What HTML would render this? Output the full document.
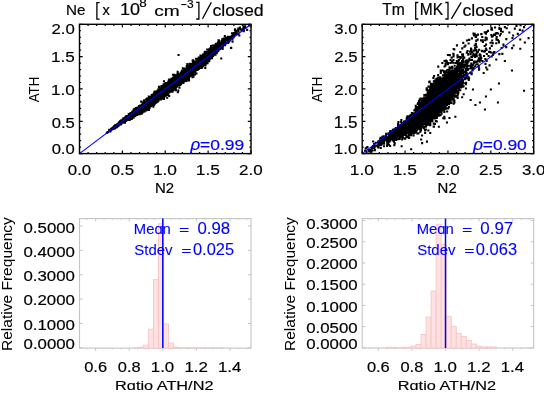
<!DOCTYPE html><html><head><meta charset="utf-8"><style>html,body{margin:0;padding:0;background:#fff;overflow:hidden}svg{display:block;will-change:transform}</style></head><body><svg width="544" height="394" viewBox="0 0 544 394" font-family='"Liberation Sans", sans-serif'>
<rect width="544" height="394" fill="#fff"/>
<path d="M106.5 131.2h2.1v2.1h-2.1zM106.9 130.9h2.1v2.1h-2.1zM108.1 129.5h2.1v2.1h-2.1zM108.2 130.2h2.1v2.1h-2.1zM108.4 129.9h2.1v2.1h-2.1zM108.2 128.8h2.1v2.1h-2.1zM108.6 130.0h2.1v2.1h-2.1zM108.5 129.4h2.1v2.1h-2.1zM108.8 129.7h2.1v2.1h-2.1zM109.0 129.6h2.1v2.1h-2.1zM109.2 129.0h2.1v2.1h-2.1zM109.3 130.5h2.1v2.1h-2.1zM109.3 129.8h2.1v2.1h-2.1zM109.7 129.4h2.1v2.1h-2.1zM110.1 128.0h2.1v2.1h-2.1zM110.1 128.4h2.1v2.1h-2.1zM110.0 128.7h2.1v2.1h-2.1zM110.5 128.1h2.1v2.1h-2.1zM110.7 128.3h2.1v2.1h-2.1zM110.7 128.2h2.1v2.1h-2.1zM110.9 128.0h2.1v2.1h-2.1zM110.8 127.4h2.1v2.1h-2.1zM110.7 128.3h2.1v2.1h-2.1zM111.0 128.1h2.1v2.1h-2.1zM111.4 126.9h2.1v2.1h-2.1zM111.2 128.2h2.1v2.1h-2.1zM111.6 127.0h2.1v2.1h-2.1zM111.9 127.3h2.1v2.1h-2.1zM111.8 128.0h2.1v2.1h-2.1zM111.8 127.9h2.1v2.1h-2.1zM112.1 126.5h2.1v2.1h-2.1zM112.4 127.2h2.1v2.1h-2.1zM112.5 127.6h2.1v2.1h-2.1zM112.5 126.3h2.1v2.1h-2.1zM112.5 127.6h2.1v2.1h-2.1zM112.5 127.1h2.1v2.1h-2.1zM112.8 127.7h2.1v2.1h-2.1zM112.8 126.6h2.1v2.1h-2.1zM112.9 127.4h2.1v2.1h-2.1zM112.8 126.8h2.1v2.1h-2.1zM112.9 126.1h2.1v2.1h-2.1zM112.7 126.6h2.1v2.1h-2.1zM113.0 125.8h2.1v2.1h-2.1zM113.0 126.9h2.1v2.1h-2.1zM113.0 127.7h2.1v2.1h-2.1zM113.2 125.3h2.1v2.1h-2.1zM113.4 126.2h2.1v2.1h-2.1zM113.2 125.6h2.1v2.1h-2.1zM113.2 125.5h2.1v2.1h-2.1zM113.3 127.5h2.1v2.1h-2.1zM113.5 126.6h2.1v2.1h-2.1zM113.5 125.8h2.1v2.1h-2.1zM113.5 125.1h2.1v2.1h-2.1zM113.5 127.0h2.1v2.1h-2.1zM113.5 127.0h2.1v2.1h-2.1zM114.0 127.1h2.1v2.1h-2.1zM114.1 124.9h2.1v2.1h-2.1zM114.0 124.5h2.1v2.1h-2.1zM114.2 126.5h2.1v2.1h-2.1zM114.2 124.9h2.1v2.1h-2.1zM114.4 124.8h2.1v2.1h-2.1zM114.4 124.2h2.1v2.1h-2.1zM114.2 126.1h2.1v2.1h-2.1zM114.3 125.6h2.1v2.1h-2.1zM114.4 126.0h2.1v2.1h-2.1zM114.5 125.5h2.1v2.1h-2.1zM114.6 125.4h2.1v2.1h-2.1zM114.5 124.3h2.1v2.1h-2.1zM114.6 125.1h2.1v2.1h-2.1zM114.7 126.0h2.1v2.1h-2.1zM114.9 126.2h2.1v2.1h-2.1zM115.0 126.3h2.1v2.1h-2.1zM115.0 125.2h2.1v2.1h-2.1zM115.1 124.1h2.1v2.1h-2.1zM115.4 124.9h2.1v2.1h-2.1zM115.5 125.3h2.1v2.1h-2.1zM115.8 126.1h2.1v2.1h-2.1zM115.9 125.8h2.1v2.1h-2.1zM115.8 124.2h2.1v2.1h-2.1zM115.9 125.2h2.1v2.1h-2.1zM116.1 123.4h2.1v2.1h-2.1zM116.1 124.1h2.1v2.1h-2.1zM116.4 125.0h2.1v2.1h-2.1zM116.4 125.0h2.1v2.1h-2.1zM116.4 124.7h2.1v2.1h-2.1zM116.4 124.2h2.1v2.1h-2.1zM116.5 124.1h2.1v2.1h-2.1zM116.6 123.7h2.1v2.1h-2.1zM116.5 123.1h2.1v2.1h-2.1zM116.7 123.9h2.1v2.1h-2.1zM116.6 124.8h2.1v2.1h-2.1zM116.9 125.2h2.1v2.1h-2.1zM116.9 123.5h2.1v2.1h-2.1zM116.9 123.2h2.1v2.1h-2.1zM116.7 124.1h2.1v2.1h-2.1zM116.7 123.9h2.1v2.1h-2.1zM117.0 122.6h2.1v2.1h-2.1zM117.1 122.6h2.1v2.1h-2.1zM117.0 124.9h2.1v2.1h-2.1zM117.4 123.6h2.1v2.1h-2.1zM117.5 124.7h2.1v2.1h-2.1zM117.5 124.3h2.1v2.1h-2.1zM117.6 122.4h2.1v2.1h-2.1zM117.8 123.0h2.1v2.1h-2.1zM117.8 123.3h2.1v2.1h-2.1zM117.8 123.0h2.1v2.1h-2.1zM118.0 121.6h2.1v2.1h-2.1zM118.2 123.6h2.1v2.1h-2.1zM118.2 123.5h2.1v2.1h-2.1zM118.3 122.0h2.1v2.1h-2.1zM118.3 121.6h2.1v2.1h-2.1zM118.2 122.7h2.1v2.1h-2.1zM118.6 123.5h2.1v2.1h-2.1zM118.5 120.9h2.1v2.1h-2.1zM118.7 121.7h2.1v2.1h-2.1zM118.6 122.7h2.1v2.1h-2.1zM118.5 122.9h2.1v2.1h-2.1zM118.7 122.1h2.1v2.1h-2.1zM118.5 123.6h2.1v2.1h-2.1zM118.6 122.7h2.1v2.1h-2.1zM118.8 122.5h2.1v2.1h-2.1zM118.9 120.6h2.1v2.1h-2.1zM118.7 122.0h2.1v2.1h-2.1zM118.9 123.3h2.1v2.1h-2.1zM118.7 121.2h2.1v2.1h-2.1zM118.9 123.3h2.1v2.1h-2.1zM118.8 122.7h2.1v2.1h-2.1zM119.1 121.3h2.1v2.1h-2.1zM119.1 121.9h2.1v2.1h-2.1zM119.3 121.0h2.1v2.1h-2.1zM119.4 122.8h2.1v2.1h-2.1zM119.4 121.4h2.1v2.1h-2.1zM119.5 120.1h2.1v2.1h-2.1zM119.6 122.5h2.1v2.1h-2.1zM119.6 120.6h2.1v2.1h-2.1zM119.6 120.0h2.1v2.1h-2.1zM119.5 121.8h2.1v2.1h-2.1zM119.7 122.9h2.1v2.1h-2.1zM119.5 120.3h2.1v2.1h-2.1zM119.8 120.4h2.1v2.1h-2.1zM119.8 119.8h2.1v2.1h-2.1zM119.8 123.5h2.1v2.1h-2.1zM119.9 121.2h2.1v2.1h-2.1zM119.8 121.9h2.1v2.1h-2.1zM120.2 122.2h2.1v2.1h-2.1zM120.0 120.5h2.1v2.1h-2.1zM120.1 120.0h2.1v2.1h-2.1zM120.0 121.1h2.1v2.1h-2.1zM120.1 122.9h2.1v2.1h-2.1zM120.4 122.1h2.1v2.1h-2.1zM120.2 120.9h2.1v2.1h-2.1zM120.4 120.3h2.1v2.1h-2.1zM120.4 119.2h2.1v2.1h-2.1zM120.6 121.0h2.1v2.1h-2.1zM120.5 120.5h2.1v2.1h-2.1zM120.7 120.2h2.1v2.1h-2.1zM120.5 121.0h2.1v2.1h-2.1zM120.5 120.0h2.1v2.1h-2.1zM120.9 119.8h2.1v2.1h-2.1zM120.8 120.6h2.1v2.1h-2.1zM121.0 120.4h2.1v2.1h-2.1zM121.1 119.7h2.1v2.1h-2.1zM121.1 120.4h2.1v2.1h-2.1zM121.0 120.2h2.1v2.1h-2.1zM121.0 120.9h2.1v2.1h-2.1zM121.0 119.5h2.1v2.1h-2.1zM121.2 120.4h2.1v2.1h-2.1zM121.7 120.8h2.1v2.1h-2.1zM121.7 121.5h2.1v2.1h-2.1zM121.6 121.4h2.1v2.1h-2.1zM121.5 120.7h2.1v2.1h-2.1zM121.6 118.6h2.1v2.1h-2.1zM121.6 121.3h2.1v2.1h-2.1zM121.8 118.8h2.1v2.1h-2.1zM121.9 119.3h2.1v2.1h-2.1zM121.9 120.6h2.1v2.1h-2.1zM121.8 120.6h2.1v2.1h-2.1zM121.8 120.3h2.1v2.1h-2.1zM121.7 121.3h2.1v2.1h-2.1zM122.0 120.4h2.1v2.1h-2.1zM122.1 119.6h2.1v2.1h-2.1zM122.4 118.8h2.1v2.1h-2.1zM122.3 117.3h2.1v2.1h-2.1zM122.2 119.5h2.1v2.1h-2.1zM122.4 120.7h2.1v2.1h-2.1zM122.6 120.9h2.1v2.1h-2.1zM122.5 120.0h2.1v2.1h-2.1zM122.6 119.9h2.1v2.1h-2.1zM122.7 120.4h2.1v2.1h-2.1zM122.9 119.8h2.1v2.1h-2.1zM122.9 118.7h2.1v2.1h-2.1zM122.8 117.7h2.1v2.1h-2.1zM122.7 120.7h2.1v2.1h-2.1zM122.9 119.9h2.1v2.1h-2.1zM122.9 120.0h2.1v2.1h-2.1zM122.8 119.0h2.1v2.1h-2.1zM122.9 120.6h2.1v2.1h-2.1zM123.1 118.5h2.1v2.1h-2.1zM123.0 120.1h2.1v2.1h-2.1zM123.4 120.4h2.1v2.1h-2.1zM123.3 121.7h2.1v2.1h-2.1zM123.4 121.3h2.1v2.1h-2.1zM123.2 119.2h2.1v2.1h-2.1zM123.7 119.6h2.1v2.1h-2.1zM123.6 118.0h2.1v2.1h-2.1zM123.6 118.8h2.1v2.1h-2.1zM123.7 119.1h2.1v2.1h-2.1zM123.9 117.5h2.1v2.1h-2.1zM123.8 118.3h2.1v2.1h-2.1zM123.9 121.7h2.1v2.1h-2.1zM123.8 119.9h2.1v2.1h-2.1zM123.7 118.7h2.1v2.1h-2.1zM123.8 119.6h2.1v2.1h-2.1zM124.2 119.0h2.1v2.1h-2.1zM124.2 119.3h2.1v2.1h-2.1zM124.0 118.2h2.1v2.1h-2.1zM124.0 116.6h2.1v2.1h-2.1zM124.0 119.1h2.1v2.1h-2.1zM124.2 117.6h2.1v2.1h-2.1zM124.2 118.1h2.1v2.1h-2.1zM124.2 116.7h2.1v2.1h-2.1zM124.4 118.7h2.1v2.1h-2.1zM124.3 118.3h2.1v2.1h-2.1zM124.4 118.0h2.1v2.1h-2.1zM124.2 118.4h2.1v2.1h-2.1zM124.4 117.7h2.1v2.1h-2.1zM124.2 117.7h2.1v2.1h-2.1zM124.5 118.2h2.1v2.1h-2.1zM124.5 118.0h2.1v2.1h-2.1zM124.5 118.4h2.1v2.1h-2.1zM124.6 117.7h2.1v2.1h-2.1zM124.9 118.1h2.1v2.1h-2.1zM124.7 117.5h2.1v2.1h-2.1zM124.9 119.8h2.1v2.1h-2.1zM124.8 115.7h2.1v2.1h-2.1zM124.7 117.3h2.1v2.1h-2.1zM124.9 117.3h2.1v2.1h-2.1zM124.9 118.8h2.1v2.1h-2.1zM125.2 116.3h2.1v2.1h-2.1zM125.1 118.4h2.1v2.1h-2.1zM125.1 117.0h2.1v2.1h-2.1zM125.2 115.4h2.1v2.1h-2.1zM125.2 118.6h2.1v2.1h-2.1zM125.0 117.8h2.1v2.1h-2.1zM125.1 118.3h2.1v2.1h-2.1zM125.2 117.9h2.1v2.1h-2.1zM125.2 118.6h2.1v2.1h-2.1zM125.4 117.5h2.1v2.1h-2.1zM125.3 116.8h2.1v2.1h-2.1zM125.3 117.8h2.1v2.1h-2.1zM125.4 116.9h2.1v2.1h-2.1zM125.2 118.4h2.1v2.1h-2.1zM125.2 116.9h2.1v2.1h-2.1zM125.4 117.6h2.1v2.1h-2.1zM125.7 116.9h2.1v2.1h-2.1zM125.5 115.0h2.1v2.1h-2.1zM125.5 115.8h2.1v2.1h-2.1zM125.5 117.1h2.1v2.1h-2.1zM125.7 117.6h2.1v2.1h-2.1zM125.7 119.2h2.1v2.1h-2.1zM125.8 117.6h2.1v2.1h-2.1zM125.7 118.9h2.1v2.1h-2.1zM125.8 116.8h2.1v2.1h-2.1zM125.8 118.5h2.1v2.1h-2.1zM126.2 117.0h2.1v2.1h-2.1zM126.2 117.5h2.1v2.1h-2.1zM126.2 117.5h2.1v2.1h-2.1zM126.4 118.0h2.1v2.1h-2.1zM126.2 115.7h2.1v2.1h-2.1zM126.5 117.0h2.1v2.1h-2.1zM126.6 116.6h2.1v2.1h-2.1zM126.7 115.3h2.1v2.1h-2.1zM126.7 116.7h2.1v2.1h-2.1zM126.6 117.9h2.1v2.1h-2.1zM126.6 115.6h2.1v2.1h-2.1zM126.9 114.9h2.1v2.1h-2.1zM126.8 118.0h2.1v2.1h-2.1zM126.8 116.6h2.1v2.1h-2.1zM126.8 118.4h2.1v2.1h-2.1zM126.7 117.0h2.1v2.1h-2.1zM126.8 115.8h2.1v2.1h-2.1zM127.2 116.5h2.1v2.1h-2.1zM127.1 117.8h2.1v2.1h-2.1zM127.0 116.0h2.1v2.1h-2.1zM127.1 115.6h2.1v2.1h-2.1zM127.4 116.8h2.1v2.1h-2.1zM127.2 117.3h2.1v2.1h-2.1zM127.4 115.4h2.1v2.1h-2.1zM127.2 116.8h2.1v2.1h-2.1zM127.3 116.3h2.1v2.1h-2.1zM127.4 115.5h2.1v2.1h-2.1zM127.3 115.7h2.1v2.1h-2.1zM127.5 117.1h2.1v2.1h-2.1zM127.7 116.0h2.1v2.1h-2.1zM127.5 116.8h2.1v2.1h-2.1zM127.6 116.9h2.1v2.1h-2.1zM127.5 116.1h2.1v2.1h-2.1zM127.6 117.5h2.1v2.1h-2.1zM127.7 113.1h2.1v2.1h-2.1zM127.5 117.0h2.1v2.1h-2.1zM127.7 114.7h2.1v2.1h-2.1zM127.8 115.5h2.1v2.1h-2.1zM127.7 116.6h2.1v2.1h-2.1zM127.7 114.9h2.1v2.1h-2.1zM127.9 116.4h2.1v2.1h-2.1zM127.9 116.4h2.1v2.1h-2.1zM127.7 115.5h2.1v2.1h-2.1zM127.7 118.7h2.1v2.1h-2.1zM127.8 116.5h2.1v2.1h-2.1zM127.7 118.3h2.1v2.1h-2.1zM127.7 117.3h2.1v2.1h-2.1zM127.8 115.1h2.1v2.1h-2.1zM128.0 114.5h2.1v2.1h-2.1zM128.2 117.8h2.1v2.1h-2.1zM128.0 114.5h2.1v2.1h-2.1zM128.0 116.7h2.1v2.1h-2.1zM128.0 114.0h2.1v2.1h-2.1zM128.0 116.2h2.1v2.1h-2.1zM128.1 115.4h2.1v2.1h-2.1zM128.1 115.7h2.1v2.1h-2.1zM128.4 115.7h2.1v2.1h-2.1zM128.4 118.8h2.1v2.1h-2.1zM128.3 117.1h2.1v2.1h-2.1zM128.3 114.1h2.1v2.1h-2.1zM128.4 114.4h2.1v2.1h-2.1zM128.2 115.1h2.1v2.1h-2.1zM128.4 116.9h2.1v2.1h-2.1zM128.4 114.5h2.1v2.1h-2.1zM128.6 113.9h2.1v2.1h-2.1zM128.5 116.7h2.1v2.1h-2.1zM128.6 117.0h2.1v2.1h-2.1zM128.5 114.5h2.1v2.1h-2.1zM128.5 114.2h2.1v2.1h-2.1zM128.5 115.3h2.1v2.1h-2.1zM128.7 114.4h2.1v2.1h-2.1zM128.9 118.0h2.1v2.1h-2.1zM128.8 118.4h2.1v2.1h-2.1zM128.7 113.3h2.1v2.1h-2.1zM128.8 115.7h2.1v2.1h-2.1zM128.8 118.7h2.1v2.1h-2.1zM128.8 116.3h2.1v2.1h-2.1zM128.9 115.5h2.1v2.1h-2.1zM128.9 114.9h2.1v2.1h-2.1zM129.1 115.6h2.1v2.1h-2.1zM129.1 115.7h2.1v2.1h-2.1zM129.2 115.5h2.1v2.1h-2.1zM129.0 115.2h2.1v2.1h-2.1zM129.0 115.0h2.1v2.1h-2.1zM129.3 113.9h2.1v2.1h-2.1zM129.3 112.2h2.1v2.1h-2.1zM129.3 114.8h2.1v2.1h-2.1zM129.3 116.3h2.1v2.1h-2.1zM129.4 115.7h2.1v2.1h-2.1zM129.3 113.1h2.1v2.1h-2.1zM129.6 112.6h2.1v2.1h-2.1zM129.5 113.6h2.1v2.1h-2.1zM129.7 114.5h2.1v2.1h-2.1zM129.7 114.4h2.1v2.1h-2.1zM129.5 115.4h2.1v2.1h-2.1zM129.5 116.2h2.1v2.1h-2.1zM129.7 114.0h2.1v2.1h-2.1zM129.6 113.6h2.1v2.1h-2.1zM129.5 112.5h2.1v2.1h-2.1zM129.8 114.5h2.1v2.1h-2.1zM129.7 112.0h2.1v2.1h-2.1zM129.9 114.3h2.1v2.1h-2.1zM129.8 113.4h2.1v2.1h-2.1zM129.9 113.7h2.1v2.1h-2.1zM129.9 114.8h2.1v2.1h-2.1zM129.9 115.4h2.1v2.1h-2.1zM129.8 115.8h2.1v2.1h-2.1zM129.7 114.0h2.1v2.1h-2.1zM130.2 115.7h2.1v2.1h-2.1zM130.0 114.3h2.1v2.1h-2.1zM130.2 114.0h2.1v2.1h-2.1zM130.2 113.1h2.1v2.1h-2.1zM130.0 115.0h2.1v2.1h-2.1zM130.0 114.1h2.1v2.1h-2.1zM130.0 115.3h2.1v2.1h-2.1zM130.2 116.8h2.1v2.1h-2.1zM130.3 115.9h2.1v2.1h-2.1zM130.2 116.0h2.1v2.1h-2.1zM130.4 115.8h2.1v2.1h-2.1zM130.2 116.2h2.1v2.1h-2.1zM130.3 115.2h2.1v2.1h-2.1zM130.3 112.0h2.1v2.1h-2.1zM130.4 114.0h2.1v2.1h-2.1zM130.6 114.6h2.1v2.1h-2.1zM130.5 113.1h2.1v2.1h-2.1zM130.5 115.2h2.1v2.1h-2.1zM130.5 113.4h2.1v2.1h-2.1zM130.6 112.7h2.1v2.1h-2.1zM130.5 114.3h2.1v2.1h-2.1zM130.7 115.1h2.1v2.1h-2.1zM130.7 113.1h2.1v2.1h-2.1zM130.5 114.5h2.1v2.1h-2.1zM130.6 113.9h2.1v2.1h-2.1zM130.7 118.0h2.1v2.1h-2.1zM130.9 114.4h2.1v2.1h-2.1zM130.9 115.3h2.1v2.1h-2.1zM130.9 116.0h2.1v2.1h-2.1zM130.8 114.1h2.1v2.1h-2.1zM130.9 111.7h2.1v2.1h-2.1zM130.7 112.3h2.1v2.1h-2.1zM131.1 113.9h2.1v2.1h-2.1zM131.0 114.9h2.1v2.1h-2.1zM131.1 113.6h2.1v2.1h-2.1zM131.0 114.8h2.1v2.1h-2.1zM131.0 111.4h2.1v2.1h-2.1zM131.1 115.3h2.1v2.1h-2.1zM131.1 112.8h2.1v2.1h-2.1zM131.1 114.5h2.1v2.1h-2.1zM131.4 116.1h2.1v2.1h-2.1zM131.4 113.5h2.1v2.1h-2.1zM131.3 113.2h2.1v2.1h-2.1zM131.2 111.2h2.1v2.1h-2.1zM131.6 112.6h2.1v2.1h-2.1zM131.6 110.6h2.1v2.1h-2.1zM131.5 111.4h2.1v2.1h-2.1zM131.7 110.9h2.1v2.1h-2.1zM131.6 113.6h2.1v2.1h-2.1zM131.5 114.0h2.1v2.1h-2.1zM131.5 116.3h2.1v2.1h-2.1zM131.7 111.1h2.1v2.1h-2.1zM131.7 112.3h2.1v2.1h-2.1zM131.9 112.2h2.1v2.1h-2.1zM131.9 114.1h2.1v2.1h-2.1zM131.8 114.0h2.1v2.1h-2.1zM131.7 110.6h2.1v2.1h-2.1zM131.8 112.7h2.1v2.1h-2.1zM131.9 113.7h2.1v2.1h-2.1zM132.1 111.5h2.1v2.1h-2.1zM132.0 112.8h2.1v2.1h-2.1zM132.1 112.9h2.1v2.1h-2.1zM132.2 115.8h2.1v2.1h-2.1zM132.1 114.9h2.1v2.1h-2.1zM132.1 112.9h2.1v2.1h-2.1zM132.2 114.7h2.1v2.1h-2.1zM132.0 111.9h2.1v2.1h-2.1zM132.1 112.5h2.1v2.1h-2.1zM132.0 114.4h2.1v2.1h-2.1zM132.0 111.2h2.1v2.1h-2.1zM132.2 112.5h2.1v2.1h-2.1zM132.0 111.1h2.1v2.1h-2.1zM132.1 113.1h2.1v2.1h-2.1zM132.3 113.3h2.1v2.1h-2.1zM132.4 113.2h2.1v2.1h-2.1zM132.3 113.7h2.1v2.1h-2.1zM132.4 111.9h2.1v2.1h-2.1zM132.4 112.2h2.1v2.1h-2.1zM132.2 110.3h2.1v2.1h-2.1zM132.3 112.2h2.1v2.1h-2.1zM132.6 110.4h2.1v2.1h-2.1zM132.6 114.9h2.1v2.1h-2.1zM132.7 111.6h2.1v2.1h-2.1zM132.6 108.4h2.1v2.1h-2.1zM132.5 116.7h2.1v2.1h-2.1zM132.6 115.0h2.1v2.1h-2.1zM132.8 110.9h2.1v2.1h-2.1zM132.9 111.9h2.1v2.1h-2.1zM132.9 111.7h2.1v2.1h-2.1zM132.9 111.7h2.1v2.1h-2.1zM132.7 113.7h2.1v2.1h-2.1zM132.7 113.5h2.1v2.1h-2.1zM132.8 111.6h2.1v2.1h-2.1zM132.8 111.1h2.1v2.1h-2.1zM132.9 112.9h2.1v2.1h-2.1zM133.0 111.0h2.1v2.1h-2.1zM133.2 110.7h2.1v2.1h-2.1zM133.1 111.7h2.1v2.1h-2.1zM133.2 111.6h2.1v2.1h-2.1zM133.2 112.9h2.1v2.1h-2.1zM133.3 110.8h2.1v2.1h-2.1zM133.2 111.2h2.1v2.1h-2.1zM133.2 111.2h2.1v2.1h-2.1zM133.3 112.0h2.1v2.1h-2.1zM133.3 112.4h2.1v2.1h-2.1zM133.3 112.9h2.1v2.1h-2.1zM133.3 109.9h2.1v2.1h-2.1zM133.4 115.2h2.1v2.1h-2.1zM133.5 113.4h2.1v2.1h-2.1zM133.6 110.0h2.1v2.1h-2.1zM133.5 113.1h2.1v2.1h-2.1zM133.6 111.8h2.1v2.1h-2.1zM133.7 107.8h2.1v2.1h-2.1zM133.5 112.0h2.1v2.1h-2.1zM133.5 110.3h2.1v2.1h-2.1zM133.5 111.3h2.1v2.1h-2.1zM133.6 114.5h2.1v2.1h-2.1zM133.7 110.1h2.1v2.1h-2.1zM133.7 110.2h2.1v2.1h-2.1zM133.9 109.9h2.1v2.1h-2.1zM133.9 111.0h2.1v2.1h-2.1zM133.8 113.0h2.1v2.1h-2.1zM133.7 112.9h2.1v2.1h-2.1zM133.8 111.6h2.1v2.1h-2.1zM133.8 110.7h2.1v2.1h-2.1zM133.8 111.9h2.1v2.1h-2.1zM134.0 110.6h2.1v2.1h-2.1zM134.0 110.9h2.1v2.1h-2.1zM134.0 113.4h2.1v2.1h-2.1zM134.0 111.1h2.1v2.1h-2.1zM134.1 111.1h2.1v2.1h-2.1zM134.1 112.0h2.1v2.1h-2.1zM134.1 113.3h2.1v2.1h-2.1zM134.0 108.1h2.1v2.1h-2.1zM134.1 110.3h2.1v2.1h-2.1zM134.2 109.9h2.1v2.1h-2.1zM134.0 110.0h2.1v2.1h-2.1zM134.0 110.3h2.1v2.1h-2.1zM134.0 110.3h2.1v2.1h-2.1zM134.1 112.1h2.1v2.1h-2.1zM134.3 111.8h2.1v2.1h-2.1zM134.3 109.9h2.1v2.1h-2.1zM134.2 110.2h2.1v2.1h-2.1zM134.4 110.5h2.1v2.1h-2.1zM134.3 115.0h2.1v2.1h-2.1zM134.3 110.8h2.1v2.1h-2.1zM134.3 110.6h2.1v2.1h-2.1zM134.2 110.6h2.1v2.1h-2.1zM134.5 111.0h2.1v2.1h-2.1zM134.5 112.0h2.1v2.1h-2.1zM134.5 109.3h2.1v2.1h-2.1zM134.7 109.7h2.1v2.1h-2.1zM134.5 111.8h2.1v2.1h-2.1zM134.5 111.6h2.1v2.1h-2.1zM134.6 110.7h2.1v2.1h-2.1zM134.6 110.3h2.1v2.1h-2.1zM134.7 111.2h2.1v2.1h-2.1zM134.8 112.1h2.1v2.1h-2.1zM134.8 112.1h2.1v2.1h-2.1zM134.8 109.6h2.1v2.1h-2.1zM134.9 109.8h2.1v2.1h-2.1zM134.7 109.7h2.1v2.1h-2.1zM134.8 111.9h2.1v2.1h-2.1zM134.8 107.8h2.1v2.1h-2.1zM134.8 113.2h2.1v2.1h-2.1zM134.8 110.4h2.1v2.1h-2.1zM134.8 109.9h2.1v2.1h-2.1zM135.2 110.7h2.1v2.1h-2.1zM135.2 111.9h2.1v2.1h-2.1zM135.2 109.6h2.1v2.1h-2.1zM135.2 111.1h2.1v2.1h-2.1zM135.0 107.1h2.1v2.1h-2.1zM135.0 112.1h2.1v2.1h-2.1zM135.1 109.9h2.1v2.1h-2.1zM135.0 112.5h2.1v2.1h-2.1zM135.2 107.9h2.1v2.1h-2.1zM135.3 111.6h2.1v2.1h-2.1zM135.4 108.7h2.1v2.1h-2.1zM135.3 111.4h2.1v2.1h-2.1zM135.2 113.1h2.1v2.1h-2.1zM135.2 110.1h2.1v2.1h-2.1zM135.3 109.5h2.1v2.1h-2.1zM135.4 112.4h2.1v2.1h-2.1zM135.3 111.1h2.1v2.1h-2.1zM135.3 109.0h2.1v2.1h-2.1zM135.4 110.1h2.1v2.1h-2.1zM135.2 109.6h2.1v2.1h-2.1zM135.3 111.3h2.1v2.1h-2.1zM135.4 110.9h2.1v2.1h-2.1zM135.2 112.7h2.1v2.1h-2.1zM135.7 109.1h2.1v2.1h-2.1zM135.6 111.0h2.1v2.1h-2.1zM135.7 110.9h2.1v2.1h-2.1zM135.5 113.0h2.1v2.1h-2.1zM135.6 109.9h2.1v2.1h-2.1zM135.5 112.3h2.1v2.1h-2.1zM135.5 109.5h2.1v2.1h-2.1zM135.6 112.5h2.1v2.1h-2.1zM135.6 109.3h2.1v2.1h-2.1zM135.6 110.0h2.1v2.1h-2.1zM135.5 113.8h2.1v2.1h-2.1zM135.7 111.1h2.1v2.1h-2.1zM135.5 110.8h2.1v2.1h-2.1zM135.7 109.4h2.1v2.1h-2.1zM135.9 108.1h2.1v2.1h-2.1zM135.8 108.5h2.1v2.1h-2.1zM135.9 111.0h2.1v2.1h-2.1zM135.9 108.8h2.1v2.1h-2.1zM135.8 110.5h2.1v2.1h-2.1zM135.7 112.3h2.1v2.1h-2.1zM135.9 112.1h2.1v2.1h-2.1zM135.9 113.0h2.1v2.1h-2.1zM135.9 109.9h2.1v2.1h-2.1zM135.8 108.7h2.1v2.1h-2.1zM136.2 113.8h2.1v2.1h-2.1zM136.1 110.6h2.1v2.1h-2.1zM136.0 111.9h2.1v2.1h-2.1zM136.1 108.5h2.1v2.1h-2.1zM136.2 110.8h2.1v2.1h-2.1zM136.1 111.4h2.1v2.1h-2.1zM136.2 113.3h2.1v2.1h-2.1zM136.0 109.2h2.1v2.1h-2.1zM136.1 111.3h2.1v2.1h-2.1zM136.1 110.7h2.1v2.1h-2.1zM136.2 108.5h2.1v2.1h-2.1zM136.1 110.2h2.1v2.1h-2.1zM136.3 109.7h2.1v2.1h-2.1zM136.3 110.7h2.1v2.1h-2.1zM136.4 108.6h2.1v2.1h-2.1zM136.4 109.2h2.1v2.1h-2.1zM136.4 110.0h2.1v2.1h-2.1zM136.3 109.2h2.1v2.1h-2.1zM136.4 109.9h2.1v2.1h-2.1zM136.4 109.0h2.1v2.1h-2.1zM136.3 113.5h2.1v2.1h-2.1zM136.6 108.8h2.1v2.1h-2.1zM136.5 109.3h2.1v2.1h-2.1zM136.5 108.7h2.1v2.1h-2.1zM136.5 110.9h2.1v2.1h-2.1zM136.5 112.6h2.1v2.1h-2.1zM136.6 106.6h2.1v2.1h-2.1zM136.6 109.7h2.1v2.1h-2.1zM136.6 109.2h2.1v2.1h-2.1zM136.7 110.7h2.1v2.1h-2.1zM136.7 108.2h2.1v2.1h-2.1zM136.6 109.7h2.1v2.1h-2.1zM136.7 108.1h2.1v2.1h-2.1zM136.8 108.7h2.1v2.1h-2.1zM136.9 108.8h2.1v2.1h-2.1zM136.7 107.1h2.1v2.1h-2.1zM136.7 109.9h2.1v2.1h-2.1zM136.8 107.6h2.1v2.1h-2.1zM136.8 107.7h2.1v2.1h-2.1zM136.9 111.3h2.1v2.1h-2.1zM136.9 108.5h2.1v2.1h-2.1zM137.0 110.3h2.1v2.1h-2.1zM137.0 109.4h2.1v2.1h-2.1zM137.1 108.1h2.1v2.1h-2.1zM137.0 111.0h2.1v2.1h-2.1zM137.1 108.6h2.1v2.1h-2.1zM137.0 108.8h2.1v2.1h-2.1zM137.0 107.3h2.1v2.1h-2.1zM137.2 108.1h2.1v2.1h-2.1zM137.0 110.8h2.1v2.1h-2.1zM137.1 106.8h2.1v2.1h-2.1zM137.0 109.5h2.1v2.1h-2.1zM137.0 110.9h2.1v2.1h-2.1zM137.1 109.0h2.1v2.1h-2.1zM137.3 109.4h2.1v2.1h-2.1zM137.2 110.2h2.1v2.1h-2.1zM137.4 106.7h2.1v2.1h-2.1zM137.2 111.1h2.1v2.1h-2.1zM137.2 111.8h2.1v2.1h-2.1zM137.4 107.4h2.1v2.1h-2.1zM137.6 113.0h2.1v2.1h-2.1zM137.5 109.6h2.1v2.1h-2.1zM137.5 108.0h2.1v2.1h-2.1zM137.6 109.4h2.1v2.1h-2.1zM137.6 107.4h2.1v2.1h-2.1zM137.9 107.8h2.1v2.1h-2.1zM137.9 109.0h2.1v2.1h-2.1zM137.8 108.5h2.1v2.1h-2.1zM137.9 107.7h2.1v2.1h-2.1zM137.9 106.9h2.1v2.1h-2.1zM137.9 109.2h2.1v2.1h-2.1zM137.8 106.1h2.1v2.1h-2.1zM137.9 109.3h2.1v2.1h-2.1zM137.9 109.1h2.1v2.1h-2.1zM137.7 108.0h2.1v2.1h-2.1zM137.8 107.3h2.1v2.1h-2.1zM137.7 106.7h2.1v2.1h-2.1zM137.9 112.4h2.1v2.1h-2.1zM137.9 106.7h2.1v2.1h-2.1zM137.7 111.9h2.1v2.1h-2.1zM137.9 110.1h2.1v2.1h-2.1zM138.0 112.7h2.1v2.1h-2.1zM138.1 107.6h2.1v2.1h-2.1zM138.1 105.0h2.1v2.1h-2.1zM138.1 108.7h2.1v2.1h-2.1zM138.0 108.7h2.1v2.1h-2.1zM138.0 112.4h2.1v2.1h-2.1zM138.0 108.4h2.1v2.1h-2.1zM138.0 108.9h2.1v2.1h-2.1zM138.2 109.9h2.1v2.1h-2.1zM138.1 111.7h2.1v2.1h-2.1zM138.3 106.3h2.1v2.1h-2.1zM138.3 110.8h2.1v2.1h-2.1zM138.3 110.5h2.1v2.1h-2.1zM138.4 108.5h2.1v2.1h-2.1zM138.3 107.4h2.1v2.1h-2.1zM138.3 108.3h2.1v2.1h-2.1zM138.4 109.5h2.1v2.1h-2.1zM138.4 110.0h2.1v2.1h-2.1zM138.5 108.7h2.1v2.1h-2.1zM138.7 105.8h2.1v2.1h-2.1zM138.7 110.5h2.1v2.1h-2.1zM138.5 113.1h2.1v2.1h-2.1zM138.5 107.7h2.1v2.1h-2.1zM138.6 108.7h2.1v2.1h-2.1zM138.6 108.1h2.1v2.1h-2.1zM138.5 109.3h2.1v2.1h-2.1zM138.7 109.7h2.1v2.1h-2.1zM138.5 110.9h2.1v2.1h-2.1zM138.7 106.7h2.1v2.1h-2.1zM138.9 109.4h2.1v2.1h-2.1zM138.8 111.7h2.1v2.1h-2.1zM138.8 104.9h2.1v2.1h-2.1zM138.8 110.8h2.1v2.1h-2.1zM138.9 107.9h2.1v2.1h-2.1zM138.9 107.8h2.1v2.1h-2.1zM138.7 106.7h2.1v2.1h-2.1zM138.9 104.9h2.1v2.1h-2.1zM138.8 107.7h2.1v2.1h-2.1zM138.7 107.2h2.1v2.1h-2.1zM138.7 109.4h2.1v2.1h-2.1zM138.8 105.7h2.1v2.1h-2.1zM139.1 105.2h2.1v2.1h-2.1zM139.1 105.6h2.1v2.1h-2.1zM139.0 105.2h2.1v2.1h-2.1zM139.1 109.6h2.1v2.1h-2.1zM139.2 106.8h2.1v2.1h-2.1zM139.2 108.3h2.1v2.1h-2.1zM139.0 107.1h2.1v2.1h-2.1zM139.0 108.5h2.1v2.1h-2.1zM139.2 110.7h2.1v2.1h-2.1zM139.2 106.9h2.1v2.1h-2.1zM139.1 107.6h2.1v2.1h-2.1zM139.0 106.8h2.1v2.1h-2.1zM139.1 109.8h2.1v2.1h-2.1zM139.1 106.3h2.1v2.1h-2.1zM139.4 109.3h2.1v2.1h-2.1zM139.3 104.4h2.1v2.1h-2.1zM139.4 110.7h2.1v2.1h-2.1zM139.4 112.3h2.1v2.1h-2.1zM139.4 109.8h2.1v2.1h-2.1zM139.3 110.0h2.1v2.1h-2.1zM139.4 105.4h2.1v2.1h-2.1zM139.2 107.9h2.1v2.1h-2.1zM139.3 106.6h2.1v2.1h-2.1zM139.2 107.0h2.1v2.1h-2.1zM139.2 109.9h2.1v2.1h-2.1zM139.4 106.5h2.1v2.1h-2.1zM139.2 107.9h2.1v2.1h-2.1zM139.3 104.6h2.1v2.1h-2.1zM139.2 107.8h2.1v2.1h-2.1zM139.5 110.6h2.1v2.1h-2.1zM139.6 108.0h2.1v2.1h-2.1zM139.5 109.2h2.1v2.1h-2.1zM139.6 109.2h2.1v2.1h-2.1zM139.6 110.8h2.1v2.1h-2.1zM139.5 106.0h2.1v2.1h-2.1zM139.7 110.0h2.1v2.1h-2.1zM139.6 107.2h2.1v2.1h-2.1zM139.5 106.5h2.1v2.1h-2.1zM139.8 108.0h2.1v2.1h-2.1zM139.7 107.2h2.1v2.1h-2.1zM139.9 105.7h2.1v2.1h-2.1zM139.8 108.5h2.1v2.1h-2.1zM139.8 107.2h2.1v2.1h-2.1zM139.8 109.7h2.1v2.1h-2.1zM139.8 107.8h2.1v2.1h-2.1zM139.9 107.1h2.1v2.1h-2.1zM139.8 108.0h2.1v2.1h-2.1zM139.9 107.4h2.1v2.1h-2.1zM139.9 106.4h2.1v2.1h-2.1zM139.9 106.9h2.1v2.1h-2.1zM140.1 109.7h2.1v2.1h-2.1zM140.0 107.2h2.1v2.1h-2.1zM140.1 106.0h2.1v2.1h-2.1zM140.0 106.9h2.1v2.1h-2.1zM140.0 106.2h2.1v2.1h-2.1zM140.1 107.9h2.1v2.1h-2.1zM140.0 107.9h2.1v2.1h-2.1zM140.1 107.6h2.1v2.1h-2.1zM140.1 106.5h2.1v2.1h-2.1zM140.2 100.6h2.1v2.1h-2.1zM140.1 107.7h2.1v2.1h-2.1zM140.4 109.6h2.1v2.1h-2.1zM140.4 107.3h2.1v2.1h-2.1zM140.3 109.2h2.1v2.1h-2.1zM140.2 107.0h2.1v2.1h-2.1zM140.3 107.6h2.1v2.1h-2.1zM140.4 107.0h2.1v2.1h-2.1zM140.4 108.2h2.1v2.1h-2.1zM140.2 109.0h2.1v2.1h-2.1zM140.5 108.0h2.1v2.1h-2.1zM140.7 106.7h2.1v2.1h-2.1zM140.7 104.9h2.1v2.1h-2.1zM140.6 104.5h2.1v2.1h-2.1zM140.6 106.5h2.1v2.1h-2.1zM140.7 104.3h2.1v2.1h-2.1zM140.7 108.9h2.1v2.1h-2.1zM140.5 109.4h2.1v2.1h-2.1zM140.6 112.6h2.1v2.1h-2.1zM140.5 108.9h2.1v2.1h-2.1zM140.6 106.1h2.1v2.1h-2.1zM140.6 105.6h2.1v2.1h-2.1zM140.5 100.7h2.1v2.1h-2.1zM140.9 107.1h2.1v2.1h-2.1zM140.9 109.5h2.1v2.1h-2.1zM140.9 108.4h2.1v2.1h-2.1zM140.8 104.8h2.1v2.1h-2.1zM140.8 107.4h2.1v2.1h-2.1zM140.8 106.6h2.1v2.1h-2.1zM140.9 107.1h2.1v2.1h-2.1zM140.9 106.6h2.1v2.1h-2.1zM140.8 108.1h2.1v2.1h-2.1zM140.9 106.2h2.1v2.1h-2.1zM141.1 104.0h2.1v2.1h-2.1zM141.0 108.7h2.1v2.1h-2.1zM141.1 104.8h2.1v2.1h-2.1zM141.1 108.2h2.1v2.1h-2.1zM141.1 107.7h2.1v2.1h-2.1zM141.2 103.6h2.1v2.1h-2.1zM141.1 105.0h2.1v2.1h-2.1zM141.3 105.8h2.1v2.1h-2.1zM141.4 104.6h2.1v2.1h-2.1zM141.4 107.0h2.1v2.1h-2.1zM141.3 107.4h2.1v2.1h-2.1zM141.4 106.1h2.1v2.1h-2.1zM141.4 105.1h2.1v2.1h-2.1zM141.4 107.7h2.1v2.1h-2.1zM141.3 111.6h2.1v2.1h-2.1zM141.6 106.5h2.1v2.1h-2.1zM141.5 105.5h2.1v2.1h-2.1zM141.6 106.4h2.1v2.1h-2.1zM141.5 103.9h2.1v2.1h-2.1zM141.6 106.1h2.1v2.1h-2.1zM141.5 108.1h2.1v2.1h-2.1zM141.7 110.3h2.1v2.1h-2.1zM141.6 107.9h2.1v2.1h-2.1zM141.6 107.0h2.1v2.1h-2.1zM141.8 102.4h2.1v2.1h-2.1zM141.8 106.5h2.1v2.1h-2.1zM141.8 106.4h2.1v2.1h-2.1zM141.7 103.1h2.1v2.1h-2.1zM141.8 107.7h2.1v2.1h-2.1zM141.8 108.1h2.1v2.1h-2.1zM141.9 106.5h2.1v2.1h-2.1zM141.9 109.6h2.1v2.1h-2.1zM141.9 110.0h2.1v2.1h-2.1zM141.9 103.9h2.1v2.1h-2.1zM142.2 104.5h2.1v2.1h-2.1zM142.0 105.1h2.1v2.1h-2.1zM142.1 106.3h2.1v2.1h-2.1zM142.1 105.0h2.1v2.1h-2.1zM142.0 108.1h2.1v2.1h-2.1zM142.1 106.0h2.1v2.1h-2.1zM142.0 106.3h2.1v2.1h-2.1zM142.1 106.2h2.1v2.1h-2.1zM142.2 107.5h2.1v2.1h-2.1zM142.1 105.3h2.1v2.1h-2.1zM142.2 108.3h2.1v2.1h-2.1zM142.1 107.1h2.1v2.1h-2.1zM142.1 106.4h2.1v2.1h-2.1zM142.0 106.4h2.1v2.1h-2.1zM142.0 107.3h2.1v2.1h-2.1zM142.2 107.2h2.1v2.1h-2.1zM142.3 105.2h2.1v2.1h-2.1zM142.3 109.8h2.1v2.1h-2.1zM142.3 103.9h2.1v2.1h-2.1zM142.4 101.4h2.1v2.1h-2.1zM142.4 106.0h2.1v2.1h-2.1zM142.4 105.2h2.1v2.1h-2.1zM142.4 105.1h2.1v2.1h-2.1zM142.3 101.7h2.1v2.1h-2.1zM142.2 106.9h2.1v2.1h-2.1zM142.4 109.2h2.1v2.1h-2.1zM142.3 102.2h2.1v2.1h-2.1zM142.4 108.3h2.1v2.1h-2.1zM142.3 104.9h2.1v2.1h-2.1zM142.4 110.6h2.1v2.1h-2.1zM142.6 106.5h2.1v2.1h-2.1zM142.6 102.6h2.1v2.1h-2.1zM142.7 103.0h2.1v2.1h-2.1zM142.7 104.7h2.1v2.1h-2.1zM142.6 104.8h2.1v2.1h-2.1zM142.7 105.9h2.1v2.1h-2.1zM142.7 108.0h2.1v2.1h-2.1zM142.6 104.8h2.1v2.1h-2.1zM142.6 106.8h2.1v2.1h-2.1zM142.9 105.8h2.1v2.1h-2.1zM142.8 104.1h2.1v2.1h-2.1zM142.8 107.0h2.1v2.1h-2.1zM142.9 105.3h2.1v2.1h-2.1zM142.9 103.9h2.1v2.1h-2.1zM142.9 107.4h2.1v2.1h-2.1zM143.0 108.1h2.1v2.1h-2.1zM143.2 104.5h2.1v2.1h-2.1zM143.1 104.8h2.1v2.1h-2.1zM143.1 99.3h2.1v2.1h-2.1zM143.2 107.3h2.1v2.1h-2.1zM143.0 107.1h2.1v2.1h-2.1zM143.2 106.9h2.1v2.1h-2.1zM143.0 107.4h2.1v2.1h-2.1zM143.0 108.9h2.1v2.1h-2.1zM143.0 105.4h2.1v2.1h-2.1zM143.1 107.3h2.1v2.1h-2.1zM143.1 103.9h2.1v2.1h-2.1zM143.2 104.6h2.1v2.1h-2.1zM143.0 107.6h2.1v2.1h-2.1zM143.0 106.3h2.1v2.1h-2.1zM143.0 102.8h2.1v2.1h-2.1zM143.1 106.1h2.1v2.1h-2.1zM143.1 105.0h2.1v2.1h-2.1zM143.1 103.7h2.1v2.1h-2.1zM143.3 107.3h2.1v2.1h-2.1zM143.3 107.5h2.1v2.1h-2.1zM143.3 106.0h2.1v2.1h-2.1zM143.4 103.9h2.1v2.1h-2.1zM143.3 106.1h2.1v2.1h-2.1zM143.2 105.5h2.1v2.1h-2.1zM143.2 107.0h2.1v2.1h-2.1zM143.4 102.6h2.1v2.1h-2.1zM143.3 105.5h2.1v2.1h-2.1zM143.2 105.0h2.1v2.1h-2.1zM143.3 102.9h2.1v2.1h-2.1zM143.5 103.3h2.1v2.1h-2.1zM143.6 102.0h2.1v2.1h-2.1zM143.6 110.3h2.1v2.1h-2.1zM143.7 105.6h2.1v2.1h-2.1zM143.7 106.4h2.1v2.1h-2.1zM143.7 106.1h2.1v2.1h-2.1zM143.5 108.7h2.1v2.1h-2.1zM143.6 105.6h2.1v2.1h-2.1zM143.5 107.6h2.1v2.1h-2.1zM143.6 102.9h2.1v2.1h-2.1zM143.5 102.2h2.1v2.1h-2.1zM143.5 108.0h2.1v2.1h-2.1zM143.5 108.1h2.1v2.1h-2.1zM143.5 106.1h2.1v2.1h-2.1zM143.5 105.5h2.1v2.1h-2.1zM143.9 109.3h2.1v2.1h-2.1zM143.9 103.7h2.1v2.1h-2.1zM143.8 104.6h2.1v2.1h-2.1zM143.8 106.7h2.1v2.1h-2.1zM143.9 106.7h2.1v2.1h-2.1zM143.9 106.1h2.1v2.1h-2.1zM143.8 101.5h2.1v2.1h-2.1zM143.9 105.8h2.1v2.1h-2.1zM143.9 102.3h2.1v2.1h-2.1zM144.2 101.6h2.1v2.1h-2.1zM144.1 101.8h2.1v2.1h-2.1zM144.2 105.5h2.1v2.1h-2.1zM144.1 104.8h2.1v2.1h-2.1zM144.0 106.8h2.1v2.1h-2.1zM144.0 106.8h2.1v2.1h-2.1zM144.0 104.0h2.1v2.1h-2.1zM144.1 106.0h2.1v2.1h-2.1zM144.0 101.7h2.1v2.1h-2.1zM144.2 109.3h2.1v2.1h-2.1zM144.4 108.3h2.1v2.1h-2.1zM144.3 103.2h2.1v2.1h-2.1zM144.3 108.6h2.1v2.1h-2.1zM144.3 102.2h2.1v2.1h-2.1zM144.4 105.7h2.1v2.1h-2.1zM144.4 101.9h2.1v2.1h-2.1zM144.3 101.7h2.1v2.1h-2.1zM144.3 104.8h2.1v2.1h-2.1zM144.3 105.8h2.1v2.1h-2.1zM144.4 101.7h2.1v2.1h-2.1zM144.3 106.9h2.1v2.1h-2.1zM144.4 102.7h2.1v2.1h-2.1zM144.4 104.7h2.1v2.1h-2.1zM144.3 105.2h2.1v2.1h-2.1zM144.5 107.1h2.1v2.1h-2.1zM144.5 105.2h2.1v2.1h-2.1zM144.6 104.3h2.1v2.1h-2.1zM144.7 102.9h2.1v2.1h-2.1zM144.5 101.1h2.1v2.1h-2.1zM144.5 101.9h2.1v2.1h-2.1zM144.6 103.2h2.1v2.1h-2.1zM144.6 103.8h2.1v2.1h-2.1zM144.6 105.0h2.1v2.1h-2.1zM144.7 105.3h2.1v2.1h-2.1zM144.7 104.6h2.1v2.1h-2.1zM144.7 102.7h2.1v2.1h-2.1zM144.8 105.1h2.1v2.1h-2.1zM144.8 103.6h2.1v2.1h-2.1zM144.9 101.9h2.1v2.1h-2.1zM144.9 104.1h2.1v2.1h-2.1zM144.9 107.9h2.1v2.1h-2.1zM144.8 102.7h2.1v2.1h-2.1zM144.9 106.4h2.1v2.1h-2.1zM144.8 106.9h2.1v2.1h-2.1zM145.1 105.3h2.1v2.1h-2.1zM145.0 106.2h2.1v2.1h-2.1zM145.1 101.5h2.1v2.1h-2.1zM145.1 106.1h2.1v2.1h-2.1zM145.1 104.8h2.1v2.1h-2.1zM145.1 107.5h2.1v2.1h-2.1zM145.1 101.2h2.1v2.1h-2.1zM145.4 101.2h2.1v2.1h-2.1zM145.2 98.2h2.1v2.1h-2.1zM145.3 100.6h2.1v2.1h-2.1zM145.3 101.5h2.1v2.1h-2.1zM145.2 103.4h2.1v2.1h-2.1zM145.3 105.0h2.1v2.1h-2.1zM145.3 103.4h2.1v2.1h-2.1zM145.4 102.1h2.1v2.1h-2.1zM145.3 104.0h2.1v2.1h-2.1zM145.3 101.6h2.1v2.1h-2.1zM145.4 103.5h2.1v2.1h-2.1zM145.3 102.3h2.1v2.1h-2.1zM145.2 109.4h2.1v2.1h-2.1zM145.3 105.4h2.1v2.1h-2.1zM145.4 101.9h2.1v2.1h-2.1zM145.7 100.6h2.1v2.1h-2.1zM145.6 105.0h2.1v2.1h-2.1zM145.5 106.5h2.1v2.1h-2.1zM145.7 103.8h2.1v2.1h-2.1zM145.5 105.1h2.1v2.1h-2.1zM145.6 102.5h2.1v2.1h-2.1zM145.5 102.7h2.1v2.1h-2.1zM145.6 102.0h2.1v2.1h-2.1zM145.6 105.5h2.1v2.1h-2.1zM145.7 104.1h2.1v2.1h-2.1zM145.7 102.9h2.1v2.1h-2.1zM145.6 102.7h2.1v2.1h-2.1zM145.5 104.7h2.1v2.1h-2.1zM145.6 104.2h2.1v2.1h-2.1zM145.5 101.7h2.1v2.1h-2.1zM145.7 107.0h2.1v2.1h-2.1zM145.9 104.6h2.1v2.1h-2.1zM145.9 101.4h2.1v2.1h-2.1zM145.9 101.1h2.1v2.1h-2.1zM145.9 102.8h2.1v2.1h-2.1zM145.8 103.8h2.1v2.1h-2.1zM145.8 104.6h2.1v2.1h-2.1zM145.9 107.0h2.1v2.1h-2.1zM145.8 104.0h2.1v2.1h-2.1zM145.8 105.2h2.1v2.1h-2.1zM146.1 104.6h2.1v2.1h-2.1zM146.2 99.4h2.1v2.1h-2.1zM146.0 108.7h2.1v2.1h-2.1zM146.0 97.6h2.1v2.1h-2.1zM146.1 106.1h2.1v2.1h-2.1zM146.0 106.4h2.1v2.1h-2.1zM146.1 105.1h2.1v2.1h-2.1zM146.1 102.6h2.1v2.1h-2.1zM146.0 103.9h2.1v2.1h-2.1zM146.2 101.0h2.1v2.1h-2.1zM146.1 104.8h2.1v2.1h-2.1zM146.0 100.7h2.1v2.1h-2.1zM146.1 102.4h2.1v2.1h-2.1zM146.1 105.2h2.1v2.1h-2.1zM146.2 101.4h2.1v2.1h-2.1zM146.4 104.9h2.1v2.1h-2.1zM146.2 102.8h2.1v2.1h-2.1zM146.4 104.7h2.1v2.1h-2.1zM146.4 101.7h2.1v2.1h-2.1zM146.3 101.8h2.1v2.1h-2.1zM146.3 100.4h2.1v2.1h-2.1zM146.6 105.2h2.1v2.1h-2.1zM146.6 101.8h2.1v2.1h-2.1zM146.5 102.1h2.1v2.1h-2.1zM146.5 101.8h2.1v2.1h-2.1zM146.6 98.4h2.1v2.1h-2.1zM146.6 104.5h2.1v2.1h-2.1zM146.6 100.1h2.1v2.1h-2.1zM146.7 101.3h2.1v2.1h-2.1zM146.5 101.1h2.1v2.1h-2.1zM146.7 104.2h2.1v2.1h-2.1zM146.6 102.5h2.1v2.1h-2.1zM146.7 102.6h2.1v2.1h-2.1zM146.7 98.9h2.1v2.1h-2.1zM146.7 103.6h2.1v2.1h-2.1zM146.8 99.8h2.1v2.1h-2.1zM146.9 99.8h2.1v2.1h-2.1zM146.7 106.5h2.1v2.1h-2.1zM146.9 102.9h2.1v2.1h-2.1zM146.8 99.4h2.1v2.1h-2.1zM146.8 103.3h2.1v2.1h-2.1zM146.8 101.7h2.1v2.1h-2.1zM146.8 98.5h2.1v2.1h-2.1zM146.8 97.5h2.1v2.1h-2.1zM146.8 99.0h2.1v2.1h-2.1zM146.9 103.0h2.1v2.1h-2.1zM146.8 102.4h2.1v2.1h-2.1zM146.7 102.0h2.1v2.1h-2.1zM147.2 103.5h2.1v2.1h-2.1zM147.1 103.3h2.1v2.1h-2.1zM147.1 99.8h2.1v2.1h-2.1zM147.2 104.4h2.1v2.1h-2.1zM147.1 100.6h2.1v2.1h-2.1zM147.0 99.9h2.1v2.1h-2.1zM147.0 101.0h2.1v2.1h-2.1zM147.1 102.0h2.1v2.1h-2.1zM147.2 103.8h2.1v2.1h-2.1zM147.1 103.6h2.1v2.1h-2.1zM147.0 102.3h2.1v2.1h-2.1zM147.2 104.2h2.1v2.1h-2.1zM147.1 102.5h2.1v2.1h-2.1zM147.4 107.1h2.1v2.1h-2.1zM147.2 102.2h2.1v2.1h-2.1zM147.3 102.0h2.1v2.1h-2.1zM147.3 103.7h2.1v2.1h-2.1zM147.4 106.0h2.1v2.1h-2.1zM147.3 99.5h2.1v2.1h-2.1zM147.3 102.3h2.1v2.1h-2.1zM147.4 101.6h2.1v2.1h-2.1zM147.3 103.3h2.1v2.1h-2.1zM147.4 102.4h2.1v2.1h-2.1zM147.6 106.4h2.1v2.1h-2.1zM147.6 97.0h2.1v2.1h-2.1zM147.6 102.0h2.1v2.1h-2.1zM147.6 102.9h2.1v2.1h-2.1zM147.6 99.6h2.1v2.1h-2.1zM147.5 98.9h2.1v2.1h-2.1zM147.5 106.8h2.1v2.1h-2.1zM147.6 101.1h2.1v2.1h-2.1zM147.5 106.5h2.1v2.1h-2.1zM147.5 103.1h2.1v2.1h-2.1zM147.7 102.0h2.1v2.1h-2.1zM147.8 108.8h2.1v2.1h-2.1zM147.9 103.8h2.1v2.1h-2.1zM147.8 102.8h2.1v2.1h-2.1zM147.7 100.7h2.1v2.1h-2.1zM147.8 95.4h2.1v2.1h-2.1zM147.9 101.3h2.1v2.1h-2.1zM147.9 102.1h2.1v2.1h-2.1zM147.7 106.1h2.1v2.1h-2.1zM147.7 98.7h2.1v2.1h-2.1zM147.8 106.0h2.1v2.1h-2.1zM147.7 101.2h2.1v2.1h-2.1zM147.7 103.4h2.1v2.1h-2.1zM147.9 96.0h2.1v2.1h-2.1zM147.8 102.0h2.1v2.1h-2.1zM147.7 101.0h2.1v2.1h-2.1zM147.9 103.1h2.1v2.1h-2.1zM147.8 101.9h2.1v2.1h-2.1zM147.9 99.1h2.1v2.1h-2.1zM148.0 100.9h2.1v2.1h-2.1zM148.1 99.8h2.1v2.1h-2.1zM148.2 103.0h2.1v2.1h-2.1zM148.0 103.2h2.1v2.1h-2.1zM148.0 101.1h2.1v2.1h-2.1zM148.0 101.7h2.1v2.1h-2.1zM148.0 100.9h2.1v2.1h-2.1zM148.1 99.0h2.1v2.1h-2.1zM148.1 104.4h2.1v2.1h-2.1zM148.1 102.3h2.1v2.1h-2.1zM148.0 107.1h2.1v2.1h-2.1zM148.0 99.9h2.1v2.1h-2.1zM148.0 101.3h2.1v2.1h-2.1zM148.0 103.5h2.1v2.1h-2.1zM148.0 101.0h2.1v2.1h-2.1zM148.2 98.3h2.1v2.1h-2.1zM148.0 99.4h2.1v2.1h-2.1zM148.4 103.2h2.1v2.1h-2.1zM148.4 104.2h2.1v2.1h-2.1zM148.4 103.5h2.1v2.1h-2.1zM148.3 100.0h2.1v2.1h-2.1zM148.4 100.8h2.1v2.1h-2.1zM148.2 101.7h2.1v2.1h-2.1zM148.4 99.1h2.1v2.1h-2.1zM148.2 102.5h2.1v2.1h-2.1zM148.4 103.5h2.1v2.1h-2.1zM148.4 100.2h2.1v2.1h-2.1zM148.2 105.8h2.1v2.1h-2.1zM148.4 100.6h2.1v2.1h-2.1zM148.4 100.8h2.1v2.1h-2.1zM148.2 100.9h2.1v2.1h-2.1zM148.3 99.7h2.1v2.1h-2.1zM148.3 102.3h2.1v2.1h-2.1zM148.4 101.3h2.1v2.1h-2.1zM148.4 105.0h2.1v2.1h-2.1zM148.6 103.0h2.1v2.1h-2.1zM148.6 101.6h2.1v2.1h-2.1zM148.6 101.5h2.1v2.1h-2.1zM148.5 102.6h2.1v2.1h-2.1zM148.7 103.1h2.1v2.1h-2.1zM148.6 99.5h2.1v2.1h-2.1zM148.7 102.2h2.1v2.1h-2.1zM148.6 107.0h2.1v2.1h-2.1zM148.7 101.9h2.1v2.1h-2.1zM148.9 101.9h2.1v2.1h-2.1zM148.9 100.8h2.1v2.1h-2.1zM148.8 104.5h2.1v2.1h-2.1zM148.9 102.3h2.1v2.1h-2.1zM148.8 101.7h2.1v2.1h-2.1zM148.8 103.8h2.1v2.1h-2.1zM148.9 102.9h2.1v2.1h-2.1zM148.9 101.9h2.1v2.1h-2.1zM148.8 101.7h2.1v2.1h-2.1zM149.1 98.5h2.1v2.1h-2.1zM149.0 103.7h2.1v2.1h-2.1zM149.1 99.2h2.1v2.1h-2.1zM149.1 97.9h2.1v2.1h-2.1zM149.0 98.4h2.1v2.1h-2.1zM149.1 100.6h2.1v2.1h-2.1zM149.1 102.9h2.1v2.1h-2.1zM149.0 103.4h2.1v2.1h-2.1zM149.0 101.3h2.1v2.1h-2.1zM149.1 98.0h2.1v2.1h-2.1zM149.0 99.3h2.1v2.1h-2.1zM149.2 99.9h2.1v2.1h-2.1zM149.3 104.0h2.1v2.1h-2.1zM149.2 101.7h2.1v2.1h-2.1zM149.4 99.4h2.1v2.1h-2.1zM149.3 102.3h2.1v2.1h-2.1zM149.3 98.8h2.1v2.1h-2.1zM149.2 98.5h2.1v2.1h-2.1zM149.3 97.2h2.1v2.1h-2.1zM149.2 101.2h2.1v2.1h-2.1zM149.3 100.4h2.1v2.1h-2.1zM149.4 100.3h2.1v2.1h-2.1zM149.3 99.6h2.1v2.1h-2.1zM149.5 102.7h2.1v2.1h-2.1zM149.5 98.9h2.1v2.1h-2.1zM149.6 97.1h2.1v2.1h-2.1zM149.7 97.7h2.1v2.1h-2.1zM149.5 99.0h2.1v2.1h-2.1zM149.5 98.1h2.1v2.1h-2.1zM149.5 103.1h2.1v2.1h-2.1zM149.6 103.4h2.1v2.1h-2.1zM149.5 101.0h2.1v2.1h-2.1zM149.7 97.9h2.1v2.1h-2.1zM149.6 100.0h2.1v2.1h-2.1zM149.7 98.7h2.1v2.1h-2.1zM149.6 103.7h2.1v2.1h-2.1zM149.6 101.0h2.1v2.1h-2.1zM149.9 98.0h2.1v2.1h-2.1zM149.9 99.5h2.1v2.1h-2.1zM149.9 98.5h2.1v2.1h-2.1zM149.8 99.1h2.1v2.1h-2.1zM149.9 101.3h2.1v2.1h-2.1zM149.9 104.1h2.1v2.1h-2.1zM149.8 96.0h2.1v2.1h-2.1zM149.8 100.1h2.1v2.1h-2.1zM149.9 100.2h2.1v2.1h-2.1zM150.0 100.5h2.1v2.1h-2.1zM150.1 98.3h2.1v2.1h-2.1zM150.1 97.4h2.1v2.1h-2.1zM150.2 100.4h2.1v2.1h-2.1zM150.0 101.2h2.1v2.1h-2.1zM150.1 95.9h2.1v2.1h-2.1zM150.1 103.9h2.1v2.1h-2.1zM150.0 100.1h2.1v2.1h-2.1zM150.0 99.8h2.1v2.1h-2.1zM150.1 102.4h2.1v2.1h-2.1zM150.1 100.1h2.1v2.1h-2.1zM150.2 98.5h2.1v2.1h-2.1zM150.0 105.1h2.1v2.1h-2.1zM150.2 97.4h2.1v2.1h-2.1zM150.2 100.1h2.1v2.1h-2.1zM150.4 100.8h2.1v2.1h-2.1zM150.3 102.4h2.1v2.1h-2.1zM150.4 102.1h2.1v2.1h-2.1zM150.4 100.6h2.1v2.1h-2.1zM150.2 100.6h2.1v2.1h-2.1zM150.4 97.1h2.1v2.1h-2.1zM150.4 99.4h2.1v2.1h-2.1zM150.4 100.2h2.1v2.1h-2.1zM150.4 98.8h2.1v2.1h-2.1zM150.5 101.0h2.1v2.1h-2.1zM150.5 99.1h2.1v2.1h-2.1zM150.7 99.9h2.1v2.1h-2.1zM150.7 99.6h2.1v2.1h-2.1zM150.5 101.8h2.1v2.1h-2.1zM150.6 94.8h2.1v2.1h-2.1zM150.5 100.4h2.1v2.1h-2.1zM150.5 96.1h2.1v2.1h-2.1zM150.6 102.3h2.1v2.1h-2.1zM150.5 95.0h2.1v2.1h-2.1zM150.7 97.2h2.1v2.1h-2.1zM150.7 95.6h2.1v2.1h-2.1zM150.5 103.4h2.1v2.1h-2.1zM150.6 96.5h2.1v2.1h-2.1zM150.5 99.8h2.1v2.1h-2.1zM150.5 98.4h2.1v2.1h-2.1zM150.5 95.4h2.1v2.1h-2.1zM150.7 102.9h2.1v2.1h-2.1zM150.9 96.7h2.1v2.1h-2.1zM150.9 97.2h2.1v2.1h-2.1zM150.7 99.2h2.1v2.1h-2.1zM150.8 98.4h2.1v2.1h-2.1zM150.8 103.9h2.1v2.1h-2.1zM150.7 93.9h2.1v2.1h-2.1zM150.8 100.2h2.1v2.1h-2.1zM150.8 101.1h2.1v2.1h-2.1zM150.7 96.8h2.1v2.1h-2.1zM150.9 97.8h2.1v2.1h-2.1zM151.2 102.6h2.1v2.1h-2.1zM151.0 102.6h2.1v2.1h-2.1zM151.2 94.0h2.1v2.1h-2.1zM151.0 97.0h2.1v2.1h-2.1zM151.1 103.3h2.1v2.1h-2.1zM151.0 98.4h2.1v2.1h-2.1zM151.0 96.0h2.1v2.1h-2.1zM151.0 99.2h2.1v2.1h-2.1zM151.2 98.8h2.1v2.1h-2.1zM151.0 99.0h2.1v2.1h-2.1zM151.2 98.0h2.1v2.1h-2.1zM151.0 98.5h2.1v2.1h-2.1zM151.2 99.0h2.1v2.1h-2.1zM151.4 97.9h2.1v2.1h-2.1zM151.2 101.1h2.1v2.1h-2.1zM151.3 100.2h2.1v2.1h-2.1zM151.2 98.8h2.1v2.1h-2.1zM151.3 95.5h2.1v2.1h-2.1zM151.3 94.7h2.1v2.1h-2.1zM151.3 99.8h2.1v2.1h-2.1zM151.3 100.8h2.1v2.1h-2.1zM151.3 100.9h2.1v2.1h-2.1zM151.4 95.9h2.1v2.1h-2.1zM151.3 101.5h2.1v2.1h-2.1zM151.3 97.7h2.1v2.1h-2.1zM151.3 99.9h2.1v2.1h-2.1zM151.5 96.5h2.1v2.1h-2.1zM151.6 98.8h2.1v2.1h-2.1zM151.7 98.8h2.1v2.1h-2.1zM151.7 98.0h2.1v2.1h-2.1zM151.6 100.9h2.1v2.1h-2.1zM151.6 102.8h2.1v2.1h-2.1zM151.7 97.8h2.1v2.1h-2.1zM151.6 97.9h2.1v2.1h-2.1zM151.7 93.4h2.1v2.1h-2.1zM151.6 98.4h2.1v2.1h-2.1zM151.6 97.7h2.1v2.1h-2.1zM151.8 96.3h2.1v2.1h-2.1zM151.8 94.8h2.1v2.1h-2.1zM151.8 101.1h2.1v2.1h-2.1zM151.9 100.0h2.1v2.1h-2.1zM151.8 100.3h2.1v2.1h-2.1zM151.9 96.4h2.1v2.1h-2.1zM151.8 95.8h2.1v2.1h-2.1zM151.8 98.8h2.1v2.1h-2.1zM151.9 98.8h2.1v2.1h-2.1zM151.9 96.5h2.1v2.1h-2.1zM151.9 98.8h2.1v2.1h-2.1zM151.7 100.2h2.1v2.1h-2.1zM151.7 99.2h2.1v2.1h-2.1zM151.8 96.1h2.1v2.1h-2.1zM151.9 93.5h2.1v2.1h-2.1zM151.9 97.9h2.1v2.1h-2.1zM151.9 98.9h2.1v2.1h-2.1zM152.2 95.0h2.1v2.1h-2.1zM152.1 97.0h2.1v2.1h-2.1zM152.1 101.8h2.1v2.1h-2.1zM152.0 99.2h2.1v2.1h-2.1zM152.1 100.1h2.1v2.1h-2.1zM152.2 100.0h2.1v2.1h-2.1zM152.2 98.3h2.1v2.1h-2.1zM152.0 98.0h2.1v2.1h-2.1zM152.0 98.7h2.1v2.1h-2.1zM152.1 100.0h2.1v2.1h-2.1zM152.2 99.4h2.1v2.1h-2.1zM152.0 99.6h2.1v2.1h-2.1zM152.1 98.7h2.1v2.1h-2.1zM152.0 96.6h2.1v2.1h-2.1zM152.3 105.7h2.1v2.1h-2.1zM152.4 98.3h2.1v2.1h-2.1zM152.3 96.9h2.1v2.1h-2.1zM152.3 97.0h2.1v2.1h-2.1zM152.4 99.1h2.1v2.1h-2.1zM152.3 99.2h2.1v2.1h-2.1zM152.3 100.1h2.1v2.1h-2.1zM152.3 98.5h2.1v2.1h-2.1zM152.3 94.8h2.1v2.1h-2.1zM152.3 99.5h2.1v2.1h-2.1zM152.7 93.9h2.1v2.1h-2.1zM152.6 96.9h2.1v2.1h-2.1zM152.7 99.9h2.1v2.1h-2.1zM152.7 96.4h2.1v2.1h-2.1zM152.5 98.4h2.1v2.1h-2.1zM152.6 96.0h2.1v2.1h-2.1zM152.6 102.6h2.1v2.1h-2.1zM152.5 100.3h2.1v2.1h-2.1zM152.6 100.7h2.1v2.1h-2.1zM152.7 94.7h2.1v2.1h-2.1zM152.5 95.4h2.1v2.1h-2.1zM152.5 100.7h2.1v2.1h-2.1zM152.5 97.6h2.1v2.1h-2.1zM152.7 98.1h2.1v2.1h-2.1zM152.8 97.1h2.1v2.1h-2.1zM152.7 94.5h2.1v2.1h-2.1zM152.8 96.5h2.1v2.1h-2.1zM152.7 99.4h2.1v2.1h-2.1zM152.8 101.3h2.1v2.1h-2.1zM152.8 96.3h2.1v2.1h-2.1zM152.8 95.7h2.1v2.1h-2.1zM152.8 101.3h2.1v2.1h-2.1zM152.8 95.7h2.1v2.1h-2.1zM152.9 102.8h2.1v2.1h-2.1zM152.7 98.0h2.1v2.1h-2.1zM152.9 95.6h2.1v2.1h-2.1zM152.8 100.2h2.1v2.1h-2.1zM152.9 101.8h2.1v2.1h-2.1zM153.0 95.6h2.1v2.1h-2.1zM153.1 96.9h2.1v2.1h-2.1zM153.1 91.5h2.1v2.1h-2.1zM153.1 98.0h2.1v2.1h-2.1zM153.0 97.6h2.1v2.1h-2.1zM153.0 103.9h2.1v2.1h-2.1zM153.2 99.4h2.1v2.1h-2.1zM153.1 96.4h2.1v2.1h-2.1zM153.1 99.0h2.1v2.1h-2.1zM153.1 94.6h2.1v2.1h-2.1zM153.2 96.1h2.1v2.1h-2.1zM153.0 93.2h2.1v2.1h-2.1zM153.3 99.6h2.1v2.1h-2.1zM153.3 101.6h2.1v2.1h-2.1zM153.4 99.0h2.1v2.1h-2.1zM153.4 99.2h2.1v2.1h-2.1zM153.4 95.1h2.1v2.1h-2.1zM153.4 95.7h2.1v2.1h-2.1zM153.3 99.0h2.1v2.1h-2.1zM153.4 101.1h2.1v2.1h-2.1zM153.4 100.8h2.1v2.1h-2.1zM153.2 103.1h2.1v2.1h-2.1zM153.4 98.1h2.1v2.1h-2.1zM153.3 98.0h2.1v2.1h-2.1zM153.4 99.8h2.1v2.1h-2.1zM153.4 97.4h2.1v2.1h-2.1zM153.4 97.2h2.1v2.1h-2.1zM153.5 98.0h2.1v2.1h-2.1zM153.5 98.3h2.1v2.1h-2.1zM153.5 94.6h2.1v2.1h-2.1zM153.5 98.6h2.1v2.1h-2.1zM153.5 95.3h2.1v2.1h-2.1zM153.6 94.8h2.1v2.1h-2.1zM153.5 97.3h2.1v2.1h-2.1zM153.7 95.5h2.1v2.1h-2.1zM153.6 102.8h2.1v2.1h-2.1zM153.5 93.5h2.1v2.1h-2.1zM153.5 99.1h2.1v2.1h-2.1zM153.5 99.7h2.1v2.1h-2.1zM153.5 92.5h2.1v2.1h-2.1zM153.6 93.0h2.1v2.1h-2.1zM153.9 96.0h2.1v2.1h-2.1zM153.9 94.2h2.1v2.1h-2.1zM153.8 98.1h2.1v2.1h-2.1zM153.9 97.6h2.1v2.1h-2.1zM153.9 97.9h2.1v2.1h-2.1zM153.8 95.8h2.1v2.1h-2.1zM153.7 100.2h2.1v2.1h-2.1zM153.9 97.5h2.1v2.1h-2.1zM153.8 90.4h2.1v2.1h-2.1zM153.8 95.5h2.1v2.1h-2.1zM153.8 96.9h2.1v2.1h-2.1zM153.9 99.3h2.1v2.1h-2.1zM153.7 96.4h2.1v2.1h-2.1zM153.7 96.5h2.1v2.1h-2.1zM154.1 97.7h2.1v2.1h-2.1zM154.1 99.8h2.1v2.1h-2.1zM154.2 99.3h2.1v2.1h-2.1zM154.1 95.4h2.1v2.1h-2.1zM154.1 96.4h2.1v2.1h-2.1zM154.1 93.6h2.1v2.1h-2.1zM154.2 100.9h2.1v2.1h-2.1zM154.1 97.9h2.1v2.1h-2.1zM154.0 100.3h2.1v2.1h-2.1zM154.1 96.1h2.1v2.1h-2.1zM154.3 96.5h2.1v2.1h-2.1zM154.3 93.6h2.1v2.1h-2.1zM154.2 94.8h2.1v2.1h-2.1zM154.4 93.5h2.1v2.1h-2.1zM154.2 97.2h2.1v2.1h-2.1zM154.2 98.7h2.1v2.1h-2.1zM154.2 99.2h2.1v2.1h-2.1zM154.4 94.8h2.1v2.1h-2.1zM154.3 97.2h2.1v2.1h-2.1zM154.3 98.0h2.1v2.1h-2.1zM154.3 95.4h2.1v2.1h-2.1zM154.4 96.2h2.1v2.1h-2.1zM154.4 101.8h2.1v2.1h-2.1zM154.3 97.1h2.1v2.1h-2.1zM154.3 98.8h2.1v2.1h-2.1zM154.7 93.0h2.1v2.1h-2.1zM154.5 99.3h2.1v2.1h-2.1zM154.6 95.9h2.1v2.1h-2.1zM154.5 97.0h2.1v2.1h-2.1zM154.5 99.3h2.1v2.1h-2.1zM154.6 99.6h2.1v2.1h-2.1zM154.5 95.3h2.1v2.1h-2.1zM154.6 99.7h2.1v2.1h-2.1zM154.5 97.4h2.1v2.1h-2.1zM154.5 96.5h2.1v2.1h-2.1zM154.5 97.6h2.1v2.1h-2.1zM154.5 93.0h2.1v2.1h-2.1zM154.6 94.5h2.1v2.1h-2.1zM154.7 96.1h2.1v2.1h-2.1zM154.5 98.0h2.1v2.1h-2.1zM154.7 95.4h2.1v2.1h-2.1zM154.7 96.5h2.1v2.1h-2.1zM154.8 99.3h2.1v2.1h-2.1zM154.9 95.1h2.1v2.1h-2.1zM154.8 95.1h2.1v2.1h-2.1zM154.9 94.5h2.1v2.1h-2.1zM154.9 95.8h2.1v2.1h-2.1zM154.8 100.8h2.1v2.1h-2.1zM154.9 93.3h2.1v2.1h-2.1zM154.9 100.3h2.1v2.1h-2.1zM154.9 93.7h2.1v2.1h-2.1zM154.7 95.7h2.1v2.1h-2.1zM154.8 98.4h2.1v2.1h-2.1zM154.7 97.9h2.1v2.1h-2.1zM155.0 94.4h2.1v2.1h-2.1zM155.0 94.8h2.1v2.1h-2.1zM155.0 99.3h2.1v2.1h-2.1zM155.1 93.6h2.1v2.1h-2.1zM155.2 91.5h2.1v2.1h-2.1zM155.2 97.0h2.1v2.1h-2.1zM155.0 93.3h2.1v2.1h-2.1zM155.1 94.9h2.1v2.1h-2.1zM155.1 98.3h2.1v2.1h-2.1zM155.0 94.1h2.1v2.1h-2.1zM155.1 98.2h2.1v2.1h-2.1zM155.4 90.6h2.1v2.1h-2.1zM155.2 96.0h2.1v2.1h-2.1zM155.2 101.4h2.1v2.1h-2.1zM155.4 94.9h2.1v2.1h-2.1zM155.3 95.9h2.1v2.1h-2.1zM155.4 97.5h2.1v2.1h-2.1zM155.3 93.9h2.1v2.1h-2.1zM155.3 96.0h2.1v2.1h-2.1zM155.4 98.2h2.1v2.1h-2.1zM155.3 96.4h2.1v2.1h-2.1zM155.2 96.9h2.1v2.1h-2.1zM155.3 95.0h2.1v2.1h-2.1zM155.4 96.6h2.1v2.1h-2.1zM155.3 96.0h2.1v2.1h-2.1zM155.3 99.5h2.1v2.1h-2.1zM155.4 97.6h2.1v2.1h-2.1zM155.7 98.7h2.1v2.1h-2.1zM155.6 95.6h2.1v2.1h-2.1zM155.6 95.4h2.1v2.1h-2.1zM155.6 94.3h2.1v2.1h-2.1zM155.6 99.7h2.1v2.1h-2.1zM155.6 98.3h2.1v2.1h-2.1zM155.5 95.5h2.1v2.1h-2.1zM155.5 92.2h2.1v2.1h-2.1zM155.5 93.8h2.1v2.1h-2.1zM155.8 96.8h2.1v2.1h-2.1zM155.9 98.0h2.1v2.1h-2.1zM155.7 99.1h2.1v2.1h-2.1zM155.8 95.6h2.1v2.1h-2.1zM155.9 98.0h2.1v2.1h-2.1zM155.9 92.8h2.1v2.1h-2.1zM155.8 95.9h2.1v2.1h-2.1zM155.9 93.7h2.1v2.1h-2.1zM155.8 96.0h2.1v2.1h-2.1zM155.8 97.4h2.1v2.1h-2.1zM155.8 98.2h2.1v2.1h-2.1zM155.8 93.0h2.1v2.1h-2.1zM155.9 98.6h2.1v2.1h-2.1zM155.8 94.3h2.1v2.1h-2.1zM156.0 95.3h2.1v2.1h-2.1zM156.0 91.7h2.1v2.1h-2.1zM156.2 95.3h2.1v2.1h-2.1zM156.0 93.2h2.1v2.1h-2.1zM156.1 94.1h2.1v2.1h-2.1zM156.1 95.0h2.1v2.1h-2.1zM156.1 95.8h2.1v2.1h-2.1zM156.3 95.9h2.1v2.1h-2.1zM156.3 93.7h2.1v2.1h-2.1zM156.2 92.5h2.1v2.1h-2.1zM156.4 96.3h2.1v2.1h-2.1zM156.2 96.2h2.1v2.1h-2.1zM156.3 94.6h2.1v2.1h-2.1zM156.4 94.0h2.1v2.1h-2.1zM156.3 100.9h2.1v2.1h-2.1zM156.4 93.1h2.1v2.1h-2.1zM156.2 94.6h2.1v2.1h-2.1zM156.3 95.7h2.1v2.1h-2.1zM156.3 92.2h2.1v2.1h-2.1zM156.3 95.4h2.1v2.1h-2.1zM156.4 99.6h2.1v2.1h-2.1zM156.2 97.5h2.1v2.1h-2.1zM156.3 96.7h2.1v2.1h-2.1zM156.4 96.5h2.1v2.1h-2.1zM156.5 92.4h2.1v2.1h-2.1zM156.7 96.6h2.1v2.1h-2.1zM156.5 93.6h2.1v2.1h-2.1zM156.5 97.4h2.1v2.1h-2.1zM156.6 98.3h2.1v2.1h-2.1zM156.5 89.8h2.1v2.1h-2.1zM156.7 95.6h2.1v2.1h-2.1zM156.6 93.1h2.1v2.1h-2.1zM156.5 91.3h2.1v2.1h-2.1zM156.5 93.4h2.1v2.1h-2.1zM156.5 94.4h2.1v2.1h-2.1zM156.6 97.5h2.1v2.1h-2.1zM156.5 91.1h2.1v2.1h-2.1zM156.8 95.8h2.1v2.1h-2.1zM156.9 98.6h2.1v2.1h-2.1zM156.8 91.3h2.1v2.1h-2.1zM156.7 91.9h2.1v2.1h-2.1zM156.8 93.7h2.1v2.1h-2.1zM156.8 93.1h2.1v2.1h-2.1zM156.9 96.4h2.1v2.1h-2.1zM156.8 93.9h2.1v2.1h-2.1zM156.8 99.1h2.1v2.1h-2.1zM157.1 92.3h2.1v2.1h-2.1zM157.2 96.8h2.1v2.1h-2.1zM157.0 95.5h2.1v2.1h-2.1zM157.1 97.0h2.1v2.1h-2.1zM157.1 94.1h2.1v2.1h-2.1zM157.1 90.7h2.1v2.1h-2.1zM157.0 99.1h2.1v2.1h-2.1zM157.0 94.1h2.1v2.1h-2.1zM157.1 98.0h2.1v2.1h-2.1zM157.1 95.6h2.1v2.1h-2.1zM157.0 96.3h2.1v2.1h-2.1zM157.1 99.2h2.1v2.1h-2.1zM157.1 95.3h2.1v2.1h-2.1zM157.2 97.3h2.1v2.1h-2.1zM157.4 89.0h2.1v2.1h-2.1zM157.4 89.5h2.1v2.1h-2.1zM157.2 90.8h2.1v2.1h-2.1zM157.4 93.0h2.1v2.1h-2.1zM157.2 94.4h2.1v2.1h-2.1zM157.4 94.1h2.1v2.1h-2.1zM157.3 94.1h2.1v2.1h-2.1zM157.4 96.1h2.1v2.1h-2.1zM157.4 93.0h2.1v2.1h-2.1zM157.2 91.2h2.1v2.1h-2.1zM157.3 91.1h2.1v2.1h-2.1zM157.3 99.8h2.1v2.1h-2.1zM157.3 88.3h2.1v2.1h-2.1zM157.2 93.9h2.1v2.1h-2.1zM157.3 98.1h2.1v2.1h-2.1zM157.3 95.6h2.1v2.1h-2.1zM157.2 92.3h2.1v2.1h-2.1zM157.3 94.3h2.1v2.1h-2.1zM157.4 96.4h2.1v2.1h-2.1zM157.2 97.5h2.1v2.1h-2.1zM157.4 91.9h2.1v2.1h-2.1zM157.7 89.9h2.1v2.1h-2.1zM157.5 95.4h2.1v2.1h-2.1zM157.5 93.0h2.1v2.1h-2.1zM157.5 95.3h2.1v2.1h-2.1zM157.5 91.4h2.1v2.1h-2.1zM157.5 93.2h2.1v2.1h-2.1zM157.6 96.7h2.1v2.1h-2.1zM157.7 93.6h2.1v2.1h-2.1zM157.5 95.8h2.1v2.1h-2.1zM157.7 95.4h2.1v2.1h-2.1zM157.5 93.2h2.1v2.1h-2.1zM157.6 90.1h2.1v2.1h-2.1zM157.5 96.7h2.1v2.1h-2.1zM157.7 94.5h2.1v2.1h-2.1zM157.5 96.7h2.1v2.1h-2.1zM157.6 88.9h2.1v2.1h-2.1zM157.5 89.9h2.1v2.1h-2.1zM157.9 92.6h2.1v2.1h-2.1zM157.9 96.8h2.1v2.1h-2.1zM157.8 93.2h2.1v2.1h-2.1zM157.7 91.3h2.1v2.1h-2.1zM157.9 85.8h2.1v2.1h-2.1zM157.8 92.5h2.1v2.1h-2.1zM157.8 88.9h2.1v2.1h-2.1zM157.9 89.1h2.1v2.1h-2.1zM157.8 96.0h2.1v2.1h-2.1zM157.9 95.7h2.1v2.1h-2.1zM157.8 89.0h2.1v2.1h-2.1zM157.7 96.2h2.1v2.1h-2.1zM157.8 95.1h2.1v2.1h-2.1zM157.9 91.8h2.1v2.1h-2.1zM158.2 93.7h2.1v2.1h-2.1zM158.2 91.2h2.1v2.1h-2.1zM158.0 94.5h2.1v2.1h-2.1zM158.1 98.4h2.1v2.1h-2.1zM158.0 92.3h2.1v2.1h-2.1zM158.1 93.8h2.1v2.1h-2.1zM158.1 97.2h2.1v2.1h-2.1zM158.0 92.1h2.1v2.1h-2.1zM158.1 91.5h2.1v2.1h-2.1zM158.0 90.9h2.1v2.1h-2.1zM158.0 94.8h2.1v2.1h-2.1zM158.0 95.1h2.1v2.1h-2.1zM158.1 93.2h2.1v2.1h-2.1zM158.4 90.7h2.1v2.1h-2.1zM158.3 92.3h2.1v2.1h-2.1zM158.2 91.0h2.1v2.1h-2.1zM158.2 90.7h2.1v2.1h-2.1zM158.3 95.3h2.1v2.1h-2.1zM158.4 92.2h2.1v2.1h-2.1zM158.2 94.7h2.1v2.1h-2.1zM158.3 90.5h2.1v2.1h-2.1zM158.3 93.7h2.1v2.1h-2.1zM158.4 89.0h2.1v2.1h-2.1zM158.2 92.3h2.1v2.1h-2.1zM158.4 92.1h2.1v2.1h-2.1zM158.6 95.4h2.1v2.1h-2.1zM158.7 92.1h2.1v2.1h-2.1zM158.5 89.9h2.1v2.1h-2.1zM158.5 93.2h2.1v2.1h-2.1zM158.7 92.8h2.1v2.1h-2.1zM158.5 96.1h2.1v2.1h-2.1zM158.6 92.2h2.1v2.1h-2.1zM158.5 92.8h2.1v2.1h-2.1zM158.5 95.2h2.1v2.1h-2.1zM158.6 91.9h2.1v2.1h-2.1zM158.6 92.8h2.1v2.1h-2.1zM158.8 91.0h2.1v2.1h-2.1zM158.7 94.6h2.1v2.1h-2.1zM158.7 94.1h2.1v2.1h-2.1zM158.7 91.5h2.1v2.1h-2.1zM158.7 93.8h2.1v2.1h-2.1zM158.9 91.0h2.1v2.1h-2.1zM158.7 89.4h2.1v2.1h-2.1zM158.9 89.3h2.1v2.1h-2.1zM158.9 90.7h2.1v2.1h-2.1zM158.8 96.8h2.1v2.1h-2.1zM158.9 89.5h2.1v2.1h-2.1zM158.9 96.2h2.1v2.1h-2.1zM158.7 96.5h2.1v2.1h-2.1zM158.8 92.5h2.1v2.1h-2.1zM158.8 92.9h2.1v2.1h-2.1zM159.0 93.6h2.1v2.1h-2.1zM159.2 87.6h2.1v2.1h-2.1zM159.1 90.7h2.1v2.1h-2.1zM159.2 88.7h2.1v2.1h-2.1zM159.0 90.3h2.1v2.1h-2.1zM159.0 92.5h2.1v2.1h-2.1zM159.0 93.7h2.1v2.1h-2.1zM159.0 95.7h2.1v2.1h-2.1zM159.0 94.9h2.1v2.1h-2.1zM159.0 96.0h2.1v2.1h-2.1zM159.0 94.4h2.1v2.1h-2.1zM159.0 91.6h2.1v2.1h-2.1zM159.2 95.6h2.1v2.1h-2.1zM159.1 91.5h2.1v2.1h-2.1zM159.2 91.1h2.1v2.1h-2.1zM159.2 90.6h2.1v2.1h-2.1zM159.4 92.5h2.1v2.1h-2.1zM159.4 89.3h2.1v2.1h-2.1zM159.3 92.7h2.1v2.1h-2.1zM159.4 94.0h2.1v2.1h-2.1zM159.3 93.3h2.1v2.1h-2.1zM159.4 87.4h2.1v2.1h-2.1zM159.3 91.8h2.1v2.1h-2.1zM159.2 94.0h2.1v2.1h-2.1zM159.2 93.5h2.1v2.1h-2.1zM159.3 95.6h2.1v2.1h-2.1zM159.2 89.3h2.1v2.1h-2.1zM159.5 94.6h2.1v2.1h-2.1zM159.6 87.7h2.1v2.1h-2.1zM159.6 92.1h2.1v2.1h-2.1zM159.5 93.7h2.1v2.1h-2.1zM159.7 93.3h2.1v2.1h-2.1zM159.5 93.6h2.1v2.1h-2.1zM159.5 91.8h2.1v2.1h-2.1zM159.6 97.0h2.1v2.1h-2.1zM159.5 96.3h2.1v2.1h-2.1zM159.7 92.1h2.1v2.1h-2.1zM159.5 89.9h2.1v2.1h-2.1zM159.5 97.8h2.1v2.1h-2.1zM159.9 89.6h2.1v2.1h-2.1zM159.9 89.3h2.1v2.1h-2.1zM159.8 92.6h2.1v2.1h-2.1zM159.9 98.5h2.1v2.1h-2.1zM159.8 94.2h2.1v2.1h-2.1zM159.7 94.3h2.1v2.1h-2.1zM159.7 88.3h2.1v2.1h-2.1zM159.9 92.1h2.1v2.1h-2.1zM159.8 89.1h2.1v2.1h-2.1zM159.9 94.2h2.1v2.1h-2.1zM159.8 91.6h2.1v2.1h-2.1zM159.9 92.3h2.1v2.1h-2.1zM159.8 92.0h2.1v2.1h-2.1zM159.8 90.6h2.1v2.1h-2.1zM159.9 88.1h2.1v2.1h-2.1zM159.8 93.8h2.1v2.1h-2.1zM159.8 88.5h2.1v2.1h-2.1zM159.9 89.0h2.1v2.1h-2.1zM159.9 91.3h2.1v2.1h-2.1zM159.8 90.4h2.1v2.1h-2.1zM159.7 93.0h2.1v2.1h-2.1zM159.9 94.8h2.1v2.1h-2.1zM160.2 94.5h2.1v2.1h-2.1zM160.0 90.1h2.1v2.1h-2.1zM160.1 91.2h2.1v2.1h-2.1zM160.0 92.7h2.1v2.1h-2.1zM160.1 87.3h2.1v2.1h-2.1zM160.2 91.0h2.1v2.1h-2.1zM160.2 96.2h2.1v2.1h-2.1zM160.0 97.8h2.1v2.1h-2.1zM160.1 91.7h2.1v2.1h-2.1zM160.1 96.9h2.1v2.1h-2.1zM160.0 90.6h2.1v2.1h-2.1zM160.1 89.8h2.1v2.1h-2.1zM160.2 86.0h2.1v2.1h-2.1zM160.2 94.5h2.1v2.1h-2.1zM160.0 91.0h2.1v2.1h-2.1zM160.1 98.2h2.1v2.1h-2.1zM160.2 92.8h2.1v2.1h-2.1zM160.3 90.6h2.1v2.1h-2.1zM160.4 85.0h2.1v2.1h-2.1zM160.4 89.6h2.1v2.1h-2.1zM160.4 94.4h2.1v2.1h-2.1zM160.4 92.5h2.1v2.1h-2.1zM160.4 89.6h2.1v2.1h-2.1zM160.3 92.8h2.1v2.1h-2.1zM160.3 86.5h2.1v2.1h-2.1zM160.4 91.0h2.1v2.1h-2.1zM160.3 93.2h2.1v2.1h-2.1zM160.4 93.6h2.1v2.1h-2.1zM160.4 89.7h2.1v2.1h-2.1zM160.5 95.1h2.1v2.1h-2.1zM160.6 93.3h2.1v2.1h-2.1zM160.7 93.4h2.1v2.1h-2.1zM160.7 92.0h2.1v2.1h-2.1zM160.6 97.9h2.1v2.1h-2.1zM160.5 91.9h2.1v2.1h-2.1zM160.5 93.0h2.1v2.1h-2.1zM160.6 86.6h2.1v2.1h-2.1zM160.6 90.1h2.1v2.1h-2.1zM160.6 89.8h2.1v2.1h-2.1zM160.6 91.5h2.1v2.1h-2.1zM160.6 92.5h2.1v2.1h-2.1zM160.7 89.6h2.1v2.1h-2.1zM160.8 86.6h2.1v2.1h-2.1zM160.7 95.1h2.1v2.1h-2.1zM160.7 90.0h2.1v2.1h-2.1zM160.9 90.0h2.1v2.1h-2.1zM160.8 88.5h2.1v2.1h-2.1zM160.8 93.9h2.1v2.1h-2.1zM160.9 90.2h2.1v2.1h-2.1zM160.9 92.0h2.1v2.1h-2.1zM160.8 86.0h2.1v2.1h-2.1zM160.8 94.6h2.1v2.1h-2.1zM160.8 92.5h2.1v2.1h-2.1zM160.7 93.0h2.1v2.1h-2.1zM160.8 94.8h2.1v2.1h-2.1zM160.8 91.0h2.1v2.1h-2.1zM160.9 90.9h2.1v2.1h-2.1zM160.7 93.4h2.1v2.1h-2.1zM160.9 92.5h2.1v2.1h-2.1zM161.0 87.7h2.1v2.1h-2.1zM161.0 90.9h2.1v2.1h-2.1zM161.2 89.9h2.1v2.1h-2.1zM161.0 88.3h2.1v2.1h-2.1zM161.0 90.3h2.1v2.1h-2.1zM161.0 88.6h2.1v2.1h-2.1zM161.1 91.4h2.1v2.1h-2.1zM161.2 91.1h2.1v2.1h-2.1zM161.1 93.3h2.1v2.1h-2.1zM161.0 90.1h2.1v2.1h-2.1zM161.0 87.7h2.1v2.1h-2.1zM161.0 87.8h2.1v2.1h-2.1zM161.0 90.7h2.1v2.1h-2.1zM161.0 95.5h2.1v2.1h-2.1zM161.0 93.6h2.1v2.1h-2.1zM161.3 94.0h2.1v2.1h-2.1zM161.4 86.5h2.1v2.1h-2.1zM161.4 88.8h2.1v2.1h-2.1zM161.2 92.1h2.1v2.1h-2.1zM161.4 87.7h2.1v2.1h-2.1zM161.2 95.3h2.1v2.1h-2.1zM161.3 94.1h2.1v2.1h-2.1zM161.2 89.6h2.1v2.1h-2.1zM161.4 89.5h2.1v2.1h-2.1zM161.4 87.4h2.1v2.1h-2.1zM161.4 87.2h2.1v2.1h-2.1zM161.4 92.2h2.1v2.1h-2.1zM161.3 92.8h2.1v2.1h-2.1zM161.2 92.1h2.1v2.1h-2.1zM161.2 91.9h2.1v2.1h-2.1zM161.3 89.6h2.1v2.1h-2.1zM161.5 90.0h2.1v2.1h-2.1zM161.5 93.8h2.1v2.1h-2.1zM161.5 92.8h2.1v2.1h-2.1zM161.6 87.9h2.1v2.1h-2.1zM161.6 91.4h2.1v2.1h-2.1zM161.6 87.2h2.1v2.1h-2.1zM161.6 88.8h2.1v2.1h-2.1zM161.5 87.4h2.1v2.1h-2.1zM161.5 87.3h2.1v2.1h-2.1zM161.6 88.9h2.1v2.1h-2.1zM161.7 88.1h2.1v2.1h-2.1zM161.5 92.4h2.1v2.1h-2.1zM161.6 93.1h2.1v2.1h-2.1zM161.5 90.3h2.1v2.1h-2.1zM161.7 87.7h2.1v2.1h-2.1zM161.5 93.1h2.1v2.1h-2.1zM161.7 85.3h2.1v2.1h-2.1zM161.9 87.4h2.1v2.1h-2.1zM161.9 90.1h2.1v2.1h-2.1zM161.8 84.8h2.1v2.1h-2.1zM161.9 87.2h2.1v2.1h-2.1zM161.7 91.9h2.1v2.1h-2.1zM161.7 93.2h2.1v2.1h-2.1zM161.7 87.6h2.1v2.1h-2.1zM161.9 88.5h2.1v2.1h-2.1zM161.8 92.9h2.1v2.1h-2.1zM161.9 89.5h2.1v2.1h-2.1zM161.7 89.3h2.1v2.1h-2.1zM161.7 92.2h2.1v2.1h-2.1zM161.9 91.1h2.1v2.1h-2.1zM161.8 93.7h2.1v2.1h-2.1zM162.0 88.0h2.1v2.1h-2.1zM162.0 89.7h2.1v2.1h-2.1zM162.1 88.5h2.1v2.1h-2.1zM162.1 90.5h2.1v2.1h-2.1zM162.1 91.1h2.1v2.1h-2.1zM162.1 96.8h2.1v2.1h-2.1zM162.2 85.4h2.1v2.1h-2.1zM162.0 93.3h2.1v2.1h-2.1zM162.2 91.6h2.1v2.1h-2.1zM162.0 88.6h2.1v2.1h-2.1zM162.1 90.0h2.1v2.1h-2.1zM162.2 89.0h2.1v2.1h-2.1zM162.0 90.7h2.1v2.1h-2.1zM162.1 93.2h2.1v2.1h-2.1zM162.0 86.4h2.1v2.1h-2.1zM162.0 94.2h2.1v2.1h-2.1zM162.1 89.5h2.1v2.1h-2.1zM162.3 89.7h2.1v2.1h-2.1zM162.3 96.2h2.1v2.1h-2.1zM162.3 94.2h2.1v2.1h-2.1zM162.4 87.8h2.1v2.1h-2.1zM162.4 94.2h2.1v2.1h-2.1zM162.4 93.5h2.1v2.1h-2.1zM162.4 92.4h2.1v2.1h-2.1zM162.3 91.4h2.1v2.1h-2.1zM162.4 90.9h2.1v2.1h-2.1zM162.2 88.0h2.1v2.1h-2.1zM162.4 88.9h2.1v2.1h-2.1zM162.3 92.4h2.1v2.1h-2.1zM162.6 88.3h2.1v2.1h-2.1zM162.7 92.0h2.1v2.1h-2.1zM162.6 89.3h2.1v2.1h-2.1zM162.5 86.9h2.1v2.1h-2.1zM162.6 94.0h2.1v2.1h-2.1zM162.6 83.2h2.1v2.1h-2.1zM162.7 87.7h2.1v2.1h-2.1zM162.6 91.3h2.1v2.1h-2.1zM162.5 89.2h2.1v2.1h-2.1zM162.6 92.2h2.1v2.1h-2.1zM162.9 94.9h2.1v2.1h-2.1zM162.9 91.9h2.1v2.1h-2.1zM162.8 93.3h2.1v2.1h-2.1zM162.8 90.1h2.1v2.1h-2.1zM162.7 92.7h2.1v2.1h-2.1zM162.8 92.1h2.1v2.1h-2.1zM162.9 93.2h2.1v2.1h-2.1zM162.9 96.5h2.1v2.1h-2.1zM162.8 89.4h2.1v2.1h-2.1zM162.7 90.8h2.1v2.1h-2.1zM162.9 89.8h2.1v2.1h-2.1zM162.9 80.2h2.1v2.1h-2.1zM162.9 86.1h2.1v2.1h-2.1zM162.8 90.1h2.1v2.1h-2.1zM162.8 91.8h2.1v2.1h-2.1zM162.8 88.4h2.1v2.1h-2.1zM162.9 93.0h2.1v2.1h-2.1zM163.2 92.7h2.1v2.1h-2.1zM163.2 91.9h2.1v2.1h-2.1zM163.0 93.2h2.1v2.1h-2.1zM163.1 91.4h2.1v2.1h-2.1zM163.1 87.6h2.1v2.1h-2.1zM163.0 89.4h2.1v2.1h-2.1zM163.1 92.2h2.1v2.1h-2.1zM163.1 88.7h2.1v2.1h-2.1zM163.0 97.9h2.1v2.1h-2.1zM163.4 88.9h2.1v2.1h-2.1zM163.2 90.2h2.1v2.1h-2.1zM163.3 92.2h2.1v2.1h-2.1zM163.3 91.4h2.1v2.1h-2.1zM163.3 89.3h2.1v2.1h-2.1zM163.4 89.6h2.1v2.1h-2.1zM163.3 94.5h2.1v2.1h-2.1zM163.3 88.0h2.1v2.1h-2.1zM163.4 90.4h2.1v2.1h-2.1zM163.3 94.0h2.1v2.1h-2.1zM163.3 90.6h2.1v2.1h-2.1zM163.2 84.1h2.1v2.1h-2.1zM163.3 90.7h2.1v2.1h-2.1zM163.3 88.6h2.1v2.1h-2.1zM163.5 84.2h2.1v2.1h-2.1zM163.6 86.5h2.1v2.1h-2.1zM163.6 92.2h2.1v2.1h-2.1zM163.6 89.0h2.1v2.1h-2.1zM163.6 87.6h2.1v2.1h-2.1zM163.7 90.4h2.1v2.1h-2.1zM163.7 86.5h2.1v2.1h-2.1zM163.5 89.7h2.1v2.1h-2.1zM163.5 83.3h2.1v2.1h-2.1zM163.7 88.1h2.1v2.1h-2.1zM163.6 87.6h2.1v2.1h-2.1zM163.5 91.0h2.1v2.1h-2.1zM163.6 91.8h2.1v2.1h-2.1zM163.5 87.1h2.1v2.1h-2.1zM163.6 93.9h2.1v2.1h-2.1zM163.7 87.7h2.1v2.1h-2.1zM163.5 83.8h2.1v2.1h-2.1zM163.7 82.7h2.1v2.1h-2.1zM163.6 93.7h2.1v2.1h-2.1zM163.7 93.7h2.1v2.1h-2.1zM163.9 88.4h2.1v2.1h-2.1zM163.8 92.5h2.1v2.1h-2.1zM163.7 89.3h2.1v2.1h-2.1zM163.9 87.1h2.1v2.1h-2.1zM163.8 90.6h2.1v2.1h-2.1zM163.8 87.6h2.1v2.1h-2.1zM163.7 92.7h2.1v2.1h-2.1zM163.9 91.8h2.1v2.1h-2.1zM163.8 89.4h2.1v2.1h-2.1zM164.1 90.2h2.1v2.1h-2.1zM164.1 93.3h2.1v2.1h-2.1zM164.0 90.1h2.1v2.1h-2.1zM164.1 84.5h2.1v2.1h-2.1zM164.2 89.3h2.1v2.1h-2.1zM164.1 91.9h2.1v2.1h-2.1zM164.1 88.2h2.1v2.1h-2.1zM164.2 92.1h2.1v2.1h-2.1zM164.0 90.8h2.1v2.1h-2.1zM164.2 90.1h2.1v2.1h-2.1zM164.0 88.4h2.1v2.1h-2.1zM164.0 87.7h2.1v2.1h-2.1zM164.2 88.3h2.1v2.1h-2.1zM164.2 88.4h2.1v2.1h-2.1zM164.3 88.8h2.1v2.1h-2.1zM164.3 93.3h2.1v2.1h-2.1zM164.2 89.6h2.1v2.1h-2.1zM164.3 91.3h2.1v2.1h-2.1zM164.2 92.1h2.1v2.1h-2.1zM164.3 86.2h2.1v2.1h-2.1zM164.4 93.6h2.1v2.1h-2.1zM164.2 90.9h2.1v2.1h-2.1zM164.2 91.7h2.1v2.1h-2.1zM164.2 86.5h2.1v2.1h-2.1zM164.3 91.2h2.1v2.1h-2.1zM164.2 90.1h2.1v2.1h-2.1zM164.3 87.4h2.1v2.1h-2.1zM164.4 95.2h2.1v2.1h-2.1zM164.4 90.4h2.1v2.1h-2.1zM164.3 88.2h2.1v2.1h-2.1zM164.4 89.4h2.1v2.1h-2.1zM164.4 91.4h2.1v2.1h-2.1zM164.4 92.0h2.1v2.1h-2.1zM164.5 90.6h2.1v2.1h-2.1zM164.5 85.9h2.1v2.1h-2.1zM164.7 87.8h2.1v2.1h-2.1zM164.7 91.5h2.1v2.1h-2.1zM164.7 87.1h2.1v2.1h-2.1zM164.5 88.5h2.1v2.1h-2.1zM164.9 86.0h2.1v2.1h-2.1zM164.8 85.8h2.1v2.1h-2.1zM164.7 87.5h2.1v2.1h-2.1zM164.8 90.9h2.1v2.1h-2.1zM164.7 87.3h2.1v2.1h-2.1zM164.7 88.0h2.1v2.1h-2.1zM164.7 87.3h2.1v2.1h-2.1zM164.8 84.7h2.1v2.1h-2.1zM164.8 92.7h2.1v2.1h-2.1zM164.8 81.9h2.1v2.1h-2.1zM164.9 86.6h2.1v2.1h-2.1zM164.9 90.0h2.1v2.1h-2.1zM164.9 84.5h2.1v2.1h-2.1zM164.8 90.3h2.1v2.1h-2.1zM164.9 92.0h2.1v2.1h-2.1zM164.9 86.0h2.1v2.1h-2.1zM164.8 89.1h2.1v2.1h-2.1zM164.8 85.4h2.1v2.1h-2.1zM164.8 90.0h2.1v2.1h-2.1zM164.8 88.8h2.1v2.1h-2.1zM164.8 89.2h2.1v2.1h-2.1zM164.9 92.3h2.1v2.1h-2.1zM165.0 87.5h2.1v2.1h-2.1zM165.2 88.5h2.1v2.1h-2.1zM165.0 82.4h2.1v2.1h-2.1zM165.1 92.1h2.1v2.1h-2.1zM165.2 85.1h2.1v2.1h-2.1zM165.0 82.2h2.1v2.1h-2.1zM165.0 85.7h2.1v2.1h-2.1zM165.0 86.0h2.1v2.1h-2.1zM165.0 89.9h2.1v2.1h-2.1zM165.1 85.7h2.1v2.1h-2.1zM165.1 89.1h2.1v2.1h-2.1zM165.4 85.9h2.1v2.1h-2.1zM165.4 85.3h2.1v2.1h-2.1zM165.3 84.0h2.1v2.1h-2.1zM165.2 88.5h2.1v2.1h-2.1zM165.3 89.7h2.1v2.1h-2.1zM165.2 84.5h2.1v2.1h-2.1zM165.4 86.4h2.1v2.1h-2.1zM165.3 88.2h2.1v2.1h-2.1zM165.4 87.4h2.1v2.1h-2.1zM165.3 86.2h2.1v2.1h-2.1zM165.4 90.3h2.1v2.1h-2.1zM165.7 88.7h2.1v2.1h-2.1zM165.5 90.8h2.1v2.1h-2.1zM165.6 91.5h2.1v2.1h-2.1zM165.6 90.8h2.1v2.1h-2.1zM165.6 90.5h2.1v2.1h-2.1zM165.5 85.4h2.1v2.1h-2.1zM165.6 89.1h2.1v2.1h-2.1zM165.7 86.3h2.1v2.1h-2.1zM165.6 84.5h2.1v2.1h-2.1zM165.5 84.7h2.1v2.1h-2.1zM165.7 89.0h2.1v2.1h-2.1zM165.5 91.0h2.1v2.1h-2.1zM165.5 84.0h2.1v2.1h-2.1zM165.7 92.8h2.1v2.1h-2.1zM165.6 92.1h2.1v2.1h-2.1zM165.5 86.8h2.1v2.1h-2.1zM165.7 86.5h2.1v2.1h-2.1zM165.8 87.1h2.1v2.1h-2.1zM165.8 87.5h2.1v2.1h-2.1zM165.8 91.3h2.1v2.1h-2.1zM165.9 92.3h2.1v2.1h-2.1zM165.9 88.8h2.1v2.1h-2.1zM165.8 85.5h2.1v2.1h-2.1zM165.9 85.5h2.1v2.1h-2.1zM165.9 87.1h2.1v2.1h-2.1zM165.9 91.6h2.1v2.1h-2.1zM165.9 88.6h2.1v2.1h-2.1zM165.9 87.5h2.1v2.1h-2.1zM165.9 85.5h2.1v2.1h-2.1zM166.1 82.3h2.1v2.1h-2.1zM166.2 87.9h2.1v2.1h-2.1zM166.2 84.9h2.1v2.1h-2.1zM166.0 87.8h2.1v2.1h-2.1zM166.1 91.4h2.1v2.1h-2.1zM166.2 82.5h2.1v2.1h-2.1zM166.1 88.0h2.1v2.1h-2.1zM166.2 87.2h2.1v2.1h-2.1zM166.1 82.1h2.1v2.1h-2.1zM166.2 89.3h2.1v2.1h-2.1zM166.0 87.7h2.1v2.1h-2.1zM166.0 86.1h2.1v2.1h-2.1zM166.0 85.5h2.1v2.1h-2.1zM166.1 96.7h2.1v2.1h-2.1zM166.0 86.4h2.1v2.1h-2.1zM166.2 82.2h2.1v2.1h-2.1zM166.3 87.7h2.1v2.1h-2.1zM166.3 86.0h2.1v2.1h-2.1zM166.3 89.0h2.1v2.1h-2.1zM166.3 90.3h2.1v2.1h-2.1zM166.3 90.6h2.1v2.1h-2.1zM166.3 86.7h2.1v2.1h-2.1zM166.2 87.9h2.1v2.1h-2.1zM166.3 94.0h2.1v2.1h-2.1zM166.3 84.1h2.1v2.1h-2.1zM166.2 88.0h2.1v2.1h-2.1zM166.3 89.9h2.1v2.1h-2.1zM166.4 87.6h2.1v2.1h-2.1zM166.3 89.1h2.1v2.1h-2.1zM166.2 87.9h2.1v2.1h-2.1zM166.3 89.4h2.1v2.1h-2.1zM166.4 90.9h2.1v2.1h-2.1zM166.2 86.7h2.1v2.1h-2.1zM166.7 86.9h2.1v2.1h-2.1zM166.7 92.3h2.1v2.1h-2.1zM166.5 84.1h2.1v2.1h-2.1zM166.7 89.4h2.1v2.1h-2.1zM166.5 88.0h2.1v2.1h-2.1zM166.5 86.7h2.1v2.1h-2.1zM166.7 84.5h2.1v2.1h-2.1zM166.7 88.2h2.1v2.1h-2.1zM166.6 85.8h2.1v2.1h-2.1zM166.6 90.0h2.1v2.1h-2.1zM166.7 89.9h2.1v2.1h-2.1zM166.7 86.5h2.1v2.1h-2.1zM166.7 82.1h2.1v2.1h-2.1zM166.8 88.3h2.1v2.1h-2.1zM166.9 88.9h2.1v2.1h-2.1zM166.7 86.3h2.1v2.1h-2.1zM166.8 86.0h2.1v2.1h-2.1zM166.7 88.2h2.1v2.1h-2.1zM166.9 90.3h2.1v2.1h-2.1zM166.7 87.4h2.1v2.1h-2.1zM166.9 88.4h2.1v2.1h-2.1zM166.9 86.7h2.1v2.1h-2.1zM166.7 85.9h2.1v2.1h-2.1zM166.9 84.2h2.1v2.1h-2.1zM166.8 87.7h2.1v2.1h-2.1zM166.8 86.0h2.1v2.1h-2.1zM166.8 86.2h2.1v2.1h-2.1zM166.8 89.6h2.1v2.1h-2.1zM166.8 88.3h2.1v2.1h-2.1zM166.9 89.3h2.1v2.1h-2.1zM166.9 82.3h2.1v2.1h-2.1zM166.9 88.4h2.1v2.1h-2.1zM166.8 85.2h2.1v2.1h-2.1zM167.2 86.7h2.1v2.1h-2.1zM167.2 87.0h2.1v2.1h-2.1zM167.1 88.8h2.1v2.1h-2.1zM167.0 92.7h2.1v2.1h-2.1zM167.1 85.7h2.1v2.1h-2.1zM167.0 85.2h2.1v2.1h-2.1zM167.0 81.7h2.1v2.1h-2.1zM167.0 87.4h2.1v2.1h-2.1zM167.0 89.2h2.1v2.1h-2.1zM167.0 86.1h2.1v2.1h-2.1zM167.4 88.0h2.1v2.1h-2.1zM167.4 81.1h2.1v2.1h-2.1zM167.3 88.7h2.1v2.1h-2.1zM167.3 86.9h2.1v2.1h-2.1zM167.2 85.5h2.1v2.1h-2.1zM167.4 85.3h2.1v2.1h-2.1zM167.4 91.5h2.1v2.1h-2.1zM167.4 90.8h2.1v2.1h-2.1zM167.2 91.8h2.1v2.1h-2.1zM167.2 83.3h2.1v2.1h-2.1zM167.4 84.6h2.1v2.1h-2.1zM167.4 89.1h2.1v2.1h-2.1zM167.2 83.1h2.1v2.1h-2.1zM167.2 84.5h2.1v2.1h-2.1zM167.3 81.4h2.1v2.1h-2.1zM167.3 91.8h2.1v2.1h-2.1zM167.6 79.9h2.1v2.1h-2.1zM167.5 87.9h2.1v2.1h-2.1zM167.5 82.5h2.1v2.1h-2.1zM167.5 89.5h2.1v2.1h-2.1zM167.6 81.9h2.1v2.1h-2.1zM167.7 80.9h2.1v2.1h-2.1zM167.6 87.1h2.1v2.1h-2.1zM167.5 87.6h2.1v2.1h-2.1zM167.5 86.7h2.1v2.1h-2.1zM167.5 82.9h2.1v2.1h-2.1zM167.5 88.9h2.1v2.1h-2.1zM167.5 82.2h2.1v2.1h-2.1zM167.7 85.7h2.1v2.1h-2.1zM167.9 82.1h2.1v2.1h-2.1zM167.8 86.2h2.1v2.1h-2.1zM167.8 84.6h2.1v2.1h-2.1zM167.8 87.8h2.1v2.1h-2.1zM167.7 86.0h2.1v2.1h-2.1zM167.8 88.3h2.1v2.1h-2.1zM167.8 84.9h2.1v2.1h-2.1zM167.8 90.2h2.1v2.1h-2.1zM167.8 79.5h2.1v2.1h-2.1zM167.8 83.2h2.1v2.1h-2.1zM167.9 87.5h2.1v2.1h-2.1zM167.9 81.8h2.1v2.1h-2.1zM168.0 87.6h2.1v2.1h-2.1zM168.0 90.7h2.1v2.1h-2.1zM168.0 80.9h2.1v2.1h-2.1zM168.2 86.0h2.1v2.1h-2.1zM168.1 88.4h2.1v2.1h-2.1zM168.0 82.2h2.1v2.1h-2.1zM168.0 85.9h2.1v2.1h-2.1zM168.1 91.3h2.1v2.1h-2.1zM168.1 89.7h2.1v2.1h-2.1zM168.0 87.6h2.1v2.1h-2.1zM168.1 78.4h2.1v2.1h-2.1zM168.0 85.6h2.1v2.1h-2.1zM168.0 87.1h2.1v2.1h-2.1zM168.0 85.1h2.1v2.1h-2.1zM168.2 85.6h2.1v2.1h-2.1zM168.1 94.8h2.1v2.1h-2.1zM168.1 85.3h2.1v2.1h-2.1zM168.0 83.2h2.1v2.1h-2.1zM168.0 86.6h2.1v2.1h-2.1zM168.1 85.0h2.1v2.1h-2.1zM168.1 85.0h2.1v2.1h-2.1zM168.2 85.6h2.1v2.1h-2.1zM168.0 88.2h2.1v2.1h-2.1zM168.0 86.7h2.1v2.1h-2.1zM168.1 82.5h2.1v2.1h-2.1zM168.0 85.6h2.1v2.1h-2.1zM168.3 86.7h2.1v2.1h-2.1zM168.4 84.2h2.1v2.1h-2.1zM168.3 87.1h2.1v2.1h-2.1zM168.2 88.2h2.1v2.1h-2.1zM168.2 85.6h2.1v2.1h-2.1zM168.4 88.0h2.1v2.1h-2.1zM168.2 80.7h2.1v2.1h-2.1zM168.2 83.6h2.1v2.1h-2.1zM168.2 89.9h2.1v2.1h-2.1zM168.4 90.7h2.1v2.1h-2.1zM168.3 86.5h2.1v2.1h-2.1zM168.2 85.5h2.1v2.1h-2.1zM168.4 82.1h2.1v2.1h-2.1zM168.3 86.8h2.1v2.1h-2.1zM168.6 88.9h2.1v2.1h-2.1zM168.6 79.0h2.1v2.1h-2.1zM168.7 88.3h2.1v2.1h-2.1zM168.6 85.4h2.1v2.1h-2.1zM168.6 85.5h2.1v2.1h-2.1zM168.6 82.5h2.1v2.1h-2.1zM168.5 86.5h2.1v2.1h-2.1zM168.6 82.3h2.1v2.1h-2.1zM168.5 82.9h2.1v2.1h-2.1zM168.7 84.2h2.1v2.1h-2.1zM168.7 81.9h2.1v2.1h-2.1zM168.7 90.0h2.1v2.1h-2.1zM168.6 81.7h2.1v2.1h-2.1zM168.6 83.4h2.1v2.1h-2.1zM168.6 84.7h2.1v2.1h-2.1zM168.7 86.2h2.1v2.1h-2.1zM168.9 86.3h2.1v2.1h-2.1zM168.7 83.9h2.1v2.1h-2.1zM168.9 82.4h2.1v2.1h-2.1zM168.9 84.3h2.1v2.1h-2.1zM168.9 84.7h2.1v2.1h-2.1zM168.7 83.6h2.1v2.1h-2.1zM168.9 81.1h2.1v2.1h-2.1zM168.8 84.5h2.1v2.1h-2.1zM168.9 86.9h2.1v2.1h-2.1zM169.0 84.3h2.1v2.1h-2.1zM169.0 80.9h2.1v2.1h-2.1zM169.0 84.9h2.1v2.1h-2.1zM169.1 84.2h2.1v2.1h-2.1zM169.2 87.0h2.1v2.1h-2.1zM169.1 83.9h2.1v2.1h-2.1zM169.0 84.1h2.1v2.1h-2.1zM169.2 87.5h2.1v2.1h-2.1zM169.2 88.4h2.1v2.1h-2.1zM169.2 87.2h2.1v2.1h-2.1zM169.3 81.8h2.1v2.1h-2.1zM169.3 79.3h2.1v2.1h-2.1zM169.3 85.8h2.1v2.1h-2.1zM169.2 80.4h2.1v2.1h-2.1zM169.4 85.6h2.1v2.1h-2.1zM169.3 85.4h2.1v2.1h-2.1zM169.4 88.2h2.1v2.1h-2.1zM169.4 89.7h2.1v2.1h-2.1zM169.3 86.1h2.1v2.1h-2.1zM169.2 83.5h2.1v2.1h-2.1zM169.3 81.6h2.1v2.1h-2.1zM169.6 81.9h2.1v2.1h-2.1zM169.6 88.8h2.1v2.1h-2.1zM169.6 82.6h2.1v2.1h-2.1zM169.5 87.1h2.1v2.1h-2.1zM169.7 85.0h2.1v2.1h-2.1zM169.5 82.1h2.1v2.1h-2.1zM169.5 87.8h2.1v2.1h-2.1zM169.6 84.8h2.1v2.1h-2.1zM169.5 85.4h2.1v2.1h-2.1zM169.6 86.0h2.1v2.1h-2.1zM169.6 84.7h2.1v2.1h-2.1zM169.5 83.7h2.1v2.1h-2.1zM169.6 86.1h2.1v2.1h-2.1zM169.9 90.7h2.1v2.1h-2.1zM169.8 84.1h2.1v2.1h-2.1zM169.7 82.2h2.1v2.1h-2.1zM169.9 89.3h2.1v2.1h-2.1zM169.9 86.3h2.1v2.1h-2.1zM169.8 83.5h2.1v2.1h-2.1zM169.8 88.0h2.1v2.1h-2.1zM169.9 85.0h2.1v2.1h-2.1zM169.9 86.4h2.1v2.1h-2.1zM169.8 85.2h2.1v2.1h-2.1zM169.7 81.7h2.1v2.1h-2.1zM169.8 87.4h2.1v2.1h-2.1zM169.9 84.9h2.1v2.1h-2.1zM169.8 81.7h2.1v2.1h-2.1zM169.9 82.4h2.1v2.1h-2.1zM169.7 87.4h2.1v2.1h-2.1zM169.8 83.5h2.1v2.1h-2.1zM170.0 87.7h2.1v2.1h-2.1zM170.0 85.4h2.1v2.1h-2.1zM170.2 85.5h2.1v2.1h-2.1zM170.1 84.8h2.1v2.1h-2.1zM170.0 88.3h2.1v2.1h-2.1zM170.1 85.9h2.1v2.1h-2.1zM170.1 82.4h2.1v2.1h-2.1zM170.2 85.7h2.1v2.1h-2.1zM170.0 86.5h2.1v2.1h-2.1zM170.1 82.2h2.1v2.1h-2.1zM170.1 83.1h2.1v2.1h-2.1zM170.0 83.3h2.1v2.1h-2.1zM170.1 82.6h2.1v2.1h-2.1zM170.0 85.5h2.1v2.1h-2.1zM170.0 87.4h2.1v2.1h-2.1zM170.0 89.9h2.1v2.1h-2.1zM170.1 87.8h2.1v2.1h-2.1zM170.1 87.3h2.1v2.1h-2.1zM170.2 84.2h2.1v2.1h-2.1zM170.3 84.5h2.1v2.1h-2.1zM170.3 85.2h2.1v2.1h-2.1zM170.4 86.2h2.1v2.1h-2.1zM170.4 82.4h2.1v2.1h-2.1zM170.3 83.9h2.1v2.1h-2.1zM170.4 79.5h2.1v2.1h-2.1zM170.3 77.8h2.1v2.1h-2.1zM170.3 78.7h2.1v2.1h-2.1zM170.6 84.4h2.1v2.1h-2.1zM170.5 83.4h2.1v2.1h-2.1zM170.6 82.8h2.1v2.1h-2.1zM170.6 80.5h2.1v2.1h-2.1zM170.6 79.9h2.1v2.1h-2.1zM170.5 81.9h2.1v2.1h-2.1zM170.6 84.8h2.1v2.1h-2.1zM170.5 90.0h2.1v2.1h-2.1zM170.7 87.0h2.1v2.1h-2.1zM170.7 89.2h2.1v2.1h-2.1zM170.5 85.5h2.1v2.1h-2.1zM170.6 83.8h2.1v2.1h-2.1zM170.6 80.2h2.1v2.1h-2.1zM170.5 84.1h2.1v2.1h-2.1zM170.5 78.0h2.1v2.1h-2.1zM170.5 83.3h2.1v2.1h-2.1zM170.6 88.7h2.1v2.1h-2.1zM170.8 85.0h2.1v2.1h-2.1zM170.7 80.5h2.1v2.1h-2.1zM170.7 83.6h2.1v2.1h-2.1zM170.8 78.9h2.1v2.1h-2.1zM170.9 86.4h2.1v2.1h-2.1zM170.9 80.9h2.1v2.1h-2.1zM170.9 83.0h2.1v2.1h-2.1zM170.9 82.5h2.1v2.1h-2.1zM170.7 82.3h2.1v2.1h-2.1zM170.8 80.9h2.1v2.1h-2.1zM170.8 78.8h2.1v2.1h-2.1zM170.8 88.9h2.1v2.1h-2.1zM170.8 84.6h2.1v2.1h-2.1zM171.1 83.0h2.1v2.1h-2.1zM171.2 82.2h2.1v2.1h-2.1zM171.0 79.0h2.1v2.1h-2.1zM171.0 82.5h2.1v2.1h-2.1zM171.0 78.5h2.1v2.1h-2.1zM171.0 81.1h2.1v2.1h-2.1zM171.0 82.9h2.1v2.1h-2.1zM171.1 83.6h2.1v2.1h-2.1zM171.1 83.8h2.1v2.1h-2.1zM171.1 83.3h2.1v2.1h-2.1zM171.1 89.8h2.1v2.1h-2.1zM171.0 85.0h2.1v2.1h-2.1zM171.1 80.1h2.1v2.1h-2.1zM171.0 82.0h2.1v2.1h-2.1zM171.0 81.8h2.1v2.1h-2.1zM171.1 83.2h2.1v2.1h-2.1zM171.1 81.9h2.1v2.1h-2.1zM171.2 83.7h2.1v2.1h-2.1zM171.4 78.6h2.1v2.1h-2.1zM171.3 85.2h2.1v2.1h-2.1zM171.3 81.8h2.1v2.1h-2.1zM171.3 78.4h2.1v2.1h-2.1zM171.4 81.6h2.1v2.1h-2.1zM171.3 86.5h2.1v2.1h-2.1zM171.4 86.8h2.1v2.1h-2.1zM171.3 85.6h2.1v2.1h-2.1zM171.3 80.6h2.1v2.1h-2.1zM171.4 90.7h2.1v2.1h-2.1zM171.5 83.5h2.1v2.1h-2.1zM171.6 81.9h2.1v2.1h-2.1zM171.6 79.0h2.1v2.1h-2.1zM171.5 81.7h2.1v2.1h-2.1zM171.6 83.5h2.1v2.1h-2.1zM171.5 82.7h2.1v2.1h-2.1zM171.6 83.5h2.1v2.1h-2.1zM171.6 85.4h2.1v2.1h-2.1zM171.6 84.5h2.1v2.1h-2.1zM171.7 84.0h2.1v2.1h-2.1zM171.7 85.1h2.1v2.1h-2.1zM171.6 83.9h2.1v2.1h-2.1zM171.5 83.3h2.1v2.1h-2.1zM171.5 84.7h2.1v2.1h-2.1zM171.6 78.3h2.1v2.1h-2.1zM171.9 82.3h2.1v2.1h-2.1zM171.9 79.8h2.1v2.1h-2.1zM171.9 83.8h2.1v2.1h-2.1zM171.8 87.2h2.1v2.1h-2.1zM171.7 81.4h2.1v2.1h-2.1zM171.9 80.1h2.1v2.1h-2.1zM171.9 84.3h2.1v2.1h-2.1zM171.9 78.6h2.1v2.1h-2.1zM171.8 76.8h2.1v2.1h-2.1zM171.9 81.9h2.1v2.1h-2.1zM171.9 81.2h2.1v2.1h-2.1zM171.8 82.4h2.1v2.1h-2.1zM171.9 81.6h2.1v2.1h-2.1zM171.8 84.2h2.1v2.1h-2.1zM171.8 82.5h2.1v2.1h-2.1zM171.9 81.4h2.1v2.1h-2.1zM171.8 81.9h2.1v2.1h-2.1zM171.8 85.0h2.1v2.1h-2.1zM171.7 86.0h2.1v2.1h-2.1zM171.9 85.7h2.1v2.1h-2.1zM171.7 85.2h2.1v2.1h-2.1zM171.9 73.7h2.1v2.1h-2.1zM171.7 80.4h2.1v2.1h-2.1zM172.2 79.5h2.1v2.1h-2.1zM172.0 83.4h2.1v2.1h-2.1zM172.1 88.7h2.1v2.1h-2.1zM172.0 78.8h2.1v2.1h-2.1zM172.1 84.6h2.1v2.1h-2.1zM172.2 82.9h2.1v2.1h-2.1zM172.1 82.6h2.1v2.1h-2.1zM172.0 82.0h2.1v2.1h-2.1zM172.0 82.1h2.1v2.1h-2.1zM172.1 86.0h2.1v2.1h-2.1zM172.1 84.7h2.1v2.1h-2.1zM172.0 80.3h2.1v2.1h-2.1zM172.2 87.4h2.1v2.1h-2.1zM172.2 79.2h2.1v2.1h-2.1zM172.2 84.8h2.1v2.1h-2.1zM172.0 83.6h2.1v2.1h-2.1zM172.0 86.5h2.1v2.1h-2.1zM172.2 84.0h2.1v2.1h-2.1zM172.1 86.0h2.1v2.1h-2.1zM172.0 83.0h2.1v2.1h-2.1zM172.0 85.9h2.1v2.1h-2.1zM172.3 83.9h2.1v2.1h-2.1zM172.3 82.3h2.1v2.1h-2.1zM172.3 78.1h2.1v2.1h-2.1zM172.3 84.7h2.1v2.1h-2.1zM172.2 85.3h2.1v2.1h-2.1zM172.4 81.7h2.1v2.1h-2.1zM172.3 85.2h2.1v2.1h-2.1zM172.4 86.5h2.1v2.1h-2.1zM172.4 83.1h2.1v2.1h-2.1zM172.3 85.9h2.1v2.1h-2.1zM172.3 83.8h2.1v2.1h-2.1zM172.2 78.0h2.1v2.1h-2.1zM172.4 81.5h2.1v2.1h-2.1zM172.4 81.6h2.1v2.1h-2.1zM172.4 84.3h2.1v2.1h-2.1zM172.2 80.4h2.1v2.1h-2.1zM172.2 81.7h2.1v2.1h-2.1zM172.4 80.0h2.1v2.1h-2.1zM172.4 82.7h2.1v2.1h-2.1zM172.2 83.1h2.1v2.1h-2.1zM172.4 85.6h2.1v2.1h-2.1zM172.5 80.3h2.1v2.1h-2.1zM172.5 87.8h2.1v2.1h-2.1zM172.6 83.0h2.1v2.1h-2.1zM172.5 80.4h2.1v2.1h-2.1zM172.6 81.2h2.1v2.1h-2.1zM172.7 79.5h2.1v2.1h-2.1zM172.6 83.8h2.1v2.1h-2.1zM172.5 87.0h2.1v2.1h-2.1zM172.5 82.1h2.1v2.1h-2.1zM172.6 85.3h2.1v2.1h-2.1zM172.7 79.9h2.1v2.1h-2.1zM172.6 83.5h2.1v2.1h-2.1zM172.6 89.2h2.1v2.1h-2.1zM172.6 78.6h2.1v2.1h-2.1zM172.8 83.5h2.1v2.1h-2.1zM172.7 81.4h2.1v2.1h-2.1zM172.9 88.0h2.1v2.1h-2.1zM172.8 82.2h2.1v2.1h-2.1zM172.7 79.2h2.1v2.1h-2.1zM172.8 79.3h2.1v2.1h-2.1zM172.9 79.8h2.1v2.1h-2.1zM172.8 82.8h2.1v2.1h-2.1zM172.7 82.5h2.1v2.1h-2.1zM172.9 85.2h2.1v2.1h-2.1zM172.8 82.9h2.1v2.1h-2.1zM172.9 82.7h2.1v2.1h-2.1zM172.8 83.4h2.1v2.1h-2.1zM172.7 82.2h2.1v2.1h-2.1zM172.7 83.3h2.1v2.1h-2.1zM172.7 84.7h2.1v2.1h-2.1zM172.9 84.6h2.1v2.1h-2.1zM172.8 80.9h2.1v2.1h-2.1zM172.8 77.4h2.1v2.1h-2.1zM172.9 80.0h2.1v2.1h-2.1zM172.8 83.3h2.1v2.1h-2.1zM172.9 75.3h2.1v2.1h-2.1zM172.9 81.0h2.1v2.1h-2.1zM173.0 82.3h2.1v2.1h-2.1zM173.0 82.6h2.1v2.1h-2.1zM173.2 82.0h2.1v2.1h-2.1zM173.0 80.0h2.1v2.1h-2.1zM173.2 80.5h2.1v2.1h-2.1zM173.0 83.5h2.1v2.1h-2.1zM173.1 81.9h2.1v2.1h-2.1zM173.1 78.8h2.1v2.1h-2.1zM173.1 80.2h2.1v2.1h-2.1zM173.1 80.2h2.1v2.1h-2.1zM173.1 82.0h2.1v2.1h-2.1zM173.0 82.7h2.1v2.1h-2.1zM173.2 82.3h2.1v2.1h-2.1zM173.1 80.3h2.1v2.1h-2.1zM173.1 82.2h2.1v2.1h-2.1zM173.1 78.2h2.1v2.1h-2.1zM173.2 73.8h2.1v2.1h-2.1zM173.0 82.1h2.1v2.1h-2.1zM173.0 77.5h2.1v2.1h-2.1zM173.2 79.4h2.1v2.1h-2.1zM173.2 78.9h2.1v2.1h-2.1zM173.4 81.7h2.1v2.1h-2.1zM173.2 80.8h2.1v2.1h-2.1zM173.4 80.2h2.1v2.1h-2.1zM173.3 83.9h2.1v2.1h-2.1zM173.4 78.8h2.1v2.1h-2.1zM173.3 83.1h2.1v2.1h-2.1zM173.4 80.1h2.1v2.1h-2.1zM173.4 83.1h2.1v2.1h-2.1zM173.3 82.1h2.1v2.1h-2.1zM173.3 82.5h2.1v2.1h-2.1zM173.4 79.0h2.1v2.1h-2.1zM173.2 79.7h2.1v2.1h-2.1zM173.4 79.3h2.1v2.1h-2.1zM173.4 82.3h2.1v2.1h-2.1zM173.3 84.0h2.1v2.1h-2.1zM173.3 85.0h2.1v2.1h-2.1zM173.3 80.4h2.1v2.1h-2.1zM173.4 82.0h2.1v2.1h-2.1zM173.3 77.2h2.1v2.1h-2.1zM173.3 75.5h2.1v2.1h-2.1zM173.4 79.3h2.1v2.1h-2.1zM173.2 80.0h2.1v2.1h-2.1zM173.7 85.5h2.1v2.1h-2.1zM173.5 77.1h2.1v2.1h-2.1zM173.7 79.4h2.1v2.1h-2.1zM173.6 82.3h2.1v2.1h-2.1zM173.6 83.2h2.1v2.1h-2.1zM173.5 84.5h2.1v2.1h-2.1zM173.6 82.5h2.1v2.1h-2.1zM173.6 87.8h2.1v2.1h-2.1zM173.6 80.2h2.1v2.1h-2.1zM173.7 82.0h2.1v2.1h-2.1zM173.6 84.0h2.1v2.1h-2.1zM173.5 80.8h2.1v2.1h-2.1zM173.7 80.6h2.1v2.1h-2.1zM173.8 81.9h2.1v2.1h-2.1zM173.7 83.0h2.1v2.1h-2.1zM173.9 79.2h2.1v2.1h-2.1zM173.8 84.4h2.1v2.1h-2.1zM173.9 79.0h2.1v2.1h-2.1zM173.9 81.5h2.1v2.1h-2.1zM173.8 76.4h2.1v2.1h-2.1zM173.9 79.4h2.1v2.1h-2.1zM173.9 82.7h2.1v2.1h-2.1zM173.8 80.0h2.1v2.1h-2.1zM173.9 80.0h2.1v2.1h-2.1zM174.1 78.6h2.1v2.1h-2.1zM174.0 82.0h2.1v2.1h-2.1zM174.2 84.1h2.1v2.1h-2.1zM174.0 82.1h2.1v2.1h-2.1zM174.0 74.9h2.1v2.1h-2.1zM174.1 83.0h2.1v2.1h-2.1zM174.2 81.2h2.1v2.1h-2.1zM174.1 78.5h2.1v2.1h-2.1zM174.1 85.0h2.1v2.1h-2.1zM174.2 76.1h2.1v2.1h-2.1zM174.0 86.5h2.1v2.1h-2.1zM174.0 79.4h2.1v2.1h-2.1zM174.1 85.6h2.1v2.1h-2.1zM174.2 83.1h2.1v2.1h-2.1zM174.3 83.2h2.1v2.1h-2.1zM174.3 78.5h2.1v2.1h-2.1zM174.4 77.0h2.1v2.1h-2.1zM174.3 84.5h2.1v2.1h-2.1zM174.4 76.5h2.1v2.1h-2.1zM174.4 81.3h2.1v2.1h-2.1zM174.3 78.6h2.1v2.1h-2.1zM174.4 75.9h2.1v2.1h-2.1zM174.3 81.3h2.1v2.1h-2.1zM174.6 76.8h2.1v2.1h-2.1zM174.6 80.8h2.1v2.1h-2.1zM174.5 76.5h2.1v2.1h-2.1zM174.5 79.0h2.1v2.1h-2.1zM174.6 84.2h2.1v2.1h-2.1zM174.7 87.2h2.1v2.1h-2.1zM174.5 81.9h2.1v2.1h-2.1zM174.7 77.6h2.1v2.1h-2.1zM174.5 83.0h2.1v2.1h-2.1zM174.6 74.3h2.1v2.1h-2.1zM174.5 78.8h2.1v2.1h-2.1zM174.6 85.0h2.1v2.1h-2.1zM174.6 82.8h2.1v2.1h-2.1zM174.6 76.7h2.1v2.1h-2.1zM174.5 76.0h2.1v2.1h-2.1zM174.8 82.6h2.1v2.1h-2.1zM174.9 89.2h2.1v2.1h-2.1zM174.9 76.9h2.1v2.1h-2.1zM174.9 77.5h2.1v2.1h-2.1zM174.9 81.4h2.1v2.1h-2.1zM174.9 81.8h2.1v2.1h-2.1zM174.8 78.6h2.1v2.1h-2.1zM174.9 80.7h2.1v2.1h-2.1zM174.8 75.9h2.1v2.1h-2.1zM174.8 79.7h2.1v2.1h-2.1zM174.8 83.1h2.1v2.1h-2.1zM174.8 85.2h2.1v2.1h-2.1zM174.8 80.0h2.1v2.1h-2.1zM174.7 79.9h2.1v2.1h-2.1zM174.9 81.8h2.1v2.1h-2.1zM174.8 83.7h2.1v2.1h-2.1zM174.9 81.9h2.1v2.1h-2.1zM175.2 78.7h2.1v2.1h-2.1zM175.1 78.9h2.1v2.1h-2.1zM175.2 83.4h2.1v2.1h-2.1zM175.0 76.9h2.1v2.1h-2.1zM175.2 80.1h2.1v2.1h-2.1zM175.2 78.6h2.1v2.1h-2.1zM175.1 84.6h2.1v2.1h-2.1zM175.2 81.0h2.1v2.1h-2.1zM175.0 79.3h2.1v2.1h-2.1zM175.0 82.7h2.1v2.1h-2.1zM175.0 80.6h2.1v2.1h-2.1zM175.2 83.9h2.1v2.1h-2.1zM175.4 79.3h2.1v2.1h-2.1zM175.2 81.6h2.1v2.1h-2.1zM175.4 84.0h2.1v2.1h-2.1zM175.3 77.8h2.1v2.1h-2.1zM175.4 79.2h2.1v2.1h-2.1zM175.4 77.0h2.1v2.1h-2.1zM175.3 83.5h2.1v2.1h-2.1zM175.3 80.9h2.1v2.1h-2.1zM175.3 78.9h2.1v2.1h-2.1zM175.3 75.5h2.1v2.1h-2.1zM175.6 80.6h2.1v2.1h-2.1zM175.6 77.3h2.1v2.1h-2.1zM175.6 78.1h2.1v2.1h-2.1zM175.6 81.2h2.1v2.1h-2.1zM175.5 83.2h2.1v2.1h-2.1zM175.7 83.7h2.1v2.1h-2.1zM175.6 77.6h2.1v2.1h-2.1zM175.5 83.1h2.1v2.1h-2.1zM175.6 82.1h2.1v2.1h-2.1zM175.6 79.9h2.1v2.1h-2.1zM175.7 81.3h2.1v2.1h-2.1zM175.6 82.3h2.1v2.1h-2.1zM175.9 78.3h2.1v2.1h-2.1zM175.7 76.0h2.1v2.1h-2.1zM175.9 82.8h2.1v2.1h-2.1zM175.7 80.7h2.1v2.1h-2.1zM175.9 81.1h2.1v2.1h-2.1zM175.7 80.4h2.1v2.1h-2.1zM175.9 79.4h2.1v2.1h-2.1zM175.7 77.7h2.1v2.1h-2.1zM175.8 77.6h2.1v2.1h-2.1zM175.8 81.1h2.1v2.1h-2.1zM175.9 80.1h2.1v2.1h-2.1zM175.8 84.5h2.1v2.1h-2.1zM175.9 77.6h2.1v2.1h-2.1zM175.9 78.4h2.1v2.1h-2.1zM176.2 79.0h2.1v2.1h-2.1zM176.0 85.7h2.1v2.1h-2.1zM176.1 77.6h2.1v2.1h-2.1zM176.2 80.7h2.1v2.1h-2.1zM176.1 78.1h2.1v2.1h-2.1zM176.1 81.9h2.1v2.1h-2.1zM176.2 80.8h2.1v2.1h-2.1zM176.1 79.0h2.1v2.1h-2.1zM176.0 74.6h2.1v2.1h-2.1zM176.2 78.1h2.1v2.1h-2.1zM176.1 83.0h2.1v2.1h-2.1zM176.1 78.9h2.1v2.1h-2.1zM176.0 81.5h2.1v2.1h-2.1zM176.1 78.2h2.1v2.1h-2.1zM176.0 74.4h2.1v2.1h-2.1zM176.2 77.3h2.1v2.1h-2.1zM176.3 79.2h2.1v2.1h-2.1zM176.3 80.9h2.1v2.1h-2.1zM176.4 80.1h2.1v2.1h-2.1zM176.4 81.2h2.1v2.1h-2.1zM176.4 77.1h2.1v2.1h-2.1zM176.3 78.7h2.1v2.1h-2.1zM176.4 78.7h2.1v2.1h-2.1zM176.4 79.3h2.1v2.1h-2.1zM176.2 73.6h2.1v2.1h-2.1zM176.4 78.8h2.1v2.1h-2.1zM176.4 75.6h2.1v2.1h-2.1zM176.4 83.4h2.1v2.1h-2.1zM176.4 83.8h2.1v2.1h-2.1zM176.3 84.3h2.1v2.1h-2.1zM176.3 81.7h2.1v2.1h-2.1zM176.3 78.1h2.1v2.1h-2.1zM176.3 82.2h2.1v2.1h-2.1zM176.4 78.8h2.1v2.1h-2.1zM176.5 80.1h2.1v2.1h-2.1zM176.7 79.2h2.1v2.1h-2.1zM176.7 79.5h2.1v2.1h-2.1zM176.6 79.6h2.1v2.1h-2.1zM176.5 81.0h2.1v2.1h-2.1zM176.6 79.3h2.1v2.1h-2.1zM176.6 80.7h2.1v2.1h-2.1zM176.6 75.6h2.1v2.1h-2.1zM176.5 81.5h2.1v2.1h-2.1zM176.6 84.2h2.1v2.1h-2.1zM176.5 79.9h2.1v2.1h-2.1zM176.6 75.3h2.1v2.1h-2.1zM176.5 83.1h2.1v2.1h-2.1zM176.6 78.4h2.1v2.1h-2.1zM176.6 70.8h2.1v2.1h-2.1zM176.9 79.8h2.1v2.1h-2.1zM176.8 77.7h2.1v2.1h-2.1zM176.8 72.6h2.1v2.1h-2.1zM176.9 79.1h2.1v2.1h-2.1zM176.9 75.3h2.1v2.1h-2.1zM176.9 80.9h2.1v2.1h-2.1zM176.8 78.8h2.1v2.1h-2.1zM176.9 79.8h2.1v2.1h-2.1zM176.7 81.0h2.1v2.1h-2.1zM176.7 77.7h2.1v2.1h-2.1zM176.9 81.4h2.1v2.1h-2.1zM176.8 82.7h2.1v2.1h-2.1zM176.8 80.2h2.1v2.1h-2.1zM176.9 82.8h2.1v2.1h-2.1zM177.1 82.2h2.1v2.1h-2.1zM177.1 81.2h2.1v2.1h-2.1zM177.1 80.2h2.1v2.1h-2.1zM177.0 77.4h2.1v2.1h-2.1zM177.2 76.1h2.1v2.1h-2.1zM177.1 78.6h2.1v2.1h-2.1zM177.1 75.1h2.1v2.1h-2.1zM177.1 75.4h2.1v2.1h-2.1zM177.0 81.6h2.1v2.1h-2.1zM177.2 76.2h2.1v2.1h-2.1zM177.0 84.0h2.1v2.1h-2.1zM177.4 73.5h2.1v2.1h-2.1zM177.3 77.8h2.1v2.1h-2.1zM177.2 78.1h2.1v2.1h-2.1zM177.3 89.5h2.1v2.1h-2.1zM177.4 79.6h2.1v2.1h-2.1zM177.3 83.8h2.1v2.1h-2.1zM177.2 82.5h2.1v2.1h-2.1zM177.4 77.4h2.1v2.1h-2.1zM177.4 80.0h2.1v2.1h-2.1zM177.4 83.4h2.1v2.1h-2.1zM177.4 79.1h2.1v2.1h-2.1zM177.7 78.9h2.1v2.1h-2.1zM177.5 74.6h2.1v2.1h-2.1zM177.5 75.6h2.1v2.1h-2.1zM177.6 79.4h2.1v2.1h-2.1zM177.5 74.0h2.1v2.1h-2.1zM177.5 79.4h2.1v2.1h-2.1zM177.7 76.6h2.1v2.1h-2.1zM177.5 76.3h2.1v2.1h-2.1zM177.6 80.4h2.1v2.1h-2.1zM177.6 76.5h2.1v2.1h-2.1zM177.9 75.1h2.1v2.1h-2.1zM177.8 76.9h2.1v2.1h-2.1zM177.9 80.7h2.1v2.1h-2.1zM177.8 80.7h2.1v2.1h-2.1zM177.8 76.6h2.1v2.1h-2.1zM177.9 79.6h2.1v2.1h-2.1zM177.9 77.2h2.1v2.1h-2.1zM177.9 78.5h2.1v2.1h-2.1zM177.8 78.8h2.1v2.1h-2.1zM177.9 79.9h2.1v2.1h-2.1zM177.9 76.5h2.1v2.1h-2.1zM177.8 77.9h2.1v2.1h-2.1zM177.8 78.9h2.1v2.1h-2.1zM178.0 84.3h2.1v2.1h-2.1zM178.1 77.2h2.1v2.1h-2.1zM178.2 81.7h2.1v2.1h-2.1zM178.2 76.0h2.1v2.1h-2.1zM178.1 75.7h2.1v2.1h-2.1zM178.2 80.8h2.1v2.1h-2.1zM178.0 79.9h2.1v2.1h-2.1zM178.1 73.2h2.1v2.1h-2.1zM178.1 79.9h2.1v2.1h-2.1zM178.0 79.9h2.1v2.1h-2.1zM178.1 76.3h2.1v2.1h-2.1zM178.1 78.7h2.1v2.1h-2.1zM178.2 78.7h2.1v2.1h-2.1zM178.0 76.8h2.1v2.1h-2.1zM178.0 76.4h2.1v2.1h-2.1zM178.0 76.2h2.1v2.1h-2.1zM178.3 76.2h2.1v2.1h-2.1zM178.4 77.8h2.1v2.1h-2.1zM178.3 81.8h2.1v2.1h-2.1zM178.3 79.5h2.1v2.1h-2.1zM178.4 76.7h2.1v2.1h-2.1zM178.3 75.9h2.1v2.1h-2.1zM178.3 76.7h2.1v2.1h-2.1zM178.4 79.5h2.1v2.1h-2.1zM178.4 83.1h2.1v2.1h-2.1zM178.3 74.9h2.1v2.1h-2.1zM178.3 77.9h2.1v2.1h-2.1zM178.7 79.4h2.1v2.1h-2.1zM178.5 79.6h2.1v2.1h-2.1zM178.7 73.9h2.1v2.1h-2.1zM178.6 73.8h2.1v2.1h-2.1zM178.7 80.5h2.1v2.1h-2.1zM178.5 78.0h2.1v2.1h-2.1zM178.6 78.8h2.1v2.1h-2.1zM178.7 78.5h2.1v2.1h-2.1zM178.6 82.0h2.1v2.1h-2.1zM178.5 74.3h2.1v2.1h-2.1zM178.5 80.8h2.1v2.1h-2.1zM178.7 75.3h2.1v2.1h-2.1zM178.6 79.7h2.1v2.1h-2.1zM178.5 81.6h2.1v2.1h-2.1zM178.5 73.8h2.1v2.1h-2.1zM178.6 78.8h2.1v2.1h-2.1zM178.5 76.9h2.1v2.1h-2.1zM178.6 76.9h2.1v2.1h-2.1zM178.6 77.8h2.1v2.1h-2.1zM178.5 74.8h2.1v2.1h-2.1zM178.5 75.0h2.1v2.1h-2.1zM178.7 79.5h2.1v2.1h-2.1zM178.9 76.7h2.1v2.1h-2.1zM178.9 76.6h2.1v2.1h-2.1zM178.7 78.4h2.1v2.1h-2.1zM178.9 78.1h2.1v2.1h-2.1zM178.7 81.7h2.1v2.1h-2.1zM178.8 77.0h2.1v2.1h-2.1zM178.9 74.5h2.1v2.1h-2.1zM178.8 77.5h2.1v2.1h-2.1zM178.8 81.6h2.1v2.1h-2.1zM178.8 76.0h2.1v2.1h-2.1zM178.8 77.6h2.1v2.1h-2.1zM178.7 76.6h2.1v2.1h-2.1zM178.8 78.6h2.1v2.1h-2.1zM178.9 78.1h2.1v2.1h-2.1zM178.9 75.2h2.1v2.1h-2.1zM178.9 76.8h2.1v2.1h-2.1zM179.0 74.0h2.1v2.1h-2.1zM179.0 79.0h2.1v2.1h-2.1zM179.1 75.2h2.1v2.1h-2.1zM179.0 76.3h2.1v2.1h-2.1zM179.1 76.5h2.1v2.1h-2.1zM179.0 75.2h2.1v2.1h-2.1zM179.0 81.3h2.1v2.1h-2.1zM179.1 75.9h2.1v2.1h-2.1zM179.2 77.7h2.1v2.1h-2.1zM179.0 73.7h2.1v2.1h-2.1zM179.0 76.0h2.1v2.1h-2.1zM179.4 75.2h2.1v2.1h-2.1zM179.4 77.7h2.1v2.1h-2.1zM179.4 73.0h2.1v2.1h-2.1zM179.3 79.4h2.1v2.1h-2.1zM179.3 74.0h2.1v2.1h-2.1zM179.2 73.7h2.1v2.1h-2.1zM179.3 76.2h2.1v2.1h-2.1zM179.2 83.8h2.1v2.1h-2.1zM179.4 75.3h2.1v2.1h-2.1zM179.4 73.5h2.1v2.1h-2.1zM179.3 78.4h2.1v2.1h-2.1zM179.3 77.7h2.1v2.1h-2.1zM179.3 81.8h2.1v2.1h-2.1zM179.4 73.5h2.1v2.1h-2.1zM179.4 72.5h2.1v2.1h-2.1zM179.3 76.3h2.1v2.1h-2.1zM179.4 78.1h2.1v2.1h-2.1zM179.3 78.1h2.1v2.1h-2.1zM179.4 80.0h2.1v2.1h-2.1zM179.6 81.5h2.1v2.1h-2.1zM179.5 73.5h2.1v2.1h-2.1zM179.5 75.4h2.1v2.1h-2.1zM179.6 75.0h2.1v2.1h-2.1zM179.6 75.6h2.1v2.1h-2.1zM179.7 74.4h2.1v2.1h-2.1zM179.5 75.4h2.1v2.1h-2.1zM179.6 76.7h2.1v2.1h-2.1zM179.5 75.7h2.1v2.1h-2.1zM179.9 76.1h2.1v2.1h-2.1zM179.7 75.9h2.1v2.1h-2.1zM179.7 81.1h2.1v2.1h-2.1zM179.8 74.9h2.1v2.1h-2.1zM179.8 79.7h2.1v2.1h-2.1zM179.9 79.2h2.1v2.1h-2.1zM179.8 73.0h2.1v2.1h-2.1zM179.8 77.5h2.1v2.1h-2.1zM179.9 75.1h2.1v2.1h-2.1zM179.9 74.0h2.1v2.1h-2.1zM179.9 71.5h2.1v2.1h-2.1zM179.8 72.4h2.1v2.1h-2.1zM179.8 77.9h2.1v2.1h-2.1zM179.9 75.6h2.1v2.1h-2.1zM179.9 77.4h2.1v2.1h-2.1zM179.9 73.6h2.1v2.1h-2.1zM180.2 78.6h2.1v2.1h-2.1zM180.0 79.5h2.1v2.1h-2.1zM180.0 79.9h2.1v2.1h-2.1zM180.2 79.8h2.1v2.1h-2.1zM180.2 76.3h2.1v2.1h-2.1zM180.1 74.4h2.1v2.1h-2.1zM180.0 75.3h2.1v2.1h-2.1zM180.1 76.4h2.1v2.1h-2.1zM180.0 77.7h2.1v2.1h-2.1zM180.0 75.3h2.1v2.1h-2.1zM180.2 76.6h2.1v2.1h-2.1zM180.0 79.1h2.1v2.1h-2.1zM180.0 77.5h2.1v2.1h-2.1zM180.0 83.0h2.1v2.1h-2.1zM180.1 82.5h2.1v2.1h-2.1zM180.1 73.3h2.1v2.1h-2.1zM180.0 75.0h2.1v2.1h-2.1zM180.4 76.8h2.1v2.1h-2.1zM180.2 74.6h2.1v2.1h-2.1zM180.4 79.1h2.1v2.1h-2.1zM180.3 78.6h2.1v2.1h-2.1zM180.2 73.5h2.1v2.1h-2.1zM180.2 80.1h2.1v2.1h-2.1zM180.4 73.0h2.1v2.1h-2.1zM180.3 79.6h2.1v2.1h-2.1zM180.3 76.9h2.1v2.1h-2.1zM180.3 73.9h2.1v2.1h-2.1zM180.4 73.1h2.1v2.1h-2.1zM180.4 75.4h2.1v2.1h-2.1zM180.6 71.8h2.1v2.1h-2.1zM180.7 78.6h2.1v2.1h-2.1zM180.6 74.7h2.1v2.1h-2.1zM180.5 80.3h2.1v2.1h-2.1zM180.6 80.1h2.1v2.1h-2.1zM180.5 79.2h2.1v2.1h-2.1zM180.7 79.8h2.1v2.1h-2.1zM180.6 77.1h2.1v2.1h-2.1zM180.5 74.6h2.1v2.1h-2.1zM180.5 78.0h2.1v2.1h-2.1zM180.5 78.9h2.1v2.1h-2.1zM180.5 76.8h2.1v2.1h-2.1zM180.9 74.8h2.1v2.1h-2.1zM180.7 73.0h2.1v2.1h-2.1zM180.8 78.3h2.1v2.1h-2.1zM180.8 72.2h2.1v2.1h-2.1zM180.9 79.2h2.1v2.1h-2.1zM180.7 78.7h2.1v2.1h-2.1zM180.9 77.3h2.1v2.1h-2.1zM180.9 69.7h2.1v2.1h-2.1zM180.7 74.1h2.1v2.1h-2.1zM180.9 78.0h2.1v2.1h-2.1zM180.9 71.9h2.1v2.1h-2.1zM180.8 75.3h2.1v2.1h-2.1zM180.8 75.6h2.1v2.1h-2.1zM180.9 78.4h2.1v2.1h-2.1zM180.8 76.7h2.1v2.1h-2.1zM180.8 76.7h2.1v2.1h-2.1zM180.8 74.7h2.1v2.1h-2.1zM181.0 79.8h2.1v2.1h-2.1zM181.1 76.9h2.1v2.1h-2.1zM181.2 81.0h2.1v2.1h-2.1zM181.1 73.2h2.1v2.1h-2.1zM181.1 72.4h2.1v2.1h-2.1zM181.0 76.6h2.1v2.1h-2.1zM181.1 71.0h2.1v2.1h-2.1zM181.0 76.4h2.1v2.1h-2.1zM181.2 73.7h2.1v2.1h-2.1zM181.1 74.7h2.1v2.1h-2.1zM181.0 76.5h2.1v2.1h-2.1zM181.2 75.8h2.1v2.1h-2.1zM181.1 80.9h2.1v2.1h-2.1zM181.0 77.6h2.1v2.1h-2.1zM181.0 72.1h2.1v2.1h-2.1zM181.0 78.6h2.1v2.1h-2.1zM181.1 71.9h2.1v2.1h-2.1zM181.0 76.0h2.1v2.1h-2.1zM181.0 72.2h2.1v2.1h-2.1zM181.1 73.3h2.1v2.1h-2.1zM181.4 79.0h2.1v2.1h-2.1zM181.4 78.2h2.1v2.1h-2.1zM181.4 73.9h2.1v2.1h-2.1zM181.3 73.5h2.1v2.1h-2.1zM181.3 77.5h2.1v2.1h-2.1zM181.4 70.3h2.1v2.1h-2.1zM181.4 74.2h2.1v2.1h-2.1zM181.4 74.5h2.1v2.1h-2.1zM181.4 72.3h2.1v2.1h-2.1zM181.3 72.7h2.1v2.1h-2.1zM181.4 76.4h2.1v2.1h-2.1zM181.4 70.8h2.1v2.1h-2.1zM181.3 72.9h2.1v2.1h-2.1zM181.4 73.6h2.1v2.1h-2.1zM181.2 75.8h2.1v2.1h-2.1zM181.3 71.6h2.1v2.1h-2.1zM181.5 76.5h2.1v2.1h-2.1zM181.5 79.2h2.1v2.1h-2.1zM181.7 76.8h2.1v2.1h-2.1zM181.5 73.6h2.1v2.1h-2.1zM181.6 75.1h2.1v2.1h-2.1zM181.5 74.2h2.1v2.1h-2.1zM181.6 71.9h2.1v2.1h-2.1zM181.6 72.1h2.1v2.1h-2.1zM181.5 75.4h2.1v2.1h-2.1zM181.7 76.7h2.1v2.1h-2.1zM181.5 70.3h2.1v2.1h-2.1zM181.5 75.1h2.1v2.1h-2.1zM181.5 76.7h2.1v2.1h-2.1zM181.7 75.4h2.1v2.1h-2.1zM181.7 72.3h2.1v2.1h-2.1zM181.6 78.1h2.1v2.1h-2.1zM181.9 74.9h2.1v2.1h-2.1zM181.8 75.2h2.1v2.1h-2.1zM181.8 74.7h2.1v2.1h-2.1zM181.8 75.2h2.1v2.1h-2.1zM181.9 71.3h2.1v2.1h-2.1zM181.8 67.3h2.1v2.1h-2.1zM181.9 76.6h2.1v2.1h-2.1zM181.9 78.9h2.1v2.1h-2.1zM181.9 70.9h2.1v2.1h-2.1zM181.9 73.1h2.1v2.1h-2.1zM181.8 75.9h2.1v2.1h-2.1zM181.9 77.6h2.1v2.1h-2.1zM181.7 76.9h2.1v2.1h-2.1zM182.1 76.4h2.1v2.1h-2.1zM182.1 74.7h2.1v2.1h-2.1zM182.2 75.8h2.1v2.1h-2.1zM182.1 75.7h2.1v2.1h-2.1zM182.2 78.6h2.1v2.1h-2.1zM182.0 75.4h2.1v2.1h-2.1zM182.1 70.6h2.1v2.1h-2.1zM182.0 74.1h2.1v2.1h-2.1zM182.0 78.4h2.1v2.1h-2.1zM182.2 76.3h2.1v2.1h-2.1zM182.2 73.5h2.1v2.1h-2.1zM182.1 76.5h2.1v2.1h-2.1zM182.0 75.1h2.1v2.1h-2.1zM182.0 76.5h2.1v2.1h-2.1zM182.2 70.2h2.1v2.1h-2.1zM182.1 72.3h2.1v2.1h-2.1zM182.0 76.7h2.1v2.1h-2.1zM182.4 76.3h2.1v2.1h-2.1zM182.4 76.5h2.1v2.1h-2.1zM182.3 71.2h2.1v2.1h-2.1zM182.4 77.9h2.1v2.1h-2.1zM182.4 71.8h2.1v2.1h-2.1zM182.4 75.1h2.1v2.1h-2.1zM182.3 81.8h2.1v2.1h-2.1zM182.2 74.9h2.1v2.1h-2.1zM182.4 79.2h2.1v2.1h-2.1zM182.4 73.5h2.1v2.1h-2.1zM182.3 76.3h2.1v2.1h-2.1zM182.3 74.7h2.1v2.1h-2.1zM182.3 75.8h2.1v2.1h-2.1zM182.3 72.2h2.1v2.1h-2.1zM182.4 71.9h2.1v2.1h-2.1zM182.5 74.4h2.1v2.1h-2.1zM182.7 74.2h2.1v2.1h-2.1zM182.5 70.0h2.1v2.1h-2.1zM182.5 75.7h2.1v2.1h-2.1zM182.7 74.1h2.1v2.1h-2.1zM182.6 78.1h2.1v2.1h-2.1zM182.7 73.1h2.1v2.1h-2.1zM182.7 70.8h2.1v2.1h-2.1zM182.5 74.8h2.1v2.1h-2.1zM182.6 71.8h2.1v2.1h-2.1zM182.5 75.6h2.1v2.1h-2.1zM182.5 71.4h2.1v2.1h-2.1zM182.5 74.1h2.1v2.1h-2.1zM182.5 73.8h2.1v2.1h-2.1zM182.6 74.3h2.1v2.1h-2.1zM182.6 72.9h2.1v2.1h-2.1zM182.7 72.1h2.1v2.1h-2.1zM182.5 74.2h2.1v2.1h-2.1zM182.9 75.0h2.1v2.1h-2.1zM182.7 71.6h2.1v2.1h-2.1zM182.8 72.4h2.1v2.1h-2.1zM182.9 75.7h2.1v2.1h-2.1zM182.9 73.2h2.1v2.1h-2.1zM182.9 67.5h2.1v2.1h-2.1zM182.9 74.5h2.1v2.1h-2.1zM182.8 67.9h2.1v2.1h-2.1zM182.8 79.5h2.1v2.1h-2.1zM182.8 76.2h2.1v2.1h-2.1zM182.9 76.0h2.1v2.1h-2.1zM182.8 72.3h2.1v2.1h-2.1zM182.9 71.0h2.1v2.1h-2.1zM182.8 73.6h2.1v2.1h-2.1zM182.8 74.3h2.1v2.1h-2.1zM182.8 72.1h2.1v2.1h-2.1zM182.8 74.6h2.1v2.1h-2.1zM183.2 76.1h2.1v2.1h-2.1zM183.1 73.1h2.1v2.1h-2.1zM183.0 78.1h2.1v2.1h-2.1zM183.1 77.3h2.1v2.1h-2.1zM183.1 70.6h2.1v2.1h-2.1zM183.0 77.0h2.1v2.1h-2.1zM183.0 73.0h2.1v2.1h-2.1zM183.0 77.8h2.1v2.1h-2.1zM183.1 75.4h2.1v2.1h-2.1zM183.1 73.9h2.1v2.1h-2.1zM183.0 76.0h2.1v2.1h-2.1zM183.0 72.6h2.1v2.1h-2.1zM183.1 74.9h2.1v2.1h-2.1zM183.1 75.1h2.1v2.1h-2.1zM183.1 73.6h2.1v2.1h-2.1zM183.1 75.1h2.1v2.1h-2.1zM183.0 71.4h2.1v2.1h-2.1zM183.1 75.5h2.1v2.1h-2.1zM183.2 75.7h2.1v2.1h-2.1zM183.3 72.4h2.1v2.1h-2.1zM183.4 73.4h2.1v2.1h-2.1zM183.2 76.2h2.1v2.1h-2.1zM183.4 75.9h2.1v2.1h-2.1zM183.3 73.8h2.1v2.1h-2.1zM183.4 71.8h2.1v2.1h-2.1zM183.3 71.4h2.1v2.1h-2.1zM183.3 72.4h2.1v2.1h-2.1zM183.3 75.8h2.1v2.1h-2.1zM183.3 75.5h2.1v2.1h-2.1zM183.4 74.7h2.1v2.1h-2.1zM183.3 77.7h2.1v2.1h-2.1zM183.4 73.1h2.1v2.1h-2.1zM183.3 72.9h2.1v2.1h-2.1zM183.2 73.0h2.1v2.1h-2.1zM183.3 79.1h2.1v2.1h-2.1zM183.3 68.4h2.1v2.1h-2.1zM183.3 74.7h2.1v2.1h-2.1zM183.3 75.2h2.1v2.1h-2.1zM183.3 74.2h2.1v2.1h-2.1zM183.3 80.3h2.1v2.1h-2.1zM183.2 77.2h2.1v2.1h-2.1zM183.6 76.7h2.1v2.1h-2.1zM183.5 73.4h2.1v2.1h-2.1zM183.6 72.5h2.1v2.1h-2.1zM183.5 75.6h2.1v2.1h-2.1zM183.6 71.7h2.1v2.1h-2.1zM183.5 76.0h2.1v2.1h-2.1zM183.6 70.9h2.1v2.1h-2.1zM183.6 71.3h2.1v2.1h-2.1zM183.7 73.8h2.1v2.1h-2.1zM183.7 69.9h2.1v2.1h-2.1zM183.7 73.7h2.1v2.1h-2.1zM183.8 74.2h2.1v2.1h-2.1zM183.8 72.7h2.1v2.1h-2.1zM183.7 75.0h2.1v2.1h-2.1zM183.9 75.7h2.1v2.1h-2.1zM183.8 72.2h2.1v2.1h-2.1zM183.9 72.8h2.1v2.1h-2.1zM183.9 74.1h2.1v2.1h-2.1zM183.8 71.1h2.1v2.1h-2.1zM183.7 74.2h2.1v2.1h-2.1zM183.9 73.4h2.1v2.1h-2.1zM183.7 71.9h2.1v2.1h-2.1zM184.0 73.1h2.1v2.1h-2.1zM184.0 73.9h2.1v2.1h-2.1zM184.2 74.4h2.1v2.1h-2.1zM184.2 73.5h2.1v2.1h-2.1zM184.1 72.9h2.1v2.1h-2.1zM184.1 73.0h2.1v2.1h-2.1zM184.0 74.9h2.1v2.1h-2.1zM184.0 70.5h2.1v2.1h-2.1zM184.2 73.4h2.1v2.1h-2.1zM184.0 73.2h2.1v2.1h-2.1zM184.1 72.1h2.1v2.1h-2.1zM184.2 75.3h2.1v2.1h-2.1zM184.0 70.1h2.1v2.1h-2.1zM184.2 72.4h2.1v2.1h-2.1zM184.1 71.2h2.1v2.1h-2.1zM184.0 75.0h2.1v2.1h-2.1zM184.1 72.2h2.1v2.1h-2.1zM184.0 73.7h2.1v2.1h-2.1zM184.3 73.3h2.1v2.1h-2.1zM184.4 68.3h2.1v2.1h-2.1zM184.3 78.6h2.1v2.1h-2.1zM184.2 73.9h2.1v2.1h-2.1zM184.2 70.2h2.1v2.1h-2.1zM184.4 75.3h2.1v2.1h-2.1zM184.2 71.3h2.1v2.1h-2.1zM184.4 74.7h2.1v2.1h-2.1zM184.2 73.4h2.1v2.1h-2.1zM184.3 70.2h2.1v2.1h-2.1zM184.3 75.1h2.1v2.1h-2.1zM184.3 69.8h2.1v2.1h-2.1zM184.2 76.9h2.1v2.1h-2.1zM184.3 73.5h2.1v2.1h-2.1zM184.4 70.5h2.1v2.1h-2.1zM184.3 68.5h2.1v2.1h-2.1zM184.2 77.6h2.1v2.1h-2.1zM184.4 77.1h2.1v2.1h-2.1zM184.4 69.9h2.1v2.1h-2.1zM184.3 77.7h2.1v2.1h-2.1zM184.3 73.8h2.1v2.1h-2.1zM184.2 72.8h2.1v2.1h-2.1zM184.2 73.1h2.1v2.1h-2.1zM184.7 70.9h2.1v2.1h-2.1zM184.5 75.3h2.1v2.1h-2.1zM184.6 73.2h2.1v2.1h-2.1zM184.5 71.1h2.1v2.1h-2.1zM184.7 76.6h2.1v2.1h-2.1zM184.6 73.4h2.1v2.1h-2.1zM184.5 70.8h2.1v2.1h-2.1zM184.5 72.3h2.1v2.1h-2.1zM184.5 75.9h2.1v2.1h-2.1zM184.5 69.9h2.1v2.1h-2.1zM184.7 76.7h2.1v2.1h-2.1zM184.7 74.8h2.1v2.1h-2.1zM184.6 72.3h2.1v2.1h-2.1zM184.6 76.7h2.1v2.1h-2.1zM184.6 77.7h2.1v2.1h-2.1zM184.8 70.9h2.1v2.1h-2.1zM184.8 73.5h2.1v2.1h-2.1zM184.7 69.2h2.1v2.1h-2.1zM184.9 72.5h2.1v2.1h-2.1zM184.8 71.1h2.1v2.1h-2.1zM184.7 76.6h2.1v2.1h-2.1zM184.7 74.9h2.1v2.1h-2.1zM184.7 74.3h2.1v2.1h-2.1zM184.9 77.8h2.1v2.1h-2.1zM184.8 76.7h2.1v2.1h-2.1zM184.8 74.8h2.1v2.1h-2.1zM184.8 71.1h2.1v2.1h-2.1zM184.9 68.9h2.1v2.1h-2.1zM184.8 72.8h2.1v2.1h-2.1zM184.8 71.9h2.1v2.1h-2.1zM185.0 71.9h2.1v2.1h-2.1zM185.1 69.8h2.1v2.1h-2.1zM185.0 71.5h2.1v2.1h-2.1zM185.1 67.7h2.1v2.1h-2.1zM185.2 76.3h2.1v2.1h-2.1zM185.2 72.7h2.1v2.1h-2.1zM185.0 70.8h2.1v2.1h-2.1zM185.1 70.2h2.1v2.1h-2.1zM185.4 71.2h2.1v2.1h-2.1zM185.3 74.0h2.1v2.1h-2.1zM185.4 77.1h2.1v2.1h-2.1zM185.4 70.8h2.1v2.1h-2.1zM185.2 71.9h2.1v2.1h-2.1zM185.3 69.3h2.1v2.1h-2.1zM185.4 72.1h2.1v2.1h-2.1zM185.2 72.4h2.1v2.1h-2.1zM185.4 71.3h2.1v2.1h-2.1zM185.4 70.4h2.1v2.1h-2.1zM185.4 68.2h2.1v2.1h-2.1zM185.4 68.8h2.1v2.1h-2.1zM185.3 69.9h2.1v2.1h-2.1zM185.4 74.2h2.1v2.1h-2.1zM185.3 71.1h2.1v2.1h-2.1zM185.6 69.2h2.1v2.1h-2.1zM185.6 69.8h2.1v2.1h-2.1zM185.6 71.4h2.1v2.1h-2.1zM185.5 74.4h2.1v2.1h-2.1zM185.5 74.0h2.1v2.1h-2.1zM185.7 72.0h2.1v2.1h-2.1zM185.7 75.9h2.1v2.1h-2.1zM185.6 73.4h2.1v2.1h-2.1zM185.6 76.0h2.1v2.1h-2.1zM185.5 80.0h2.1v2.1h-2.1zM185.6 72.8h2.1v2.1h-2.1zM185.6 65.3h2.1v2.1h-2.1zM185.6 71.0h2.1v2.1h-2.1zM185.5 69.4h2.1v2.1h-2.1zM185.5 72.6h2.1v2.1h-2.1zM185.7 72.5h2.1v2.1h-2.1zM185.7 68.9h2.1v2.1h-2.1zM185.9 70.0h2.1v2.1h-2.1zM185.8 71.4h2.1v2.1h-2.1zM185.8 79.2h2.1v2.1h-2.1zM185.8 75.5h2.1v2.1h-2.1zM185.8 68.5h2.1v2.1h-2.1zM185.8 71.8h2.1v2.1h-2.1zM185.9 68.7h2.1v2.1h-2.1zM185.8 67.3h2.1v2.1h-2.1zM185.9 72.5h2.1v2.1h-2.1zM185.7 78.8h2.1v2.1h-2.1zM185.8 76.5h2.1v2.1h-2.1zM185.7 72.3h2.1v2.1h-2.1zM185.9 71.0h2.1v2.1h-2.1zM185.7 72.7h2.1v2.1h-2.1zM185.8 75.0h2.1v2.1h-2.1zM185.9 68.0h2.1v2.1h-2.1zM185.8 67.0h2.1v2.1h-2.1zM185.9 77.2h2.1v2.1h-2.1zM185.9 72.8h2.1v2.1h-2.1zM185.8 76.6h2.1v2.1h-2.1zM185.7 72.8h2.1v2.1h-2.1zM186.0 70.7h2.1v2.1h-2.1zM186.0 65.0h2.1v2.1h-2.1zM186.1 74.7h2.1v2.1h-2.1zM186.1 74.4h2.1v2.1h-2.1zM186.0 73.3h2.1v2.1h-2.1zM186.0 67.1h2.1v2.1h-2.1zM186.0 67.8h2.1v2.1h-2.1zM186.0 74.8h2.1v2.1h-2.1zM186.1 74.1h2.1v2.1h-2.1zM186.0 73.4h2.1v2.1h-2.1zM186.0 71.3h2.1v2.1h-2.1zM186.0 73.1h2.1v2.1h-2.1zM186.1 70.3h2.1v2.1h-2.1zM186.4 75.4h2.1v2.1h-2.1zM186.3 69.8h2.1v2.1h-2.1zM186.3 75.2h2.1v2.1h-2.1zM186.2 73.3h2.1v2.1h-2.1zM186.2 67.7h2.1v2.1h-2.1zM186.4 68.8h2.1v2.1h-2.1zM186.4 70.3h2.1v2.1h-2.1zM186.3 72.0h2.1v2.1h-2.1zM186.4 74.5h2.1v2.1h-2.1zM186.4 71.2h2.1v2.1h-2.1zM186.3 74.3h2.1v2.1h-2.1zM186.3 67.3h2.1v2.1h-2.1zM186.3 63.1h2.1v2.1h-2.1zM186.3 70.8h2.1v2.1h-2.1zM186.4 73.0h2.1v2.1h-2.1zM186.3 70.7h2.1v2.1h-2.1zM186.3 68.9h2.1v2.1h-2.1zM186.2 73.0h2.1v2.1h-2.1zM186.5 71.3h2.1v2.1h-2.1zM186.6 70.0h2.1v2.1h-2.1zM186.5 73.7h2.1v2.1h-2.1zM186.5 69.7h2.1v2.1h-2.1zM186.6 72.6h2.1v2.1h-2.1zM186.5 68.5h2.1v2.1h-2.1zM186.7 71.1h2.1v2.1h-2.1zM186.5 70.5h2.1v2.1h-2.1zM186.6 71.2h2.1v2.1h-2.1zM186.6 71.9h2.1v2.1h-2.1zM186.7 70.9h2.1v2.1h-2.1zM186.6 70.9h2.1v2.1h-2.1zM186.7 65.6h2.1v2.1h-2.1zM186.7 73.6h2.1v2.1h-2.1zM186.7 71.6h2.1v2.1h-2.1zM186.7 69.9h2.1v2.1h-2.1zM186.8 74.4h2.1v2.1h-2.1zM186.9 74.8h2.1v2.1h-2.1zM186.8 68.4h2.1v2.1h-2.1zM186.9 73.8h2.1v2.1h-2.1zM186.7 72.1h2.1v2.1h-2.1zM186.9 73.8h2.1v2.1h-2.1zM186.9 72.0h2.1v2.1h-2.1zM186.9 74.4h2.1v2.1h-2.1zM186.9 74.2h2.1v2.1h-2.1zM186.9 73.8h2.1v2.1h-2.1zM187.0 73.3h2.1v2.1h-2.1zM187.0 71.2h2.1v2.1h-2.1zM187.0 74.3h2.1v2.1h-2.1zM187.0 72.0h2.1v2.1h-2.1zM187.0 73.1h2.1v2.1h-2.1zM187.2 74.9h2.1v2.1h-2.1zM187.1 71.7h2.1v2.1h-2.1zM187.1 73.9h2.1v2.1h-2.1zM187.1 71.8h2.1v2.1h-2.1zM187.0 72.7h2.1v2.1h-2.1zM187.2 69.6h2.1v2.1h-2.1zM187.0 73.4h2.1v2.1h-2.1zM187.0 74.7h2.1v2.1h-2.1zM187.0 71.1h2.1v2.1h-2.1zM187.0 73.5h2.1v2.1h-2.1zM187.4 65.2h2.1v2.1h-2.1zM187.3 75.1h2.1v2.1h-2.1zM187.4 67.1h2.1v2.1h-2.1zM187.4 71.2h2.1v2.1h-2.1zM187.4 77.2h2.1v2.1h-2.1zM187.2 65.2h2.1v2.1h-2.1zM187.3 67.2h2.1v2.1h-2.1zM187.2 74.7h2.1v2.1h-2.1zM187.2 71.6h2.1v2.1h-2.1zM187.2 69.6h2.1v2.1h-2.1zM187.2 71.0h2.1v2.1h-2.1zM187.4 68.3h2.1v2.1h-2.1zM187.3 71.3h2.1v2.1h-2.1zM187.3 75.2h2.1v2.1h-2.1zM187.3 70.0h2.1v2.1h-2.1zM187.2 71.5h2.1v2.1h-2.1zM187.3 74.4h2.1v2.1h-2.1zM187.4 76.5h2.1v2.1h-2.1zM187.4 69.4h2.1v2.1h-2.1zM187.4 71.8h2.1v2.1h-2.1zM187.4 69.4h2.1v2.1h-2.1zM187.6 70.1h2.1v2.1h-2.1zM187.7 76.0h2.1v2.1h-2.1zM187.6 69.9h2.1v2.1h-2.1zM187.7 73.0h2.1v2.1h-2.1zM187.5 73.5h2.1v2.1h-2.1zM187.6 75.3h2.1v2.1h-2.1zM187.6 67.2h2.1v2.1h-2.1zM187.5 75.1h2.1v2.1h-2.1zM187.5 70.9h2.1v2.1h-2.1zM187.6 70.5h2.1v2.1h-2.1zM187.6 69.9h2.1v2.1h-2.1zM187.5 69.8h2.1v2.1h-2.1zM187.5 70.0h2.1v2.1h-2.1zM187.7 64.4h2.1v2.1h-2.1zM187.6 72.2h2.1v2.1h-2.1zM187.7 70.9h2.1v2.1h-2.1zM187.7 68.2h2.1v2.1h-2.1zM187.9 68.0h2.1v2.1h-2.1zM187.9 68.9h2.1v2.1h-2.1zM187.8 69.4h2.1v2.1h-2.1zM187.7 70.3h2.1v2.1h-2.1zM187.9 70.9h2.1v2.1h-2.1zM187.7 70.1h2.1v2.1h-2.1zM187.9 68.2h2.1v2.1h-2.1zM187.9 74.5h2.1v2.1h-2.1zM187.8 73.1h2.1v2.1h-2.1zM187.9 70.9h2.1v2.1h-2.1zM187.7 73.3h2.1v2.1h-2.1zM187.9 71.5h2.1v2.1h-2.1zM187.9 69.8h2.1v2.1h-2.1zM187.7 70.9h2.1v2.1h-2.1zM187.9 77.8h2.1v2.1h-2.1zM187.8 73.4h2.1v2.1h-2.1zM187.8 73.5h2.1v2.1h-2.1zM187.9 69.5h2.1v2.1h-2.1zM187.9 72.2h2.1v2.1h-2.1zM187.8 76.8h2.1v2.1h-2.1zM188.1 72.9h2.1v2.1h-2.1zM188.1 72.2h2.1v2.1h-2.1zM188.0 70.9h2.1v2.1h-2.1zM188.1 67.2h2.1v2.1h-2.1zM188.1 71.8h2.1v2.1h-2.1zM188.1 66.9h2.1v2.1h-2.1zM188.1 70.9h2.1v2.1h-2.1zM188.0 70.6h2.1v2.1h-2.1zM188.1 68.8h2.1v2.1h-2.1zM188.1 68.2h2.1v2.1h-2.1zM188.2 68.4h2.1v2.1h-2.1zM188.2 75.9h2.1v2.1h-2.1zM188.1 69.7h2.1v2.1h-2.1zM188.1 69.8h2.1v2.1h-2.1zM188.0 73.0h2.1v2.1h-2.1zM188.1 71.5h2.1v2.1h-2.1zM188.0 73.3h2.1v2.1h-2.1zM188.2 67.0h2.1v2.1h-2.1zM188.1 67.5h2.1v2.1h-2.1zM188.0 79.5h2.1v2.1h-2.1zM188.0 70.3h2.1v2.1h-2.1zM188.4 68.8h2.1v2.1h-2.1zM188.4 73.8h2.1v2.1h-2.1zM188.2 69.6h2.1v2.1h-2.1zM188.3 66.7h2.1v2.1h-2.1zM188.3 69.4h2.1v2.1h-2.1zM188.3 71.7h2.1v2.1h-2.1zM188.4 67.1h2.1v2.1h-2.1zM188.4 72.2h2.1v2.1h-2.1zM188.4 72.2h2.1v2.1h-2.1zM188.2 76.0h2.1v2.1h-2.1zM188.4 68.4h2.1v2.1h-2.1zM188.4 71.9h2.1v2.1h-2.1zM188.2 65.8h2.1v2.1h-2.1zM188.4 69.0h2.1v2.1h-2.1zM188.4 70.5h2.1v2.1h-2.1zM188.4 71.3h2.1v2.1h-2.1zM188.4 70.0h2.1v2.1h-2.1zM188.2 70.1h2.1v2.1h-2.1zM188.5 69.2h2.1v2.1h-2.1zM188.5 69.2h2.1v2.1h-2.1zM188.6 72.4h2.1v2.1h-2.1zM188.5 71.3h2.1v2.1h-2.1zM188.7 73.7h2.1v2.1h-2.1zM188.5 71.0h2.1v2.1h-2.1zM188.5 72.1h2.1v2.1h-2.1zM188.6 68.5h2.1v2.1h-2.1zM188.5 67.5h2.1v2.1h-2.1zM188.7 69.9h2.1v2.1h-2.1zM188.7 62.8h2.1v2.1h-2.1zM188.7 71.0h2.1v2.1h-2.1zM188.7 72.5h2.1v2.1h-2.1zM188.5 70.3h2.1v2.1h-2.1zM188.7 69.6h2.1v2.1h-2.1zM188.8 68.0h2.1v2.1h-2.1zM188.9 70.9h2.1v2.1h-2.1zM188.8 72.1h2.1v2.1h-2.1zM188.9 73.6h2.1v2.1h-2.1zM188.9 71.1h2.1v2.1h-2.1zM188.9 67.8h2.1v2.1h-2.1zM188.9 70.4h2.1v2.1h-2.1zM188.8 71.4h2.1v2.1h-2.1zM188.7 73.6h2.1v2.1h-2.1zM188.8 64.1h2.1v2.1h-2.1zM188.7 70.9h2.1v2.1h-2.1zM188.9 64.9h2.1v2.1h-2.1zM188.8 71.8h2.1v2.1h-2.1zM189.2 72.6h2.1v2.1h-2.1zM189.0 68.3h2.1v2.1h-2.1zM189.2 67.6h2.1v2.1h-2.1zM189.1 68.4h2.1v2.1h-2.1zM189.2 67.2h2.1v2.1h-2.1zM189.1 68.9h2.1v2.1h-2.1zM189.0 73.1h2.1v2.1h-2.1zM189.1 71.7h2.1v2.1h-2.1zM189.4 67.6h2.1v2.1h-2.1zM189.3 65.1h2.1v2.1h-2.1zM189.2 68.3h2.1v2.1h-2.1zM189.4 72.0h2.1v2.1h-2.1zM189.2 71.2h2.1v2.1h-2.1zM189.3 74.9h2.1v2.1h-2.1zM189.3 69.0h2.1v2.1h-2.1zM189.2 64.8h2.1v2.1h-2.1zM189.3 71.6h2.1v2.1h-2.1zM189.4 72.1h2.1v2.1h-2.1zM189.4 66.3h2.1v2.1h-2.1zM189.3 65.1h2.1v2.1h-2.1zM189.2 69.9h2.1v2.1h-2.1zM189.3 71.3h2.1v2.1h-2.1zM189.2 66.5h2.1v2.1h-2.1zM189.3 68.5h2.1v2.1h-2.1zM189.3 67.4h2.1v2.1h-2.1zM189.5 69.6h2.1v2.1h-2.1zM189.5 69.9h2.1v2.1h-2.1zM189.5 69.9h2.1v2.1h-2.1zM189.7 67.5h2.1v2.1h-2.1zM189.7 68.5h2.1v2.1h-2.1zM189.5 64.9h2.1v2.1h-2.1zM189.6 68.2h2.1v2.1h-2.1zM189.5 67.2h2.1v2.1h-2.1zM189.5 68.6h2.1v2.1h-2.1zM189.6 71.1h2.1v2.1h-2.1zM189.6 70.2h2.1v2.1h-2.1zM189.7 70.3h2.1v2.1h-2.1zM189.7 72.0h2.1v2.1h-2.1zM189.5 62.9h2.1v2.1h-2.1zM189.8 67.7h2.1v2.1h-2.1zM189.9 70.9h2.1v2.1h-2.1zM189.8 67.1h2.1v2.1h-2.1zM189.7 66.9h2.1v2.1h-2.1zM189.8 69.9h2.1v2.1h-2.1zM189.7 67.5h2.1v2.1h-2.1zM189.8 68.3h2.1v2.1h-2.1zM189.8 63.5h2.1v2.1h-2.1zM189.8 71.1h2.1v2.1h-2.1zM189.9 68.9h2.1v2.1h-2.1zM189.9 68.5h2.1v2.1h-2.1zM189.9 70.1h2.1v2.1h-2.1zM189.9 69.5h2.1v2.1h-2.1zM189.9 67.0h2.1v2.1h-2.1zM190.1 73.3h2.1v2.1h-2.1zM190.1 67.3h2.1v2.1h-2.1zM190.2 68.0h2.1v2.1h-2.1zM190.0 66.5h2.1v2.1h-2.1zM190.0 69.2h2.1v2.1h-2.1zM190.0 69.0h2.1v2.1h-2.1zM190.0 70.8h2.1v2.1h-2.1zM190.0 69.0h2.1v2.1h-2.1zM190.2 64.8h2.1v2.1h-2.1zM190.0 66.6h2.1v2.1h-2.1zM190.1 72.5h2.1v2.1h-2.1zM190.0 71.9h2.1v2.1h-2.1zM190.2 68.2h2.1v2.1h-2.1zM190.0 68.5h2.1v2.1h-2.1zM190.0 68.3h2.1v2.1h-2.1zM190.0 68.8h2.1v2.1h-2.1zM190.2 67.9h2.1v2.1h-2.1zM190.3 66.5h2.1v2.1h-2.1zM190.3 70.9h2.1v2.1h-2.1zM190.3 66.0h2.1v2.1h-2.1zM190.3 71.0h2.1v2.1h-2.1zM190.4 64.0h2.1v2.1h-2.1zM190.3 66.2h2.1v2.1h-2.1zM190.4 64.6h2.1v2.1h-2.1zM190.3 72.1h2.1v2.1h-2.1zM190.3 63.9h2.1v2.1h-2.1zM190.4 65.5h2.1v2.1h-2.1zM190.4 70.2h2.1v2.1h-2.1zM190.4 69.1h2.1v2.1h-2.1zM190.5 67.6h2.1v2.1h-2.1zM190.7 67.6h2.1v2.1h-2.1zM190.7 69.1h2.1v2.1h-2.1zM190.5 66.6h2.1v2.1h-2.1zM190.6 67.7h2.1v2.1h-2.1zM190.7 63.7h2.1v2.1h-2.1zM190.5 70.2h2.1v2.1h-2.1zM190.6 70.9h2.1v2.1h-2.1zM190.5 69.4h2.1v2.1h-2.1zM190.6 69.6h2.1v2.1h-2.1zM190.5 69.4h2.1v2.1h-2.1zM190.7 73.7h2.1v2.1h-2.1zM190.5 69.0h2.1v2.1h-2.1zM190.7 70.3h2.1v2.1h-2.1zM190.9 64.4h2.1v2.1h-2.1zM190.9 68.4h2.1v2.1h-2.1zM190.9 70.0h2.1v2.1h-2.1zM190.7 67.5h2.1v2.1h-2.1zM190.9 70.3h2.1v2.1h-2.1zM190.9 68.6h2.1v2.1h-2.1zM190.8 71.1h2.1v2.1h-2.1zM190.9 68.5h2.1v2.1h-2.1zM190.7 67.8h2.1v2.1h-2.1zM190.7 69.6h2.1v2.1h-2.1zM190.7 70.3h2.1v2.1h-2.1zM190.8 68.8h2.1v2.1h-2.1zM190.8 67.0h2.1v2.1h-2.1zM191.0 68.5h2.1v2.1h-2.1zM191.1 68.8h2.1v2.1h-2.1zM191.0 66.9h2.1v2.1h-2.1zM191.0 65.1h2.1v2.1h-2.1zM191.1 66.7h2.1v2.1h-2.1zM191.1 66.7h2.1v2.1h-2.1zM191.2 73.8h2.1v2.1h-2.1zM191.0 72.9h2.1v2.1h-2.1zM191.1 66.6h2.1v2.1h-2.1zM191.0 66.9h2.1v2.1h-2.1zM191.2 68.7h2.1v2.1h-2.1zM191.1 69.4h2.1v2.1h-2.1zM191.2 66.0h2.1v2.1h-2.1zM191.0 65.3h2.1v2.1h-2.1zM191.1 73.1h2.1v2.1h-2.1zM191.1 70.7h2.1v2.1h-2.1zM191.0 63.8h2.1v2.1h-2.1zM191.2 63.1h2.1v2.1h-2.1zM191.1 65.6h2.1v2.1h-2.1zM191.1 68.4h2.1v2.1h-2.1zM191.0 69.4h2.1v2.1h-2.1zM191.1 66.9h2.1v2.1h-2.1zM191.1 63.6h2.1v2.1h-2.1zM191.0 68.5h2.1v2.1h-2.1zM191.0 69.6h2.1v2.1h-2.1zM191.2 67.8h2.1v2.1h-2.1zM191.0 66.6h2.1v2.1h-2.1zM191.0 69.5h2.1v2.1h-2.1zM191.0 67.8h2.1v2.1h-2.1zM191.1 64.9h2.1v2.1h-2.1zM191.0 68.2h2.1v2.1h-2.1zM191.4 68.0h2.1v2.1h-2.1zM191.3 68.7h2.1v2.1h-2.1zM191.2 68.9h2.1v2.1h-2.1zM191.2 70.9h2.1v2.1h-2.1zM191.3 69.6h2.1v2.1h-2.1zM191.3 69.7h2.1v2.1h-2.1zM191.3 65.0h2.1v2.1h-2.1zM191.4 67.2h2.1v2.1h-2.1zM191.4 76.2h2.1v2.1h-2.1zM191.2 73.9h2.1v2.1h-2.1zM191.3 69.9h2.1v2.1h-2.1zM191.3 69.7h2.1v2.1h-2.1zM191.2 70.4h2.1v2.1h-2.1zM191.3 66.6h2.1v2.1h-2.1zM191.7 66.3h2.1v2.1h-2.1zM191.5 66.8h2.1v2.1h-2.1zM191.6 70.6h2.1v2.1h-2.1zM191.5 67.8h2.1v2.1h-2.1zM191.7 62.3h2.1v2.1h-2.1zM191.5 68.9h2.1v2.1h-2.1zM191.6 59.6h2.1v2.1h-2.1zM191.5 68.3h2.1v2.1h-2.1zM191.5 66.4h2.1v2.1h-2.1zM191.6 63.7h2.1v2.1h-2.1zM191.5 67.8h2.1v2.1h-2.1zM191.6 66.6h2.1v2.1h-2.1zM191.6 72.9h2.1v2.1h-2.1zM191.5 66.4h2.1v2.1h-2.1zM191.6 72.8h2.1v2.1h-2.1zM191.6 71.3h2.1v2.1h-2.1zM191.5 65.9h2.1v2.1h-2.1zM191.6 65.2h2.1v2.1h-2.1zM191.6 71.0h2.1v2.1h-2.1zM191.9 69.5h2.1v2.1h-2.1zM191.9 67.0h2.1v2.1h-2.1zM191.9 67.6h2.1v2.1h-2.1zM191.8 70.7h2.1v2.1h-2.1zM191.9 67.4h2.1v2.1h-2.1zM191.7 63.7h2.1v2.1h-2.1zM191.8 61.9h2.1v2.1h-2.1zM191.8 67.2h2.1v2.1h-2.1zM191.9 64.1h2.1v2.1h-2.1zM191.9 68.1h2.1v2.1h-2.1zM191.9 63.7h2.1v2.1h-2.1zM191.9 66.3h2.1v2.1h-2.1zM191.7 63.4h2.1v2.1h-2.1zM191.7 66.4h2.1v2.1h-2.1zM191.7 66.2h2.1v2.1h-2.1zM191.9 68.9h2.1v2.1h-2.1zM191.8 71.0h2.1v2.1h-2.1zM191.9 66.7h2.1v2.1h-2.1zM191.8 65.0h2.1v2.1h-2.1zM192.1 65.4h2.1v2.1h-2.1zM192.2 71.5h2.1v2.1h-2.1zM192.0 64.8h2.1v2.1h-2.1zM192.1 66.1h2.1v2.1h-2.1zM192.2 64.0h2.1v2.1h-2.1zM192.2 65.7h2.1v2.1h-2.1zM192.2 68.0h2.1v2.1h-2.1zM192.0 61.5h2.1v2.1h-2.1zM192.1 59.3h2.1v2.1h-2.1zM192.0 69.0h2.1v2.1h-2.1zM192.2 67.1h2.1v2.1h-2.1zM192.1 65.4h2.1v2.1h-2.1zM192.0 69.8h2.1v2.1h-2.1zM192.1 69.8h2.1v2.1h-2.1zM192.1 61.4h2.1v2.1h-2.1zM192.2 66.6h2.1v2.1h-2.1zM192.1 70.1h2.1v2.1h-2.1zM192.0 65.4h2.1v2.1h-2.1zM192.1 66.2h2.1v2.1h-2.1zM192.0 69.8h2.1v2.1h-2.1zM192.0 66.4h2.1v2.1h-2.1zM192.1 63.8h2.1v2.1h-2.1zM192.1 65.2h2.1v2.1h-2.1zM192.4 68.7h2.1v2.1h-2.1zM192.4 64.8h2.1v2.1h-2.1zM192.3 65.8h2.1v2.1h-2.1zM192.3 63.4h2.1v2.1h-2.1zM192.3 66.1h2.1v2.1h-2.1zM192.3 66.4h2.1v2.1h-2.1zM192.3 69.2h2.1v2.1h-2.1zM192.3 63.5h2.1v2.1h-2.1zM192.4 75.7h2.1v2.1h-2.1zM192.4 66.5h2.1v2.1h-2.1zM192.3 70.4h2.1v2.1h-2.1zM192.4 69.7h2.1v2.1h-2.1zM192.2 60.1h2.1v2.1h-2.1zM192.4 66.1h2.1v2.1h-2.1zM192.3 71.0h2.1v2.1h-2.1zM192.3 60.2h2.1v2.1h-2.1zM192.3 69.0h2.1v2.1h-2.1zM192.2 64.5h2.1v2.1h-2.1zM192.5 64.7h2.1v2.1h-2.1zM192.5 67.5h2.1v2.1h-2.1zM192.6 70.9h2.1v2.1h-2.1zM192.7 67.2h2.1v2.1h-2.1zM192.5 69.2h2.1v2.1h-2.1zM192.5 66.1h2.1v2.1h-2.1zM192.5 73.7h2.1v2.1h-2.1zM192.6 62.1h2.1v2.1h-2.1zM192.5 68.4h2.1v2.1h-2.1zM192.6 68.2h2.1v2.1h-2.1zM192.9 69.6h2.1v2.1h-2.1zM192.7 62.6h2.1v2.1h-2.1zM192.9 66.2h2.1v2.1h-2.1zM192.8 65.4h2.1v2.1h-2.1zM192.9 65.4h2.1v2.1h-2.1zM192.8 63.1h2.1v2.1h-2.1zM192.8 65.4h2.1v2.1h-2.1zM192.9 63.4h2.1v2.1h-2.1zM192.8 67.4h2.1v2.1h-2.1zM192.7 66.7h2.1v2.1h-2.1zM192.9 62.6h2.1v2.1h-2.1zM192.8 61.8h2.1v2.1h-2.1zM192.9 65.1h2.1v2.1h-2.1zM192.9 68.2h2.1v2.1h-2.1zM192.9 67.8h2.1v2.1h-2.1zM193.2 69.9h2.1v2.1h-2.1zM193.1 66.8h2.1v2.1h-2.1zM193.2 63.5h2.1v2.1h-2.1zM193.1 61.5h2.1v2.1h-2.1zM193.2 64.3h2.1v2.1h-2.1zM193.1 66.1h2.1v2.1h-2.1zM193.0 67.4h2.1v2.1h-2.1zM193.1 69.2h2.1v2.1h-2.1zM193.1 64.7h2.1v2.1h-2.1zM193.2 64.0h2.1v2.1h-2.1zM193.2 68.3h2.1v2.1h-2.1zM193.2 69.4h2.1v2.1h-2.1zM193.1 64.9h2.1v2.1h-2.1zM193.2 65.2h2.1v2.1h-2.1zM193.4 67.4h2.1v2.1h-2.1zM193.4 62.2h2.1v2.1h-2.1zM193.2 62.2h2.1v2.1h-2.1zM193.4 66.6h2.1v2.1h-2.1zM193.2 63.5h2.1v2.1h-2.1zM193.3 67.9h2.1v2.1h-2.1zM193.3 62.9h2.1v2.1h-2.1zM193.3 61.1h2.1v2.1h-2.1zM193.3 64.0h2.1v2.1h-2.1zM193.2 70.2h2.1v2.1h-2.1zM193.3 63.7h2.1v2.1h-2.1zM193.2 66.1h2.1v2.1h-2.1zM193.4 66.7h2.1v2.1h-2.1zM193.3 63.5h2.1v2.1h-2.1zM193.4 69.0h2.1v2.1h-2.1zM193.4 66.5h2.1v2.1h-2.1zM193.4 67.2h2.1v2.1h-2.1zM193.4 61.4h2.1v2.1h-2.1zM193.7 63.5h2.1v2.1h-2.1zM193.7 67.5h2.1v2.1h-2.1zM193.7 65.1h2.1v2.1h-2.1zM193.5 65.0h2.1v2.1h-2.1zM193.7 68.0h2.1v2.1h-2.1zM193.5 63.8h2.1v2.1h-2.1zM193.7 62.9h2.1v2.1h-2.1zM193.6 67.6h2.1v2.1h-2.1zM193.7 66.1h2.1v2.1h-2.1zM193.8 64.1h2.1v2.1h-2.1zM193.9 73.4h2.1v2.1h-2.1zM193.9 65.0h2.1v2.1h-2.1zM193.9 67.1h2.1v2.1h-2.1zM193.9 69.3h2.1v2.1h-2.1zM193.9 61.9h2.1v2.1h-2.1zM193.8 63.4h2.1v2.1h-2.1zM193.9 64.5h2.1v2.1h-2.1zM194.1 66.4h2.1v2.1h-2.1zM194.1 66.4h2.1v2.1h-2.1zM194.1 65.0h2.1v2.1h-2.1zM194.0 64.4h2.1v2.1h-2.1zM194.1 71.1h2.1v2.1h-2.1zM194.0 60.5h2.1v2.1h-2.1zM194.2 68.7h2.1v2.1h-2.1zM194.2 66.4h2.1v2.1h-2.1zM194.0 65.8h2.1v2.1h-2.1zM194.0 64.2h2.1v2.1h-2.1zM194.0 64.9h2.1v2.1h-2.1zM194.1 62.2h2.1v2.1h-2.1zM194.1 61.7h2.1v2.1h-2.1zM194.0 65.2h2.1v2.1h-2.1zM194.1 61.0h2.1v2.1h-2.1zM194.1 67.8h2.1v2.1h-2.1zM194.3 67.6h2.1v2.1h-2.1zM194.3 70.2h2.1v2.1h-2.1zM194.3 65.4h2.1v2.1h-2.1zM194.4 67.6h2.1v2.1h-2.1zM194.4 60.8h2.1v2.1h-2.1zM194.3 65.0h2.1v2.1h-2.1zM194.3 62.0h2.1v2.1h-2.1zM194.5 67.6h2.1v2.1h-2.1zM194.5 69.3h2.1v2.1h-2.1zM194.5 64.7h2.1v2.1h-2.1zM194.5 63.9h2.1v2.1h-2.1zM194.5 69.6h2.1v2.1h-2.1zM194.7 63.8h2.1v2.1h-2.1zM194.7 69.0h2.1v2.1h-2.1zM194.7 65.6h2.1v2.1h-2.1zM194.6 65.7h2.1v2.1h-2.1zM194.6 64.5h2.1v2.1h-2.1zM194.5 66.0h2.1v2.1h-2.1zM194.5 63.9h2.1v2.1h-2.1zM194.6 63.2h2.1v2.1h-2.1zM194.6 64.7h2.1v2.1h-2.1zM194.6 63.3h2.1v2.1h-2.1zM194.6 65.9h2.1v2.1h-2.1zM194.7 66.2h2.1v2.1h-2.1zM194.9 60.4h2.1v2.1h-2.1zM194.8 62.0h2.1v2.1h-2.1zM194.9 57.7h2.1v2.1h-2.1zM194.8 67.1h2.1v2.1h-2.1zM194.8 67.9h2.1v2.1h-2.1zM194.7 68.5h2.1v2.1h-2.1zM194.8 65.3h2.1v2.1h-2.1zM194.9 68.0h2.1v2.1h-2.1zM194.8 64.8h2.1v2.1h-2.1zM194.8 64.6h2.1v2.1h-2.1zM194.9 60.6h2.1v2.1h-2.1zM195.2 64.2h2.1v2.1h-2.1zM195.2 64.1h2.1v2.1h-2.1zM195.0 64.3h2.1v2.1h-2.1zM195.1 66.0h2.1v2.1h-2.1zM195.1 62.2h2.1v2.1h-2.1zM195.0 67.1h2.1v2.1h-2.1zM195.1 60.2h2.1v2.1h-2.1zM195.1 64.8h2.1v2.1h-2.1zM195.0 65.8h2.1v2.1h-2.1zM195.0 62.6h2.1v2.1h-2.1zM195.2 60.3h2.1v2.1h-2.1zM195.1 66.4h2.1v2.1h-2.1zM195.4 64.1h2.1v2.1h-2.1zM195.3 62.0h2.1v2.1h-2.1zM195.2 60.7h2.1v2.1h-2.1zM195.3 67.6h2.1v2.1h-2.1zM195.4 62.7h2.1v2.1h-2.1zM195.4 65.1h2.1v2.1h-2.1zM195.2 60.5h2.1v2.1h-2.1zM195.3 64.9h2.1v2.1h-2.1zM195.4 62.2h2.1v2.1h-2.1zM195.4 72.5h2.1v2.1h-2.1zM195.4 61.7h2.1v2.1h-2.1zM195.6 64.1h2.1v2.1h-2.1zM195.5 67.9h2.1v2.1h-2.1zM195.6 63.5h2.1v2.1h-2.1zM195.5 65.3h2.1v2.1h-2.1zM195.5 64.6h2.1v2.1h-2.1zM195.5 64.8h2.1v2.1h-2.1zM195.6 63.7h2.1v2.1h-2.1zM195.5 64.0h2.1v2.1h-2.1zM195.6 68.8h2.1v2.1h-2.1zM195.5 62.5h2.1v2.1h-2.1zM195.6 62.8h2.1v2.1h-2.1zM195.7 63.3h2.1v2.1h-2.1zM195.7 65.7h2.1v2.1h-2.1zM195.5 65.5h2.1v2.1h-2.1zM195.7 66.7h2.1v2.1h-2.1zM195.9 63.0h2.1v2.1h-2.1zM195.9 65.6h2.1v2.1h-2.1zM195.8 63.5h2.1v2.1h-2.1zM195.8 61.9h2.1v2.1h-2.1zM195.9 61.6h2.1v2.1h-2.1zM195.8 63.1h2.1v2.1h-2.1zM195.8 67.6h2.1v2.1h-2.1zM195.9 66.2h2.1v2.1h-2.1zM195.7 62.3h2.1v2.1h-2.1zM196.1 63.8h2.1v2.1h-2.1zM196.2 63.3h2.1v2.1h-2.1zM196.1 62.7h2.1v2.1h-2.1zM196.2 58.0h2.1v2.1h-2.1zM196.2 63.5h2.1v2.1h-2.1zM196.0 63.9h2.1v2.1h-2.1zM196.0 61.5h2.1v2.1h-2.1zM196.2 63.6h2.1v2.1h-2.1zM196.4 62.2h2.1v2.1h-2.1zM196.4 62.0h2.1v2.1h-2.1zM196.3 66.6h2.1v2.1h-2.1zM196.4 64.2h2.1v2.1h-2.1zM196.3 67.3h2.1v2.1h-2.1zM196.4 59.8h2.1v2.1h-2.1zM196.3 64.4h2.1v2.1h-2.1zM196.4 62.2h2.1v2.1h-2.1zM196.3 63.0h2.1v2.1h-2.1zM196.3 58.7h2.1v2.1h-2.1zM196.7 65.7h2.1v2.1h-2.1zM196.6 60.3h2.1v2.1h-2.1zM196.6 63.6h2.1v2.1h-2.1zM196.6 62.6h2.1v2.1h-2.1zM196.5 63.8h2.1v2.1h-2.1zM196.7 63.3h2.1v2.1h-2.1zM196.6 61.8h2.1v2.1h-2.1zM196.5 62.7h2.1v2.1h-2.1zM196.6 66.0h2.1v2.1h-2.1zM196.5 62.1h2.1v2.1h-2.1zM196.5 60.3h2.1v2.1h-2.1zM196.7 66.2h2.1v2.1h-2.1zM196.8 68.7h2.1v2.1h-2.1zM196.7 64.4h2.1v2.1h-2.1zM196.9 65.8h2.1v2.1h-2.1zM196.8 60.4h2.1v2.1h-2.1zM196.9 66.4h2.1v2.1h-2.1zM196.7 65.7h2.1v2.1h-2.1zM196.9 66.9h2.1v2.1h-2.1zM196.9 65.1h2.1v2.1h-2.1zM196.9 64.5h2.1v2.1h-2.1zM196.9 67.2h2.1v2.1h-2.1zM197.1 61.7h2.1v2.1h-2.1zM197.2 62.1h2.1v2.1h-2.1zM197.1 60.4h2.1v2.1h-2.1zM197.1 61.2h2.1v2.1h-2.1zM197.2 63.5h2.1v2.1h-2.1zM197.1 64.9h2.1v2.1h-2.1zM197.0 63.5h2.1v2.1h-2.1zM197.1 65.4h2.1v2.1h-2.1zM197.0 63.8h2.1v2.1h-2.1zM197.0 60.2h2.1v2.1h-2.1zM197.1 67.0h2.1v2.1h-2.1zM197.0 66.4h2.1v2.1h-2.1zM197.1 61.3h2.1v2.1h-2.1zM197.1 67.8h2.1v2.1h-2.1zM197.1 64.4h2.1v2.1h-2.1zM197.0 63.6h2.1v2.1h-2.1zM197.4 58.8h2.1v2.1h-2.1zM197.2 61.7h2.1v2.1h-2.1zM197.3 67.3h2.1v2.1h-2.1zM197.2 64.5h2.1v2.1h-2.1zM197.4 65.1h2.1v2.1h-2.1zM197.2 64.7h2.1v2.1h-2.1zM197.4 63.9h2.1v2.1h-2.1zM197.2 65.6h2.1v2.1h-2.1zM197.4 59.9h2.1v2.1h-2.1zM197.4 62.0h2.1v2.1h-2.1zM197.3 65.3h2.1v2.1h-2.1zM197.3 61.1h2.1v2.1h-2.1zM197.3 61.9h2.1v2.1h-2.1zM197.7 63.6h2.1v2.1h-2.1zM197.7 63.0h2.1v2.1h-2.1zM197.7 61.3h2.1v2.1h-2.1zM197.5 63.6h2.1v2.1h-2.1zM197.6 63.5h2.1v2.1h-2.1zM197.6 62.7h2.1v2.1h-2.1zM197.7 61.5h2.1v2.1h-2.1zM197.5 65.1h2.1v2.1h-2.1zM197.6 58.7h2.1v2.1h-2.1zM197.6 65.0h2.1v2.1h-2.1zM197.5 63.0h2.1v2.1h-2.1zM197.6 63.6h2.1v2.1h-2.1zM197.6 56.6h2.1v2.1h-2.1zM197.7 67.2h2.1v2.1h-2.1zM197.7 58.3h2.1v2.1h-2.1zM197.7 60.8h2.1v2.1h-2.1zM197.9 67.7h2.1v2.1h-2.1zM197.7 60.5h2.1v2.1h-2.1zM197.8 65.9h2.1v2.1h-2.1zM197.8 62.9h2.1v2.1h-2.1zM197.8 66.6h2.1v2.1h-2.1zM197.8 61.0h2.1v2.1h-2.1zM197.8 64.0h2.1v2.1h-2.1zM197.9 63.5h2.1v2.1h-2.1zM197.9 62.0h2.1v2.1h-2.1zM198.0 60.2h2.1v2.1h-2.1zM198.1 66.0h2.1v2.1h-2.1zM198.0 63.6h2.1v2.1h-2.1zM198.0 64.8h2.1v2.1h-2.1zM198.2 60.4h2.1v2.1h-2.1zM198.1 61.4h2.1v2.1h-2.1zM198.1 65.1h2.1v2.1h-2.1zM198.0 58.8h2.1v2.1h-2.1zM198.3 64.7h2.1v2.1h-2.1zM198.3 63.2h2.1v2.1h-2.1zM198.3 66.8h2.1v2.1h-2.1zM198.4 61.9h2.1v2.1h-2.1zM198.4 63.8h2.1v2.1h-2.1zM198.3 59.7h2.1v2.1h-2.1zM198.3 62.7h2.1v2.1h-2.1zM198.2 66.4h2.1v2.1h-2.1zM198.4 63.5h2.1v2.1h-2.1zM198.3 62.7h2.1v2.1h-2.1zM198.3 57.1h2.1v2.1h-2.1zM198.3 61.3h2.1v2.1h-2.1zM198.5 62.7h2.1v2.1h-2.1zM198.6 56.4h2.1v2.1h-2.1zM198.6 67.0h2.1v2.1h-2.1zM198.5 62.4h2.1v2.1h-2.1zM198.7 60.8h2.1v2.1h-2.1zM198.5 63.9h2.1v2.1h-2.1zM198.6 63.4h2.1v2.1h-2.1zM198.5 59.0h2.1v2.1h-2.1zM198.6 66.3h2.1v2.1h-2.1zM198.5 61.5h2.1v2.1h-2.1zM198.6 57.4h2.1v2.1h-2.1zM198.8 64.4h2.1v2.1h-2.1zM198.7 58.0h2.1v2.1h-2.1zM198.9 57.5h2.1v2.1h-2.1zM198.8 60.0h2.1v2.1h-2.1zM198.9 62.0h2.1v2.1h-2.1zM198.9 63.0h2.1v2.1h-2.1zM198.7 61.4h2.1v2.1h-2.1zM199.0 62.2h2.1v2.1h-2.1zM199.0 61.8h2.1v2.1h-2.1zM199.1 60.1h2.1v2.1h-2.1zM199.1 58.6h2.1v2.1h-2.1zM199.0 61.9h2.1v2.1h-2.1zM199.0 62.2h2.1v2.1h-2.1zM199.1 63.1h2.1v2.1h-2.1zM199.0 65.1h2.1v2.1h-2.1zM199.0 60.9h2.1v2.1h-2.1zM199.0 56.5h2.1v2.1h-2.1zM199.0 61.4h2.1v2.1h-2.1zM199.2 56.7h2.1v2.1h-2.1zM199.0 58.3h2.1v2.1h-2.1zM199.4 63.4h2.1v2.1h-2.1zM199.2 60.4h2.1v2.1h-2.1zM199.3 59.4h2.1v2.1h-2.1zM199.3 61.2h2.1v2.1h-2.1zM199.4 62.7h2.1v2.1h-2.1zM199.3 62.6h2.1v2.1h-2.1zM199.4 65.6h2.1v2.1h-2.1zM199.4 63.6h2.1v2.1h-2.1zM199.4 54.4h2.1v2.1h-2.1zM199.4 60.4h2.1v2.1h-2.1zM199.3 56.3h2.1v2.1h-2.1zM199.3 60.5h2.1v2.1h-2.1zM199.7 59.2h2.1v2.1h-2.1zM199.5 57.7h2.1v2.1h-2.1zM199.6 61.6h2.1v2.1h-2.1zM199.6 64.9h2.1v2.1h-2.1zM199.6 55.0h2.1v2.1h-2.1zM199.5 55.6h2.1v2.1h-2.1zM199.6 65.0h2.1v2.1h-2.1zM199.5 57.1h2.1v2.1h-2.1zM199.6 62.1h2.1v2.1h-2.1zM199.5 58.0h2.1v2.1h-2.1zM199.5 63.5h2.1v2.1h-2.1zM199.7 63.3h2.1v2.1h-2.1zM199.6 61.7h2.1v2.1h-2.1zM199.5 63.6h2.1v2.1h-2.1zM199.5 61.5h2.1v2.1h-2.1zM199.9 61.2h2.1v2.1h-2.1zM199.8 62.1h2.1v2.1h-2.1zM199.8 61.2h2.1v2.1h-2.1zM199.9 62.7h2.1v2.1h-2.1zM199.7 58.0h2.1v2.1h-2.1zM199.7 65.4h2.1v2.1h-2.1zM199.9 62.0h2.1v2.1h-2.1zM199.9 62.2h2.1v2.1h-2.1zM200.1 56.0h2.1v2.1h-2.1zM200.0 61.2h2.1v2.1h-2.1zM200.0 64.3h2.1v2.1h-2.1zM200.0 63.6h2.1v2.1h-2.1zM200.2 64.2h2.1v2.1h-2.1zM200.1 57.5h2.1v2.1h-2.1zM200.1 58.4h2.1v2.1h-2.1zM200.0 62.6h2.1v2.1h-2.1zM200.4 59.4h2.1v2.1h-2.1zM200.2 61.5h2.1v2.1h-2.1zM200.3 57.0h2.1v2.1h-2.1zM200.3 56.8h2.1v2.1h-2.1zM200.3 62.0h2.1v2.1h-2.1zM200.4 61.3h2.1v2.1h-2.1zM200.4 58.2h2.1v2.1h-2.1zM200.5 66.1h2.1v2.1h-2.1zM200.7 64.2h2.1v2.1h-2.1zM200.7 60.9h2.1v2.1h-2.1zM200.6 59.8h2.1v2.1h-2.1zM200.6 61.3h2.1v2.1h-2.1zM200.6 60.8h2.1v2.1h-2.1zM200.5 63.8h2.1v2.1h-2.1zM200.7 57.9h2.1v2.1h-2.1zM200.6 60.6h2.1v2.1h-2.1zM200.8 60.2h2.1v2.1h-2.1zM200.9 65.3h2.1v2.1h-2.1zM200.9 60.3h2.1v2.1h-2.1zM200.9 59.8h2.1v2.1h-2.1zM200.9 61.5h2.1v2.1h-2.1zM200.7 61.1h2.1v2.1h-2.1zM200.8 56.7h2.1v2.1h-2.1zM200.9 60.7h2.1v2.1h-2.1zM200.9 59.5h2.1v2.1h-2.1zM200.8 64.1h2.1v2.1h-2.1zM200.7 66.8h2.1v2.1h-2.1zM201.0 63.1h2.1v2.1h-2.1zM201.1 63.7h2.1v2.1h-2.1zM201.0 56.2h2.1v2.1h-2.1zM201.0 55.9h2.1v2.1h-2.1zM201.1 60.5h2.1v2.1h-2.1zM201.1 63.1h2.1v2.1h-2.1zM201.0 62.9h2.1v2.1h-2.1zM201.1 60.7h2.1v2.1h-2.1zM201.3 60.0h2.1v2.1h-2.1zM201.4 62.8h2.1v2.1h-2.1zM201.4 56.6h2.1v2.1h-2.1zM201.3 63.0h2.1v2.1h-2.1zM201.3 65.6h2.1v2.1h-2.1zM201.2 61.1h2.1v2.1h-2.1zM201.7 62.5h2.1v2.1h-2.1zM201.6 62.1h2.1v2.1h-2.1zM201.7 58.0h2.1v2.1h-2.1zM201.5 64.5h2.1v2.1h-2.1zM201.7 58.8h2.1v2.1h-2.1zM201.5 64.7h2.1v2.1h-2.1zM201.6 62.6h2.1v2.1h-2.1zM201.6 57.4h2.1v2.1h-2.1zM201.5 58.7h2.1v2.1h-2.1zM201.9 59.4h2.1v2.1h-2.1zM201.8 60.8h2.1v2.1h-2.1zM201.9 56.8h2.1v2.1h-2.1zM201.8 63.3h2.1v2.1h-2.1zM201.7 58.1h2.1v2.1h-2.1zM201.8 60.6h2.1v2.1h-2.1zM201.9 59.4h2.1v2.1h-2.1zM201.8 62.1h2.1v2.1h-2.1zM201.9 58.5h2.1v2.1h-2.1zM201.9 56.9h2.1v2.1h-2.1zM201.7 54.7h2.1v2.1h-2.1zM201.9 58.7h2.1v2.1h-2.1zM201.7 56.5h2.1v2.1h-2.1zM201.8 61.1h2.1v2.1h-2.1zM201.8 63.4h2.1v2.1h-2.1zM201.9 53.6h2.1v2.1h-2.1zM201.7 56.3h2.1v2.1h-2.1zM201.8 60.4h2.1v2.1h-2.1zM201.7 62.9h2.1v2.1h-2.1zM201.7 60.5h2.1v2.1h-2.1zM201.8 60.5h2.1v2.1h-2.1zM201.8 60.9h2.1v2.1h-2.1zM202.0 61.3h2.1v2.1h-2.1zM202.0 58.4h2.1v2.1h-2.1zM202.2 56.4h2.1v2.1h-2.1zM202.1 57.5h2.1v2.1h-2.1zM202.0 59.5h2.1v2.1h-2.1zM202.0 65.0h2.1v2.1h-2.1zM202.0 60.1h2.1v2.1h-2.1zM202.0 63.4h2.1v2.1h-2.1zM202.4 55.0h2.1v2.1h-2.1zM202.3 57.6h2.1v2.1h-2.1zM202.3 62.3h2.1v2.1h-2.1zM202.4 60.9h2.1v2.1h-2.1zM202.4 54.6h2.1v2.1h-2.1zM202.4 58.8h2.1v2.1h-2.1zM202.3 57.8h2.1v2.1h-2.1zM202.6 55.5h2.1v2.1h-2.1zM202.5 59.5h2.1v2.1h-2.1zM202.7 57.3h2.1v2.1h-2.1zM202.7 61.0h2.1v2.1h-2.1zM202.7 61.6h2.1v2.1h-2.1zM202.5 59.2h2.1v2.1h-2.1zM202.6 57.9h2.1v2.1h-2.1zM202.6 59.7h2.1v2.1h-2.1zM202.8 54.9h2.1v2.1h-2.1zM202.8 58.9h2.1v2.1h-2.1zM202.9 58.6h2.1v2.1h-2.1zM202.7 59.4h2.1v2.1h-2.1zM202.7 58.2h2.1v2.1h-2.1zM202.7 60.2h2.1v2.1h-2.1zM202.7 57.6h2.1v2.1h-2.1zM203.1 54.6h2.1v2.1h-2.1zM203.2 58.0h2.1v2.1h-2.1zM203.1 60.9h2.1v2.1h-2.1zM203.1 60.4h2.1v2.1h-2.1zM203.0 56.0h2.1v2.1h-2.1zM203.1 55.3h2.1v2.1h-2.1zM203.1 60.9h2.1v2.1h-2.1zM203.1 55.2h2.1v2.1h-2.1zM203.0 60.1h2.1v2.1h-2.1zM203.2 57.1h2.1v2.1h-2.1zM203.2 56.5h2.1v2.1h-2.1zM203.4 62.8h2.1v2.1h-2.1zM203.3 55.0h2.1v2.1h-2.1zM203.4 58.4h2.1v2.1h-2.1zM203.3 58.6h2.1v2.1h-2.1zM203.4 52.5h2.1v2.1h-2.1zM203.5 55.0h2.1v2.1h-2.1zM203.6 57.5h2.1v2.1h-2.1zM203.6 55.9h2.1v2.1h-2.1zM203.6 56.8h2.1v2.1h-2.1zM203.7 59.3h2.1v2.1h-2.1zM203.5 56.7h2.1v2.1h-2.1zM203.5 58.8h2.1v2.1h-2.1zM203.5 55.5h2.1v2.1h-2.1zM203.5 61.9h2.1v2.1h-2.1zM203.5 56.5h2.1v2.1h-2.1zM203.6 60.8h2.1v2.1h-2.1zM203.6 63.8h2.1v2.1h-2.1zM203.6 51.6h2.1v2.1h-2.1zM203.7 55.4h2.1v2.1h-2.1zM203.8 59.6h2.1v2.1h-2.1zM203.9 59.2h2.1v2.1h-2.1zM203.8 53.6h2.1v2.1h-2.1zM203.9 59.4h2.1v2.1h-2.1zM203.9 57.4h2.1v2.1h-2.1zM203.9 61.2h2.1v2.1h-2.1zM203.8 61.4h2.1v2.1h-2.1zM203.9 56.2h2.1v2.1h-2.1zM203.9 56.3h2.1v2.1h-2.1zM203.9 58.4h2.1v2.1h-2.1zM203.9 59.6h2.1v2.1h-2.1zM203.8 56.9h2.1v2.1h-2.1zM203.8 57.7h2.1v2.1h-2.1zM203.9 59.5h2.1v2.1h-2.1zM203.7 59.1h2.1v2.1h-2.1zM204.2 56.9h2.1v2.1h-2.1zM204.2 53.4h2.1v2.1h-2.1zM204.1 56.6h2.1v2.1h-2.1zM204.1 50.8h2.1v2.1h-2.1zM204.0 56.7h2.1v2.1h-2.1zM204.4 64.3h2.1v2.1h-2.1zM204.2 55.0h2.1v2.1h-2.1zM204.2 66.9h2.1v2.1h-2.1zM204.4 57.2h2.1v2.1h-2.1zM204.3 60.2h2.1v2.1h-2.1zM204.3 56.0h2.1v2.1h-2.1zM204.3 56.8h2.1v2.1h-2.1zM204.4 54.1h2.1v2.1h-2.1zM204.2 54.8h2.1v2.1h-2.1zM204.3 51.7h2.1v2.1h-2.1zM204.3 60.5h2.1v2.1h-2.1zM204.6 57.5h2.1v2.1h-2.1zM204.6 60.9h2.1v2.1h-2.1zM204.5 61.3h2.1v2.1h-2.1zM204.5 58.1h2.1v2.1h-2.1zM204.7 59.7h2.1v2.1h-2.1zM204.5 57.7h2.1v2.1h-2.1zM204.6 60.1h2.1v2.1h-2.1zM204.5 57.6h2.1v2.1h-2.1zM204.6 58.2h2.1v2.1h-2.1zM204.5 56.6h2.1v2.1h-2.1zM204.9 58.1h2.1v2.1h-2.1zM204.8 57.7h2.1v2.1h-2.1zM204.9 54.1h2.1v2.1h-2.1zM204.8 55.1h2.1v2.1h-2.1zM204.8 55.3h2.1v2.1h-2.1zM204.7 58.4h2.1v2.1h-2.1zM204.7 54.4h2.1v2.1h-2.1zM204.8 60.9h2.1v2.1h-2.1zM204.9 58.0h2.1v2.1h-2.1zM204.9 51.1h2.1v2.1h-2.1zM205.2 59.2h2.1v2.1h-2.1zM205.0 56.7h2.1v2.1h-2.1zM205.2 57.2h2.1v2.1h-2.1zM205.0 58.5h2.1v2.1h-2.1zM205.2 53.8h2.1v2.1h-2.1zM205.2 58.8h2.1v2.1h-2.1zM205.2 51.0h2.1v2.1h-2.1zM205.1 60.7h2.1v2.1h-2.1zM205.1 52.5h2.1v2.1h-2.1zM205.0 55.2h2.1v2.1h-2.1zM205.3 60.9h2.1v2.1h-2.1zM205.4 54.9h2.1v2.1h-2.1zM205.3 57.0h2.1v2.1h-2.1zM205.4 59.6h2.1v2.1h-2.1zM205.2 51.9h2.1v2.1h-2.1zM205.3 54.6h2.1v2.1h-2.1zM205.2 56.5h2.1v2.1h-2.1zM205.4 54.5h2.1v2.1h-2.1zM205.3 62.3h2.1v2.1h-2.1zM205.4 58.8h2.1v2.1h-2.1zM205.4 57.0h2.1v2.1h-2.1zM205.2 54.0h2.1v2.1h-2.1zM205.5 58.2h2.1v2.1h-2.1zM205.5 56.6h2.1v2.1h-2.1zM205.5 55.0h2.1v2.1h-2.1zM205.7 57.3h2.1v2.1h-2.1zM205.5 60.9h2.1v2.1h-2.1zM205.5 56.8h2.1v2.1h-2.1zM205.5 54.5h2.1v2.1h-2.1zM205.6 57.2h2.1v2.1h-2.1zM205.9 54.8h2.1v2.1h-2.1zM205.9 54.6h2.1v2.1h-2.1zM205.9 61.4h2.1v2.1h-2.1zM205.8 58.5h2.1v2.1h-2.1zM205.9 53.1h2.1v2.1h-2.1zM205.8 54.8h2.1v2.1h-2.1zM205.9 55.3h2.1v2.1h-2.1zM205.9 53.9h2.1v2.1h-2.1zM205.8 50.9h2.1v2.1h-2.1zM205.8 58.2h2.1v2.1h-2.1zM205.8 58.1h2.1v2.1h-2.1zM205.7 56.8h2.1v2.1h-2.1zM205.7 55.1h2.1v2.1h-2.1zM205.9 56.5h2.1v2.1h-2.1zM206.1 51.2h2.1v2.1h-2.1zM206.1 57.2h2.1v2.1h-2.1zM206.0 54.5h2.1v2.1h-2.1zM206.1 59.0h2.1v2.1h-2.1zM206.0 57.3h2.1v2.1h-2.1zM206.0 57.5h2.1v2.1h-2.1zM206.0 56.3h2.1v2.1h-2.1zM206.2 59.2h2.1v2.1h-2.1zM206.0 55.0h2.1v2.1h-2.1zM206.0 53.2h2.1v2.1h-2.1zM206.0 56.8h2.1v2.1h-2.1zM206.1 48.5h2.1v2.1h-2.1zM206.2 54.7h2.1v2.1h-2.1zM206.0 56.4h2.1v2.1h-2.1zM206.2 57.6h2.1v2.1h-2.1zM206.2 57.3h2.1v2.1h-2.1zM206.3 52.3h2.1v2.1h-2.1zM206.4 53.5h2.1v2.1h-2.1zM206.2 51.8h2.1v2.1h-2.1zM206.3 51.3h2.1v2.1h-2.1zM206.4 51.9h2.1v2.1h-2.1zM206.2 51.4h2.1v2.1h-2.1zM206.3 55.1h2.1v2.1h-2.1zM206.4 56.6h2.1v2.1h-2.1zM206.4 57.2h2.1v2.1h-2.1zM206.5 54.2h2.1v2.1h-2.1zM206.6 52.3h2.1v2.1h-2.1zM206.5 55.2h2.1v2.1h-2.1zM206.6 56.4h2.1v2.1h-2.1zM206.5 62.2h2.1v2.1h-2.1zM206.6 51.7h2.1v2.1h-2.1zM206.6 58.6h2.1v2.1h-2.1zM206.6 53.7h2.1v2.1h-2.1zM206.6 56.1h2.1v2.1h-2.1zM206.5 57.8h2.1v2.1h-2.1zM206.8 56.7h2.1v2.1h-2.1zM206.7 58.6h2.1v2.1h-2.1zM206.8 54.2h2.1v2.1h-2.1zM206.8 55.3h2.1v2.1h-2.1zM206.7 55.9h2.1v2.1h-2.1zM206.7 58.0h2.1v2.1h-2.1zM206.8 54.9h2.1v2.1h-2.1zM206.7 52.3h2.1v2.1h-2.1zM206.8 58.0h2.1v2.1h-2.1zM206.7 56.3h2.1v2.1h-2.1zM206.7 56.2h2.1v2.1h-2.1zM206.7 51.8h2.1v2.1h-2.1zM206.9 55.0h2.1v2.1h-2.1zM207.0 56.5h2.1v2.1h-2.1zM207.0 53.1h2.1v2.1h-2.1zM207.2 56.0h2.1v2.1h-2.1zM207.2 51.0h2.1v2.1h-2.1zM207.1 58.5h2.1v2.1h-2.1zM207.0 52.3h2.1v2.1h-2.1zM207.2 57.9h2.1v2.1h-2.1zM207.0 53.8h2.1v2.1h-2.1zM207.0 56.4h2.1v2.1h-2.1zM207.1 54.5h2.1v2.1h-2.1zM207.0 56.7h2.1v2.1h-2.1zM207.2 54.9h2.1v2.1h-2.1zM207.2 55.4h2.1v2.1h-2.1zM207.3 49.7h2.1v2.1h-2.1zM207.2 56.1h2.1v2.1h-2.1zM207.4 52.0h2.1v2.1h-2.1zM207.3 58.4h2.1v2.1h-2.1zM207.5 53.3h2.1v2.1h-2.1zM207.6 54.0h2.1v2.1h-2.1zM207.5 53.3h2.1v2.1h-2.1zM207.6 53.8h2.1v2.1h-2.1zM207.7 57.6h2.1v2.1h-2.1zM207.6 55.6h2.1v2.1h-2.1zM207.5 51.0h2.1v2.1h-2.1zM207.5 53.4h2.1v2.1h-2.1zM207.8 53.5h2.1v2.1h-2.1zM207.9 55.5h2.1v2.1h-2.1zM207.7 51.0h2.1v2.1h-2.1zM207.9 56.3h2.1v2.1h-2.1zM207.8 54.8h2.1v2.1h-2.1zM207.8 51.6h2.1v2.1h-2.1zM207.7 58.5h2.1v2.1h-2.1zM207.9 56.4h2.1v2.1h-2.1zM207.7 57.4h2.1v2.1h-2.1zM207.9 50.4h2.1v2.1h-2.1zM207.9 53.5h2.1v2.1h-2.1zM207.7 52.9h2.1v2.1h-2.1zM207.9 55.8h2.1v2.1h-2.1zM207.9 57.8h2.1v2.1h-2.1zM208.0 60.2h2.1v2.1h-2.1zM208.2 57.2h2.1v2.1h-2.1zM208.1 55.9h2.1v2.1h-2.1zM208.1 50.6h2.1v2.1h-2.1zM208.2 48.3h2.1v2.1h-2.1zM208.1 51.7h2.1v2.1h-2.1zM208.0 53.5h2.1v2.1h-2.1zM208.2 59.8h2.1v2.1h-2.1zM208.3 56.6h2.1v2.1h-2.1zM208.4 57.2h2.1v2.1h-2.1zM208.2 54.2h2.1v2.1h-2.1zM208.2 53.0h2.1v2.1h-2.1zM208.4 53.7h2.1v2.1h-2.1zM208.4 54.6h2.1v2.1h-2.1zM208.3 57.3h2.1v2.1h-2.1zM208.4 54.1h2.1v2.1h-2.1zM208.3 58.6h2.1v2.1h-2.1zM208.2 51.7h2.1v2.1h-2.1zM208.3 55.3h2.1v2.1h-2.1zM208.2 58.5h2.1v2.1h-2.1zM208.5 53.6h2.1v2.1h-2.1zM208.6 52.8h2.1v2.1h-2.1zM208.6 57.4h2.1v2.1h-2.1zM208.5 49.4h2.1v2.1h-2.1zM208.5 54.8h2.1v2.1h-2.1zM208.5 57.2h2.1v2.1h-2.1zM208.6 48.4h2.1v2.1h-2.1zM208.6 55.3h2.1v2.1h-2.1zM208.7 49.3h2.1v2.1h-2.1zM208.5 55.0h2.1v2.1h-2.1zM208.5 57.5h2.1v2.1h-2.1zM208.9 51.5h2.1v2.1h-2.1zM208.8 54.7h2.1v2.1h-2.1zM208.9 56.0h2.1v2.1h-2.1zM208.8 54.2h2.1v2.1h-2.1zM208.9 56.7h2.1v2.1h-2.1zM209.0 56.9h2.1v2.1h-2.1zM209.0 53.1h2.1v2.1h-2.1zM209.0 54.4h2.1v2.1h-2.1zM209.0 49.5h2.1v2.1h-2.1zM209.2 47.2h2.1v2.1h-2.1zM209.0 51.7h2.1v2.1h-2.1zM209.1 52.5h2.1v2.1h-2.1zM209.0 49.3h2.1v2.1h-2.1zM209.4 55.3h2.1v2.1h-2.1zM209.3 57.6h2.1v2.1h-2.1zM209.3 55.5h2.1v2.1h-2.1zM209.3 53.5h2.1v2.1h-2.1zM209.3 54.8h2.1v2.1h-2.1zM209.3 50.5h2.1v2.1h-2.1zM209.2 54.9h2.1v2.1h-2.1zM209.4 48.8h2.1v2.1h-2.1zM209.5 52.2h2.1v2.1h-2.1zM209.7 54.2h2.1v2.1h-2.1zM209.6 53.1h2.1v2.1h-2.1zM209.6 52.3h2.1v2.1h-2.1zM209.5 49.2h2.1v2.1h-2.1zM209.5 52.0h2.1v2.1h-2.1zM209.5 54.4h2.1v2.1h-2.1zM209.9 55.0h2.1v2.1h-2.1zM209.8 52.9h2.1v2.1h-2.1zM209.7 55.1h2.1v2.1h-2.1zM209.7 51.1h2.1v2.1h-2.1zM209.8 50.7h2.1v2.1h-2.1zM209.9 51.3h2.1v2.1h-2.1zM209.8 56.7h2.1v2.1h-2.1zM209.9 56.6h2.1v2.1h-2.1zM210.0 46.5h2.1v2.1h-2.1zM210.0 45.1h2.1v2.1h-2.1zM210.0 50.8h2.1v2.1h-2.1zM210.2 55.8h2.1v2.1h-2.1zM210.2 48.0h2.1v2.1h-2.1zM210.0 51.6h2.1v2.1h-2.1zM210.2 47.5h2.1v2.1h-2.1zM210.3 55.1h2.1v2.1h-2.1zM210.3 50.5h2.1v2.1h-2.1zM210.4 52.5h2.1v2.1h-2.1zM210.3 52.9h2.1v2.1h-2.1zM210.2 52.3h2.1v2.1h-2.1zM210.4 53.9h2.1v2.1h-2.1zM210.3 51.5h2.1v2.1h-2.1zM210.4 55.2h2.1v2.1h-2.1zM210.3 50.3h2.1v2.1h-2.1zM210.4 48.4h2.1v2.1h-2.1zM210.4 52.0h2.1v2.1h-2.1zM210.3 55.2h2.1v2.1h-2.1zM210.5 54.0h2.1v2.1h-2.1zM210.5 51.2h2.1v2.1h-2.1zM210.6 49.3h2.1v2.1h-2.1zM210.7 51.3h2.1v2.1h-2.1zM210.5 46.9h2.1v2.1h-2.1zM210.5 53.6h2.1v2.1h-2.1zM210.6 51.3h2.1v2.1h-2.1zM210.6 51.2h2.1v2.1h-2.1zM210.8 57.2h2.1v2.1h-2.1zM210.9 48.5h2.1v2.1h-2.1zM210.8 52.3h2.1v2.1h-2.1zM210.9 47.0h2.1v2.1h-2.1zM210.8 51.0h2.1v2.1h-2.1zM211.1 50.5h2.1v2.1h-2.1zM211.1 53.1h2.1v2.1h-2.1zM211.0 53.0h2.1v2.1h-2.1zM211.0 56.6h2.1v2.1h-2.1zM211.2 49.8h2.1v2.1h-2.1zM211.1 48.1h2.1v2.1h-2.1zM211.4 48.5h2.1v2.1h-2.1zM211.3 50.6h2.1v2.1h-2.1zM211.4 49.7h2.1v2.1h-2.1zM211.3 48.1h2.1v2.1h-2.1zM211.3 50.2h2.1v2.1h-2.1zM211.3 51.3h2.1v2.1h-2.1zM211.3 51.3h2.1v2.1h-2.1zM211.6 50.9h2.1v2.1h-2.1zM211.5 53.0h2.1v2.1h-2.1zM211.5 51.9h2.1v2.1h-2.1zM211.6 53.1h2.1v2.1h-2.1zM211.6 44.4h2.1v2.1h-2.1zM211.7 50.0h2.1v2.1h-2.1zM211.8 49.3h2.1v2.1h-2.1zM211.9 51.1h2.1v2.1h-2.1zM211.8 51.9h2.1v2.1h-2.1zM211.9 49.8h2.1v2.1h-2.1zM211.8 49.8h2.1v2.1h-2.1zM211.9 54.3h2.1v2.1h-2.1zM211.9 49.6h2.1v2.1h-2.1zM211.8 51.4h2.1v2.1h-2.1zM211.8 50.0h2.1v2.1h-2.1zM211.7 48.7h2.1v2.1h-2.1zM212.2 51.8h2.1v2.1h-2.1zM212.1 55.0h2.1v2.1h-2.1zM212.1 49.7h2.1v2.1h-2.1zM212.1 50.8h2.1v2.1h-2.1zM212.0 51.8h2.1v2.1h-2.1zM212.1 50.0h2.1v2.1h-2.1zM212.1 53.8h2.1v2.1h-2.1zM212.3 51.4h2.1v2.1h-2.1zM212.4 52.1h2.1v2.1h-2.1zM212.3 50.6h2.1v2.1h-2.1zM212.4 49.7h2.1v2.1h-2.1zM212.4 47.7h2.1v2.1h-2.1zM212.4 48.9h2.1v2.1h-2.1zM212.3 52.2h2.1v2.1h-2.1zM212.3 54.1h2.1v2.1h-2.1zM212.5 48.1h2.1v2.1h-2.1zM212.6 46.3h2.1v2.1h-2.1zM212.5 51.6h2.1v2.1h-2.1zM212.5 52.8h2.1v2.1h-2.1zM212.5 49.5h2.1v2.1h-2.1zM212.9 49.3h2.1v2.1h-2.1zM212.9 53.4h2.1v2.1h-2.1zM212.7 47.0h2.1v2.1h-2.1zM212.7 48.3h2.1v2.1h-2.1zM212.9 51.1h2.1v2.1h-2.1zM213.1 48.6h2.1v2.1h-2.1zM213.2 50.7h2.1v2.1h-2.1zM213.1 52.1h2.1v2.1h-2.1zM213.1 47.9h2.1v2.1h-2.1zM213.2 50.2h2.1v2.1h-2.1zM213.1 51.9h2.1v2.1h-2.1zM213.3 52.5h2.1v2.1h-2.1zM213.4 52.4h2.1v2.1h-2.1zM213.2 45.9h2.1v2.1h-2.1zM213.2 47.8h2.1v2.1h-2.1zM213.4 50.0h2.1v2.1h-2.1zM213.6 50.3h2.1v2.1h-2.1zM213.5 50.1h2.1v2.1h-2.1zM213.6 52.5h2.1v2.1h-2.1zM213.6 46.5h2.1v2.1h-2.1zM213.7 49.0h2.1v2.1h-2.1zM213.5 49.7h2.1v2.1h-2.1zM213.6 48.0h2.1v2.1h-2.1zM213.9 50.7h2.1v2.1h-2.1zM213.9 49.4h2.1v2.1h-2.1zM213.9 48.3h2.1v2.1h-2.1zM213.7 44.3h2.1v2.1h-2.1zM213.9 53.0h2.1v2.1h-2.1zM213.8 47.2h2.1v2.1h-2.1zM213.8 47.1h2.1v2.1h-2.1zM214.0 49.5h2.1v2.1h-2.1zM214.0 45.3h2.1v2.1h-2.1zM214.0 51.1h2.1v2.1h-2.1zM214.0 52.1h2.1v2.1h-2.1zM214.0 45.7h2.1v2.1h-2.1zM214.0 49.3h2.1v2.1h-2.1zM214.4 53.7h2.1v2.1h-2.1zM214.4 48.2h2.1v2.1h-2.1zM214.4 48.1h2.1v2.1h-2.1zM214.4 51.3h2.1v2.1h-2.1zM214.3 48.7h2.1v2.1h-2.1zM214.4 48.1h2.1v2.1h-2.1zM214.5 48.1h2.1v2.1h-2.1zM214.6 48.4h2.1v2.1h-2.1zM214.5 44.2h2.1v2.1h-2.1zM214.9 47.6h2.1v2.1h-2.1zM214.8 42.8h2.1v2.1h-2.1zM214.7 44.4h2.1v2.1h-2.1zM214.8 45.3h2.1v2.1h-2.1zM214.9 49.2h2.1v2.1h-2.1zM214.7 48.1h2.1v2.1h-2.1zM215.0 47.5h2.1v2.1h-2.1zM215.2 48.9h2.1v2.1h-2.1zM215.1 47.5h2.1v2.1h-2.1zM215.1 42.7h2.1v2.1h-2.1zM215.3 46.4h2.1v2.1h-2.1zM215.3 51.5h2.1v2.1h-2.1zM215.3 49.2h2.1v2.1h-2.1zM215.3 47.0h2.1v2.1h-2.1zM215.4 45.8h2.1v2.1h-2.1zM215.3 48.2h2.1v2.1h-2.1zM215.6 44.7h2.1v2.1h-2.1zM215.7 46.7h2.1v2.1h-2.1zM215.7 51.1h2.1v2.1h-2.1zM215.5 49.2h2.1v2.1h-2.1zM215.5 46.7h2.1v2.1h-2.1zM215.6 52.1h2.1v2.1h-2.1zM215.8 48.8h2.1v2.1h-2.1zM215.8 43.9h2.1v2.1h-2.1zM215.9 45.1h2.1v2.1h-2.1zM215.8 48.9h2.1v2.1h-2.1zM215.9 45.3h2.1v2.1h-2.1zM215.9 45.7h2.1v2.1h-2.1zM215.8 51.5h2.1v2.1h-2.1zM215.7 45.1h2.1v2.1h-2.1zM216.0 48.1h2.1v2.1h-2.1zM216.1 45.2h2.1v2.1h-2.1zM216.1 42.8h2.1v2.1h-2.1zM216.0 44.9h2.1v2.1h-2.1zM216.2 47.0h2.1v2.1h-2.1zM216.4 46.8h2.1v2.1h-2.1zM216.3 46.7h2.1v2.1h-2.1zM216.3 48.9h2.1v2.1h-2.1zM216.4 47.5h2.1v2.1h-2.1zM216.3 44.5h2.1v2.1h-2.1zM216.7 47.8h2.1v2.1h-2.1zM216.6 42.5h2.1v2.1h-2.1zM216.5 44.6h2.1v2.1h-2.1zM216.5 49.6h2.1v2.1h-2.1zM216.8 47.8h2.1v2.1h-2.1zM216.9 42.7h2.1v2.1h-2.1zM216.8 49.0h2.1v2.1h-2.1zM216.7 47.2h2.1v2.1h-2.1zM216.7 46.1h2.1v2.1h-2.1zM216.9 47.8h2.1v2.1h-2.1zM217.2 44.6h2.1v2.1h-2.1zM217.0 50.1h2.1v2.1h-2.1zM217.1 47.0h2.1v2.1h-2.1zM217.0 41.4h2.1v2.1h-2.1zM217.1 45.6h2.1v2.1h-2.1zM217.4 47.0h2.1v2.1h-2.1zM217.4 44.9h2.1v2.1h-2.1zM217.4 46.7h2.1v2.1h-2.1zM217.3 44.3h2.1v2.1h-2.1zM217.3 45.0h2.1v2.1h-2.1zM217.3 43.6h2.1v2.1h-2.1zM217.6 45.7h2.1v2.1h-2.1zM217.5 39.3h2.1v2.1h-2.1zM217.6 46.2h2.1v2.1h-2.1zM217.7 47.7h2.1v2.1h-2.1zM217.5 49.1h2.1v2.1h-2.1zM217.6 46.7h2.1v2.1h-2.1zM217.7 46.4h2.1v2.1h-2.1zM217.9 45.3h2.1v2.1h-2.1zM217.8 39.2h2.1v2.1h-2.1zM217.9 40.4h2.1v2.1h-2.1zM217.8 44.8h2.1v2.1h-2.1zM217.8 45.4h2.1v2.1h-2.1zM217.8 47.1h2.1v2.1h-2.1zM217.9 42.5h2.1v2.1h-2.1zM218.1 42.5h2.1v2.1h-2.1zM218.1 44.0h2.1v2.1h-2.1zM218.1 44.4h2.1v2.1h-2.1zM218.0 44.3h2.1v2.1h-2.1zM218.2 45.5h2.1v2.1h-2.1zM218.3 47.5h2.1v2.1h-2.1zM218.5 46.1h2.1v2.1h-2.1zM218.6 44.5h2.1v2.1h-2.1zM218.5 43.9h2.1v2.1h-2.1zM218.9 46.6h2.1v2.1h-2.1zM218.9 41.8h2.1v2.1h-2.1zM218.9 45.7h2.1v2.1h-2.1zM218.9 48.2h2.1v2.1h-2.1zM219.1 43.5h2.1v2.1h-2.1zM219.1 44.7h2.1v2.1h-2.1zM219.0 42.1h2.1v2.1h-2.1zM219.3 46.9h2.1v2.1h-2.1zM219.5 43.2h2.1v2.1h-2.1zM219.6 44.2h2.1v2.1h-2.1zM219.9 42.6h2.1v2.1h-2.1zM220.2 46.4h2.1v2.1h-2.1zM220.1 44.7h2.1v2.1h-2.1zM220.0 43.6h2.1v2.1h-2.1zM220.1 45.0h2.1v2.1h-2.1zM220.0 46.7h2.1v2.1h-2.1zM220.0 45.8h2.1v2.1h-2.1zM220.1 46.1h2.1v2.1h-2.1zM220.3 43.1h2.1v2.1h-2.1zM220.6 44.1h2.1v2.1h-2.1zM220.6 42.5h2.1v2.1h-2.1zM220.5 42.4h2.1v2.1h-2.1zM220.5 40.0h2.1v2.1h-2.1zM220.6 45.6h2.1v2.1h-2.1zM220.5 43.7h2.1v2.1h-2.1zM220.8 45.9h2.1v2.1h-2.1zM220.8 42.4h2.1v2.1h-2.1zM220.9 39.6h2.1v2.1h-2.1zM221.1 44.1h2.1v2.1h-2.1zM221.1 42.0h2.1v2.1h-2.1zM221.0 42.6h2.1v2.1h-2.1zM221.0 43.6h2.1v2.1h-2.1zM221.2 43.8h2.1v2.1h-2.1zM221.4 38.1h2.1v2.1h-2.1zM221.3 46.0h2.1v2.1h-2.1zM221.3 44.6h2.1v2.1h-2.1zM221.6 47.8h2.1v2.1h-2.1zM221.7 46.3h2.1v2.1h-2.1zM221.7 43.2h2.1v2.1h-2.1zM221.5 46.9h2.1v2.1h-2.1zM221.6 42.1h2.1v2.1h-2.1zM221.5 41.2h2.1v2.1h-2.1zM221.5 47.9h2.1v2.1h-2.1zM221.9 44.0h2.1v2.1h-2.1zM221.9 41.2h2.1v2.1h-2.1zM222.0 40.2h2.1v2.1h-2.1zM222.1 44.2h2.1v2.1h-2.1zM222.8 37.4h2.1v2.1h-2.1zM222.9 40.8h2.1v2.1h-2.1zM222.7 42.3h2.1v2.1h-2.1zM222.9 39.0h2.1v2.1h-2.1zM223.2 37.7h2.1v2.1h-2.1zM223.5 38.8h2.1v2.1h-2.1zM223.6 41.3h2.1v2.1h-2.1zM223.8 35.1h2.1v2.1h-2.1zM223.8 39.0h2.1v2.1h-2.1zM224.0 42.8h2.1v2.1h-2.1zM224.0 38.5h2.1v2.1h-2.1zM224.1 40.2h2.1v2.1h-2.1zM224.0 44.1h2.1v2.1h-2.1zM224.2 39.7h2.1v2.1h-2.1zM224.3 42.3h2.1v2.1h-2.1zM224.4 40.6h2.1v2.1h-2.1zM224.8 38.5h2.1v2.1h-2.1zM224.8 38.3h2.1v2.1h-2.1zM225.0 42.3h2.1v2.1h-2.1zM225.1 37.2h2.1v2.1h-2.1zM225.6 37.0h2.1v2.1h-2.1zM226.2 36.7h2.1v2.1h-2.1zM226.4 37.3h2.1v2.1h-2.1zM226.2 38.0h2.1v2.1h-2.1zM226.7 35.9h2.1v2.1h-2.1zM226.7 36.9h2.1v2.1h-2.1zM226.5 38.6h2.1v2.1h-2.1zM226.7 40.5h2.1v2.1h-2.1zM226.9 36.8h2.1v2.1h-2.1zM227.1 38.0h2.1v2.1h-2.1zM227.1 35.8h2.1v2.1h-2.1zM227.2 41.9h2.1v2.1h-2.1zM227.7 40.8h2.1v2.1h-2.1zM227.5 40.3h2.1v2.1h-2.1zM227.9 37.5h2.1v2.1h-2.1zM228.4 36.2h2.1v2.1h-2.1zM228.6 38.9h2.1v2.1h-2.1zM228.6 37.3h2.1v2.1h-2.1zM228.7 38.6h2.1v2.1h-2.1zM229.0 39.5h2.1v2.1h-2.1zM229.5 36.6h2.1v2.1h-2.1zM229.5 35.8h2.1v2.1h-2.1zM230.0 35.5h2.1v2.1h-2.1zM230.7 35.4h2.1v2.1h-2.1zM230.9 32.3h2.1v2.1h-2.1zM231.0 36.2h2.1v2.1h-2.1zM231.1 36.2h2.1v2.1h-2.1zM231.1 35.1h2.1v2.1h-2.1zM231.2 38.1h2.1v2.1h-2.1zM231.3 37.9h2.1v2.1h-2.1zM231.5 40.6h2.1v2.1h-2.1zM231.6 35.3h2.1v2.1h-2.1zM232.1 34.4h2.1v2.1h-2.1zM232.2 35.8h2.1v2.1h-2.1zM232.4 36.5h2.1v2.1h-2.1zM232.5 33.2h2.1v2.1h-2.1zM232.8 32.1h2.1v2.1h-2.1zM233.0 35.2h2.1v2.1h-2.1zM233.9 29.3h2.1v2.1h-2.1zM234.1 28.3h2.1v2.1h-2.1zM234.5 33.6h2.1v2.1h-2.1zM234.8 31.6h2.1v2.1h-2.1zM235.1 31.4h2.1v2.1h-2.1zM235.3 32.7h2.1v2.1h-2.1zM235.6 33.0h2.1v2.1h-2.1zM236.9 29.2h2.1v2.1h-2.1zM236.8 29.3h2.1v2.1h-2.1zM237.3 27.6h2.1v2.1h-2.1zM237.4 30.3h2.1v2.1h-2.1zM237.3 33.2h2.1v2.1h-2.1zM237.5 30.6h2.1v2.1h-2.1zM239.4 28.1h2.1v2.1h-2.1zM240.4 29.1h2.1v2.1h-2.1zM240.5 29.5h2.1v2.1h-2.1zM241.3 28.8h2.1v2.1h-2.1zM241.3 28.8h2.1v2.1h-2.1zM241.6 29.1h2.1v2.1h-2.1zM242.0 28.6h2.1v2.1h-2.1zM242.4 26.2h2.1v2.1h-2.1zM242.3 27.0h2.1v2.1h-2.1zM242.8 28.2h2.1v2.1h-2.1zM242.8 30.2h2.1v2.1h-2.1zM244.0 26.5h2.1v2.1h-2.1zM244.1 25.3h2.1v2.1h-2.1zM230.2 46.9h2.1v2.1h-2.1zM238.3 34.4h2.1v2.1h-2.1zM246.1 28.8h2.1v2.1h-2.1zM234.9 29.9h2.1v2.1h-2.1zM235.4 32.5h2.1v2.1h-2.1zM238.9 26.4h2.1v2.1h-2.1zM242.8 25.2h2.1v2.1h-2.1zM243.9 25.9h2.1v2.1h-2.1zM247.9 24.3h2.1v2.1h-2.1zM177.5 53.9h2.1v2.1h-2.1zM220.2 57.4h2.1v2.1h-2.1zM229.9 46.8h2.1v2.1h-2.1zM176.8 91.2h2.1v2.1h-2.1zM178.4 86.7h2.1v2.1h-2.1zM105.8 131.8h2.1v2.1h-2.1z" fill="#000"/>
<line x1="79.5" y1="153.6" x2="251.0" y2="24.3" stroke="#0000ff" stroke-width="1.1"/>
<rect x="79.5" y="24.3" width="171.50" height="129.30" fill="none" stroke="#000" stroke-width="1.4"/>
<path d="M79.50 153.6v-3.2M79.50 24.3v3.2M88.08 153.6v-1.6M88.08 24.3v1.6M96.65 153.6v-1.6M96.65 24.3v1.6M105.22 153.6v-1.6M105.22 24.3v1.6M113.80 153.6v-1.6M113.80 24.3v1.6M122.38 153.6v-3.2M122.38 24.3v3.2M130.95 153.6v-1.6M130.95 24.3v1.6M139.53 153.6v-1.6M139.53 24.3v1.6M148.10 153.6v-1.6M148.10 24.3v1.6M156.68 153.6v-1.6M156.68 24.3v1.6M165.25 153.6v-3.2M165.25 24.3v3.2M173.82 153.6v-1.6M173.82 24.3v1.6M182.40 153.6v-1.6M182.40 24.3v1.6M190.98 153.6v-1.6M190.98 24.3v1.6M199.55 153.6v-1.6M199.55 24.3v1.6M208.12 153.6v-3.2M208.12 24.3v3.2M216.70 153.6v-1.6M216.70 24.3v1.6M225.28 153.6v-1.6M225.28 24.3v1.6M233.85 153.6v-1.6M233.85 24.3v1.6M242.42 153.6v-1.6M242.42 24.3v1.6M251.00 153.6v-3.2M251.00 24.3v3.2M79.5 153.60h3.2M251.0 153.60h-3.2M79.5 147.13h1.6M251.0 147.13h-1.6M79.5 140.67h1.6M251.0 140.67h-1.6M79.5 134.20h1.6M251.0 134.20h-1.6M79.5 127.74h1.6M251.0 127.74h-1.6M79.5 121.28h3.2M251.0 121.28h-3.2M79.5 114.81h1.6M251.0 114.81h-1.6M79.5 108.34h1.6M251.0 108.34h-1.6M79.5 101.88h1.6M251.0 101.88h-1.6M79.5 95.41h1.6M251.0 95.41h-1.6M79.5 88.95h3.2M251.0 88.95h-3.2M79.5 82.48h1.6M251.0 82.48h-1.6M79.5 76.02h1.6M251.0 76.02h-1.6M79.5 69.56h1.6M251.0 69.56h-1.6M79.5 63.09h1.6M251.0 63.09h-1.6M79.5 56.62h3.2M251.0 56.62h-3.2M79.5 50.16h1.6M251.0 50.16h-1.6M79.5 43.70h1.6M251.0 43.70h-1.6M79.5 37.23h1.6M251.0 37.23h-1.6M79.5 30.77h1.6M251.0 30.77h-1.6M79.5 24.30h3.2M251.0 24.30h-3.2" stroke="#000" stroke-width="1.2" fill="none"/>
<text transform="translate(51.46,34.45) scale(1.113,1)" font-size="15.07" fill="#000" stroke="#000" stroke-width="0.18">2.0</text>
<text transform="translate(51.02,62.25) scale(1.140,1)" font-size="15.00" fill="#000" stroke="#000" stroke-width="0.18">1.5</text>
<text transform="translate(51.02,94.65) scale(1.135,1)" font-size="15.07" fill="#000" stroke="#000" stroke-width="0.18">1.0</text>
<text transform="translate(51.63,127.55) scale(1.074,1)" font-size="15.49" fill="#000" stroke="#000" stroke-width="0.19">0.5</text>
<text transform="translate(51.63,154.35) scale(1.136,1)" font-size="14.65" fill="#000" stroke="#000" stroke-width="0.18">0.0</text>
<text transform="translate(67.78,174.66) scale(1.174,1)" font-size="14.37" fill="#000" stroke="#000" stroke-width="0.17">0.0</text>
<text transform="translate(110.65,174.66) scale(1.174,1)" font-size="14.37" fill="#000" stroke="#000" stroke-width="0.17">0.5</text>
<text transform="translate(152.90,174.66) scale(1.207,1)" font-size="14.37" fill="#000" stroke="#000" stroke-width="0.17">1.0</text>
<text transform="translate(195.77,174.65) scale(1.190,1)" font-size="14.57" fill="#000" stroke="#000" stroke-width="0.17">1.5</text>
<text transform="translate(239.10,174.66) scale(1.183,1)" font-size="14.37" fill="#000" stroke="#000" stroke-width="0.17">2.0</text>
<text transform="translate(154.91,193.00) scale(1.015,1)" font-size="14.71" fill="#000" stroke="#000" stroke-width="0.20">N2</text>
<text transform="translate(38.90,102.37) rotate(-90) scale(0.941,1)" font-size="14.20" fill="#000">ATH</text>
<path d="M364.1 149.7h2.1v2.1h-2.1zM364.6 147.4h2.1v2.1h-2.1zM365.6 146.7h2.1v2.1h-2.1zM365.5 150.9h2.1v2.1h-2.1zM366.4 146.0h2.1v2.1h-2.1zM367.5 148.9h2.1v2.1h-2.1zM368.1 150.4h2.1v2.1h-2.1zM368.5 150.1h2.1v2.1h-2.1zM369.5 148.6h2.1v2.1h-2.1zM370.4 150.7h2.1v2.1h-2.1zM371.4 149.4h2.1v2.1h-2.1zM372.1 140.5h2.1v2.1h-2.1zM372.0 144.9h2.1v2.1h-2.1zM373.1 146.8h2.1v2.1h-2.1zM373.1 142.9h2.1v2.1h-2.1zM373.6 146.5h2.1v2.1h-2.1zM373.8 149.1h2.1v2.1h-2.1zM373.7 144.4h2.1v2.1h-2.1zM374.7 141.7h2.1v2.1h-2.1zM375.5 144.6h2.1v2.1h-2.1zM376.7 145.7h2.1v2.1h-2.1zM377.2 140.7h2.1v2.1h-2.1zM377.1 140.6h2.1v2.1h-2.1zM377.0 141.5h2.1v2.1h-2.1zM377.4 143.5h2.1v2.1h-2.1zM377.3 146.3h2.1v2.1h-2.1zM377.2 144.7h2.1v2.1h-2.1zM377.5 145.1h2.1v2.1h-2.1zM378.1 143.7h2.1v2.1h-2.1zM378.3 141.7h2.1v2.1h-2.1zM378.4 139.8h2.1v2.1h-2.1zM379.0 141.4h2.1v2.1h-2.1zM379.1 142.9h2.1v2.1h-2.1zM379.0 141.8h2.1v2.1h-2.1zM379.1 143.4h2.1v2.1h-2.1zM379.3 139.8h2.1v2.1h-2.1zM379.2 138.3h2.1v2.1h-2.1zM379.3 138.9h2.1v2.1h-2.1zM379.7 146.8h2.1v2.1h-2.1zM379.5 136.7h2.1v2.1h-2.1zM379.9 142.1h2.1v2.1h-2.1zM380.1 143.9h2.1v2.1h-2.1zM380.2 138.1h2.1v2.1h-2.1zM380.2 143.4h2.1v2.1h-2.1zM380.8 142.7h2.1v2.1h-2.1zM380.8 139.3h2.1v2.1h-2.1zM381.2 140.9h2.1v2.1h-2.1zM381.4 135.7h2.1v2.1h-2.1zM382.0 139.1h2.1v2.1h-2.1zM382.5 137.0h2.1v2.1h-2.1zM382.5 135.2h2.1v2.1h-2.1zM382.7 142.4h2.1v2.1h-2.1zM382.8 138.2h2.1v2.1h-2.1zM382.7 141.5h2.1v2.1h-2.1zM382.9 145.2h2.1v2.1h-2.1zM383.0 139.1h2.1v2.1h-2.1zM383.0 135.7h2.1v2.1h-2.1zM383.1 142.6h2.1v2.1h-2.1zM383.0 140.2h2.1v2.1h-2.1zM383.1 135.7h2.1v2.1h-2.1zM383.5 139.4h2.1v2.1h-2.1zM383.6 138.9h2.1v2.1h-2.1zM384.2 135.4h2.1v2.1h-2.1zM384.2 136.4h2.1v2.1h-2.1zM384.3 139.2h2.1v2.1h-2.1zM384.2 136.5h2.1v2.1h-2.1zM384.8 137.0h2.1v2.1h-2.1zM384.9 138.4h2.1v2.1h-2.1zM385.1 132.8h2.1v2.1h-2.1zM385.0 134.7h2.1v2.1h-2.1zM385.0 139.2h2.1v2.1h-2.1zM385.6 138.1h2.1v2.1h-2.1zM385.8 137.4h2.1v2.1h-2.1zM386.0 144.8h2.1v2.1h-2.1zM386.1 140.9h2.1v2.1h-2.1zM386.3 142.7h2.1v2.1h-2.1zM386.4 139.8h2.1v2.1h-2.1zM386.5 140.7h2.1v2.1h-2.1zM386.6 137.6h2.1v2.1h-2.1zM386.6 136.8h2.1v2.1h-2.1zM387.0 142.6h2.1v2.1h-2.1zM387.3 136.0h2.1v2.1h-2.1zM387.2 138.2h2.1v2.1h-2.1zM387.3 141.2h2.1v2.1h-2.1zM387.5 136.2h2.1v2.1h-2.1zM387.5 137.1h2.1v2.1h-2.1zM387.5 132.3h2.1v2.1h-2.1zM387.9 138.5h2.1v2.1h-2.1zM387.8 137.8h2.1v2.1h-2.1zM387.8 134.8h2.1v2.1h-2.1zM388.1 139.0h2.1v2.1h-2.1zM388.4 134.3h2.1v2.1h-2.1zM388.4 135.8h2.1v2.1h-2.1zM388.3 140.6h2.1v2.1h-2.1zM388.7 133.6h2.1v2.1h-2.1zM388.5 135.8h2.1v2.1h-2.1zM388.7 135.2h2.1v2.1h-2.1zM388.5 138.1h2.1v2.1h-2.1zM388.6 135.8h2.1v2.1h-2.1zM388.6 134.4h2.1v2.1h-2.1zM388.9 131.7h2.1v2.1h-2.1zM388.9 136.3h2.1v2.1h-2.1zM388.8 132.3h2.1v2.1h-2.1zM388.8 132.2h2.1v2.1h-2.1zM388.8 136.1h2.1v2.1h-2.1zM389.2 134.8h2.1v2.1h-2.1zM389.1 131.3h2.1v2.1h-2.1zM389.1 134.7h2.1v2.1h-2.1zM389.1 138.3h2.1v2.1h-2.1zM389.1 130.7h2.1v2.1h-2.1zM389.1 134.4h2.1v2.1h-2.1zM389.2 135.0h2.1v2.1h-2.1zM389.3 137.2h2.1v2.1h-2.1zM389.3 130.1h2.1v2.1h-2.1zM389.2 135.5h2.1v2.1h-2.1zM389.2 132.5h2.1v2.1h-2.1zM389.5 137.5h2.1v2.1h-2.1zM389.5 131.0h2.1v2.1h-2.1zM389.5 138.1h2.1v2.1h-2.1zM389.5 139.3h2.1v2.1h-2.1zM390.4 131.5h2.1v2.1h-2.1zM390.3 138.0h2.1v2.1h-2.1zM390.3 132.8h2.1v2.1h-2.1zM390.4 136.0h2.1v2.1h-2.1zM390.4 133.2h2.1v2.1h-2.1zM390.6 137.0h2.1v2.1h-2.1zM390.6 137.1h2.1v2.1h-2.1zM390.6 135.3h2.1v2.1h-2.1zM390.6 137.8h2.1v2.1h-2.1zM390.5 134.1h2.1v2.1h-2.1zM390.6 134.5h2.1v2.1h-2.1zM390.7 136.1h2.1v2.1h-2.1zM390.7 133.4h2.1v2.1h-2.1zM390.8 132.0h2.1v2.1h-2.1zM390.9 137.9h2.1v2.1h-2.1zM390.9 135.2h2.1v2.1h-2.1zM390.8 134.6h2.1v2.1h-2.1zM390.7 136.2h2.1v2.1h-2.1zM390.8 131.9h2.1v2.1h-2.1zM391.0 130.7h2.1v2.1h-2.1zM391.2 133.0h2.1v2.1h-2.1zM391.0 137.6h2.1v2.1h-2.1zM391.2 137.7h2.1v2.1h-2.1zM391.3 131.9h2.1v2.1h-2.1zM391.2 134.9h2.1v2.1h-2.1zM391.2 131.8h2.1v2.1h-2.1zM391.3 130.5h2.1v2.1h-2.1zM391.3 130.9h2.1v2.1h-2.1zM391.4 131.7h2.1v2.1h-2.1zM391.4 133.8h2.1v2.1h-2.1zM391.4 131.4h2.1v2.1h-2.1zM391.6 131.0h2.1v2.1h-2.1zM391.6 133.5h2.1v2.1h-2.1zM391.9 137.0h2.1v2.1h-2.1zM391.9 128.8h2.1v2.1h-2.1zM391.7 134.9h2.1v2.1h-2.1zM391.7 129.3h2.1v2.1h-2.1zM392.0 135.8h2.1v2.1h-2.1zM392.0 138.8h2.1v2.1h-2.1zM392.0 130.4h2.1v2.1h-2.1zM392.0 135.7h2.1v2.1h-2.1zM392.3 139.6h2.1v2.1h-2.1zM392.6 136.3h2.1v2.1h-2.1zM392.7 129.6h2.1v2.1h-2.1zM392.5 129.2h2.1v2.1h-2.1zM392.5 137.1h2.1v2.1h-2.1zM392.7 135.2h2.1v2.1h-2.1zM392.7 135.0h2.1v2.1h-2.1zM392.9 132.2h2.1v2.1h-2.1zM392.9 134.2h2.1v2.1h-2.1zM392.9 132.4h2.1v2.1h-2.1zM392.8 135.0h2.1v2.1h-2.1zM393.1 128.3h2.1v2.1h-2.1zM393.1 129.9h2.1v2.1h-2.1zM393.0 133.1h2.1v2.1h-2.1zM393.0 140.6h2.1v2.1h-2.1zM393.4 135.8h2.1v2.1h-2.1zM393.3 130.1h2.1v2.1h-2.1zM393.4 135.8h2.1v2.1h-2.1zM393.3 129.8h2.1v2.1h-2.1zM393.4 135.6h2.1v2.1h-2.1zM393.4 133.5h2.1v2.1h-2.1zM393.3 132.1h2.1v2.1h-2.1zM393.5 129.9h2.1v2.1h-2.1zM393.6 137.2h2.1v2.1h-2.1zM393.5 138.1h2.1v2.1h-2.1zM393.5 132.6h2.1v2.1h-2.1zM393.8 131.6h2.1v2.1h-2.1zM393.9 133.9h2.1v2.1h-2.1zM393.8 132.7h2.1v2.1h-2.1zM393.9 130.7h2.1v2.1h-2.1zM393.8 131.4h2.1v2.1h-2.1zM393.8 131.3h2.1v2.1h-2.1zM393.8 136.5h2.1v2.1h-2.1zM393.7 131.0h2.1v2.1h-2.1zM393.9 131.3h2.1v2.1h-2.1zM393.9 139.0h2.1v2.1h-2.1zM394.0 137.0h2.1v2.1h-2.1zM394.0 129.8h2.1v2.1h-2.1zM394.0 137.1h2.1v2.1h-2.1zM394.1 133.4h2.1v2.1h-2.1zM394.1 131.2h2.1v2.1h-2.1zM394.2 132.4h2.1v2.1h-2.1zM394.3 132.2h2.1v2.1h-2.1zM394.6 130.6h2.1v2.1h-2.1zM394.6 129.8h2.1v2.1h-2.1zM394.7 131.2h2.1v2.1h-2.1zM394.5 135.5h2.1v2.1h-2.1zM394.9 132.4h2.1v2.1h-2.1zM394.8 134.5h2.1v2.1h-2.1zM394.8 130.3h2.1v2.1h-2.1zM394.9 129.4h2.1v2.1h-2.1zM394.7 127.0h2.1v2.1h-2.1zM394.8 128.9h2.1v2.1h-2.1zM394.8 129.3h2.1v2.1h-2.1zM394.8 128.3h2.1v2.1h-2.1zM394.8 133.4h2.1v2.1h-2.1zM394.9 130.5h2.1v2.1h-2.1zM395.1 135.9h2.1v2.1h-2.1zM395.1 128.2h2.1v2.1h-2.1zM395.1 131.2h2.1v2.1h-2.1zM395.0 128.3h2.1v2.1h-2.1zM395.0 138.8h2.1v2.1h-2.1zM395.0 137.8h2.1v2.1h-2.1zM395.4 132.9h2.1v2.1h-2.1zM395.2 129.4h2.1v2.1h-2.1zM395.4 134.2h2.1v2.1h-2.1zM395.3 131.8h2.1v2.1h-2.1zM395.4 135.7h2.1v2.1h-2.1zM395.6 130.1h2.1v2.1h-2.1zM395.6 128.7h2.1v2.1h-2.1zM395.6 132.4h2.1v2.1h-2.1zM395.6 134.9h2.1v2.1h-2.1zM395.5 134.0h2.1v2.1h-2.1zM395.6 133.5h2.1v2.1h-2.1zM395.9 132.7h2.1v2.1h-2.1zM395.8 133.6h2.1v2.1h-2.1zM395.7 136.3h2.1v2.1h-2.1zM395.9 134.6h2.1v2.1h-2.1zM395.9 132.6h2.1v2.1h-2.1zM395.9 132.1h2.1v2.1h-2.1zM395.8 131.8h2.1v2.1h-2.1zM395.9 135.3h2.1v2.1h-2.1zM395.8 130.0h2.1v2.1h-2.1zM395.9 133.4h2.1v2.1h-2.1zM395.9 131.6h2.1v2.1h-2.1zM396.0 127.4h2.1v2.1h-2.1zM396.1 131.8h2.1v2.1h-2.1zM396.0 128.2h2.1v2.1h-2.1zM396.1 132.5h2.1v2.1h-2.1zM396.0 128.3h2.1v2.1h-2.1zM396.3 127.6h2.1v2.1h-2.1zM396.2 133.1h2.1v2.1h-2.1zM396.3 131.4h2.1v2.1h-2.1zM396.4 132.6h2.1v2.1h-2.1zM396.3 132.8h2.1v2.1h-2.1zM396.4 128.5h2.1v2.1h-2.1zM396.2 135.7h2.1v2.1h-2.1zM396.3 128.7h2.1v2.1h-2.1zM396.3 134.3h2.1v2.1h-2.1zM396.3 126.9h2.1v2.1h-2.1zM396.5 134.5h2.1v2.1h-2.1zM396.6 133.7h2.1v2.1h-2.1zM396.6 128.7h2.1v2.1h-2.1zM396.5 131.8h2.1v2.1h-2.1zM396.7 130.9h2.1v2.1h-2.1zM396.7 127.2h2.1v2.1h-2.1zM396.5 134.2h2.1v2.1h-2.1zM396.9 135.4h2.1v2.1h-2.1zM396.8 132.9h2.1v2.1h-2.1zM396.7 129.2h2.1v2.1h-2.1zM396.7 135.2h2.1v2.1h-2.1zM396.8 130.6h2.1v2.1h-2.1zM396.8 133.2h2.1v2.1h-2.1zM396.8 126.8h2.1v2.1h-2.1zM396.8 131.4h2.1v2.1h-2.1zM396.9 128.5h2.1v2.1h-2.1zM396.8 128.5h2.1v2.1h-2.1zM396.9 125.6h2.1v2.1h-2.1zM397.0 128.3h2.1v2.1h-2.1zM397.0 133.5h2.1v2.1h-2.1zM397.1 132.5h2.1v2.1h-2.1zM397.1 132.4h2.1v2.1h-2.1zM397.2 125.1h2.1v2.1h-2.1zM397.0 123.2h2.1v2.1h-2.1zM397.4 130.6h2.1v2.1h-2.1zM397.4 132.2h2.1v2.1h-2.1zM397.3 131.2h2.1v2.1h-2.1zM397.3 125.4h2.1v2.1h-2.1zM397.4 121.1h2.1v2.1h-2.1zM397.2 138.1h2.1v2.1h-2.1zM397.2 133.6h2.1v2.1h-2.1zM397.4 130.8h2.1v2.1h-2.1zM397.5 127.4h2.1v2.1h-2.1zM397.5 130.3h2.1v2.1h-2.1zM397.5 132.7h2.1v2.1h-2.1zM397.7 132.4h2.1v2.1h-2.1zM397.6 126.5h2.1v2.1h-2.1zM397.5 131.6h2.1v2.1h-2.1zM397.5 131.0h2.1v2.1h-2.1zM397.6 131.1h2.1v2.1h-2.1zM397.7 130.8h2.1v2.1h-2.1zM397.6 130.3h2.1v2.1h-2.1zM397.6 132.7h2.1v2.1h-2.1zM397.8 124.3h2.1v2.1h-2.1zM397.8 132.3h2.1v2.1h-2.1zM398.0 132.6h2.1v2.1h-2.1zM398.1 131.8h2.1v2.1h-2.1zM398.1 132.3h2.1v2.1h-2.1zM398.1 133.0h2.1v2.1h-2.1zM398.1 134.5h2.1v2.1h-2.1zM398.3 135.7h2.1v2.1h-2.1zM398.4 132.6h2.1v2.1h-2.1zM398.3 133.4h2.1v2.1h-2.1zM398.4 128.5h2.1v2.1h-2.1zM398.2 127.4h2.1v2.1h-2.1zM398.2 129.6h2.1v2.1h-2.1zM398.4 131.2h2.1v2.1h-2.1zM398.3 129.4h2.1v2.1h-2.1zM398.3 129.9h2.1v2.1h-2.1zM398.4 133.4h2.1v2.1h-2.1zM398.4 131.4h2.1v2.1h-2.1zM398.5 129.6h2.1v2.1h-2.1zM398.6 131.4h2.1v2.1h-2.1zM398.5 134.4h2.1v2.1h-2.1zM398.5 132.5h2.1v2.1h-2.1zM398.7 138.0h2.1v2.1h-2.1zM398.6 134.7h2.1v2.1h-2.1zM398.6 134.5h2.1v2.1h-2.1zM398.6 133.2h2.1v2.1h-2.1zM398.5 126.1h2.1v2.1h-2.1zM398.5 133.0h2.1v2.1h-2.1zM398.5 132.2h2.1v2.1h-2.1zM398.7 128.6h2.1v2.1h-2.1zM398.8 127.9h2.1v2.1h-2.1zM398.9 131.7h2.1v2.1h-2.1zM398.9 130.2h2.1v2.1h-2.1zM398.9 129.8h2.1v2.1h-2.1zM398.8 130.4h2.1v2.1h-2.1zM398.9 135.1h2.1v2.1h-2.1zM399.0 127.3h2.1v2.1h-2.1zM399.2 135.3h2.1v2.1h-2.1zM399.1 128.3h2.1v2.1h-2.1zM399.0 136.2h2.1v2.1h-2.1zM399.0 131.7h2.1v2.1h-2.1zM399.0 131.5h2.1v2.1h-2.1zM399.1 132.5h2.1v2.1h-2.1zM399.3 132.2h2.1v2.1h-2.1zM399.4 125.2h2.1v2.1h-2.1zM399.3 129.4h2.1v2.1h-2.1zM399.4 127.8h2.1v2.1h-2.1zM399.4 128.7h2.1v2.1h-2.1zM399.3 126.5h2.1v2.1h-2.1zM399.3 126.3h2.1v2.1h-2.1zM399.7 131.3h2.1v2.1h-2.1zM399.5 132.6h2.1v2.1h-2.1zM399.6 129.8h2.1v2.1h-2.1zM399.7 126.2h2.1v2.1h-2.1zM399.6 132.1h2.1v2.1h-2.1zM399.5 131.7h2.1v2.1h-2.1zM399.6 125.5h2.1v2.1h-2.1zM399.5 128.6h2.1v2.1h-2.1zM399.5 130.6h2.1v2.1h-2.1zM399.7 129.6h2.1v2.1h-2.1zM399.7 131.3h2.1v2.1h-2.1zM399.6 132.2h2.1v2.1h-2.1zM399.6 131.4h2.1v2.1h-2.1zM399.6 129.3h2.1v2.1h-2.1zM399.6 125.4h2.1v2.1h-2.1zM399.5 131.7h2.1v2.1h-2.1zM399.5 134.2h2.1v2.1h-2.1zM399.6 136.0h2.1v2.1h-2.1zM399.9 130.9h2.1v2.1h-2.1zM399.7 131.8h2.1v2.1h-2.1zM399.9 132.2h2.1v2.1h-2.1zM399.8 126.9h2.1v2.1h-2.1zM399.9 129.5h2.1v2.1h-2.1zM399.7 128.5h2.1v2.1h-2.1zM399.9 126.7h2.1v2.1h-2.1zM399.7 124.8h2.1v2.1h-2.1zM399.7 129.3h2.1v2.1h-2.1zM400.1 127.7h2.1v2.1h-2.1zM400.1 128.8h2.1v2.1h-2.1zM400.1 126.5h2.1v2.1h-2.1zM400.1 121.0h2.1v2.1h-2.1zM400.0 129.1h2.1v2.1h-2.1zM400.0 133.2h2.1v2.1h-2.1zM400.0 127.9h2.1v2.1h-2.1zM400.2 128.3h2.1v2.1h-2.1zM400.2 130.1h2.1v2.1h-2.1zM400.3 124.1h2.1v2.1h-2.1zM400.3 133.1h2.1v2.1h-2.1zM400.3 131.4h2.1v2.1h-2.1zM400.3 131.8h2.1v2.1h-2.1zM400.4 133.3h2.1v2.1h-2.1zM400.3 126.7h2.1v2.1h-2.1zM400.3 119.1h2.1v2.1h-2.1zM400.4 130.3h2.1v2.1h-2.1zM400.4 133.4h2.1v2.1h-2.1zM400.4 133.0h2.1v2.1h-2.1zM400.4 127.5h2.1v2.1h-2.1zM400.4 128.9h2.1v2.1h-2.1zM400.3 130.2h2.1v2.1h-2.1zM400.4 123.3h2.1v2.1h-2.1zM400.2 127.2h2.1v2.1h-2.1zM400.5 127.4h2.1v2.1h-2.1zM400.6 125.1h2.1v2.1h-2.1zM400.5 132.5h2.1v2.1h-2.1zM400.6 129.4h2.1v2.1h-2.1zM400.6 125.1h2.1v2.1h-2.1zM400.5 125.7h2.1v2.1h-2.1zM400.5 127.9h2.1v2.1h-2.1zM400.6 132.2h2.1v2.1h-2.1zM400.8 125.2h2.1v2.1h-2.1zM400.8 126.3h2.1v2.1h-2.1zM400.8 127.0h2.1v2.1h-2.1zM400.8 131.2h2.1v2.1h-2.1zM400.7 128.1h2.1v2.1h-2.1zM400.8 128.5h2.1v2.1h-2.1zM400.9 133.3h2.1v2.1h-2.1zM400.7 128.0h2.1v2.1h-2.1zM400.7 131.0h2.1v2.1h-2.1zM400.8 125.5h2.1v2.1h-2.1zM400.8 130.1h2.1v2.1h-2.1zM400.8 129.4h2.1v2.1h-2.1zM401.2 130.3h2.1v2.1h-2.1zM401.1 127.2h2.1v2.1h-2.1zM401.2 123.9h2.1v2.1h-2.1zM401.1 132.2h2.1v2.1h-2.1zM401.2 130.3h2.1v2.1h-2.1zM401.1 124.8h2.1v2.1h-2.1zM401.0 122.7h2.1v2.1h-2.1zM401.1 127.1h2.1v2.1h-2.1zM401.4 136.4h2.1v2.1h-2.1zM401.3 133.4h2.1v2.1h-2.1zM401.4 131.2h2.1v2.1h-2.1zM401.3 134.3h2.1v2.1h-2.1zM401.4 125.2h2.1v2.1h-2.1zM401.4 129.3h2.1v2.1h-2.1zM401.3 127.8h2.1v2.1h-2.1zM401.4 134.4h2.1v2.1h-2.1zM401.3 130.6h2.1v2.1h-2.1zM401.6 126.8h2.1v2.1h-2.1zM401.7 134.8h2.1v2.1h-2.1zM401.5 129.4h2.1v2.1h-2.1zM401.5 129.9h2.1v2.1h-2.1zM401.7 129.7h2.1v2.1h-2.1zM401.6 125.6h2.1v2.1h-2.1zM401.6 124.7h2.1v2.1h-2.1zM401.5 129.4h2.1v2.1h-2.1zM401.5 129.8h2.1v2.1h-2.1zM401.6 133.0h2.1v2.1h-2.1zM401.6 130.1h2.1v2.1h-2.1zM401.9 125.5h2.1v2.1h-2.1zM401.8 130.7h2.1v2.1h-2.1zM401.7 129.7h2.1v2.1h-2.1zM401.8 129.0h2.1v2.1h-2.1zM401.9 129.4h2.1v2.1h-2.1zM401.9 130.3h2.1v2.1h-2.1zM401.7 130.7h2.1v2.1h-2.1zM401.8 134.1h2.1v2.1h-2.1zM401.9 128.2h2.1v2.1h-2.1zM401.9 129.1h2.1v2.1h-2.1zM401.7 122.3h2.1v2.1h-2.1zM401.7 124.1h2.1v2.1h-2.1zM401.9 126.1h2.1v2.1h-2.1zM401.9 124.5h2.1v2.1h-2.1zM401.9 129.1h2.1v2.1h-2.1zM402.0 126.8h2.1v2.1h-2.1zM402.1 125.5h2.1v2.1h-2.1zM402.0 128.3h2.1v2.1h-2.1zM402.1 126.2h2.1v2.1h-2.1zM402.0 126.9h2.1v2.1h-2.1zM402.0 132.3h2.1v2.1h-2.1zM402.1 127.8h2.1v2.1h-2.1zM402.1 132.0h2.1v2.1h-2.1zM402.1 129.1h2.1v2.1h-2.1zM402.0 131.2h2.1v2.1h-2.1zM402.1 126.2h2.1v2.1h-2.1zM402.4 125.8h2.1v2.1h-2.1zM402.3 124.5h2.1v2.1h-2.1zM402.3 128.9h2.1v2.1h-2.1zM402.2 126.6h2.1v2.1h-2.1zM402.3 127.8h2.1v2.1h-2.1zM402.4 124.6h2.1v2.1h-2.1zM402.4 125.5h2.1v2.1h-2.1zM402.3 129.7h2.1v2.1h-2.1zM402.3 129.2h2.1v2.1h-2.1zM402.4 126.4h2.1v2.1h-2.1zM402.4 129.2h2.1v2.1h-2.1zM402.3 128.7h2.1v2.1h-2.1zM402.3 128.6h2.1v2.1h-2.1zM402.2 133.4h2.1v2.1h-2.1zM402.3 126.7h2.1v2.1h-2.1zM402.7 121.7h2.1v2.1h-2.1zM402.5 127.8h2.1v2.1h-2.1zM402.7 122.7h2.1v2.1h-2.1zM402.6 126.6h2.1v2.1h-2.1zM402.6 130.2h2.1v2.1h-2.1zM402.5 127.0h2.1v2.1h-2.1zM402.6 126.2h2.1v2.1h-2.1zM402.7 129.5h2.1v2.1h-2.1zM402.5 126.9h2.1v2.1h-2.1zM402.8 121.6h2.1v2.1h-2.1zM402.9 126.7h2.1v2.1h-2.1zM402.8 132.5h2.1v2.1h-2.1zM402.8 131.5h2.1v2.1h-2.1zM402.9 121.9h2.1v2.1h-2.1zM402.9 125.8h2.1v2.1h-2.1zM402.7 123.7h2.1v2.1h-2.1zM402.9 124.0h2.1v2.1h-2.1zM402.8 125.4h2.1v2.1h-2.1zM402.8 133.9h2.1v2.1h-2.1zM402.8 128.1h2.1v2.1h-2.1zM402.7 126.9h2.1v2.1h-2.1zM403.1 131.3h2.1v2.1h-2.1zM403.0 131.0h2.1v2.1h-2.1zM403.1 128.3h2.1v2.1h-2.1zM403.1 129.6h2.1v2.1h-2.1zM403.0 130.6h2.1v2.1h-2.1zM403.0 127.4h2.1v2.1h-2.1zM403.2 132.8h2.1v2.1h-2.1zM403.0 120.7h2.1v2.1h-2.1zM403.2 124.2h2.1v2.1h-2.1zM403.0 132.4h2.1v2.1h-2.1zM403.0 128.9h2.1v2.1h-2.1zM403.4 123.9h2.1v2.1h-2.1zM403.4 137.3h2.1v2.1h-2.1zM403.2 124.0h2.1v2.1h-2.1zM403.2 125.9h2.1v2.1h-2.1zM403.3 122.5h2.1v2.1h-2.1zM403.4 125.8h2.1v2.1h-2.1zM403.3 132.6h2.1v2.1h-2.1zM403.3 127.4h2.1v2.1h-2.1zM403.4 129.3h2.1v2.1h-2.1zM403.2 125.7h2.1v2.1h-2.1zM403.3 133.5h2.1v2.1h-2.1zM403.3 127.9h2.1v2.1h-2.1zM403.5 125.6h2.1v2.1h-2.1zM403.6 120.2h2.1v2.1h-2.1zM403.5 122.8h2.1v2.1h-2.1zM403.5 132.0h2.1v2.1h-2.1zM403.6 124.4h2.1v2.1h-2.1zM403.7 125.8h2.1v2.1h-2.1zM403.7 122.0h2.1v2.1h-2.1zM403.7 125.3h2.1v2.1h-2.1zM403.6 125.9h2.1v2.1h-2.1zM403.6 126.4h2.1v2.1h-2.1zM403.9 131.4h2.1v2.1h-2.1zM403.9 126.8h2.1v2.1h-2.1zM403.9 121.7h2.1v2.1h-2.1zM403.8 126.2h2.1v2.1h-2.1zM403.9 133.1h2.1v2.1h-2.1zM403.8 124.0h2.1v2.1h-2.1zM403.9 122.4h2.1v2.1h-2.1zM403.9 128.7h2.1v2.1h-2.1zM403.7 131.5h2.1v2.1h-2.1zM403.9 130.4h2.1v2.1h-2.1zM404.0 127.1h2.1v2.1h-2.1zM404.2 126.5h2.1v2.1h-2.1zM404.0 125.7h2.1v2.1h-2.1zM404.1 127.3h2.1v2.1h-2.1zM404.1 130.6h2.1v2.1h-2.1zM404.1 137.6h2.1v2.1h-2.1zM404.0 122.7h2.1v2.1h-2.1zM404.0 127.9h2.1v2.1h-2.1zM404.2 126.1h2.1v2.1h-2.1zM404.3 128.9h2.1v2.1h-2.1zM404.4 125.8h2.1v2.1h-2.1zM404.2 123.1h2.1v2.1h-2.1zM404.4 126.0h2.1v2.1h-2.1zM404.3 125.4h2.1v2.1h-2.1zM404.4 129.5h2.1v2.1h-2.1zM404.3 121.5h2.1v2.1h-2.1zM404.3 126.0h2.1v2.1h-2.1zM404.3 125.1h2.1v2.1h-2.1zM404.3 132.2h2.1v2.1h-2.1zM404.3 122.8h2.1v2.1h-2.1zM404.3 130.3h2.1v2.1h-2.1zM404.5 129.7h2.1v2.1h-2.1zM404.5 123.9h2.1v2.1h-2.1zM404.5 123.9h2.1v2.1h-2.1zM404.7 122.2h2.1v2.1h-2.1zM404.5 130.6h2.1v2.1h-2.1zM404.6 133.4h2.1v2.1h-2.1zM404.5 123.1h2.1v2.1h-2.1zM404.5 127.5h2.1v2.1h-2.1zM404.9 128.4h2.1v2.1h-2.1zM404.7 126.9h2.1v2.1h-2.1zM404.9 124.9h2.1v2.1h-2.1zM404.8 121.3h2.1v2.1h-2.1zM404.8 132.1h2.1v2.1h-2.1zM404.9 130.2h2.1v2.1h-2.1zM404.8 129.4h2.1v2.1h-2.1zM404.7 124.0h2.1v2.1h-2.1zM404.8 125.1h2.1v2.1h-2.1zM404.9 132.1h2.1v2.1h-2.1zM405.1 120.9h2.1v2.1h-2.1zM405.2 125.6h2.1v2.1h-2.1zM405.1 127.3h2.1v2.1h-2.1zM405.0 131.2h2.1v2.1h-2.1zM405.1 126.1h2.1v2.1h-2.1zM405.2 122.0h2.1v2.1h-2.1zM405.1 134.5h2.1v2.1h-2.1zM405.2 127.3h2.1v2.1h-2.1zM405.0 125.3h2.1v2.1h-2.1zM405.1 125.3h2.1v2.1h-2.1zM405.1 121.4h2.1v2.1h-2.1zM405.1 128.4h2.1v2.1h-2.1zM405.1 127.5h2.1v2.1h-2.1zM405.0 131.9h2.1v2.1h-2.1zM405.1 130.1h2.1v2.1h-2.1zM405.0 129.3h2.1v2.1h-2.1zM405.0 130.7h2.1v2.1h-2.1zM405.2 119.7h2.1v2.1h-2.1zM405.2 123.5h2.1v2.1h-2.1zM405.3 126.2h2.1v2.1h-2.1zM405.3 121.4h2.1v2.1h-2.1zM405.4 124.1h2.1v2.1h-2.1zM405.3 126.3h2.1v2.1h-2.1zM405.4 121.4h2.1v2.1h-2.1zM405.3 127.2h2.1v2.1h-2.1zM405.3 127.6h2.1v2.1h-2.1zM405.4 121.6h2.1v2.1h-2.1zM405.5 128.5h2.1v2.1h-2.1zM405.6 125.0h2.1v2.1h-2.1zM405.6 129.9h2.1v2.1h-2.1zM405.5 125.8h2.1v2.1h-2.1zM405.6 124.1h2.1v2.1h-2.1zM405.5 126.0h2.1v2.1h-2.1zM405.7 125.8h2.1v2.1h-2.1zM405.6 127.4h2.1v2.1h-2.1zM405.5 127.8h2.1v2.1h-2.1zM405.5 122.0h2.1v2.1h-2.1zM405.5 123.8h2.1v2.1h-2.1zM405.5 127.4h2.1v2.1h-2.1zM405.6 127.8h2.1v2.1h-2.1zM405.6 126.4h2.1v2.1h-2.1zM405.6 135.5h2.1v2.1h-2.1zM405.6 130.1h2.1v2.1h-2.1zM405.6 125.8h2.1v2.1h-2.1zM405.9 120.0h2.1v2.1h-2.1zM405.7 126.1h2.1v2.1h-2.1zM405.9 132.1h2.1v2.1h-2.1zM405.8 129.9h2.1v2.1h-2.1zM405.7 130.9h2.1v2.1h-2.1zM405.8 130.6h2.1v2.1h-2.1zM405.8 123.5h2.1v2.1h-2.1zM405.9 126.5h2.1v2.1h-2.1zM405.8 116.5h2.1v2.1h-2.1zM405.8 123.9h2.1v2.1h-2.1zM405.7 128.3h2.1v2.1h-2.1zM405.9 120.5h2.1v2.1h-2.1zM405.9 118.7h2.1v2.1h-2.1zM405.9 121.4h2.1v2.1h-2.1zM405.8 126.9h2.1v2.1h-2.1zM405.9 130.3h2.1v2.1h-2.1zM405.7 135.5h2.1v2.1h-2.1zM405.9 131.2h2.1v2.1h-2.1zM405.9 120.6h2.1v2.1h-2.1zM405.7 117.9h2.1v2.1h-2.1zM405.9 126.6h2.1v2.1h-2.1zM406.1 129.4h2.1v2.1h-2.1zM406.0 124.0h2.1v2.1h-2.1zM406.1 128.5h2.1v2.1h-2.1zM406.1 127.5h2.1v2.1h-2.1zM406.1 127.5h2.1v2.1h-2.1zM406.1 131.1h2.1v2.1h-2.1zM406.2 130.0h2.1v2.1h-2.1zM406.0 124.1h2.1v2.1h-2.1zM406.1 129.4h2.1v2.1h-2.1zM406.1 120.0h2.1v2.1h-2.1zM406.1 129.7h2.1v2.1h-2.1zM406.0 136.2h2.1v2.1h-2.1zM406.2 128.1h2.1v2.1h-2.1zM406.0 128.1h2.1v2.1h-2.1zM406.0 126.5h2.1v2.1h-2.1zM406.1 129.3h2.1v2.1h-2.1zM406.3 120.0h2.1v2.1h-2.1zM406.3 130.1h2.1v2.1h-2.1zM406.4 126.0h2.1v2.1h-2.1zM406.3 127.0h2.1v2.1h-2.1zM406.2 128.8h2.1v2.1h-2.1zM406.4 122.9h2.1v2.1h-2.1zM406.4 115.5h2.1v2.1h-2.1zM406.5 128.2h2.1v2.1h-2.1zM406.5 124.5h2.1v2.1h-2.1zM406.6 129.2h2.1v2.1h-2.1zM406.6 120.8h2.1v2.1h-2.1zM406.5 126.3h2.1v2.1h-2.1zM406.5 128.0h2.1v2.1h-2.1zM406.6 128.0h2.1v2.1h-2.1zM406.5 121.9h2.1v2.1h-2.1zM406.6 120.5h2.1v2.1h-2.1zM406.5 132.1h2.1v2.1h-2.1zM406.5 124.2h2.1v2.1h-2.1zM406.7 119.9h2.1v2.1h-2.1zM406.5 121.5h2.1v2.1h-2.1zM406.6 126.0h2.1v2.1h-2.1zM406.6 130.3h2.1v2.1h-2.1zM406.6 125.9h2.1v2.1h-2.1zM406.9 126.0h2.1v2.1h-2.1zM406.8 131.7h2.1v2.1h-2.1zM406.8 115.2h2.1v2.1h-2.1zM406.7 121.7h2.1v2.1h-2.1zM406.8 115.7h2.1v2.1h-2.1zM406.8 125.6h2.1v2.1h-2.1zM406.7 127.3h2.1v2.1h-2.1zM406.8 128.0h2.1v2.1h-2.1zM406.9 126.6h2.1v2.1h-2.1zM406.8 122.5h2.1v2.1h-2.1zM406.7 132.1h2.1v2.1h-2.1zM406.9 126.7h2.1v2.1h-2.1zM406.8 124.7h2.1v2.1h-2.1zM406.8 121.5h2.1v2.1h-2.1zM407.0 128.1h2.1v2.1h-2.1zM407.0 121.7h2.1v2.1h-2.1zM407.1 124.5h2.1v2.1h-2.1zM407.0 128.1h2.1v2.1h-2.1zM407.1 125.4h2.1v2.1h-2.1zM407.2 135.4h2.1v2.1h-2.1zM407.0 120.3h2.1v2.1h-2.1zM407.0 122.7h2.1v2.1h-2.1zM407.0 125.7h2.1v2.1h-2.1zM407.1 130.3h2.1v2.1h-2.1zM407.1 124.4h2.1v2.1h-2.1zM407.0 120.2h2.1v2.1h-2.1zM407.0 129.6h2.1v2.1h-2.1zM407.2 121.9h2.1v2.1h-2.1zM407.2 124.2h2.1v2.1h-2.1zM407.3 126.2h2.1v2.1h-2.1zM407.2 125.7h2.1v2.1h-2.1zM407.4 121.0h2.1v2.1h-2.1zM407.3 130.8h2.1v2.1h-2.1zM407.4 117.7h2.1v2.1h-2.1zM407.3 126.0h2.1v2.1h-2.1zM407.3 124.9h2.1v2.1h-2.1zM407.4 119.2h2.1v2.1h-2.1zM407.4 126.3h2.1v2.1h-2.1zM407.3 127.1h2.1v2.1h-2.1zM407.2 125.4h2.1v2.1h-2.1zM407.2 122.2h2.1v2.1h-2.1zM407.4 126.8h2.1v2.1h-2.1zM407.4 129.2h2.1v2.1h-2.1zM407.4 125.9h2.1v2.1h-2.1zM407.3 131.5h2.1v2.1h-2.1zM407.4 128.3h2.1v2.1h-2.1zM407.4 128.0h2.1v2.1h-2.1zM407.3 130.3h2.1v2.1h-2.1zM407.4 122.7h2.1v2.1h-2.1zM407.3 123.3h2.1v2.1h-2.1zM407.6 117.0h2.1v2.1h-2.1zM407.7 126.4h2.1v2.1h-2.1zM407.5 124.0h2.1v2.1h-2.1zM407.7 125.7h2.1v2.1h-2.1zM407.6 126.5h2.1v2.1h-2.1zM407.5 118.3h2.1v2.1h-2.1zM407.7 134.0h2.1v2.1h-2.1zM407.7 125.7h2.1v2.1h-2.1zM407.7 125.8h2.1v2.1h-2.1zM407.6 118.6h2.1v2.1h-2.1zM407.6 127.6h2.1v2.1h-2.1zM407.6 126.8h2.1v2.1h-2.1zM407.7 123.9h2.1v2.1h-2.1zM407.7 127.6h2.1v2.1h-2.1zM407.9 128.3h2.1v2.1h-2.1zM407.9 126.2h2.1v2.1h-2.1zM407.8 127.3h2.1v2.1h-2.1zM407.8 123.9h2.1v2.1h-2.1zM407.8 124.4h2.1v2.1h-2.1zM407.8 129.2h2.1v2.1h-2.1zM407.9 117.9h2.1v2.1h-2.1zM407.7 126.7h2.1v2.1h-2.1zM407.9 137.0h2.1v2.1h-2.1zM407.8 118.4h2.1v2.1h-2.1zM407.8 130.9h2.1v2.1h-2.1zM407.9 118.6h2.1v2.1h-2.1zM407.8 126.6h2.1v2.1h-2.1zM407.9 131.2h2.1v2.1h-2.1zM407.8 130.8h2.1v2.1h-2.1zM408.2 128.1h2.1v2.1h-2.1zM408.2 121.3h2.1v2.1h-2.1zM408.1 123.8h2.1v2.1h-2.1zM408.0 130.2h2.1v2.1h-2.1zM408.1 121.1h2.1v2.1h-2.1zM408.1 121.7h2.1v2.1h-2.1zM408.1 125.4h2.1v2.1h-2.1zM408.0 120.3h2.1v2.1h-2.1zM408.2 115.5h2.1v2.1h-2.1zM408.0 118.6h2.1v2.1h-2.1zM408.2 126.2h2.1v2.1h-2.1zM408.0 127.3h2.1v2.1h-2.1zM408.1 127.1h2.1v2.1h-2.1zM408.1 126.3h2.1v2.1h-2.1zM408.0 120.3h2.1v2.1h-2.1zM408.1 127.4h2.1v2.1h-2.1zM408.1 129.1h2.1v2.1h-2.1zM408.1 122.2h2.1v2.1h-2.1zM408.2 128.3h2.1v2.1h-2.1zM408.1 123.5h2.1v2.1h-2.1zM408.2 125.5h2.1v2.1h-2.1zM408.0 126.3h2.1v2.1h-2.1zM408.1 119.3h2.1v2.1h-2.1zM408.1 130.3h2.1v2.1h-2.1zM408.0 121.7h2.1v2.1h-2.1zM408.1 124.4h2.1v2.1h-2.1zM408.3 127.5h2.1v2.1h-2.1zM408.4 126.0h2.1v2.1h-2.1zM408.2 122.5h2.1v2.1h-2.1zM408.4 124.3h2.1v2.1h-2.1zM408.4 123.7h2.1v2.1h-2.1zM408.2 122.4h2.1v2.1h-2.1zM408.4 129.6h2.1v2.1h-2.1zM408.2 136.4h2.1v2.1h-2.1zM408.2 127.9h2.1v2.1h-2.1zM408.3 128.7h2.1v2.1h-2.1zM408.4 125.2h2.1v2.1h-2.1zM408.2 123.5h2.1v2.1h-2.1zM408.3 133.0h2.1v2.1h-2.1zM408.3 123.3h2.1v2.1h-2.1zM408.2 126.2h2.1v2.1h-2.1zM408.4 124.2h2.1v2.1h-2.1zM408.3 127.0h2.1v2.1h-2.1zM408.4 124.5h2.1v2.1h-2.1zM408.3 126.9h2.1v2.1h-2.1zM408.4 119.9h2.1v2.1h-2.1zM408.5 120.4h2.1v2.1h-2.1zM408.6 122.3h2.1v2.1h-2.1zM408.5 124.1h2.1v2.1h-2.1zM408.6 119.5h2.1v2.1h-2.1zM408.5 133.1h2.1v2.1h-2.1zM408.5 126.8h2.1v2.1h-2.1zM408.7 123.1h2.1v2.1h-2.1zM408.6 122.6h2.1v2.1h-2.1zM408.5 133.4h2.1v2.1h-2.1zM408.5 133.1h2.1v2.1h-2.1zM408.8 124.9h2.1v2.1h-2.1zM408.9 126.0h2.1v2.1h-2.1zM408.7 124.8h2.1v2.1h-2.1zM408.8 117.5h2.1v2.1h-2.1zM408.7 125.5h2.1v2.1h-2.1zM408.9 123.5h2.1v2.1h-2.1zM408.9 127.5h2.1v2.1h-2.1zM408.8 119.1h2.1v2.1h-2.1zM408.8 128.3h2.1v2.1h-2.1zM408.9 122.3h2.1v2.1h-2.1zM408.8 117.8h2.1v2.1h-2.1zM408.9 129.3h2.1v2.1h-2.1zM408.8 122.3h2.1v2.1h-2.1zM408.7 125.8h2.1v2.1h-2.1zM408.7 123.7h2.1v2.1h-2.1zM409.1 127.5h2.1v2.1h-2.1zM409.0 125.1h2.1v2.1h-2.1zM409.1 115.1h2.1v2.1h-2.1zM409.2 120.1h2.1v2.1h-2.1zM409.2 124.7h2.1v2.1h-2.1zM409.1 121.8h2.1v2.1h-2.1zM409.1 131.8h2.1v2.1h-2.1zM409.1 124.4h2.1v2.1h-2.1zM409.0 125.2h2.1v2.1h-2.1zM409.2 119.8h2.1v2.1h-2.1zM409.1 120.0h2.1v2.1h-2.1zM409.1 121.5h2.1v2.1h-2.1zM409.2 121.6h2.1v2.1h-2.1zM409.1 123.2h2.1v2.1h-2.1zM409.0 125.6h2.1v2.1h-2.1zM409.1 125.0h2.1v2.1h-2.1zM409.1 128.0h2.1v2.1h-2.1zM409.2 118.8h2.1v2.1h-2.1zM409.4 127.4h2.1v2.1h-2.1zM409.2 122.7h2.1v2.1h-2.1zM409.3 131.4h2.1v2.1h-2.1zM409.2 129.7h2.1v2.1h-2.1zM409.4 122.3h2.1v2.1h-2.1zM409.2 121.6h2.1v2.1h-2.1zM409.2 133.6h2.1v2.1h-2.1zM409.4 126.4h2.1v2.1h-2.1zM409.3 126.2h2.1v2.1h-2.1zM409.2 122.4h2.1v2.1h-2.1zM409.4 123.3h2.1v2.1h-2.1zM409.5 119.5h2.1v2.1h-2.1zM409.5 130.0h2.1v2.1h-2.1zM409.6 130.1h2.1v2.1h-2.1zM409.7 118.9h2.1v2.1h-2.1zM409.6 120.6h2.1v2.1h-2.1zM409.5 121.6h2.1v2.1h-2.1zM409.7 123.6h2.1v2.1h-2.1zM409.6 124.5h2.1v2.1h-2.1zM409.6 113.9h2.1v2.1h-2.1zM409.5 126.2h2.1v2.1h-2.1zM409.6 122.6h2.1v2.1h-2.1zM409.5 119.7h2.1v2.1h-2.1zM409.7 127.4h2.1v2.1h-2.1zM409.5 122.4h2.1v2.1h-2.1zM409.5 128.3h2.1v2.1h-2.1zM409.5 125.9h2.1v2.1h-2.1zM409.6 122.4h2.1v2.1h-2.1zM409.6 128.3h2.1v2.1h-2.1zM409.8 126.5h2.1v2.1h-2.1zM409.7 121.8h2.1v2.1h-2.1zM409.8 123.0h2.1v2.1h-2.1zM409.8 117.6h2.1v2.1h-2.1zM409.9 121.1h2.1v2.1h-2.1zM409.7 126.7h2.1v2.1h-2.1zM409.9 123.8h2.1v2.1h-2.1zM409.7 121.5h2.1v2.1h-2.1zM409.8 129.6h2.1v2.1h-2.1zM409.7 123.3h2.1v2.1h-2.1zM409.9 122.0h2.1v2.1h-2.1zM409.8 128.1h2.1v2.1h-2.1zM409.8 116.5h2.1v2.1h-2.1zM410.1 118.7h2.1v2.1h-2.1zM410.1 125.6h2.1v2.1h-2.1zM410.0 123.4h2.1v2.1h-2.1zM410.0 126.8h2.1v2.1h-2.1zM410.1 115.7h2.1v2.1h-2.1zM410.0 134.2h2.1v2.1h-2.1zM410.0 118.2h2.1v2.1h-2.1zM410.0 123.4h2.1v2.1h-2.1zM410.1 127.2h2.1v2.1h-2.1zM410.0 117.7h2.1v2.1h-2.1zM410.0 121.1h2.1v2.1h-2.1zM410.3 124.0h2.1v2.1h-2.1zM410.3 121.7h2.1v2.1h-2.1zM410.2 122.2h2.1v2.1h-2.1zM410.3 125.3h2.1v2.1h-2.1zM410.4 121.3h2.1v2.1h-2.1zM410.4 124.3h2.1v2.1h-2.1zM410.2 123.0h2.1v2.1h-2.1zM410.3 128.6h2.1v2.1h-2.1zM410.3 127.8h2.1v2.1h-2.1zM410.2 117.3h2.1v2.1h-2.1zM410.4 122.3h2.1v2.1h-2.1zM410.7 119.6h2.1v2.1h-2.1zM410.5 126.4h2.1v2.1h-2.1zM410.7 121.1h2.1v2.1h-2.1zM410.6 129.4h2.1v2.1h-2.1zM410.7 123.5h2.1v2.1h-2.1zM410.7 123.1h2.1v2.1h-2.1zM410.5 122.0h2.1v2.1h-2.1zM410.6 122.4h2.1v2.1h-2.1zM410.5 123.0h2.1v2.1h-2.1zM410.6 129.1h2.1v2.1h-2.1zM410.7 132.5h2.1v2.1h-2.1zM410.6 118.0h2.1v2.1h-2.1zM410.6 123.8h2.1v2.1h-2.1zM410.6 125.7h2.1v2.1h-2.1zM410.9 121.2h2.1v2.1h-2.1zM410.8 122.0h2.1v2.1h-2.1zM410.8 118.8h2.1v2.1h-2.1zM410.7 119.3h2.1v2.1h-2.1zM410.9 124.4h2.1v2.1h-2.1zM410.9 125.6h2.1v2.1h-2.1zM410.9 124.4h2.1v2.1h-2.1zM410.9 119.7h2.1v2.1h-2.1zM410.8 124.0h2.1v2.1h-2.1zM410.8 112.0h2.1v2.1h-2.1zM410.9 126.5h2.1v2.1h-2.1zM410.8 122.5h2.1v2.1h-2.1zM411.0 113.8h2.1v2.1h-2.1zM411.0 119.8h2.1v2.1h-2.1zM411.1 115.6h2.1v2.1h-2.1zM411.2 119.9h2.1v2.1h-2.1zM411.1 122.4h2.1v2.1h-2.1zM411.2 118.2h2.1v2.1h-2.1zM411.1 119.5h2.1v2.1h-2.1zM411.2 114.3h2.1v2.1h-2.1zM411.1 123.2h2.1v2.1h-2.1zM411.1 119.2h2.1v2.1h-2.1zM411.1 127.0h2.1v2.1h-2.1zM411.0 127.0h2.1v2.1h-2.1zM411.0 118.8h2.1v2.1h-2.1zM411.4 121.0h2.1v2.1h-2.1zM411.2 121.1h2.1v2.1h-2.1zM411.3 122.7h2.1v2.1h-2.1zM411.3 122.3h2.1v2.1h-2.1zM411.3 112.1h2.1v2.1h-2.1zM411.2 118.6h2.1v2.1h-2.1zM411.3 121.3h2.1v2.1h-2.1zM411.3 125.5h2.1v2.1h-2.1zM411.3 128.2h2.1v2.1h-2.1zM411.3 118.3h2.1v2.1h-2.1zM411.4 130.6h2.1v2.1h-2.1zM411.4 122.7h2.1v2.1h-2.1zM411.2 124.5h2.1v2.1h-2.1zM411.4 120.0h2.1v2.1h-2.1zM411.4 119.7h2.1v2.1h-2.1zM411.4 128.5h2.1v2.1h-2.1zM411.3 121.5h2.1v2.1h-2.1zM411.4 121.8h2.1v2.1h-2.1zM411.3 127.4h2.1v2.1h-2.1zM411.3 129.8h2.1v2.1h-2.1zM411.3 115.9h2.1v2.1h-2.1zM411.7 121.4h2.1v2.1h-2.1zM411.6 128.5h2.1v2.1h-2.1zM411.5 123.6h2.1v2.1h-2.1zM411.5 121.4h2.1v2.1h-2.1zM411.6 122.9h2.1v2.1h-2.1zM411.5 126.5h2.1v2.1h-2.1zM411.6 123.2h2.1v2.1h-2.1zM411.5 122.6h2.1v2.1h-2.1zM411.5 116.2h2.1v2.1h-2.1zM411.5 124.6h2.1v2.1h-2.1zM411.5 122.6h2.1v2.1h-2.1zM411.6 130.4h2.1v2.1h-2.1zM411.5 122.4h2.1v2.1h-2.1zM411.5 122.1h2.1v2.1h-2.1zM411.5 119.8h2.1v2.1h-2.1zM411.6 125.5h2.1v2.1h-2.1zM411.6 121.5h2.1v2.1h-2.1zM411.6 119.4h2.1v2.1h-2.1zM411.5 129.5h2.1v2.1h-2.1zM411.7 130.1h2.1v2.1h-2.1zM411.7 120.4h2.1v2.1h-2.1zM411.5 118.0h2.1v2.1h-2.1zM411.9 121.2h2.1v2.1h-2.1zM411.7 119.7h2.1v2.1h-2.1zM411.9 120.9h2.1v2.1h-2.1zM411.9 128.2h2.1v2.1h-2.1zM411.9 118.8h2.1v2.1h-2.1zM411.9 122.3h2.1v2.1h-2.1zM411.8 118.6h2.1v2.1h-2.1zM411.9 127.7h2.1v2.1h-2.1zM411.8 121.6h2.1v2.1h-2.1zM411.9 126.0h2.1v2.1h-2.1zM412.0 121.9h2.1v2.1h-2.1zM412.1 116.8h2.1v2.1h-2.1zM412.0 127.0h2.1v2.1h-2.1zM412.1 121.0h2.1v2.1h-2.1zM412.2 117.4h2.1v2.1h-2.1zM412.2 122.2h2.1v2.1h-2.1zM412.0 117.8h2.1v2.1h-2.1zM412.0 123.9h2.1v2.1h-2.1zM412.1 121.8h2.1v2.1h-2.1zM412.0 120.5h2.1v2.1h-2.1zM412.1 125.0h2.1v2.1h-2.1zM412.1 116.3h2.1v2.1h-2.1zM412.1 126.4h2.1v2.1h-2.1zM412.0 113.2h2.1v2.1h-2.1zM412.0 129.3h2.1v2.1h-2.1zM412.3 127.0h2.1v2.1h-2.1zM412.4 116.1h2.1v2.1h-2.1zM412.2 118.4h2.1v2.1h-2.1zM412.3 119.8h2.1v2.1h-2.1zM412.3 121.8h2.1v2.1h-2.1zM412.4 122.8h2.1v2.1h-2.1zM412.4 119.4h2.1v2.1h-2.1zM412.4 129.7h2.1v2.1h-2.1zM412.4 118.5h2.1v2.1h-2.1zM412.4 120.8h2.1v2.1h-2.1zM412.3 126.8h2.1v2.1h-2.1zM412.2 125.4h2.1v2.1h-2.1zM412.4 121.7h2.1v2.1h-2.1zM412.2 123.6h2.1v2.1h-2.1zM412.4 125.4h2.1v2.1h-2.1zM412.3 121.7h2.1v2.1h-2.1zM412.3 124.8h2.1v2.1h-2.1zM412.2 117.7h2.1v2.1h-2.1zM412.4 122.0h2.1v2.1h-2.1zM412.4 114.2h2.1v2.1h-2.1zM412.2 117.8h2.1v2.1h-2.1zM412.4 116.5h2.1v2.1h-2.1zM412.6 126.6h2.1v2.1h-2.1zM412.6 113.5h2.1v2.1h-2.1zM412.7 112.4h2.1v2.1h-2.1zM412.5 116.1h2.1v2.1h-2.1zM412.6 116.0h2.1v2.1h-2.1zM412.7 120.4h2.1v2.1h-2.1zM412.7 118.5h2.1v2.1h-2.1zM412.6 118.8h2.1v2.1h-2.1zM412.6 118.8h2.1v2.1h-2.1zM412.7 120.1h2.1v2.1h-2.1zM412.7 117.0h2.1v2.1h-2.1zM412.5 122.6h2.1v2.1h-2.1zM412.7 121.0h2.1v2.1h-2.1zM412.5 116.4h2.1v2.1h-2.1zM412.5 129.6h2.1v2.1h-2.1zM412.5 115.3h2.1v2.1h-2.1zM412.5 124.6h2.1v2.1h-2.1zM412.5 117.7h2.1v2.1h-2.1zM412.5 122.8h2.1v2.1h-2.1zM412.5 123.5h2.1v2.1h-2.1zM412.7 125.0h2.1v2.1h-2.1zM412.7 127.6h2.1v2.1h-2.1zM412.5 117.3h2.1v2.1h-2.1zM412.5 134.4h2.1v2.1h-2.1zM412.6 123.0h2.1v2.1h-2.1zM412.6 117.3h2.1v2.1h-2.1zM412.6 114.8h2.1v2.1h-2.1zM412.6 132.1h2.1v2.1h-2.1zM412.6 128.8h2.1v2.1h-2.1zM412.6 121.1h2.1v2.1h-2.1zM412.6 124.7h2.1v2.1h-2.1zM412.5 127.4h2.1v2.1h-2.1zM412.8 121.4h2.1v2.1h-2.1zM412.8 125.7h2.1v2.1h-2.1zM412.8 117.3h2.1v2.1h-2.1zM412.9 116.7h2.1v2.1h-2.1zM412.8 118.1h2.1v2.1h-2.1zM412.9 121.6h2.1v2.1h-2.1zM412.8 122.2h2.1v2.1h-2.1zM412.8 119.1h2.1v2.1h-2.1zM412.9 124.5h2.1v2.1h-2.1zM412.9 116.1h2.1v2.1h-2.1zM412.7 120.7h2.1v2.1h-2.1zM412.9 117.6h2.1v2.1h-2.1zM412.8 116.2h2.1v2.1h-2.1zM412.9 126.7h2.1v2.1h-2.1zM412.7 119.6h2.1v2.1h-2.1zM412.9 116.1h2.1v2.1h-2.1zM412.9 121.1h2.1v2.1h-2.1zM412.9 116.2h2.1v2.1h-2.1zM412.8 123.8h2.1v2.1h-2.1zM412.9 124.9h2.1v2.1h-2.1zM412.9 125.7h2.1v2.1h-2.1zM412.8 116.0h2.1v2.1h-2.1zM412.8 120.3h2.1v2.1h-2.1zM413.2 115.7h2.1v2.1h-2.1zM413.1 115.7h2.1v2.1h-2.1zM413.1 130.8h2.1v2.1h-2.1zM413.1 126.5h2.1v2.1h-2.1zM413.0 128.2h2.1v2.1h-2.1zM413.2 120.6h2.1v2.1h-2.1zM413.2 121.9h2.1v2.1h-2.1zM413.0 124.4h2.1v2.1h-2.1zM413.1 123.4h2.1v2.1h-2.1zM413.1 120.3h2.1v2.1h-2.1zM413.0 113.8h2.1v2.1h-2.1zM413.1 117.2h2.1v2.1h-2.1zM413.0 113.7h2.1v2.1h-2.1zM413.0 128.2h2.1v2.1h-2.1zM413.0 118.8h2.1v2.1h-2.1zM413.1 119.8h2.1v2.1h-2.1zM413.1 122.0h2.1v2.1h-2.1zM413.0 120.9h2.1v2.1h-2.1zM413.0 123.2h2.1v2.1h-2.1zM413.0 117.7h2.1v2.1h-2.1zM413.0 113.5h2.1v2.1h-2.1zM413.1 128.9h2.1v2.1h-2.1zM413.2 117.2h2.1v2.1h-2.1zM413.3 124.1h2.1v2.1h-2.1zM413.2 123.8h2.1v2.1h-2.1zM413.4 127.7h2.1v2.1h-2.1zM413.4 112.8h2.1v2.1h-2.1zM413.2 113.6h2.1v2.1h-2.1zM413.4 109.3h2.1v2.1h-2.1zM413.4 124.2h2.1v2.1h-2.1zM413.3 109.3h2.1v2.1h-2.1zM413.3 120.1h2.1v2.1h-2.1zM413.2 123.9h2.1v2.1h-2.1zM413.4 113.6h2.1v2.1h-2.1zM413.4 117.0h2.1v2.1h-2.1zM413.2 119.1h2.1v2.1h-2.1zM413.3 123.7h2.1v2.1h-2.1zM413.4 113.0h2.1v2.1h-2.1zM413.4 121.6h2.1v2.1h-2.1zM413.2 123.6h2.1v2.1h-2.1zM413.3 120.9h2.1v2.1h-2.1zM413.2 121.0h2.1v2.1h-2.1zM413.3 126.2h2.1v2.1h-2.1zM413.4 121.2h2.1v2.1h-2.1zM413.2 120.2h2.1v2.1h-2.1zM413.7 118.4h2.1v2.1h-2.1zM413.6 113.6h2.1v2.1h-2.1zM413.6 123.0h2.1v2.1h-2.1zM413.6 119.3h2.1v2.1h-2.1zM413.5 122.1h2.1v2.1h-2.1zM413.5 131.8h2.1v2.1h-2.1zM413.6 126.3h2.1v2.1h-2.1zM413.6 125.2h2.1v2.1h-2.1zM413.7 117.9h2.1v2.1h-2.1zM413.5 114.4h2.1v2.1h-2.1zM413.7 125.8h2.1v2.1h-2.1zM413.6 118.5h2.1v2.1h-2.1zM413.5 120.2h2.1v2.1h-2.1zM413.5 118.3h2.1v2.1h-2.1zM413.5 120.5h2.1v2.1h-2.1zM413.7 131.4h2.1v2.1h-2.1zM413.5 118.5h2.1v2.1h-2.1zM413.5 118.7h2.1v2.1h-2.1zM413.6 120.9h2.1v2.1h-2.1zM413.8 117.3h2.1v2.1h-2.1zM413.9 120.5h2.1v2.1h-2.1zM413.8 122.9h2.1v2.1h-2.1zM413.9 115.3h2.1v2.1h-2.1zM413.9 115.5h2.1v2.1h-2.1zM413.8 119.0h2.1v2.1h-2.1zM413.9 123.0h2.1v2.1h-2.1zM413.9 116.8h2.1v2.1h-2.1zM413.8 112.8h2.1v2.1h-2.1zM413.8 116.2h2.1v2.1h-2.1zM413.9 121.3h2.1v2.1h-2.1zM413.9 125.0h2.1v2.1h-2.1zM413.9 117.0h2.1v2.1h-2.1zM413.9 117.9h2.1v2.1h-2.1zM413.8 118.7h2.1v2.1h-2.1zM413.9 118.8h2.1v2.1h-2.1zM413.8 115.0h2.1v2.1h-2.1zM413.8 117.3h2.1v2.1h-2.1zM414.1 122.5h2.1v2.1h-2.1zM414.1 118.3h2.1v2.1h-2.1zM414.2 117.9h2.1v2.1h-2.1zM414.0 127.7h2.1v2.1h-2.1zM414.0 124.5h2.1v2.1h-2.1zM414.2 118.8h2.1v2.1h-2.1zM414.1 114.8h2.1v2.1h-2.1zM414.0 117.2h2.1v2.1h-2.1zM414.1 121.1h2.1v2.1h-2.1zM414.0 123.4h2.1v2.1h-2.1zM414.1 130.9h2.1v2.1h-2.1zM414.1 118.1h2.1v2.1h-2.1zM414.0 120.1h2.1v2.1h-2.1zM414.1 117.6h2.1v2.1h-2.1zM414.1 119.8h2.1v2.1h-2.1zM414.0 117.6h2.1v2.1h-2.1zM414.2 114.1h2.1v2.1h-2.1zM414.0 124.4h2.1v2.1h-2.1zM414.0 120.0h2.1v2.1h-2.1zM414.2 125.5h2.1v2.1h-2.1zM414.1 116.9h2.1v2.1h-2.1zM414.3 121.5h2.1v2.1h-2.1zM414.2 120.4h2.1v2.1h-2.1zM414.3 122.9h2.1v2.1h-2.1zM414.4 117.0h2.1v2.1h-2.1zM414.3 124.8h2.1v2.1h-2.1zM414.3 129.2h2.1v2.1h-2.1zM414.3 122.3h2.1v2.1h-2.1zM414.2 123.5h2.1v2.1h-2.1zM414.3 121.9h2.1v2.1h-2.1zM414.2 124.0h2.1v2.1h-2.1zM414.3 120.5h2.1v2.1h-2.1zM414.4 116.9h2.1v2.1h-2.1zM414.3 120.4h2.1v2.1h-2.1zM414.3 120.0h2.1v2.1h-2.1zM414.3 112.1h2.1v2.1h-2.1zM414.4 120.5h2.1v2.1h-2.1zM414.3 119.6h2.1v2.1h-2.1zM414.3 120.5h2.1v2.1h-2.1zM414.4 116.7h2.1v2.1h-2.1zM414.3 121.8h2.1v2.1h-2.1zM414.4 122.4h2.1v2.1h-2.1zM414.6 115.3h2.1v2.1h-2.1zM414.7 114.5h2.1v2.1h-2.1zM414.6 119.5h2.1v2.1h-2.1zM414.7 117.9h2.1v2.1h-2.1zM414.5 112.7h2.1v2.1h-2.1zM414.6 121.9h2.1v2.1h-2.1zM414.6 115.3h2.1v2.1h-2.1zM414.6 120.7h2.1v2.1h-2.1zM414.5 114.3h2.1v2.1h-2.1zM414.6 120.1h2.1v2.1h-2.1zM414.7 118.0h2.1v2.1h-2.1zM414.5 119.0h2.1v2.1h-2.1zM414.6 121.2h2.1v2.1h-2.1zM414.5 120.9h2.1v2.1h-2.1zM414.6 119.5h2.1v2.1h-2.1zM414.6 119.5h2.1v2.1h-2.1zM414.5 112.5h2.1v2.1h-2.1zM414.7 118.2h2.1v2.1h-2.1zM414.5 108.1h2.1v2.1h-2.1zM414.7 107.6h2.1v2.1h-2.1zM414.7 117.5h2.1v2.1h-2.1zM414.9 116.8h2.1v2.1h-2.1zM414.8 113.0h2.1v2.1h-2.1zM414.9 130.5h2.1v2.1h-2.1zM414.7 116.8h2.1v2.1h-2.1zM414.7 120.6h2.1v2.1h-2.1zM414.7 118.9h2.1v2.1h-2.1zM414.9 110.6h2.1v2.1h-2.1zM414.9 115.8h2.1v2.1h-2.1zM414.9 119.6h2.1v2.1h-2.1zM414.8 123.3h2.1v2.1h-2.1zM414.7 117.0h2.1v2.1h-2.1zM414.9 120.4h2.1v2.1h-2.1zM414.7 117.0h2.1v2.1h-2.1zM414.9 121.5h2.1v2.1h-2.1zM414.8 106.4h2.1v2.1h-2.1zM414.8 121.7h2.1v2.1h-2.1zM414.8 115.6h2.1v2.1h-2.1zM414.7 115.9h2.1v2.1h-2.1zM414.7 104.7h2.1v2.1h-2.1zM414.9 113.3h2.1v2.1h-2.1zM414.8 121.7h2.1v2.1h-2.1zM414.9 130.1h2.1v2.1h-2.1zM414.8 115.2h2.1v2.1h-2.1zM414.8 115.4h2.1v2.1h-2.1zM414.9 121.1h2.1v2.1h-2.1zM415.1 119.5h2.1v2.1h-2.1zM415.0 114.9h2.1v2.1h-2.1zM415.0 109.4h2.1v2.1h-2.1zM415.0 109.5h2.1v2.1h-2.1zM415.1 115.4h2.1v2.1h-2.1zM415.0 117.8h2.1v2.1h-2.1zM415.1 112.6h2.1v2.1h-2.1zM415.0 122.5h2.1v2.1h-2.1zM415.2 121.0h2.1v2.1h-2.1zM415.1 119.3h2.1v2.1h-2.1zM415.2 109.4h2.1v2.1h-2.1zM415.1 117.4h2.1v2.1h-2.1zM415.1 118.3h2.1v2.1h-2.1zM415.2 112.0h2.1v2.1h-2.1zM415.1 107.5h2.1v2.1h-2.1zM415.1 128.2h2.1v2.1h-2.1zM415.0 121.7h2.1v2.1h-2.1zM415.0 116.6h2.1v2.1h-2.1zM415.0 126.6h2.1v2.1h-2.1zM415.0 124.2h2.1v2.1h-2.1zM415.1 120.8h2.1v2.1h-2.1zM415.2 119.5h2.1v2.1h-2.1zM415.4 121.3h2.1v2.1h-2.1zM415.2 128.8h2.1v2.1h-2.1zM415.4 118.2h2.1v2.1h-2.1zM415.3 119.0h2.1v2.1h-2.1zM415.4 114.7h2.1v2.1h-2.1zM415.4 117.9h2.1v2.1h-2.1zM415.4 118.0h2.1v2.1h-2.1zM415.4 122.1h2.1v2.1h-2.1zM415.2 121.2h2.1v2.1h-2.1zM415.4 114.3h2.1v2.1h-2.1zM415.3 115.9h2.1v2.1h-2.1zM415.3 125.3h2.1v2.1h-2.1zM415.2 113.4h2.1v2.1h-2.1zM415.3 122.1h2.1v2.1h-2.1zM415.4 126.6h2.1v2.1h-2.1zM415.2 121.7h2.1v2.1h-2.1zM415.3 119.5h2.1v2.1h-2.1zM415.4 125.2h2.1v2.1h-2.1zM415.3 120.1h2.1v2.1h-2.1zM415.3 118.3h2.1v2.1h-2.1zM415.3 117.3h2.1v2.1h-2.1zM415.3 124.1h2.1v2.1h-2.1zM415.3 121.8h2.1v2.1h-2.1zM415.4 126.1h2.1v2.1h-2.1zM415.4 116.5h2.1v2.1h-2.1zM415.4 116.6h2.1v2.1h-2.1zM415.4 116.0h2.1v2.1h-2.1zM415.7 111.2h2.1v2.1h-2.1zM415.5 119.4h2.1v2.1h-2.1zM415.5 117.2h2.1v2.1h-2.1zM415.7 123.2h2.1v2.1h-2.1zM415.5 108.8h2.1v2.1h-2.1zM415.5 124.1h2.1v2.1h-2.1zM415.5 117.7h2.1v2.1h-2.1zM415.6 117.2h2.1v2.1h-2.1zM415.6 113.8h2.1v2.1h-2.1zM415.7 113.6h2.1v2.1h-2.1zM415.5 110.3h2.1v2.1h-2.1zM415.5 122.7h2.1v2.1h-2.1zM415.6 116.8h2.1v2.1h-2.1zM415.7 121.6h2.1v2.1h-2.1zM415.5 122.4h2.1v2.1h-2.1zM415.6 115.4h2.1v2.1h-2.1zM415.6 116.7h2.1v2.1h-2.1zM415.6 116.2h2.1v2.1h-2.1zM415.6 123.3h2.1v2.1h-2.1zM415.5 118.7h2.1v2.1h-2.1zM415.7 118.8h2.1v2.1h-2.1zM415.5 121.8h2.1v2.1h-2.1zM415.7 117.5h2.1v2.1h-2.1zM415.9 116.9h2.1v2.1h-2.1zM415.9 121.7h2.1v2.1h-2.1zM415.8 114.0h2.1v2.1h-2.1zM415.8 114.7h2.1v2.1h-2.1zM415.7 129.4h2.1v2.1h-2.1zM415.7 118.3h2.1v2.1h-2.1zM415.7 115.1h2.1v2.1h-2.1zM415.9 117.9h2.1v2.1h-2.1zM415.8 111.3h2.1v2.1h-2.1zM415.8 120.6h2.1v2.1h-2.1zM415.9 122.8h2.1v2.1h-2.1zM415.9 114.6h2.1v2.1h-2.1zM415.7 123.1h2.1v2.1h-2.1zM415.8 116.2h2.1v2.1h-2.1zM415.8 119.3h2.1v2.1h-2.1zM415.7 114.0h2.1v2.1h-2.1zM415.8 113.6h2.1v2.1h-2.1zM415.9 109.9h2.1v2.1h-2.1zM415.8 119.0h2.1v2.1h-2.1zM415.8 116.3h2.1v2.1h-2.1zM415.8 116.5h2.1v2.1h-2.1zM415.7 112.0h2.1v2.1h-2.1zM415.9 111.6h2.1v2.1h-2.1zM415.9 114.4h2.1v2.1h-2.1zM415.9 120.2h2.1v2.1h-2.1zM416.0 119.6h2.1v2.1h-2.1zM416.1 118.5h2.1v2.1h-2.1zM416.1 111.0h2.1v2.1h-2.1zM416.2 115.1h2.1v2.1h-2.1zM416.1 111.5h2.1v2.1h-2.1zM416.2 107.2h2.1v2.1h-2.1zM416.0 122.3h2.1v2.1h-2.1zM416.1 115.7h2.1v2.1h-2.1zM416.1 115.3h2.1v2.1h-2.1zM416.0 112.5h2.1v2.1h-2.1zM416.1 121.5h2.1v2.1h-2.1zM416.2 128.5h2.1v2.1h-2.1zM416.1 120.6h2.1v2.1h-2.1zM416.1 122.4h2.1v2.1h-2.1zM416.1 111.0h2.1v2.1h-2.1zM416.2 118.3h2.1v2.1h-2.1zM416.0 118.7h2.1v2.1h-2.1zM416.1 125.4h2.1v2.1h-2.1zM416.1 117.5h2.1v2.1h-2.1zM416.1 112.5h2.1v2.1h-2.1zM416.2 117.0h2.1v2.1h-2.1zM416.1 115.2h2.1v2.1h-2.1zM416.1 125.1h2.1v2.1h-2.1zM416.1 121.0h2.1v2.1h-2.1zM416.1 119.3h2.1v2.1h-2.1zM416.0 118.5h2.1v2.1h-2.1zM416.0 122.0h2.1v2.1h-2.1zM416.1 114.9h2.1v2.1h-2.1zM416.0 112.7h2.1v2.1h-2.1zM416.2 107.5h2.1v2.1h-2.1zM416.2 119.8h2.1v2.1h-2.1zM416.4 121.8h2.1v2.1h-2.1zM416.4 109.0h2.1v2.1h-2.1zM416.3 115.5h2.1v2.1h-2.1zM416.2 116.2h2.1v2.1h-2.1zM416.4 118.0h2.1v2.1h-2.1zM416.4 122.6h2.1v2.1h-2.1zM416.3 110.1h2.1v2.1h-2.1zM416.3 120.1h2.1v2.1h-2.1zM416.4 107.8h2.1v2.1h-2.1zM416.2 113.3h2.1v2.1h-2.1zM416.3 114.5h2.1v2.1h-2.1zM416.3 115.8h2.1v2.1h-2.1zM416.3 113.9h2.1v2.1h-2.1zM416.3 114.5h2.1v2.1h-2.1zM416.3 115.3h2.1v2.1h-2.1zM416.2 115.8h2.1v2.1h-2.1zM416.3 107.4h2.1v2.1h-2.1zM416.2 109.9h2.1v2.1h-2.1zM416.3 114.9h2.1v2.1h-2.1zM416.4 120.0h2.1v2.1h-2.1zM416.2 122.6h2.1v2.1h-2.1zM416.2 132.4h2.1v2.1h-2.1zM416.4 117.7h2.1v2.1h-2.1zM416.3 113.0h2.1v2.1h-2.1zM416.2 118.2h2.1v2.1h-2.1zM416.3 120.8h2.1v2.1h-2.1zM416.3 118.0h2.1v2.1h-2.1zM416.4 111.5h2.1v2.1h-2.1zM416.4 116.6h2.1v2.1h-2.1zM416.4 116.9h2.1v2.1h-2.1zM416.5 127.2h2.1v2.1h-2.1zM416.6 112.9h2.1v2.1h-2.1zM416.6 116.8h2.1v2.1h-2.1zM416.5 114.8h2.1v2.1h-2.1zM416.7 114.9h2.1v2.1h-2.1zM416.5 115.6h2.1v2.1h-2.1zM416.6 116.4h2.1v2.1h-2.1zM416.6 114.7h2.1v2.1h-2.1zM416.6 126.7h2.1v2.1h-2.1zM416.5 120.7h2.1v2.1h-2.1zM416.6 113.0h2.1v2.1h-2.1zM416.6 114.1h2.1v2.1h-2.1zM416.6 121.0h2.1v2.1h-2.1zM416.6 119.9h2.1v2.1h-2.1zM416.7 113.7h2.1v2.1h-2.1zM416.6 122.0h2.1v2.1h-2.1zM416.6 109.4h2.1v2.1h-2.1zM416.7 114.4h2.1v2.1h-2.1zM416.7 126.2h2.1v2.1h-2.1zM416.7 103.0h2.1v2.1h-2.1zM416.5 116.0h2.1v2.1h-2.1zM416.7 122.2h2.1v2.1h-2.1zM416.6 116.3h2.1v2.1h-2.1zM416.6 112.9h2.1v2.1h-2.1zM416.5 112.4h2.1v2.1h-2.1zM416.5 106.1h2.1v2.1h-2.1zM416.7 109.9h2.1v2.1h-2.1zM416.5 117.5h2.1v2.1h-2.1zM416.8 109.6h2.1v2.1h-2.1zM416.8 111.8h2.1v2.1h-2.1zM416.8 120.6h2.1v2.1h-2.1zM416.7 118.2h2.1v2.1h-2.1zM416.9 108.8h2.1v2.1h-2.1zM416.9 123.9h2.1v2.1h-2.1zM416.7 118.1h2.1v2.1h-2.1zM416.9 125.5h2.1v2.1h-2.1zM416.7 123.0h2.1v2.1h-2.1zM416.9 114.4h2.1v2.1h-2.1zM416.9 117.3h2.1v2.1h-2.1zM416.8 112.9h2.1v2.1h-2.1zM416.9 112.2h2.1v2.1h-2.1zM416.8 115.3h2.1v2.1h-2.1zM416.8 119.6h2.1v2.1h-2.1zM416.9 124.2h2.1v2.1h-2.1zM416.8 112.1h2.1v2.1h-2.1zM416.7 120.7h2.1v2.1h-2.1zM416.9 117.0h2.1v2.1h-2.1zM416.7 115.8h2.1v2.1h-2.1zM416.9 122.9h2.1v2.1h-2.1zM416.7 115.1h2.1v2.1h-2.1zM416.8 124.4h2.1v2.1h-2.1zM416.9 115.1h2.1v2.1h-2.1zM416.9 111.9h2.1v2.1h-2.1zM416.8 121.1h2.1v2.1h-2.1zM417.0 119.4h2.1v2.1h-2.1zM417.1 111.0h2.1v2.1h-2.1zM417.1 111.9h2.1v2.1h-2.1zM417.2 119.0h2.1v2.1h-2.1zM417.2 111.1h2.1v2.1h-2.1zM417.0 118.1h2.1v2.1h-2.1zM417.2 121.7h2.1v2.1h-2.1zM417.2 116.8h2.1v2.1h-2.1zM417.1 102.1h2.1v2.1h-2.1zM417.0 123.2h2.1v2.1h-2.1zM417.2 123.0h2.1v2.1h-2.1zM417.1 124.5h2.1v2.1h-2.1zM417.0 121.5h2.1v2.1h-2.1zM417.1 107.5h2.1v2.1h-2.1zM417.0 124.6h2.1v2.1h-2.1zM417.1 118.6h2.1v2.1h-2.1zM417.0 122.0h2.1v2.1h-2.1zM417.0 116.0h2.1v2.1h-2.1zM417.0 115.6h2.1v2.1h-2.1zM417.0 115.5h2.1v2.1h-2.1zM417.1 125.5h2.1v2.1h-2.1zM417.1 118.2h2.1v2.1h-2.1zM417.1 115.7h2.1v2.1h-2.1zM417.4 121.7h2.1v2.1h-2.1zM417.4 112.4h2.1v2.1h-2.1zM417.4 112.5h2.1v2.1h-2.1zM417.4 122.1h2.1v2.1h-2.1zM417.2 110.5h2.1v2.1h-2.1zM417.3 111.4h2.1v2.1h-2.1zM417.2 114.9h2.1v2.1h-2.1zM417.3 120.0h2.1v2.1h-2.1zM417.4 119.9h2.1v2.1h-2.1zM417.4 113.5h2.1v2.1h-2.1zM417.4 114.7h2.1v2.1h-2.1zM417.3 117.0h2.1v2.1h-2.1zM417.4 114.2h2.1v2.1h-2.1zM417.3 111.7h2.1v2.1h-2.1zM417.3 110.5h2.1v2.1h-2.1zM417.4 120.3h2.1v2.1h-2.1zM417.4 115.2h2.1v2.1h-2.1zM417.4 132.3h2.1v2.1h-2.1zM417.4 119.9h2.1v2.1h-2.1zM417.2 112.5h2.1v2.1h-2.1zM417.6 110.5h2.1v2.1h-2.1zM417.6 115.0h2.1v2.1h-2.1zM417.5 107.9h2.1v2.1h-2.1zM417.5 115.7h2.1v2.1h-2.1zM417.5 116.9h2.1v2.1h-2.1zM417.6 115.3h2.1v2.1h-2.1zM417.5 117.9h2.1v2.1h-2.1zM417.6 115.7h2.1v2.1h-2.1zM417.5 109.8h2.1v2.1h-2.1zM417.6 110.4h2.1v2.1h-2.1zM417.7 116.8h2.1v2.1h-2.1zM417.5 121.6h2.1v2.1h-2.1zM417.5 117.0h2.1v2.1h-2.1zM417.5 113.4h2.1v2.1h-2.1zM417.6 117.1h2.1v2.1h-2.1zM417.7 105.9h2.1v2.1h-2.1zM417.6 110.6h2.1v2.1h-2.1zM417.5 114.1h2.1v2.1h-2.1zM417.7 115.7h2.1v2.1h-2.1zM417.6 114.3h2.1v2.1h-2.1zM417.7 114.5h2.1v2.1h-2.1zM417.7 109.4h2.1v2.1h-2.1zM417.7 112.8h2.1v2.1h-2.1zM417.6 117.5h2.1v2.1h-2.1zM417.5 105.9h2.1v2.1h-2.1zM417.6 109.4h2.1v2.1h-2.1zM417.8 105.2h2.1v2.1h-2.1zM417.8 110.2h2.1v2.1h-2.1zM417.8 104.1h2.1v2.1h-2.1zM417.7 114.8h2.1v2.1h-2.1zM417.7 113.5h2.1v2.1h-2.1zM417.9 118.3h2.1v2.1h-2.1zM417.9 127.7h2.1v2.1h-2.1zM417.7 112.6h2.1v2.1h-2.1zM417.9 115.9h2.1v2.1h-2.1zM417.9 113.6h2.1v2.1h-2.1zM417.9 100.0h2.1v2.1h-2.1zM417.9 111.6h2.1v2.1h-2.1zM417.8 111.9h2.1v2.1h-2.1zM417.9 117.4h2.1v2.1h-2.1zM417.7 111.3h2.1v2.1h-2.1zM417.8 108.7h2.1v2.1h-2.1zM417.9 119.1h2.1v2.1h-2.1zM417.8 115.6h2.1v2.1h-2.1zM417.8 110.9h2.1v2.1h-2.1zM417.8 111.6h2.1v2.1h-2.1zM417.9 114.1h2.1v2.1h-2.1zM417.9 120.4h2.1v2.1h-2.1zM418.1 125.0h2.1v2.1h-2.1zM418.0 120.8h2.1v2.1h-2.1zM418.0 125.7h2.1v2.1h-2.1zM418.2 118.0h2.1v2.1h-2.1zM418.1 118.2h2.1v2.1h-2.1zM418.1 123.6h2.1v2.1h-2.1zM418.0 119.5h2.1v2.1h-2.1zM418.1 117.7h2.1v2.1h-2.1zM418.1 112.9h2.1v2.1h-2.1zM418.1 107.4h2.1v2.1h-2.1zM418.2 124.2h2.1v2.1h-2.1zM418.0 113.5h2.1v2.1h-2.1zM418.2 111.5h2.1v2.1h-2.1zM418.1 120.8h2.1v2.1h-2.1zM418.2 110.7h2.1v2.1h-2.1zM418.2 108.1h2.1v2.1h-2.1zM418.1 112.7h2.1v2.1h-2.1zM418.1 115.5h2.1v2.1h-2.1zM418.2 117.3h2.1v2.1h-2.1zM418.2 118.7h2.1v2.1h-2.1zM418.0 121.4h2.1v2.1h-2.1zM418.1 115.2h2.1v2.1h-2.1zM418.0 118.0h2.1v2.1h-2.1zM418.2 115.2h2.1v2.1h-2.1zM418.0 112.4h2.1v2.1h-2.1zM418.4 113.3h2.1v2.1h-2.1zM418.3 118.3h2.1v2.1h-2.1zM418.3 110.8h2.1v2.1h-2.1zM418.4 107.4h2.1v2.1h-2.1zM418.4 122.6h2.1v2.1h-2.1zM418.3 119.6h2.1v2.1h-2.1zM418.4 113.8h2.1v2.1h-2.1zM418.4 113.5h2.1v2.1h-2.1zM418.4 120.9h2.1v2.1h-2.1zM418.3 117.6h2.1v2.1h-2.1zM418.4 113.7h2.1v2.1h-2.1zM418.3 117.3h2.1v2.1h-2.1zM418.3 115.7h2.1v2.1h-2.1zM418.3 113.5h2.1v2.1h-2.1zM418.4 111.5h2.1v2.1h-2.1zM418.2 121.0h2.1v2.1h-2.1zM418.6 111.9h2.1v2.1h-2.1zM418.5 123.6h2.1v2.1h-2.1zM418.6 107.6h2.1v2.1h-2.1zM418.5 118.5h2.1v2.1h-2.1zM418.7 115.7h2.1v2.1h-2.1zM418.5 119.8h2.1v2.1h-2.1zM418.7 106.3h2.1v2.1h-2.1zM418.5 108.6h2.1v2.1h-2.1zM418.7 110.5h2.1v2.1h-2.1zM418.6 115.4h2.1v2.1h-2.1zM418.6 115.7h2.1v2.1h-2.1zM418.5 115.5h2.1v2.1h-2.1zM418.6 113.8h2.1v2.1h-2.1zM418.6 111.2h2.1v2.1h-2.1zM418.5 107.5h2.1v2.1h-2.1zM418.7 112.7h2.1v2.1h-2.1zM418.7 118.2h2.1v2.1h-2.1zM418.6 121.0h2.1v2.1h-2.1zM418.7 112.3h2.1v2.1h-2.1zM418.5 121.4h2.1v2.1h-2.1zM418.5 107.7h2.1v2.1h-2.1zM418.5 119.7h2.1v2.1h-2.1zM418.6 109.0h2.1v2.1h-2.1zM418.7 111.5h2.1v2.1h-2.1zM418.9 120.6h2.1v2.1h-2.1zM418.7 98.6h2.1v2.1h-2.1zM418.8 122.7h2.1v2.1h-2.1zM418.9 122.3h2.1v2.1h-2.1zM418.7 109.0h2.1v2.1h-2.1zM418.9 121.8h2.1v2.1h-2.1zM418.9 117.0h2.1v2.1h-2.1zM418.8 117.6h2.1v2.1h-2.1zM418.9 101.6h2.1v2.1h-2.1zM418.7 112.3h2.1v2.1h-2.1zM418.8 114.0h2.1v2.1h-2.1zM418.9 112.5h2.1v2.1h-2.1zM418.9 112.7h2.1v2.1h-2.1zM418.7 113.4h2.1v2.1h-2.1zM418.9 98.5h2.1v2.1h-2.1zM418.7 113.9h2.1v2.1h-2.1zM418.9 110.9h2.1v2.1h-2.1zM418.9 114.4h2.1v2.1h-2.1zM418.9 112.1h2.1v2.1h-2.1zM418.8 115.0h2.1v2.1h-2.1zM418.9 116.6h2.1v2.1h-2.1zM418.8 125.1h2.1v2.1h-2.1zM418.9 110.2h2.1v2.1h-2.1zM418.9 124.6h2.1v2.1h-2.1zM419.1 120.2h2.1v2.1h-2.1zM419.2 108.3h2.1v2.1h-2.1zM419.2 114.0h2.1v2.1h-2.1zM419.1 124.5h2.1v2.1h-2.1zM419.0 117.1h2.1v2.1h-2.1zM419.1 108.8h2.1v2.1h-2.1zM419.0 102.3h2.1v2.1h-2.1zM419.0 105.3h2.1v2.1h-2.1zM419.0 121.7h2.1v2.1h-2.1zM419.1 116.5h2.1v2.1h-2.1zM419.0 107.2h2.1v2.1h-2.1zM419.1 118.8h2.1v2.1h-2.1zM419.2 112.5h2.1v2.1h-2.1zM419.0 110.9h2.1v2.1h-2.1zM419.0 111.7h2.1v2.1h-2.1zM419.0 112.1h2.1v2.1h-2.1zM419.0 124.5h2.1v2.1h-2.1zM419.1 109.2h2.1v2.1h-2.1zM419.1 112.3h2.1v2.1h-2.1zM419.1 122.4h2.1v2.1h-2.1zM419.2 123.4h2.1v2.1h-2.1zM419.3 114.6h2.1v2.1h-2.1zM419.3 127.2h2.1v2.1h-2.1zM419.4 114.2h2.1v2.1h-2.1zM419.3 116.3h2.1v2.1h-2.1zM419.3 130.6h2.1v2.1h-2.1zM419.3 109.3h2.1v2.1h-2.1zM419.4 120.1h2.1v2.1h-2.1zM419.4 117.0h2.1v2.1h-2.1zM419.3 106.7h2.1v2.1h-2.1zM419.3 110.8h2.1v2.1h-2.1zM419.2 119.5h2.1v2.1h-2.1zM419.4 105.8h2.1v2.1h-2.1zM419.4 113.3h2.1v2.1h-2.1zM419.4 119.9h2.1v2.1h-2.1zM419.4 113.0h2.1v2.1h-2.1zM419.2 116.1h2.1v2.1h-2.1zM419.4 110.4h2.1v2.1h-2.1zM419.3 110.7h2.1v2.1h-2.1zM419.4 110.7h2.1v2.1h-2.1zM419.4 112.3h2.1v2.1h-2.1zM419.4 118.1h2.1v2.1h-2.1zM419.4 114.8h2.1v2.1h-2.1zM419.4 126.1h2.1v2.1h-2.1zM419.3 117.7h2.1v2.1h-2.1zM419.3 116.1h2.1v2.1h-2.1zM419.3 127.8h2.1v2.1h-2.1zM419.4 113.7h2.1v2.1h-2.1zM419.4 109.6h2.1v2.1h-2.1zM419.5 129.4h2.1v2.1h-2.1zM419.6 109.4h2.1v2.1h-2.1zM419.7 115.0h2.1v2.1h-2.1zM419.6 126.3h2.1v2.1h-2.1zM419.5 114.6h2.1v2.1h-2.1zM419.5 116.5h2.1v2.1h-2.1zM419.5 105.7h2.1v2.1h-2.1zM419.6 120.1h2.1v2.1h-2.1zM419.7 119.4h2.1v2.1h-2.1zM419.7 119.0h2.1v2.1h-2.1zM419.5 113.2h2.1v2.1h-2.1zM419.5 116.5h2.1v2.1h-2.1zM419.5 114.0h2.1v2.1h-2.1zM419.5 119.4h2.1v2.1h-2.1zM419.5 114.2h2.1v2.1h-2.1zM419.5 119.0h2.1v2.1h-2.1zM419.7 106.2h2.1v2.1h-2.1zM419.5 112.4h2.1v2.1h-2.1zM419.5 97.4h2.1v2.1h-2.1zM419.5 113.5h2.1v2.1h-2.1zM419.7 101.7h2.1v2.1h-2.1zM419.8 112.8h2.1v2.1h-2.1zM419.7 114.1h2.1v2.1h-2.1zM419.9 118.2h2.1v2.1h-2.1zM419.7 120.5h2.1v2.1h-2.1zM419.8 110.0h2.1v2.1h-2.1zM419.7 126.5h2.1v2.1h-2.1zM419.7 115.6h2.1v2.1h-2.1zM419.8 103.4h2.1v2.1h-2.1zM419.8 119.8h2.1v2.1h-2.1zM419.9 115.6h2.1v2.1h-2.1zM419.8 115.8h2.1v2.1h-2.1zM419.9 104.3h2.1v2.1h-2.1zM419.8 112.2h2.1v2.1h-2.1zM419.8 115.0h2.1v2.1h-2.1zM419.9 113.0h2.1v2.1h-2.1zM419.8 118.1h2.1v2.1h-2.1zM419.8 121.6h2.1v2.1h-2.1zM419.8 123.2h2.1v2.1h-2.1zM419.9 121.5h2.1v2.1h-2.1zM419.9 113.0h2.1v2.1h-2.1zM420.0 113.8h2.1v2.1h-2.1zM420.1 115.9h2.1v2.1h-2.1zM420.2 121.2h2.1v2.1h-2.1zM420.1 121.6h2.1v2.1h-2.1zM420.0 127.6h2.1v2.1h-2.1zM420.1 107.1h2.1v2.1h-2.1zM420.1 113.5h2.1v2.1h-2.1zM420.0 103.4h2.1v2.1h-2.1zM420.1 110.5h2.1v2.1h-2.1zM420.1 103.8h2.1v2.1h-2.1zM420.2 120.8h2.1v2.1h-2.1zM420.1 118.3h2.1v2.1h-2.1zM420.1 107.2h2.1v2.1h-2.1zM420.0 115.9h2.1v2.1h-2.1zM420.0 118.3h2.1v2.1h-2.1zM420.1 124.3h2.1v2.1h-2.1zM420.1 118.8h2.1v2.1h-2.1zM420.0 114.6h2.1v2.1h-2.1zM420.1 113.2h2.1v2.1h-2.1zM420.0 117.6h2.1v2.1h-2.1zM420.0 115.7h2.1v2.1h-2.1zM420.1 110.8h2.1v2.1h-2.1zM420.0 106.4h2.1v2.1h-2.1zM420.1 120.2h2.1v2.1h-2.1zM420.1 109.3h2.1v2.1h-2.1zM420.0 112.2h2.1v2.1h-2.1zM420.1 118.6h2.1v2.1h-2.1zM420.2 113.3h2.1v2.1h-2.1zM420.2 120.6h2.1v2.1h-2.1zM420.3 111.6h2.1v2.1h-2.1zM420.3 114.4h2.1v2.1h-2.1zM420.3 116.5h2.1v2.1h-2.1zM420.3 110.2h2.1v2.1h-2.1zM420.4 106.4h2.1v2.1h-2.1zM420.3 114.3h2.1v2.1h-2.1zM420.3 117.7h2.1v2.1h-2.1zM420.4 100.8h2.1v2.1h-2.1zM420.2 104.4h2.1v2.1h-2.1zM420.3 109.9h2.1v2.1h-2.1zM420.4 97.5h2.1v2.1h-2.1zM420.4 109.8h2.1v2.1h-2.1zM420.4 118.5h2.1v2.1h-2.1zM420.3 107.0h2.1v2.1h-2.1zM420.4 114.3h2.1v2.1h-2.1zM420.3 108.1h2.1v2.1h-2.1zM420.2 116.2h2.1v2.1h-2.1zM420.4 117.4h2.1v2.1h-2.1zM420.3 121.5h2.1v2.1h-2.1zM420.4 113.9h2.1v2.1h-2.1zM420.4 119.9h2.1v2.1h-2.1zM420.4 115.9h2.1v2.1h-2.1zM420.3 110.6h2.1v2.1h-2.1zM420.4 122.5h2.1v2.1h-2.1zM420.3 109.9h2.1v2.1h-2.1zM420.5 112.8h2.1v2.1h-2.1zM420.6 116.7h2.1v2.1h-2.1zM420.5 115.5h2.1v2.1h-2.1zM420.5 105.6h2.1v2.1h-2.1zM420.6 118.3h2.1v2.1h-2.1zM420.7 118.2h2.1v2.1h-2.1zM420.6 115.1h2.1v2.1h-2.1zM420.5 105.7h2.1v2.1h-2.1zM420.7 104.0h2.1v2.1h-2.1zM420.5 113.6h2.1v2.1h-2.1zM420.5 106.9h2.1v2.1h-2.1zM420.6 104.9h2.1v2.1h-2.1zM420.5 118.8h2.1v2.1h-2.1zM420.6 118.9h2.1v2.1h-2.1zM420.6 117.2h2.1v2.1h-2.1zM420.6 121.3h2.1v2.1h-2.1zM420.5 118.9h2.1v2.1h-2.1zM420.7 106.0h2.1v2.1h-2.1zM420.7 120.3h2.1v2.1h-2.1zM420.5 114.0h2.1v2.1h-2.1zM420.5 116.0h2.1v2.1h-2.1zM420.7 116.8h2.1v2.1h-2.1zM420.9 122.9h2.1v2.1h-2.1zM420.9 110.1h2.1v2.1h-2.1zM420.7 120.1h2.1v2.1h-2.1zM420.7 121.8h2.1v2.1h-2.1zM420.7 106.5h2.1v2.1h-2.1zM420.9 124.1h2.1v2.1h-2.1zM420.8 123.6h2.1v2.1h-2.1zM420.7 115.0h2.1v2.1h-2.1zM420.7 123.8h2.1v2.1h-2.1zM420.8 114.6h2.1v2.1h-2.1zM420.7 120.3h2.1v2.1h-2.1zM420.9 117.0h2.1v2.1h-2.1zM420.7 107.7h2.1v2.1h-2.1zM420.9 114.6h2.1v2.1h-2.1zM420.7 112.1h2.1v2.1h-2.1zM420.8 110.0h2.1v2.1h-2.1zM420.9 105.7h2.1v2.1h-2.1zM420.7 108.2h2.1v2.1h-2.1zM420.7 105.4h2.1v2.1h-2.1zM420.9 120.1h2.1v2.1h-2.1zM420.9 100.6h2.1v2.1h-2.1zM420.8 113.5h2.1v2.1h-2.1zM420.7 109.3h2.1v2.1h-2.1zM420.8 105.3h2.1v2.1h-2.1zM420.8 117.6h2.1v2.1h-2.1zM421.1 104.8h2.1v2.1h-2.1zM421.1 102.7h2.1v2.1h-2.1zM421.0 121.5h2.1v2.1h-2.1zM421.0 134.4h2.1v2.1h-2.1zM421.1 108.1h2.1v2.1h-2.1zM421.1 102.5h2.1v2.1h-2.1zM421.2 121.7h2.1v2.1h-2.1zM421.1 119.5h2.1v2.1h-2.1zM421.1 115.8h2.1v2.1h-2.1zM421.1 122.1h2.1v2.1h-2.1zM421.1 110.6h2.1v2.1h-2.1zM421.2 114.4h2.1v2.1h-2.1zM421.1 117.7h2.1v2.1h-2.1zM421.1 110.8h2.1v2.1h-2.1zM421.1 115.7h2.1v2.1h-2.1zM421.0 111.4h2.1v2.1h-2.1zM421.1 115.6h2.1v2.1h-2.1zM421.0 113.9h2.1v2.1h-2.1zM421.2 100.1h2.1v2.1h-2.1zM421.2 113.3h2.1v2.1h-2.1zM421.1 103.7h2.1v2.1h-2.1zM421.2 107.3h2.1v2.1h-2.1zM421.0 102.4h2.1v2.1h-2.1zM421.0 118.0h2.1v2.1h-2.1zM421.1 110.7h2.1v2.1h-2.1zM421.0 110.4h2.1v2.1h-2.1zM421.0 120.7h2.1v2.1h-2.1zM421.2 117.2h2.1v2.1h-2.1zM421.1 111.4h2.1v2.1h-2.1zM421.2 99.5h2.1v2.1h-2.1zM421.0 117.0h2.1v2.1h-2.1zM421.1 111.1h2.1v2.1h-2.1zM421.4 112.8h2.1v2.1h-2.1zM421.2 123.2h2.1v2.1h-2.1zM421.3 121.2h2.1v2.1h-2.1zM421.3 99.8h2.1v2.1h-2.1zM421.4 107.1h2.1v2.1h-2.1zM421.4 117.4h2.1v2.1h-2.1zM421.2 113.2h2.1v2.1h-2.1zM421.2 113.1h2.1v2.1h-2.1zM421.4 111.7h2.1v2.1h-2.1zM421.2 113.0h2.1v2.1h-2.1zM421.3 106.1h2.1v2.1h-2.1zM421.4 120.1h2.1v2.1h-2.1zM421.3 105.9h2.1v2.1h-2.1zM421.2 111.7h2.1v2.1h-2.1zM421.3 122.4h2.1v2.1h-2.1zM421.3 119.5h2.1v2.1h-2.1zM421.2 112.6h2.1v2.1h-2.1zM421.4 112.4h2.1v2.1h-2.1zM421.6 118.9h2.1v2.1h-2.1zM421.6 121.0h2.1v2.1h-2.1zM421.6 119.2h2.1v2.1h-2.1zM421.6 115.1h2.1v2.1h-2.1zM421.6 104.1h2.1v2.1h-2.1zM421.5 108.8h2.1v2.1h-2.1zM421.6 116.2h2.1v2.1h-2.1zM421.5 111.4h2.1v2.1h-2.1zM421.6 114.9h2.1v2.1h-2.1zM421.6 108.2h2.1v2.1h-2.1zM421.5 107.7h2.1v2.1h-2.1zM421.5 114.6h2.1v2.1h-2.1zM421.5 117.3h2.1v2.1h-2.1zM421.5 112.7h2.1v2.1h-2.1zM421.5 106.4h2.1v2.1h-2.1zM421.6 101.9h2.1v2.1h-2.1zM421.5 125.5h2.1v2.1h-2.1zM421.5 105.4h2.1v2.1h-2.1zM421.7 106.9h2.1v2.1h-2.1zM421.7 107.8h2.1v2.1h-2.1zM421.7 118.2h2.1v2.1h-2.1zM421.6 107.7h2.1v2.1h-2.1zM421.7 115.9h2.1v2.1h-2.1zM421.7 114.3h2.1v2.1h-2.1zM421.6 105.2h2.1v2.1h-2.1zM421.6 113.5h2.1v2.1h-2.1zM421.6 104.6h2.1v2.1h-2.1zM421.6 111.5h2.1v2.1h-2.1zM421.7 117.1h2.1v2.1h-2.1zM421.7 110.9h2.1v2.1h-2.1zM421.6 106.6h2.1v2.1h-2.1zM421.6 109.7h2.1v2.1h-2.1zM421.6 111.3h2.1v2.1h-2.1zM421.5 114.6h2.1v2.1h-2.1zM421.7 97.7h2.1v2.1h-2.1zM421.8 117.7h2.1v2.1h-2.1zM421.8 115.2h2.1v2.1h-2.1zM421.9 109.8h2.1v2.1h-2.1zM421.9 111.9h2.1v2.1h-2.1zM421.8 110.5h2.1v2.1h-2.1zM421.7 123.2h2.1v2.1h-2.1zM421.7 115.1h2.1v2.1h-2.1zM421.9 107.8h2.1v2.1h-2.1zM421.8 106.6h2.1v2.1h-2.1zM421.9 120.0h2.1v2.1h-2.1zM421.7 106.6h2.1v2.1h-2.1zM421.9 114.3h2.1v2.1h-2.1zM421.8 113.2h2.1v2.1h-2.1zM421.8 118.9h2.1v2.1h-2.1zM421.9 106.4h2.1v2.1h-2.1zM421.9 115.0h2.1v2.1h-2.1zM421.9 113.3h2.1v2.1h-2.1zM421.8 117.2h2.1v2.1h-2.1zM422.0 106.9h2.1v2.1h-2.1zM422.1 110.1h2.1v2.1h-2.1zM422.1 103.1h2.1v2.1h-2.1zM422.0 119.3h2.1v2.1h-2.1zM422.0 116.5h2.1v2.1h-2.1zM422.2 115.1h2.1v2.1h-2.1zM422.0 111.9h2.1v2.1h-2.1zM422.1 110.9h2.1v2.1h-2.1zM422.1 109.6h2.1v2.1h-2.1zM422.2 118.8h2.1v2.1h-2.1zM422.1 107.8h2.1v2.1h-2.1zM422.1 117.6h2.1v2.1h-2.1zM422.0 113.8h2.1v2.1h-2.1zM422.2 105.3h2.1v2.1h-2.1zM422.0 102.7h2.1v2.1h-2.1zM422.2 106.8h2.1v2.1h-2.1zM422.1 111.6h2.1v2.1h-2.1zM422.1 103.6h2.1v2.1h-2.1zM422.2 111.1h2.1v2.1h-2.1zM422.4 117.2h2.1v2.1h-2.1zM422.4 111.3h2.1v2.1h-2.1zM422.3 104.6h2.1v2.1h-2.1zM422.3 97.6h2.1v2.1h-2.1zM422.2 123.4h2.1v2.1h-2.1zM422.4 113.1h2.1v2.1h-2.1zM422.2 104.3h2.1v2.1h-2.1zM422.3 109.6h2.1v2.1h-2.1zM422.4 118.0h2.1v2.1h-2.1zM422.3 102.0h2.1v2.1h-2.1zM422.4 126.4h2.1v2.1h-2.1zM422.3 110.0h2.1v2.1h-2.1zM422.4 109.1h2.1v2.1h-2.1zM422.4 119.9h2.1v2.1h-2.1zM422.3 113.0h2.1v2.1h-2.1zM422.3 105.1h2.1v2.1h-2.1zM422.4 117.5h2.1v2.1h-2.1zM422.4 114.5h2.1v2.1h-2.1zM422.3 119.0h2.1v2.1h-2.1zM422.4 105.5h2.1v2.1h-2.1zM422.3 104.3h2.1v2.1h-2.1zM422.3 115.8h2.1v2.1h-2.1zM422.3 108.8h2.1v2.1h-2.1zM422.3 97.6h2.1v2.1h-2.1zM422.3 107.8h2.1v2.1h-2.1zM422.3 115.7h2.1v2.1h-2.1zM422.3 106.9h2.1v2.1h-2.1zM422.4 119.8h2.1v2.1h-2.1zM422.4 108.1h2.1v2.1h-2.1zM422.7 108.6h2.1v2.1h-2.1zM422.6 104.8h2.1v2.1h-2.1zM422.5 112.2h2.1v2.1h-2.1zM422.5 102.5h2.1v2.1h-2.1zM422.5 122.5h2.1v2.1h-2.1zM422.6 111.4h2.1v2.1h-2.1zM422.6 117.4h2.1v2.1h-2.1zM422.5 103.3h2.1v2.1h-2.1zM422.7 113.4h2.1v2.1h-2.1zM422.6 110.3h2.1v2.1h-2.1zM422.6 117.7h2.1v2.1h-2.1zM422.5 117.0h2.1v2.1h-2.1zM422.6 100.4h2.1v2.1h-2.1zM422.6 118.8h2.1v2.1h-2.1zM422.6 101.3h2.1v2.1h-2.1zM422.5 120.1h2.1v2.1h-2.1zM422.6 110.9h2.1v2.1h-2.1zM422.5 103.4h2.1v2.1h-2.1zM422.5 116.0h2.1v2.1h-2.1zM422.5 111.6h2.1v2.1h-2.1zM422.5 104.8h2.1v2.1h-2.1zM422.5 106.4h2.1v2.1h-2.1zM422.6 114.4h2.1v2.1h-2.1zM422.5 102.2h2.1v2.1h-2.1zM422.6 105.5h2.1v2.1h-2.1zM422.5 123.5h2.1v2.1h-2.1zM422.6 106.1h2.1v2.1h-2.1zM422.8 107.1h2.1v2.1h-2.1zM422.9 111.7h2.1v2.1h-2.1zM422.9 114.3h2.1v2.1h-2.1zM422.8 113.3h2.1v2.1h-2.1zM422.7 112.5h2.1v2.1h-2.1zM422.8 127.1h2.1v2.1h-2.1zM422.9 103.7h2.1v2.1h-2.1zM422.7 98.7h2.1v2.1h-2.1zM422.9 114.6h2.1v2.1h-2.1zM422.9 112.1h2.1v2.1h-2.1zM422.9 101.3h2.1v2.1h-2.1zM422.9 122.4h2.1v2.1h-2.1zM422.8 106.3h2.1v2.1h-2.1zM422.9 101.4h2.1v2.1h-2.1zM423.1 101.8h2.1v2.1h-2.1zM423.0 113.2h2.1v2.1h-2.1zM423.1 103.0h2.1v2.1h-2.1zM423.0 102.2h2.1v2.1h-2.1zM423.0 114.1h2.1v2.1h-2.1zM423.2 105.2h2.1v2.1h-2.1zM423.0 108.4h2.1v2.1h-2.1zM423.1 115.0h2.1v2.1h-2.1zM423.1 103.6h2.1v2.1h-2.1zM423.1 114.8h2.1v2.1h-2.1zM423.1 125.9h2.1v2.1h-2.1zM423.0 109.5h2.1v2.1h-2.1zM423.2 117.1h2.1v2.1h-2.1zM423.2 115.9h2.1v2.1h-2.1zM423.1 102.1h2.1v2.1h-2.1zM423.1 101.5h2.1v2.1h-2.1zM423.2 110.7h2.1v2.1h-2.1zM423.2 96.2h2.1v2.1h-2.1zM423.1 111.1h2.1v2.1h-2.1zM423.0 112.5h2.1v2.1h-2.1zM423.1 113.9h2.1v2.1h-2.1zM423.0 113.9h2.1v2.1h-2.1zM423.0 119.8h2.1v2.1h-2.1zM423.1 108.5h2.1v2.1h-2.1zM423.1 119.8h2.1v2.1h-2.1zM423.1 114.3h2.1v2.1h-2.1zM423.1 114.3h2.1v2.1h-2.1zM423.0 109.9h2.1v2.1h-2.1zM423.0 117.3h2.1v2.1h-2.1zM423.2 105.6h2.1v2.1h-2.1zM423.3 110.3h2.1v2.1h-2.1zM423.4 101.3h2.1v2.1h-2.1zM423.3 107.4h2.1v2.1h-2.1zM423.3 101.3h2.1v2.1h-2.1zM423.2 110.0h2.1v2.1h-2.1zM423.4 117.8h2.1v2.1h-2.1zM423.3 117.7h2.1v2.1h-2.1zM423.4 116.6h2.1v2.1h-2.1zM423.4 110.7h2.1v2.1h-2.1zM423.4 117.2h2.1v2.1h-2.1zM423.4 108.7h2.1v2.1h-2.1zM423.3 97.3h2.1v2.1h-2.1zM423.3 111.5h2.1v2.1h-2.1zM423.2 110.9h2.1v2.1h-2.1zM423.3 98.8h2.1v2.1h-2.1zM423.2 107.1h2.1v2.1h-2.1zM423.3 94.0h2.1v2.1h-2.1zM423.3 107.3h2.1v2.1h-2.1zM423.3 118.8h2.1v2.1h-2.1zM423.3 106.2h2.1v2.1h-2.1zM423.3 119.5h2.1v2.1h-2.1zM423.4 112.0h2.1v2.1h-2.1zM423.3 105.6h2.1v2.1h-2.1zM423.3 98.5h2.1v2.1h-2.1zM423.3 115.7h2.1v2.1h-2.1zM423.2 115.2h2.1v2.1h-2.1zM423.6 115.4h2.1v2.1h-2.1zM423.7 109.5h2.1v2.1h-2.1zM423.6 115.9h2.1v2.1h-2.1zM423.7 111.6h2.1v2.1h-2.1zM423.5 111.5h2.1v2.1h-2.1zM423.6 112.0h2.1v2.1h-2.1zM423.5 122.7h2.1v2.1h-2.1zM423.6 102.1h2.1v2.1h-2.1zM423.7 109.6h2.1v2.1h-2.1zM423.7 102.6h2.1v2.1h-2.1zM423.5 116.2h2.1v2.1h-2.1zM423.7 117.8h2.1v2.1h-2.1zM423.5 119.6h2.1v2.1h-2.1zM423.5 107.9h2.1v2.1h-2.1zM423.5 110.7h2.1v2.1h-2.1zM423.7 115.4h2.1v2.1h-2.1zM423.5 111.6h2.1v2.1h-2.1zM423.7 112.2h2.1v2.1h-2.1zM423.6 111.6h2.1v2.1h-2.1zM423.6 112.1h2.1v2.1h-2.1zM423.5 109.6h2.1v2.1h-2.1zM423.6 113.3h2.1v2.1h-2.1zM423.8 112.3h2.1v2.1h-2.1zM423.7 100.4h2.1v2.1h-2.1zM423.7 108.0h2.1v2.1h-2.1zM423.9 112.3h2.1v2.1h-2.1zM423.9 115.5h2.1v2.1h-2.1zM423.8 111.7h2.1v2.1h-2.1zM423.8 118.3h2.1v2.1h-2.1zM423.9 105.8h2.1v2.1h-2.1zM423.8 104.7h2.1v2.1h-2.1zM423.7 117.6h2.1v2.1h-2.1zM423.9 103.9h2.1v2.1h-2.1zM423.9 108.9h2.1v2.1h-2.1zM423.9 98.1h2.1v2.1h-2.1zM423.8 117.7h2.1v2.1h-2.1zM423.8 115.0h2.1v2.1h-2.1zM423.8 104.9h2.1v2.1h-2.1zM423.9 98.0h2.1v2.1h-2.1zM423.8 111.8h2.1v2.1h-2.1zM423.9 111.8h2.1v2.1h-2.1zM424.1 106.7h2.1v2.1h-2.1zM424.0 115.4h2.1v2.1h-2.1zM424.0 112.6h2.1v2.1h-2.1zM424.1 108.3h2.1v2.1h-2.1zM424.2 104.5h2.1v2.1h-2.1zM424.1 131.8h2.1v2.1h-2.1zM424.1 108.4h2.1v2.1h-2.1zM424.1 119.4h2.1v2.1h-2.1zM424.0 101.9h2.1v2.1h-2.1zM424.0 104.9h2.1v2.1h-2.1zM424.1 118.2h2.1v2.1h-2.1zM424.2 102.2h2.1v2.1h-2.1zM424.0 102.6h2.1v2.1h-2.1zM424.1 109.4h2.1v2.1h-2.1zM424.1 104.8h2.1v2.1h-2.1zM424.0 107.9h2.1v2.1h-2.1zM424.1 110.8h2.1v2.1h-2.1zM424.0 115.9h2.1v2.1h-2.1zM424.0 111.1h2.1v2.1h-2.1zM424.0 111.9h2.1v2.1h-2.1zM424.1 118.9h2.1v2.1h-2.1zM424.0 119.6h2.1v2.1h-2.1zM424.0 107.5h2.1v2.1h-2.1zM424.2 97.0h2.1v2.1h-2.1zM424.1 102.9h2.1v2.1h-2.1zM424.2 117.1h2.1v2.1h-2.1zM424.2 106.4h2.1v2.1h-2.1zM424.0 105.1h2.1v2.1h-2.1zM424.0 106.8h2.1v2.1h-2.1zM424.2 120.6h2.1v2.1h-2.1zM424.0 110.4h2.1v2.1h-2.1zM424.2 107.1h2.1v2.1h-2.1zM424.2 104.9h2.1v2.1h-2.1zM424.1 102.2h2.1v2.1h-2.1zM424.0 129.2h2.1v2.1h-2.1zM424.1 109.5h2.1v2.1h-2.1zM424.0 111.0h2.1v2.1h-2.1zM424.0 107.7h2.1v2.1h-2.1zM424.0 117.3h2.1v2.1h-2.1zM424.4 120.0h2.1v2.1h-2.1zM424.2 117.8h2.1v2.1h-2.1zM424.4 117.2h2.1v2.1h-2.1zM424.2 104.0h2.1v2.1h-2.1zM424.4 118.9h2.1v2.1h-2.1zM424.3 117.8h2.1v2.1h-2.1zM424.3 118.3h2.1v2.1h-2.1zM424.4 108.0h2.1v2.1h-2.1zM424.4 107.9h2.1v2.1h-2.1zM424.2 118.7h2.1v2.1h-2.1zM424.4 111.9h2.1v2.1h-2.1zM424.4 107.1h2.1v2.1h-2.1zM424.4 103.8h2.1v2.1h-2.1zM424.3 111.5h2.1v2.1h-2.1zM424.2 100.4h2.1v2.1h-2.1zM424.4 113.6h2.1v2.1h-2.1zM424.3 110.8h2.1v2.1h-2.1zM424.4 98.8h2.1v2.1h-2.1zM424.3 112.8h2.1v2.1h-2.1zM424.4 117.9h2.1v2.1h-2.1zM424.3 111.4h2.1v2.1h-2.1zM424.2 100.6h2.1v2.1h-2.1zM424.4 105.4h2.1v2.1h-2.1zM424.4 115.3h2.1v2.1h-2.1zM424.2 100.8h2.1v2.1h-2.1zM424.3 107.0h2.1v2.1h-2.1zM424.4 117.5h2.1v2.1h-2.1zM424.4 107.6h2.1v2.1h-2.1zM424.3 105.7h2.1v2.1h-2.1zM424.4 115.1h2.1v2.1h-2.1zM424.4 120.7h2.1v2.1h-2.1zM424.5 100.4h2.1v2.1h-2.1zM424.5 104.9h2.1v2.1h-2.1zM424.6 109.9h2.1v2.1h-2.1zM424.6 100.8h2.1v2.1h-2.1zM424.6 104.8h2.1v2.1h-2.1zM424.6 123.3h2.1v2.1h-2.1zM424.5 108.1h2.1v2.1h-2.1zM424.6 98.9h2.1v2.1h-2.1zM424.5 100.7h2.1v2.1h-2.1zM424.5 108.8h2.1v2.1h-2.1zM424.6 115.2h2.1v2.1h-2.1zM424.6 108.7h2.1v2.1h-2.1zM424.7 115.2h2.1v2.1h-2.1zM424.6 111.4h2.1v2.1h-2.1zM424.7 101.5h2.1v2.1h-2.1zM424.7 116.4h2.1v2.1h-2.1zM424.7 106.0h2.1v2.1h-2.1zM424.7 122.3h2.1v2.1h-2.1zM424.5 105.3h2.1v2.1h-2.1zM424.5 108.4h2.1v2.1h-2.1zM424.5 105.6h2.1v2.1h-2.1zM424.7 107.4h2.1v2.1h-2.1zM424.6 112.5h2.1v2.1h-2.1zM424.7 107.9h2.1v2.1h-2.1zM424.6 117.5h2.1v2.1h-2.1zM424.5 112.4h2.1v2.1h-2.1zM424.8 116.9h2.1v2.1h-2.1zM424.7 108.6h2.1v2.1h-2.1zM424.9 99.7h2.1v2.1h-2.1zM424.9 107.5h2.1v2.1h-2.1zM424.9 123.2h2.1v2.1h-2.1zM424.9 99.9h2.1v2.1h-2.1zM424.7 105.8h2.1v2.1h-2.1zM424.9 105.9h2.1v2.1h-2.1zM424.7 114.9h2.1v2.1h-2.1zM424.9 100.3h2.1v2.1h-2.1zM424.7 111.2h2.1v2.1h-2.1zM424.7 103.6h2.1v2.1h-2.1zM424.7 106.9h2.1v2.1h-2.1zM424.8 100.7h2.1v2.1h-2.1zM424.7 113.0h2.1v2.1h-2.1zM424.8 105.8h2.1v2.1h-2.1zM424.8 105.1h2.1v2.1h-2.1zM424.9 116.8h2.1v2.1h-2.1zM424.9 111.6h2.1v2.1h-2.1zM424.8 125.7h2.1v2.1h-2.1zM424.9 112.1h2.1v2.1h-2.1zM424.7 110.0h2.1v2.1h-2.1zM424.8 110.2h2.1v2.1h-2.1zM424.8 128.5h2.1v2.1h-2.1zM424.9 117.9h2.1v2.1h-2.1zM424.7 107.4h2.1v2.1h-2.1zM424.9 111.4h2.1v2.1h-2.1zM424.8 105.7h2.1v2.1h-2.1zM424.9 113.8h2.1v2.1h-2.1zM424.9 105.7h2.1v2.1h-2.1zM425.2 105.6h2.1v2.1h-2.1zM425.1 112.2h2.1v2.1h-2.1zM425.1 105.4h2.1v2.1h-2.1zM425.1 114.2h2.1v2.1h-2.1zM425.1 106.3h2.1v2.1h-2.1zM425.0 118.0h2.1v2.1h-2.1zM425.0 112.1h2.1v2.1h-2.1zM425.1 97.0h2.1v2.1h-2.1zM425.2 108.4h2.1v2.1h-2.1zM425.0 100.8h2.1v2.1h-2.1zM425.1 107.7h2.1v2.1h-2.1zM425.0 108.8h2.1v2.1h-2.1zM425.1 124.5h2.1v2.1h-2.1zM425.1 107.0h2.1v2.1h-2.1zM425.0 97.5h2.1v2.1h-2.1zM425.1 109.4h2.1v2.1h-2.1zM425.2 100.3h2.1v2.1h-2.1zM425.2 121.5h2.1v2.1h-2.1zM425.2 113.6h2.1v2.1h-2.1zM425.0 119.8h2.1v2.1h-2.1zM425.0 105.9h2.1v2.1h-2.1zM425.0 101.3h2.1v2.1h-2.1zM425.2 110.6h2.1v2.1h-2.1zM425.1 98.9h2.1v2.1h-2.1zM425.1 101.8h2.1v2.1h-2.1zM425.0 103.4h2.1v2.1h-2.1zM425.0 107.7h2.1v2.1h-2.1zM425.1 97.8h2.1v2.1h-2.1zM425.2 93.9h2.1v2.1h-2.1zM425.1 118.7h2.1v2.1h-2.1zM425.0 104.8h2.1v2.1h-2.1zM425.0 107.5h2.1v2.1h-2.1zM425.0 112.9h2.1v2.1h-2.1zM425.1 111.7h2.1v2.1h-2.1zM425.0 104.1h2.1v2.1h-2.1zM425.3 93.4h2.1v2.1h-2.1zM425.4 95.9h2.1v2.1h-2.1zM425.4 123.3h2.1v2.1h-2.1zM425.3 113.9h2.1v2.1h-2.1zM425.3 112.5h2.1v2.1h-2.1zM425.3 110.8h2.1v2.1h-2.1zM425.2 110.7h2.1v2.1h-2.1zM425.2 102.0h2.1v2.1h-2.1zM425.4 106.4h2.1v2.1h-2.1zM425.3 101.4h2.1v2.1h-2.1zM425.4 116.8h2.1v2.1h-2.1zM425.4 113.1h2.1v2.1h-2.1zM425.4 110.3h2.1v2.1h-2.1zM425.3 111.5h2.1v2.1h-2.1zM425.4 107.6h2.1v2.1h-2.1zM425.4 100.3h2.1v2.1h-2.1zM425.3 120.8h2.1v2.1h-2.1zM425.4 113.2h2.1v2.1h-2.1zM425.4 107.3h2.1v2.1h-2.1zM425.4 112.8h2.1v2.1h-2.1zM425.4 117.7h2.1v2.1h-2.1zM425.4 117.0h2.1v2.1h-2.1zM425.3 113.4h2.1v2.1h-2.1zM425.4 114.5h2.1v2.1h-2.1zM425.2 107.2h2.1v2.1h-2.1zM425.6 95.1h2.1v2.1h-2.1zM425.5 102.3h2.1v2.1h-2.1zM425.5 98.3h2.1v2.1h-2.1zM425.6 112.9h2.1v2.1h-2.1zM425.7 106.7h2.1v2.1h-2.1zM425.6 119.6h2.1v2.1h-2.1zM425.6 109.5h2.1v2.1h-2.1zM425.7 113.8h2.1v2.1h-2.1zM425.5 112.0h2.1v2.1h-2.1zM425.7 109.5h2.1v2.1h-2.1zM425.7 100.3h2.1v2.1h-2.1zM425.7 120.1h2.1v2.1h-2.1zM425.6 107.5h2.1v2.1h-2.1zM425.7 94.7h2.1v2.1h-2.1zM425.6 104.0h2.1v2.1h-2.1zM425.5 100.2h2.1v2.1h-2.1zM425.6 116.7h2.1v2.1h-2.1zM425.5 115.9h2.1v2.1h-2.1zM425.5 119.4h2.1v2.1h-2.1zM425.6 124.0h2.1v2.1h-2.1zM425.6 103.4h2.1v2.1h-2.1zM425.5 94.6h2.1v2.1h-2.1zM425.6 101.2h2.1v2.1h-2.1zM425.5 111.2h2.1v2.1h-2.1zM425.5 88.6h2.1v2.1h-2.1zM425.6 103.8h2.1v2.1h-2.1zM425.6 114.2h2.1v2.1h-2.1zM425.6 102.0h2.1v2.1h-2.1zM425.7 107.2h2.1v2.1h-2.1zM425.6 101.5h2.1v2.1h-2.1zM425.8 108.1h2.1v2.1h-2.1zM425.8 110.1h2.1v2.1h-2.1zM425.8 97.3h2.1v2.1h-2.1zM425.9 104.7h2.1v2.1h-2.1zM425.7 102.7h2.1v2.1h-2.1zM425.7 110.0h2.1v2.1h-2.1zM425.7 106.5h2.1v2.1h-2.1zM425.9 101.8h2.1v2.1h-2.1zM425.9 100.2h2.1v2.1h-2.1zM425.8 109.8h2.1v2.1h-2.1zM425.7 103.5h2.1v2.1h-2.1zM425.8 116.5h2.1v2.1h-2.1zM425.7 109.4h2.1v2.1h-2.1zM425.7 106.3h2.1v2.1h-2.1zM425.8 114.8h2.1v2.1h-2.1zM425.9 99.2h2.1v2.1h-2.1zM425.9 114.7h2.1v2.1h-2.1zM425.9 102.6h2.1v2.1h-2.1zM425.8 113.4h2.1v2.1h-2.1zM425.7 103.1h2.1v2.1h-2.1zM425.8 101.1h2.1v2.1h-2.1zM425.7 94.6h2.1v2.1h-2.1zM425.8 108.3h2.1v2.1h-2.1zM425.9 111.5h2.1v2.1h-2.1zM425.9 97.6h2.1v2.1h-2.1zM425.9 120.9h2.1v2.1h-2.1zM425.8 107.8h2.1v2.1h-2.1zM425.7 99.7h2.1v2.1h-2.1zM425.9 122.2h2.1v2.1h-2.1zM425.7 105.0h2.1v2.1h-2.1zM425.8 118.6h2.1v2.1h-2.1zM425.7 87.3h2.1v2.1h-2.1zM425.9 123.6h2.1v2.1h-2.1zM426.1 99.1h2.1v2.1h-2.1zM426.2 108.2h2.1v2.1h-2.1zM426.1 107.3h2.1v2.1h-2.1zM426.0 102.7h2.1v2.1h-2.1zM426.0 103.5h2.1v2.1h-2.1zM426.0 96.1h2.1v2.1h-2.1zM426.0 96.6h2.1v2.1h-2.1zM426.0 102.9h2.1v2.1h-2.1zM426.0 102.5h2.1v2.1h-2.1zM426.2 106.3h2.1v2.1h-2.1zM426.0 99.0h2.1v2.1h-2.1zM426.0 119.1h2.1v2.1h-2.1zM426.1 94.5h2.1v2.1h-2.1zM426.1 113.8h2.1v2.1h-2.1zM426.0 111.6h2.1v2.1h-2.1zM426.0 119.3h2.1v2.1h-2.1zM426.0 117.8h2.1v2.1h-2.1zM426.1 97.8h2.1v2.1h-2.1zM426.0 110.3h2.1v2.1h-2.1zM426.1 113.2h2.1v2.1h-2.1zM426.1 114.6h2.1v2.1h-2.1zM426.2 111.3h2.1v2.1h-2.1zM426.1 103.4h2.1v2.1h-2.1zM426.4 109.3h2.1v2.1h-2.1zM426.4 107.2h2.1v2.1h-2.1zM426.2 100.2h2.1v2.1h-2.1zM426.4 112.1h2.1v2.1h-2.1zM426.3 110.2h2.1v2.1h-2.1zM426.4 107.7h2.1v2.1h-2.1zM426.3 110.5h2.1v2.1h-2.1zM426.2 108.6h2.1v2.1h-2.1zM426.3 100.8h2.1v2.1h-2.1zM426.4 98.8h2.1v2.1h-2.1zM426.3 112.2h2.1v2.1h-2.1zM426.4 108.8h2.1v2.1h-2.1zM426.2 118.8h2.1v2.1h-2.1zM426.2 122.4h2.1v2.1h-2.1zM426.2 113.7h2.1v2.1h-2.1zM426.4 112.2h2.1v2.1h-2.1zM426.3 111.8h2.1v2.1h-2.1zM426.4 108.2h2.1v2.1h-2.1zM426.4 102.8h2.1v2.1h-2.1zM426.2 88.4h2.1v2.1h-2.1zM426.2 113.3h2.1v2.1h-2.1zM426.4 111.8h2.1v2.1h-2.1zM426.4 107.7h2.1v2.1h-2.1zM426.4 108.4h2.1v2.1h-2.1zM426.3 114.7h2.1v2.1h-2.1zM426.5 100.5h2.1v2.1h-2.1zM426.6 107.9h2.1v2.1h-2.1zM426.5 98.6h2.1v2.1h-2.1zM426.6 112.7h2.1v2.1h-2.1zM426.5 97.2h2.1v2.1h-2.1zM426.5 96.9h2.1v2.1h-2.1zM426.6 100.7h2.1v2.1h-2.1zM426.5 94.8h2.1v2.1h-2.1zM426.5 107.9h2.1v2.1h-2.1zM426.6 101.2h2.1v2.1h-2.1zM426.5 103.7h2.1v2.1h-2.1zM426.6 111.6h2.1v2.1h-2.1zM426.6 90.7h2.1v2.1h-2.1zM426.5 105.3h2.1v2.1h-2.1zM426.5 109.7h2.1v2.1h-2.1zM426.6 114.6h2.1v2.1h-2.1zM426.5 108.1h2.1v2.1h-2.1zM426.5 102.1h2.1v2.1h-2.1zM426.5 114.0h2.1v2.1h-2.1zM426.5 113.9h2.1v2.1h-2.1zM426.7 123.3h2.1v2.1h-2.1zM426.5 123.0h2.1v2.1h-2.1zM426.6 105.5h2.1v2.1h-2.1zM426.6 117.2h2.1v2.1h-2.1zM426.7 108.5h2.1v2.1h-2.1zM426.6 99.4h2.1v2.1h-2.1zM426.6 112.3h2.1v2.1h-2.1zM426.5 116.7h2.1v2.1h-2.1zM426.7 89.5h2.1v2.1h-2.1zM426.7 116.8h2.1v2.1h-2.1zM426.7 100.8h2.1v2.1h-2.1zM426.9 110.4h2.1v2.1h-2.1zM426.8 90.0h2.1v2.1h-2.1zM426.8 104.0h2.1v2.1h-2.1zM426.9 114.0h2.1v2.1h-2.1zM426.9 108.2h2.1v2.1h-2.1zM426.9 115.1h2.1v2.1h-2.1zM426.8 107.2h2.1v2.1h-2.1zM426.8 110.6h2.1v2.1h-2.1zM426.8 106.6h2.1v2.1h-2.1zM426.8 103.1h2.1v2.1h-2.1zM426.9 109.0h2.1v2.1h-2.1zM426.8 113.5h2.1v2.1h-2.1zM426.8 91.7h2.1v2.1h-2.1zM426.9 100.1h2.1v2.1h-2.1zM426.9 90.5h2.1v2.1h-2.1zM426.9 99.2h2.1v2.1h-2.1zM426.9 96.4h2.1v2.1h-2.1zM426.9 102.4h2.1v2.1h-2.1zM426.9 103.8h2.1v2.1h-2.1zM426.9 113.0h2.1v2.1h-2.1zM426.7 115.2h2.1v2.1h-2.1zM426.8 100.0h2.1v2.1h-2.1zM426.7 102.5h2.1v2.1h-2.1zM426.8 110.6h2.1v2.1h-2.1zM426.9 101.1h2.1v2.1h-2.1zM426.9 102.9h2.1v2.1h-2.1zM427.0 104.4h2.1v2.1h-2.1zM427.0 110.9h2.1v2.1h-2.1zM427.2 117.2h2.1v2.1h-2.1zM427.2 112.8h2.1v2.1h-2.1zM427.0 94.1h2.1v2.1h-2.1zM427.1 94.5h2.1v2.1h-2.1zM427.1 99.5h2.1v2.1h-2.1zM427.0 112.1h2.1v2.1h-2.1zM427.0 111.4h2.1v2.1h-2.1zM427.2 113.8h2.1v2.1h-2.1zM427.2 110.9h2.1v2.1h-2.1zM427.2 101.5h2.1v2.1h-2.1zM427.0 103.1h2.1v2.1h-2.1zM427.2 99.1h2.1v2.1h-2.1zM427.2 111.9h2.1v2.1h-2.1zM427.1 96.4h2.1v2.1h-2.1zM427.0 106.4h2.1v2.1h-2.1zM427.0 107.7h2.1v2.1h-2.1zM427.1 115.0h2.1v2.1h-2.1zM427.2 100.1h2.1v2.1h-2.1zM427.1 108.8h2.1v2.1h-2.1zM427.1 98.5h2.1v2.1h-2.1zM427.0 113.6h2.1v2.1h-2.1zM427.0 103.2h2.1v2.1h-2.1zM427.0 103.7h2.1v2.1h-2.1zM427.1 98.8h2.1v2.1h-2.1zM427.1 101.4h2.1v2.1h-2.1zM427.0 101.2h2.1v2.1h-2.1zM427.0 101.5h2.1v2.1h-2.1zM427.1 114.4h2.1v2.1h-2.1zM427.0 98.6h2.1v2.1h-2.1zM427.1 107.6h2.1v2.1h-2.1zM427.1 112.0h2.1v2.1h-2.1zM427.2 97.3h2.1v2.1h-2.1zM427.4 106.2h2.1v2.1h-2.1zM427.2 102.1h2.1v2.1h-2.1zM427.2 101.9h2.1v2.1h-2.1zM427.3 114.5h2.1v2.1h-2.1zM427.3 123.4h2.1v2.1h-2.1zM427.4 113.3h2.1v2.1h-2.1zM427.3 106.9h2.1v2.1h-2.1zM427.2 101.1h2.1v2.1h-2.1zM427.4 99.8h2.1v2.1h-2.1zM427.4 114.6h2.1v2.1h-2.1zM427.3 112.3h2.1v2.1h-2.1zM427.4 115.4h2.1v2.1h-2.1zM427.4 113.0h2.1v2.1h-2.1zM427.3 115.5h2.1v2.1h-2.1zM427.3 101.3h2.1v2.1h-2.1zM427.4 99.6h2.1v2.1h-2.1zM427.3 98.1h2.1v2.1h-2.1zM427.2 105.6h2.1v2.1h-2.1zM427.4 104.1h2.1v2.1h-2.1zM427.3 106.4h2.1v2.1h-2.1zM427.2 96.8h2.1v2.1h-2.1zM427.3 106.9h2.1v2.1h-2.1zM427.3 111.6h2.1v2.1h-2.1zM427.4 106.1h2.1v2.1h-2.1zM427.4 85.6h2.1v2.1h-2.1zM427.6 104.7h2.1v2.1h-2.1zM427.5 95.0h2.1v2.1h-2.1zM427.5 103.8h2.1v2.1h-2.1zM427.5 104.1h2.1v2.1h-2.1zM427.6 103.7h2.1v2.1h-2.1zM427.6 106.4h2.1v2.1h-2.1zM427.5 96.8h2.1v2.1h-2.1zM427.6 103.1h2.1v2.1h-2.1zM427.6 108.5h2.1v2.1h-2.1zM427.5 109.9h2.1v2.1h-2.1zM427.6 105.8h2.1v2.1h-2.1zM427.6 99.2h2.1v2.1h-2.1zM427.5 90.8h2.1v2.1h-2.1zM427.7 115.9h2.1v2.1h-2.1zM427.7 96.8h2.1v2.1h-2.1zM427.7 101.7h2.1v2.1h-2.1zM427.5 105.4h2.1v2.1h-2.1zM427.5 108.5h2.1v2.1h-2.1zM427.6 105.0h2.1v2.1h-2.1zM427.7 99.1h2.1v2.1h-2.1zM427.5 105.1h2.1v2.1h-2.1zM427.5 120.5h2.1v2.1h-2.1zM427.6 123.6h2.1v2.1h-2.1zM427.5 103.7h2.1v2.1h-2.1zM427.5 110.1h2.1v2.1h-2.1zM427.7 92.2h2.1v2.1h-2.1zM427.6 106.8h2.1v2.1h-2.1zM427.6 110.4h2.1v2.1h-2.1zM427.5 103.2h2.1v2.1h-2.1zM427.5 118.7h2.1v2.1h-2.1zM427.5 111.8h2.1v2.1h-2.1zM427.5 109.9h2.1v2.1h-2.1zM427.7 104.1h2.1v2.1h-2.1zM427.8 112.8h2.1v2.1h-2.1zM427.8 112.7h2.1v2.1h-2.1zM427.8 93.1h2.1v2.1h-2.1zM427.9 98.0h2.1v2.1h-2.1zM427.8 104.4h2.1v2.1h-2.1zM427.9 99.1h2.1v2.1h-2.1zM427.7 100.2h2.1v2.1h-2.1zM427.8 103.3h2.1v2.1h-2.1zM427.9 103.8h2.1v2.1h-2.1zM427.9 113.2h2.1v2.1h-2.1zM427.9 92.4h2.1v2.1h-2.1zM427.9 112.9h2.1v2.1h-2.1zM427.9 103.3h2.1v2.1h-2.1zM427.9 109.3h2.1v2.1h-2.1zM427.9 102.5h2.1v2.1h-2.1zM427.9 122.5h2.1v2.1h-2.1zM427.8 91.9h2.1v2.1h-2.1zM427.8 113.9h2.1v2.1h-2.1zM427.7 101.9h2.1v2.1h-2.1zM427.7 103.5h2.1v2.1h-2.1zM427.8 115.7h2.1v2.1h-2.1zM427.8 103.7h2.1v2.1h-2.1zM427.9 111.8h2.1v2.1h-2.1zM427.8 115.9h2.1v2.1h-2.1zM427.7 100.9h2.1v2.1h-2.1zM427.8 120.2h2.1v2.1h-2.1zM427.8 114.6h2.1v2.1h-2.1zM428.2 108.8h2.1v2.1h-2.1zM428.1 117.6h2.1v2.1h-2.1zM428.1 99.0h2.1v2.1h-2.1zM428.2 104.7h2.1v2.1h-2.1zM428.1 99.8h2.1v2.1h-2.1zM428.1 95.9h2.1v2.1h-2.1zM428.2 107.3h2.1v2.1h-2.1zM428.1 113.3h2.1v2.1h-2.1zM428.1 97.0h2.1v2.1h-2.1zM428.2 112.2h2.1v2.1h-2.1zM428.0 110.0h2.1v2.1h-2.1zM428.2 108.3h2.1v2.1h-2.1zM428.0 115.1h2.1v2.1h-2.1zM428.1 100.0h2.1v2.1h-2.1zM428.1 116.9h2.1v2.1h-2.1zM428.2 102.2h2.1v2.1h-2.1zM428.0 109.0h2.1v2.1h-2.1zM428.2 93.3h2.1v2.1h-2.1zM428.1 112.1h2.1v2.1h-2.1zM428.2 105.0h2.1v2.1h-2.1zM428.0 100.8h2.1v2.1h-2.1zM428.1 97.3h2.1v2.1h-2.1zM428.1 106.4h2.1v2.1h-2.1zM428.2 114.7h2.1v2.1h-2.1zM428.2 108.8h2.1v2.1h-2.1zM428.0 102.5h2.1v2.1h-2.1zM428.2 99.1h2.1v2.1h-2.1zM428.2 111.1h2.1v2.1h-2.1zM428.4 100.9h2.1v2.1h-2.1zM428.3 108.0h2.1v2.1h-2.1zM428.3 106.6h2.1v2.1h-2.1zM428.2 90.8h2.1v2.1h-2.1zM428.3 92.2h2.1v2.1h-2.1zM428.2 81.1h2.1v2.1h-2.1zM428.4 106.5h2.1v2.1h-2.1zM428.2 106.5h2.1v2.1h-2.1zM428.4 100.4h2.1v2.1h-2.1zM428.2 100.7h2.1v2.1h-2.1zM428.3 102.1h2.1v2.1h-2.1zM428.4 99.7h2.1v2.1h-2.1zM428.4 104.1h2.1v2.1h-2.1zM428.2 104.3h2.1v2.1h-2.1zM428.3 97.9h2.1v2.1h-2.1zM428.2 115.1h2.1v2.1h-2.1zM428.3 112.0h2.1v2.1h-2.1zM428.3 101.5h2.1v2.1h-2.1zM428.3 120.6h2.1v2.1h-2.1zM428.4 122.7h2.1v2.1h-2.1zM428.2 113.8h2.1v2.1h-2.1zM428.4 113.3h2.1v2.1h-2.1zM428.4 100.0h2.1v2.1h-2.1zM428.3 102.2h2.1v2.1h-2.1zM428.4 92.7h2.1v2.1h-2.1zM428.3 101.4h2.1v2.1h-2.1zM428.3 111.8h2.1v2.1h-2.1zM428.3 101.4h2.1v2.1h-2.1zM428.2 92.2h2.1v2.1h-2.1zM428.4 116.4h2.1v2.1h-2.1zM428.3 119.2h2.1v2.1h-2.1zM428.3 115.8h2.1v2.1h-2.1zM428.2 93.3h2.1v2.1h-2.1zM428.6 107.3h2.1v2.1h-2.1zM428.6 102.3h2.1v2.1h-2.1zM428.7 111.2h2.1v2.1h-2.1zM428.6 101.5h2.1v2.1h-2.1zM428.5 118.1h2.1v2.1h-2.1zM428.5 96.7h2.1v2.1h-2.1zM428.5 109.7h2.1v2.1h-2.1zM428.5 100.9h2.1v2.1h-2.1zM428.5 115.0h2.1v2.1h-2.1zM428.5 100.1h2.1v2.1h-2.1zM428.5 110.2h2.1v2.1h-2.1zM428.6 80.5h2.1v2.1h-2.1zM428.5 98.9h2.1v2.1h-2.1zM428.7 116.7h2.1v2.1h-2.1zM428.5 105.9h2.1v2.1h-2.1zM428.5 105.1h2.1v2.1h-2.1zM428.6 111.0h2.1v2.1h-2.1zM428.7 122.4h2.1v2.1h-2.1zM428.6 96.0h2.1v2.1h-2.1zM428.7 103.7h2.1v2.1h-2.1zM428.6 100.9h2.1v2.1h-2.1zM428.5 109.7h2.1v2.1h-2.1zM428.5 99.2h2.1v2.1h-2.1zM428.7 92.5h2.1v2.1h-2.1zM428.6 92.9h2.1v2.1h-2.1zM428.7 109.3h2.1v2.1h-2.1zM428.7 105.9h2.1v2.1h-2.1zM428.8 118.0h2.1v2.1h-2.1zM428.7 105.0h2.1v2.1h-2.1zM428.8 103.3h2.1v2.1h-2.1zM428.9 99.3h2.1v2.1h-2.1zM428.8 104.9h2.1v2.1h-2.1zM428.7 101.7h2.1v2.1h-2.1zM428.9 113.4h2.1v2.1h-2.1zM428.8 98.1h2.1v2.1h-2.1zM428.7 101.0h2.1v2.1h-2.1zM428.9 100.1h2.1v2.1h-2.1zM428.9 108.6h2.1v2.1h-2.1zM428.7 106.9h2.1v2.1h-2.1zM428.8 111.7h2.1v2.1h-2.1zM428.9 108.3h2.1v2.1h-2.1zM428.9 108.5h2.1v2.1h-2.1zM428.8 104.7h2.1v2.1h-2.1zM428.9 111.0h2.1v2.1h-2.1zM428.8 107.9h2.1v2.1h-2.1zM428.7 106.9h2.1v2.1h-2.1zM428.7 92.2h2.1v2.1h-2.1zM428.9 100.6h2.1v2.1h-2.1zM428.8 99.1h2.1v2.1h-2.1zM428.8 90.5h2.1v2.1h-2.1zM428.8 114.2h2.1v2.1h-2.1zM428.8 115.2h2.1v2.1h-2.1zM428.8 112.5h2.1v2.1h-2.1zM428.7 108.7h2.1v2.1h-2.1zM428.7 115.6h2.1v2.1h-2.1zM428.7 91.7h2.1v2.1h-2.1zM428.9 113.8h2.1v2.1h-2.1zM428.8 89.0h2.1v2.1h-2.1zM428.8 105.4h2.1v2.1h-2.1zM429.1 103.4h2.1v2.1h-2.1zM429.1 103.8h2.1v2.1h-2.1zM429.0 108.4h2.1v2.1h-2.1zM429.0 112.5h2.1v2.1h-2.1zM429.2 109.5h2.1v2.1h-2.1zM429.0 98.0h2.1v2.1h-2.1zM429.0 109.3h2.1v2.1h-2.1zM429.2 97.9h2.1v2.1h-2.1zM429.1 109.6h2.1v2.1h-2.1zM429.0 102.6h2.1v2.1h-2.1zM429.1 102.4h2.1v2.1h-2.1zM429.1 104.9h2.1v2.1h-2.1zM429.0 91.9h2.1v2.1h-2.1zM429.2 101.3h2.1v2.1h-2.1zM429.0 94.9h2.1v2.1h-2.1zM429.2 110.8h2.1v2.1h-2.1zM429.1 113.5h2.1v2.1h-2.1zM429.1 92.8h2.1v2.1h-2.1zM429.1 86.8h2.1v2.1h-2.1zM429.1 105.7h2.1v2.1h-2.1zM429.2 99.4h2.1v2.1h-2.1zM429.0 96.8h2.1v2.1h-2.1zM429.2 121.1h2.1v2.1h-2.1zM429.1 100.6h2.1v2.1h-2.1zM429.2 95.9h2.1v2.1h-2.1zM429.0 101.8h2.1v2.1h-2.1zM429.0 106.1h2.1v2.1h-2.1zM429.0 115.8h2.1v2.1h-2.1zM429.2 106.1h2.1v2.1h-2.1zM429.1 94.4h2.1v2.1h-2.1zM429.1 100.0h2.1v2.1h-2.1zM429.1 117.7h2.1v2.1h-2.1zM429.0 90.7h2.1v2.1h-2.1zM429.1 103.5h2.1v2.1h-2.1zM429.4 98.5h2.1v2.1h-2.1zM429.4 98.2h2.1v2.1h-2.1zM429.4 102.6h2.1v2.1h-2.1zM429.4 104.3h2.1v2.1h-2.1zM429.3 108.3h2.1v2.1h-2.1zM429.4 104.6h2.1v2.1h-2.1zM429.4 118.9h2.1v2.1h-2.1zM429.4 104.9h2.1v2.1h-2.1zM429.3 107.5h2.1v2.1h-2.1zM429.4 111.6h2.1v2.1h-2.1zM429.4 110.9h2.1v2.1h-2.1zM429.4 98.7h2.1v2.1h-2.1zM429.4 91.3h2.1v2.1h-2.1zM429.3 93.8h2.1v2.1h-2.1zM429.3 106.6h2.1v2.1h-2.1zM429.2 108.4h2.1v2.1h-2.1zM429.3 106.4h2.1v2.1h-2.1zM429.4 109.7h2.1v2.1h-2.1zM429.2 113.7h2.1v2.1h-2.1zM429.4 97.8h2.1v2.1h-2.1zM429.3 123.3h2.1v2.1h-2.1zM429.2 124.1h2.1v2.1h-2.1zM429.4 109.5h2.1v2.1h-2.1zM429.2 102.6h2.1v2.1h-2.1zM429.4 105.7h2.1v2.1h-2.1zM429.4 93.1h2.1v2.1h-2.1zM429.3 104.1h2.1v2.1h-2.1zM429.3 97.7h2.1v2.1h-2.1zM429.3 103.1h2.1v2.1h-2.1zM429.3 101.4h2.1v2.1h-2.1zM429.5 105.8h2.1v2.1h-2.1zM429.6 105.7h2.1v2.1h-2.1zM429.6 88.3h2.1v2.1h-2.1zM429.7 97.2h2.1v2.1h-2.1zM429.6 102.0h2.1v2.1h-2.1zM429.7 111.1h2.1v2.1h-2.1zM429.6 112.7h2.1v2.1h-2.1zM429.6 104.6h2.1v2.1h-2.1zM429.5 95.0h2.1v2.1h-2.1zM429.5 107.3h2.1v2.1h-2.1zM429.7 111.0h2.1v2.1h-2.1zM429.6 109.4h2.1v2.1h-2.1zM429.5 98.3h2.1v2.1h-2.1zM429.5 95.4h2.1v2.1h-2.1zM429.6 96.6h2.1v2.1h-2.1zM429.6 95.2h2.1v2.1h-2.1zM429.6 111.2h2.1v2.1h-2.1zM429.6 105.9h2.1v2.1h-2.1zM429.5 120.2h2.1v2.1h-2.1zM429.5 116.2h2.1v2.1h-2.1zM429.5 111.3h2.1v2.1h-2.1zM429.5 98.3h2.1v2.1h-2.1zM429.6 108.5h2.1v2.1h-2.1zM429.7 106.9h2.1v2.1h-2.1zM429.6 92.7h2.1v2.1h-2.1zM429.6 93.6h2.1v2.1h-2.1zM429.6 97.7h2.1v2.1h-2.1zM429.5 113.2h2.1v2.1h-2.1zM429.6 100.4h2.1v2.1h-2.1zM429.7 92.7h2.1v2.1h-2.1zM429.7 104.0h2.1v2.1h-2.1zM429.8 98.1h2.1v2.1h-2.1zM429.8 86.6h2.1v2.1h-2.1zM429.8 108.4h2.1v2.1h-2.1zM429.7 94.0h2.1v2.1h-2.1zM429.8 108.4h2.1v2.1h-2.1zM429.8 106.6h2.1v2.1h-2.1zM429.8 114.9h2.1v2.1h-2.1zM429.9 96.1h2.1v2.1h-2.1zM429.9 117.1h2.1v2.1h-2.1zM429.8 93.6h2.1v2.1h-2.1zM429.9 114.6h2.1v2.1h-2.1zM429.8 111.3h2.1v2.1h-2.1zM429.8 106.5h2.1v2.1h-2.1zM429.7 94.8h2.1v2.1h-2.1zM429.8 115.6h2.1v2.1h-2.1zM429.9 109.2h2.1v2.1h-2.1zM429.9 90.1h2.1v2.1h-2.1zM429.9 82.8h2.1v2.1h-2.1zM429.9 97.8h2.1v2.1h-2.1zM429.9 96.4h2.1v2.1h-2.1zM429.7 108.7h2.1v2.1h-2.1zM429.7 104.3h2.1v2.1h-2.1zM429.9 105.4h2.1v2.1h-2.1zM429.7 99.2h2.1v2.1h-2.1zM429.7 110.5h2.1v2.1h-2.1zM429.9 98.5h2.1v2.1h-2.1zM429.8 91.4h2.1v2.1h-2.1zM429.7 84.6h2.1v2.1h-2.1zM429.8 107.2h2.1v2.1h-2.1zM429.8 98.4h2.1v2.1h-2.1zM429.8 89.8h2.1v2.1h-2.1zM429.7 96.4h2.1v2.1h-2.1zM429.8 100.0h2.1v2.1h-2.1zM430.0 100.6h2.1v2.1h-2.1zM430.2 91.1h2.1v2.1h-2.1zM430.1 91.1h2.1v2.1h-2.1zM430.0 103.6h2.1v2.1h-2.1zM430.0 98.6h2.1v2.1h-2.1zM430.1 114.9h2.1v2.1h-2.1zM430.0 98.8h2.1v2.1h-2.1zM430.0 92.7h2.1v2.1h-2.1zM430.2 97.3h2.1v2.1h-2.1zM430.0 93.9h2.1v2.1h-2.1zM430.1 112.6h2.1v2.1h-2.1zM430.0 97.5h2.1v2.1h-2.1zM430.0 115.3h2.1v2.1h-2.1zM430.1 107.8h2.1v2.1h-2.1zM430.0 119.4h2.1v2.1h-2.1zM430.1 102.7h2.1v2.1h-2.1zM430.0 110.2h2.1v2.1h-2.1zM430.2 87.0h2.1v2.1h-2.1zM430.1 99.8h2.1v2.1h-2.1zM430.0 97.8h2.1v2.1h-2.1zM430.0 112.6h2.1v2.1h-2.1zM430.0 102.6h2.1v2.1h-2.1zM430.1 108.7h2.1v2.1h-2.1zM430.1 97.9h2.1v2.1h-2.1zM430.0 93.5h2.1v2.1h-2.1zM430.1 102.9h2.1v2.1h-2.1zM430.1 113.7h2.1v2.1h-2.1zM430.0 103.2h2.1v2.1h-2.1zM430.0 115.9h2.1v2.1h-2.1zM430.1 101.0h2.1v2.1h-2.1zM430.1 100.8h2.1v2.1h-2.1zM430.3 108.9h2.1v2.1h-2.1zM430.4 106.1h2.1v2.1h-2.1zM430.2 96.5h2.1v2.1h-2.1zM430.2 87.1h2.1v2.1h-2.1zM430.2 107.9h2.1v2.1h-2.1zM430.3 99.4h2.1v2.1h-2.1zM430.3 109.0h2.1v2.1h-2.1zM430.3 112.2h2.1v2.1h-2.1zM430.3 100.5h2.1v2.1h-2.1zM430.4 101.3h2.1v2.1h-2.1zM430.4 109.0h2.1v2.1h-2.1zM430.4 101.0h2.1v2.1h-2.1zM430.4 87.3h2.1v2.1h-2.1zM430.2 107.9h2.1v2.1h-2.1zM430.3 105.5h2.1v2.1h-2.1zM430.3 98.4h2.1v2.1h-2.1zM430.4 106.9h2.1v2.1h-2.1zM430.3 99.8h2.1v2.1h-2.1zM430.3 99.5h2.1v2.1h-2.1zM430.4 109.0h2.1v2.1h-2.1zM430.3 91.8h2.1v2.1h-2.1zM430.3 90.0h2.1v2.1h-2.1zM430.4 101.3h2.1v2.1h-2.1zM430.4 92.1h2.1v2.1h-2.1zM430.3 109.4h2.1v2.1h-2.1zM430.4 96.7h2.1v2.1h-2.1zM430.2 89.1h2.1v2.1h-2.1zM430.4 99.4h2.1v2.1h-2.1zM430.3 84.9h2.1v2.1h-2.1zM430.4 113.3h2.1v2.1h-2.1zM430.4 102.3h2.1v2.1h-2.1zM430.2 108.1h2.1v2.1h-2.1zM430.3 106.7h2.1v2.1h-2.1zM430.4 104.0h2.1v2.1h-2.1zM430.2 94.5h2.1v2.1h-2.1zM430.4 108.7h2.1v2.1h-2.1zM430.3 100.0h2.1v2.1h-2.1zM430.5 98.4h2.1v2.1h-2.1zM430.7 100.4h2.1v2.1h-2.1zM430.5 111.8h2.1v2.1h-2.1zM430.6 104.0h2.1v2.1h-2.1zM430.5 98.2h2.1v2.1h-2.1zM430.6 107.8h2.1v2.1h-2.1zM430.6 101.2h2.1v2.1h-2.1zM430.5 107.7h2.1v2.1h-2.1zM430.5 95.6h2.1v2.1h-2.1zM430.7 96.0h2.1v2.1h-2.1zM430.6 91.0h2.1v2.1h-2.1zM430.5 111.2h2.1v2.1h-2.1zM430.6 113.3h2.1v2.1h-2.1zM430.6 111.6h2.1v2.1h-2.1zM430.7 105.0h2.1v2.1h-2.1zM430.6 103.8h2.1v2.1h-2.1zM430.7 100.3h2.1v2.1h-2.1zM430.6 106.8h2.1v2.1h-2.1zM430.6 100.7h2.1v2.1h-2.1zM430.6 94.2h2.1v2.1h-2.1zM430.7 110.0h2.1v2.1h-2.1zM430.8 105.4h2.1v2.1h-2.1zM430.7 95.4h2.1v2.1h-2.1zM430.7 93.9h2.1v2.1h-2.1zM430.8 101.3h2.1v2.1h-2.1zM430.9 95.3h2.1v2.1h-2.1zM430.8 111.4h2.1v2.1h-2.1zM430.7 107.6h2.1v2.1h-2.1zM430.9 104.3h2.1v2.1h-2.1zM430.8 100.6h2.1v2.1h-2.1zM430.8 100.5h2.1v2.1h-2.1zM430.9 109.3h2.1v2.1h-2.1zM430.8 102.3h2.1v2.1h-2.1zM430.9 101.7h2.1v2.1h-2.1zM430.9 116.4h2.1v2.1h-2.1zM430.7 103.0h2.1v2.1h-2.1zM430.9 99.7h2.1v2.1h-2.1zM430.8 100.0h2.1v2.1h-2.1zM430.7 111.9h2.1v2.1h-2.1zM430.9 97.8h2.1v2.1h-2.1zM430.8 98.1h2.1v2.1h-2.1zM430.9 110.4h2.1v2.1h-2.1zM430.7 111.1h2.1v2.1h-2.1zM430.7 113.0h2.1v2.1h-2.1zM430.9 95.0h2.1v2.1h-2.1zM430.8 105.3h2.1v2.1h-2.1zM430.7 97.5h2.1v2.1h-2.1zM430.9 105.1h2.1v2.1h-2.1zM430.9 89.3h2.1v2.1h-2.1zM430.8 100.2h2.1v2.1h-2.1zM430.9 110.3h2.1v2.1h-2.1zM430.7 103.5h2.1v2.1h-2.1zM430.9 82.7h2.1v2.1h-2.1zM430.7 109.8h2.1v2.1h-2.1zM430.7 104.8h2.1v2.1h-2.1zM430.8 99.7h2.1v2.1h-2.1zM431.1 108.2h2.1v2.1h-2.1zM431.0 96.9h2.1v2.1h-2.1zM431.1 104.5h2.1v2.1h-2.1zM431.2 89.3h2.1v2.1h-2.1zM431.2 109.0h2.1v2.1h-2.1zM431.0 103.4h2.1v2.1h-2.1zM431.1 118.4h2.1v2.1h-2.1zM431.1 88.6h2.1v2.1h-2.1zM431.2 87.2h2.1v2.1h-2.1zM431.0 107.5h2.1v2.1h-2.1zM431.0 108.9h2.1v2.1h-2.1zM431.1 87.6h2.1v2.1h-2.1zM431.2 105.9h2.1v2.1h-2.1zM431.2 109.1h2.1v2.1h-2.1zM431.0 113.0h2.1v2.1h-2.1zM431.1 102.8h2.1v2.1h-2.1zM431.0 89.6h2.1v2.1h-2.1zM431.1 86.3h2.1v2.1h-2.1zM431.1 118.3h2.1v2.1h-2.1zM431.0 105.1h2.1v2.1h-2.1zM431.0 109.7h2.1v2.1h-2.1zM431.2 99.1h2.1v2.1h-2.1zM431.2 99.8h2.1v2.1h-2.1zM431.1 100.1h2.1v2.1h-2.1zM431.1 94.3h2.1v2.1h-2.1zM431.1 99.4h2.1v2.1h-2.1zM431.0 93.0h2.1v2.1h-2.1zM431.0 98.5h2.1v2.1h-2.1zM431.1 110.6h2.1v2.1h-2.1zM431.0 102.0h2.1v2.1h-2.1zM431.1 96.4h2.1v2.1h-2.1zM431.1 115.4h2.1v2.1h-2.1zM431.3 103.1h2.1v2.1h-2.1zM431.3 99.3h2.1v2.1h-2.1zM431.4 89.4h2.1v2.1h-2.1zM431.3 100.9h2.1v2.1h-2.1zM431.2 98.4h2.1v2.1h-2.1zM431.4 100.2h2.1v2.1h-2.1zM431.2 101.2h2.1v2.1h-2.1zM431.4 97.4h2.1v2.1h-2.1zM431.2 119.8h2.1v2.1h-2.1zM431.2 91.7h2.1v2.1h-2.1zM431.4 98.3h2.1v2.1h-2.1zM431.4 91.3h2.1v2.1h-2.1zM431.2 100.3h2.1v2.1h-2.1zM431.3 113.8h2.1v2.1h-2.1zM431.4 101.0h2.1v2.1h-2.1zM431.2 95.0h2.1v2.1h-2.1zM431.4 90.8h2.1v2.1h-2.1zM431.2 105.9h2.1v2.1h-2.1zM431.3 95.8h2.1v2.1h-2.1zM431.2 106.5h2.1v2.1h-2.1zM431.3 95.9h2.1v2.1h-2.1zM431.2 97.3h2.1v2.1h-2.1zM431.2 101.1h2.1v2.1h-2.1zM431.3 88.5h2.1v2.1h-2.1zM431.4 110.9h2.1v2.1h-2.1zM431.3 92.3h2.1v2.1h-2.1zM431.3 102.6h2.1v2.1h-2.1zM431.3 105.0h2.1v2.1h-2.1zM431.3 120.1h2.1v2.1h-2.1zM431.2 105.3h2.1v2.1h-2.1zM431.3 108.1h2.1v2.1h-2.1zM431.2 97.5h2.1v2.1h-2.1zM431.2 100.4h2.1v2.1h-2.1zM431.3 101.4h2.1v2.1h-2.1zM431.2 110.0h2.1v2.1h-2.1zM431.2 93.7h2.1v2.1h-2.1zM431.7 94.9h2.1v2.1h-2.1zM431.7 95.9h2.1v2.1h-2.1zM431.6 110.4h2.1v2.1h-2.1zM431.5 103.5h2.1v2.1h-2.1zM431.5 97.2h2.1v2.1h-2.1zM431.5 104.2h2.1v2.1h-2.1zM431.5 102.0h2.1v2.1h-2.1zM431.5 98.3h2.1v2.1h-2.1zM431.6 100.2h2.1v2.1h-2.1zM431.6 107.6h2.1v2.1h-2.1zM431.5 104.4h2.1v2.1h-2.1zM431.5 94.9h2.1v2.1h-2.1zM431.5 95.8h2.1v2.1h-2.1zM431.5 104.1h2.1v2.1h-2.1zM431.5 93.4h2.1v2.1h-2.1zM431.5 102.7h2.1v2.1h-2.1zM431.5 100.7h2.1v2.1h-2.1zM431.5 91.4h2.1v2.1h-2.1zM431.5 82.7h2.1v2.1h-2.1zM431.5 95.0h2.1v2.1h-2.1zM431.6 101.4h2.1v2.1h-2.1zM431.5 101.6h2.1v2.1h-2.1zM431.6 111.4h2.1v2.1h-2.1zM431.7 101.4h2.1v2.1h-2.1zM431.5 101.0h2.1v2.1h-2.1zM431.5 104.5h2.1v2.1h-2.1zM431.6 97.9h2.1v2.1h-2.1zM431.7 91.0h2.1v2.1h-2.1zM431.9 98.1h2.1v2.1h-2.1zM431.8 101.3h2.1v2.1h-2.1zM431.9 92.9h2.1v2.1h-2.1zM431.9 83.8h2.1v2.1h-2.1zM431.8 95.6h2.1v2.1h-2.1zM431.8 100.7h2.1v2.1h-2.1zM431.9 93.2h2.1v2.1h-2.1zM431.8 103.0h2.1v2.1h-2.1zM431.7 86.1h2.1v2.1h-2.1zM431.8 103.2h2.1v2.1h-2.1zM431.9 117.5h2.1v2.1h-2.1zM431.9 108.5h2.1v2.1h-2.1zM431.7 108.9h2.1v2.1h-2.1zM431.9 97.9h2.1v2.1h-2.1zM431.8 97.5h2.1v2.1h-2.1zM431.9 109.8h2.1v2.1h-2.1zM431.8 98.2h2.1v2.1h-2.1zM431.9 105.9h2.1v2.1h-2.1zM431.7 93.1h2.1v2.1h-2.1zM431.8 103.9h2.1v2.1h-2.1zM431.8 102.2h2.1v2.1h-2.1zM431.7 83.2h2.1v2.1h-2.1zM431.9 99.8h2.1v2.1h-2.1zM431.8 105.4h2.1v2.1h-2.1zM431.9 105.1h2.1v2.1h-2.1zM431.9 103.7h2.1v2.1h-2.1zM432.0 102.6h2.1v2.1h-2.1zM432.2 109.5h2.1v2.1h-2.1zM432.0 92.2h2.1v2.1h-2.1zM432.1 103.7h2.1v2.1h-2.1zM432.1 114.0h2.1v2.1h-2.1zM432.0 100.8h2.1v2.1h-2.1zM432.0 82.9h2.1v2.1h-2.1zM432.0 108.5h2.1v2.1h-2.1zM432.2 98.9h2.1v2.1h-2.1zM432.1 105.8h2.1v2.1h-2.1zM432.2 102.7h2.1v2.1h-2.1zM432.1 105.6h2.1v2.1h-2.1zM432.1 110.3h2.1v2.1h-2.1zM432.0 101.7h2.1v2.1h-2.1zM432.0 107.0h2.1v2.1h-2.1zM432.2 90.1h2.1v2.1h-2.1zM432.1 93.4h2.1v2.1h-2.1zM432.2 99.5h2.1v2.1h-2.1zM432.1 113.2h2.1v2.1h-2.1zM432.1 93.9h2.1v2.1h-2.1zM432.1 97.8h2.1v2.1h-2.1zM432.0 106.0h2.1v2.1h-2.1zM432.0 96.5h2.1v2.1h-2.1zM432.1 90.2h2.1v2.1h-2.1zM432.1 84.8h2.1v2.1h-2.1zM432.2 106.8h2.1v2.1h-2.1zM432.0 91.6h2.1v2.1h-2.1zM432.0 103.4h2.1v2.1h-2.1zM432.2 104.6h2.1v2.1h-2.1zM432.1 92.6h2.1v2.1h-2.1zM432.1 104.2h2.1v2.1h-2.1zM432.1 83.4h2.1v2.1h-2.1zM432.0 99.8h2.1v2.1h-2.1zM432.0 92.3h2.1v2.1h-2.1zM432.2 102.3h2.1v2.1h-2.1zM432.0 102.2h2.1v2.1h-2.1zM432.2 101.9h2.1v2.1h-2.1zM432.2 105.5h2.1v2.1h-2.1zM432.0 95.5h2.1v2.1h-2.1zM432.1 89.0h2.1v2.1h-2.1zM432.0 90.7h2.1v2.1h-2.1zM432.1 108.5h2.1v2.1h-2.1zM432.2 92.1h2.1v2.1h-2.1zM432.0 97.8h2.1v2.1h-2.1zM432.0 103.5h2.1v2.1h-2.1zM432.2 99.2h2.1v2.1h-2.1zM432.4 104.7h2.1v2.1h-2.1zM432.3 76.8h2.1v2.1h-2.1zM432.3 101.6h2.1v2.1h-2.1zM432.4 104.7h2.1v2.1h-2.1zM432.4 102.0h2.1v2.1h-2.1zM432.3 88.4h2.1v2.1h-2.1zM432.4 93.9h2.1v2.1h-2.1zM432.3 105.6h2.1v2.1h-2.1zM432.4 103.5h2.1v2.1h-2.1zM432.4 103.7h2.1v2.1h-2.1zM432.2 91.2h2.1v2.1h-2.1zM432.4 102.3h2.1v2.1h-2.1zM432.4 111.6h2.1v2.1h-2.1zM432.4 100.5h2.1v2.1h-2.1zM432.4 110.8h2.1v2.1h-2.1zM432.3 107.1h2.1v2.1h-2.1zM432.3 106.8h2.1v2.1h-2.1zM432.3 94.9h2.1v2.1h-2.1zM432.2 95.1h2.1v2.1h-2.1zM432.4 94.8h2.1v2.1h-2.1zM432.2 109.4h2.1v2.1h-2.1zM432.4 110.1h2.1v2.1h-2.1zM432.4 91.8h2.1v2.1h-2.1zM432.3 90.0h2.1v2.1h-2.1zM432.4 101.1h2.1v2.1h-2.1zM432.3 110.7h2.1v2.1h-2.1zM432.4 102.2h2.1v2.1h-2.1zM432.4 105.2h2.1v2.1h-2.1zM432.4 104.0h2.1v2.1h-2.1zM432.3 104.8h2.1v2.1h-2.1zM432.2 99.2h2.1v2.1h-2.1zM432.4 103.9h2.1v2.1h-2.1zM432.2 105.7h2.1v2.1h-2.1zM432.4 99.2h2.1v2.1h-2.1zM432.6 92.0h2.1v2.1h-2.1zM432.5 105.8h2.1v2.1h-2.1zM432.5 98.4h2.1v2.1h-2.1zM432.5 100.9h2.1v2.1h-2.1zM432.6 100.7h2.1v2.1h-2.1zM432.6 98.5h2.1v2.1h-2.1zM432.6 112.0h2.1v2.1h-2.1zM432.6 98.7h2.1v2.1h-2.1zM432.6 93.3h2.1v2.1h-2.1zM432.6 89.1h2.1v2.1h-2.1zM432.6 94.7h2.1v2.1h-2.1zM432.5 101.7h2.1v2.1h-2.1zM432.6 101.4h2.1v2.1h-2.1zM432.5 102.4h2.1v2.1h-2.1zM432.5 96.8h2.1v2.1h-2.1zM432.5 103.6h2.1v2.1h-2.1zM432.6 103.7h2.1v2.1h-2.1zM432.5 90.7h2.1v2.1h-2.1zM432.5 103.3h2.1v2.1h-2.1zM432.6 103.4h2.1v2.1h-2.1zM432.7 97.9h2.1v2.1h-2.1zM432.7 108.7h2.1v2.1h-2.1zM432.5 100.6h2.1v2.1h-2.1zM432.5 94.3h2.1v2.1h-2.1zM432.6 107.6h2.1v2.1h-2.1zM432.7 114.0h2.1v2.1h-2.1zM432.5 91.1h2.1v2.1h-2.1zM432.5 99.6h2.1v2.1h-2.1zM432.7 107.0h2.1v2.1h-2.1zM432.6 104.9h2.1v2.1h-2.1zM432.6 108.2h2.1v2.1h-2.1zM432.6 110.5h2.1v2.1h-2.1zM432.5 86.1h2.1v2.1h-2.1zM432.6 105.6h2.1v2.1h-2.1zM432.8 105.1h2.1v2.1h-2.1zM432.9 96.9h2.1v2.1h-2.1zM432.8 99.9h2.1v2.1h-2.1zM432.8 101.3h2.1v2.1h-2.1zM432.8 108.4h2.1v2.1h-2.1zM432.9 82.4h2.1v2.1h-2.1zM432.8 111.3h2.1v2.1h-2.1zM432.9 92.6h2.1v2.1h-2.1zM432.8 117.4h2.1v2.1h-2.1zM432.9 103.8h2.1v2.1h-2.1zM432.8 114.0h2.1v2.1h-2.1zM432.7 98.3h2.1v2.1h-2.1zM432.9 113.8h2.1v2.1h-2.1zM432.7 103.5h2.1v2.1h-2.1zM432.8 103.4h2.1v2.1h-2.1zM432.9 103.6h2.1v2.1h-2.1zM432.8 80.2h2.1v2.1h-2.1zM432.8 88.3h2.1v2.1h-2.1zM432.8 87.2h2.1v2.1h-2.1zM432.7 100.8h2.1v2.1h-2.1zM432.8 98.3h2.1v2.1h-2.1zM432.9 106.6h2.1v2.1h-2.1zM432.9 102.8h2.1v2.1h-2.1zM432.7 110.0h2.1v2.1h-2.1zM432.8 94.5h2.1v2.1h-2.1zM432.9 102.8h2.1v2.1h-2.1zM432.8 96.0h2.1v2.1h-2.1zM432.8 90.7h2.1v2.1h-2.1zM432.8 85.9h2.1v2.1h-2.1zM432.8 99.2h2.1v2.1h-2.1zM432.9 92.5h2.1v2.1h-2.1zM432.7 95.8h2.1v2.1h-2.1zM432.8 92.3h2.1v2.1h-2.1zM432.7 91.3h2.1v2.1h-2.1zM432.7 122.6h2.1v2.1h-2.1zM432.8 100.3h2.1v2.1h-2.1zM432.7 89.5h2.1v2.1h-2.1zM432.8 98.4h2.1v2.1h-2.1zM432.8 100.1h2.1v2.1h-2.1zM432.9 88.0h2.1v2.1h-2.1zM432.9 108.2h2.1v2.1h-2.1zM432.8 92.4h2.1v2.1h-2.1zM432.8 104.1h2.1v2.1h-2.1zM432.8 96.1h2.1v2.1h-2.1zM432.8 93.3h2.1v2.1h-2.1zM432.9 125.6h2.1v2.1h-2.1zM432.9 94.7h2.1v2.1h-2.1zM432.7 87.6h2.1v2.1h-2.1zM432.7 95.6h2.1v2.1h-2.1zM432.9 91.6h2.1v2.1h-2.1zM433.2 110.1h2.1v2.1h-2.1zM433.2 88.4h2.1v2.1h-2.1zM433.0 98.5h2.1v2.1h-2.1zM433.1 95.8h2.1v2.1h-2.1zM433.0 93.7h2.1v2.1h-2.1zM433.0 90.0h2.1v2.1h-2.1zM433.0 115.0h2.1v2.1h-2.1zM433.1 99.2h2.1v2.1h-2.1zM433.1 96.7h2.1v2.1h-2.1zM433.1 86.0h2.1v2.1h-2.1zM433.0 108.4h2.1v2.1h-2.1zM433.0 108.4h2.1v2.1h-2.1zM433.0 98.0h2.1v2.1h-2.1zM433.2 88.2h2.1v2.1h-2.1zM433.0 104.0h2.1v2.1h-2.1zM433.0 99.4h2.1v2.1h-2.1zM433.2 87.6h2.1v2.1h-2.1zM433.0 116.3h2.1v2.1h-2.1zM433.2 105.2h2.1v2.1h-2.1zM433.1 91.4h2.1v2.1h-2.1zM433.1 92.8h2.1v2.1h-2.1zM433.1 105.7h2.1v2.1h-2.1zM433.1 109.0h2.1v2.1h-2.1zM433.1 104.2h2.1v2.1h-2.1zM433.1 103.7h2.1v2.1h-2.1zM433.2 96.4h2.1v2.1h-2.1zM433.1 116.3h2.1v2.1h-2.1zM433.1 97.4h2.1v2.1h-2.1zM433.1 101.4h2.1v2.1h-2.1zM433.4 107.6h2.1v2.1h-2.1zM433.4 111.0h2.1v2.1h-2.1zM433.4 110.4h2.1v2.1h-2.1zM433.4 107.9h2.1v2.1h-2.1zM433.2 108.8h2.1v2.1h-2.1zM433.2 94.4h2.1v2.1h-2.1zM433.4 108.2h2.1v2.1h-2.1zM433.2 91.9h2.1v2.1h-2.1zM433.3 87.3h2.1v2.1h-2.1zM433.3 98.1h2.1v2.1h-2.1zM433.4 89.4h2.1v2.1h-2.1zM433.4 90.9h2.1v2.1h-2.1zM433.4 94.5h2.1v2.1h-2.1zM433.2 96.5h2.1v2.1h-2.1zM433.2 101.1h2.1v2.1h-2.1zM433.3 91.5h2.1v2.1h-2.1zM433.2 95.0h2.1v2.1h-2.1zM433.3 98.5h2.1v2.1h-2.1zM433.4 101.0h2.1v2.1h-2.1zM433.3 103.5h2.1v2.1h-2.1zM433.3 106.0h2.1v2.1h-2.1zM433.7 96.8h2.1v2.1h-2.1zM433.7 101.8h2.1v2.1h-2.1zM433.6 93.3h2.1v2.1h-2.1zM433.5 117.1h2.1v2.1h-2.1zM433.5 94.0h2.1v2.1h-2.1zM433.7 104.6h2.1v2.1h-2.1zM433.6 110.2h2.1v2.1h-2.1zM433.5 97.7h2.1v2.1h-2.1zM433.5 106.5h2.1v2.1h-2.1zM433.7 95.0h2.1v2.1h-2.1zM433.5 91.5h2.1v2.1h-2.1zM433.5 93.1h2.1v2.1h-2.1zM433.6 108.2h2.1v2.1h-2.1zM433.7 107.8h2.1v2.1h-2.1zM433.6 92.1h2.1v2.1h-2.1zM433.5 107.7h2.1v2.1h-2.1zM433.5 92.2h2.1v2.1h-2.1zM433.5 100.9h2.1v2.1h-2.1zM433.7 105.0h2.1v2.1h-2.1zM433.5 82.9h2.1v2.1h-2.1zM433.5 104.5h2.1v2.1h-2.1zM433.5 97.1h2.1v2.1h-2.1zM433.5 87.5h2.1v2.1h-2.1zM433.7 104.8h2.1v2.1h-2.1zM433.5 101.7h2.1v2.1h-2.1zM433.6 102.2h2.1v2.1h-2.1zM433.7 97.0h2.1v2.1h-2.1zM433.5 94.0h2.1v2.1h-2.1zM433.5 88.8h2.1v2.1h-2.1zM433.5 97.5h2.1v2.1h-2.1zM433.9 100.0h2.1v2.1h-2.1zM433.8 92.8h2.1v2.1h-2.1zM433.9 85.8h2.1v2.1h-2.1zM433.7 117.0h2.1v2.1h-2.1zM433.8 92.6h2.1v2.1h-2.1zM433.9 99.4h2.1v2.1h-2.1zM433.7 101.4h2.1v2.1h-2.1zM433.9 106.0h2.1v2.1h-2.1zM433.9 88.1h2.1v2.1h-2.1zM433.8 79.4h2.1v2.1h-2.1zM433.9 99.7h2.1v2.1h-2.1zM433.9 86.9h2.1v2.1h-2.1zM433.8 96.7h2.1v2.1h-2.1zM433.9 115.4h2.1v2.1h-2.1zM433.8 94.2h2.1v2.1h-2.1zM433.9 104.3h2.1v2.1h-2.1zM433.9 89.9h2.1v2.1h-2.1zM433.9 122.9h2.1v2.1h-2.1zM433.8 95.9h2.1v2.1h-2.1zM433.8 102.1h2.1v2.1h-2.1zM433.7 97.8h2.1v2.1h-2.1zM433.8 94.0h2.1v2.1h-2.1zM433.7 107.5h2.1v2.1h-2.1zM433.8 97.0h2.1v2.1h-2.1zM433.8 91.4h2.1v2.1h-2.1zM433.9 94.5h2.1v2.1h-2.1zM434.1 107.9h2.1v2.1h-2.1zM434.0 112.1h2.1v2.1h-2.1zM434.2 97.3h2.1v2.1h-2.1zM434.0 96.3h2.1v2.1h-2.1zM434.0 101.0h2.1v2.1h-2.1zM434.2 105.8h2.1v2.1h-2.1zM434.1 110.5h2.1v2.1h-2.1zM434.1 90.7h2.1v2.1h-2.1zM434.1 97.0h2.1v2.1h-2.1zM434.2 82.0h2.1v2.1h-2.1zM434.1 96.3h2.1v2.1h-2.1zM434.0 105.8h2.1v2.1h-2.1zM434.0 104.1h2.1v2.1h-2.1zM434.1 117.5h2.1v2.1h-2.1zM434.2 103.9h2.1v2.1h-2.1zM434.0 95.2h2.1v2.1h-2.1zM434.2 92.3h2.1v2.1h-2.1zM434.1 100.6h2.1v2.1h-2.1zM434.0 111.9h2.1v2.1h-2.1zM434.0 88.5h2.1v2.1h-2.1zM434.0 90.9h2.1v2.1h-2.1zM434.1 99.2h2.1v2.1h-2.1zM434.0 95.8h2.1v2.1h-2.1zM434.1 105.7h2.1v2.1h-2.1zM434.1 94.8h2.1v2.1h-2.1zM434.0 98.9h2.1v2.1h-2.1zM434.1 98.4h2.1v2.1h-2.1zM434.1 100.2h2.1v2.1h-2.1zM434.1 109.5h2.1v2.1h-2.1zM434.0 88.2h2.1v2.1h-2.1zM434.0 84.6h2.1v2.1h-2.1zM434.0 86.6h2.1v2.1h-2.1zM434.1 96.2h2.1v2.1h-2.1zM434.3 99.9h2.1v2.1h-2.1zM434.3 91.8h2.1v2.1h-2.1zM434.3 102.9h2.1v2.1h-2.1zM434.3 109.3h2.1v2.1h-2.1zM434.4 88.2h2.1v2.1h-2.1zM434.2 85.4h2.1v2.1h-2.1zM434.3 107.6h2.1v2.1h-2.1zM434.3 114.1h2.1v2.1h-2.1zM434.3 98.3h2.1v2.1h-2.1zM434.2 81.7h2.1v2.1h-2.1zM434.2 85.8h2.1v2.1h-2.1zM434.4 105.9h2.1v2.1h-2.1zM434.3 112.4h2.1v2.1h-2.1zM434.3 97.3h2.1v2.1h-2.1zM434.2 87.5h2.1v2.1h-2.1zM434.2 107.7h2.1v2.1h-2.1zM434.2 87.4h2.1v2.1h-2.1zM434.2 92.9h2.1v2.1h-2.1zM434.3 93.2h2.1v2.1h-2.1zM434.3 93.2h2.1v2.1h-2.1zM434.4 102.6h2.1v2.1h-2.1zM434.2 90.6h2.1v2.1h-2.1zM434.2 99.6h2.1v2.1h-2.1zM434.2 107.2h2.1v2.1h-2.1zM434.6 105.0h2.1v2.1h-2.1zM434.5 104.1h2.1v2.1h-2.1zM434.5 90.2h2.1v2.1h-2.1zM434.5 94.2h2.1v2.1h-2.1zM434.5 100.8h2.1v2.1h-2.1zM434.7 93.4h2.1v2.1h-2.1zM434.6 86.9h2.1v2.1h-2.1zM434.6 99.6h2.1v2.1h-2.1zM434.5 95.3h2.1v2.1h-2.1zM434.7 100.4h2.1v2.1h-2.1zM434.6 104.8h2.1v2.1h-2.1zM434.5 94.2h2.1v2.1h-2.1zM434.5 89.1h2.1v2.1h-2.1zM434.6 92.0h2.1v2.1h-2.1zM434.5 104.4h2.1v2.1h-2.1zM434.6 98.8h2.1v2.1h-2.1zM434.5 104.4h2.1v2.1h-2.1zM434.7 95.3h2.1v2.1h-2.1zM434.6 104.0h2.1v2.1h-2.1zM434.5 94.3h2.1v2.1h-2.1zM434.6 93.0h2.1v2.1h-2.1zM434.6 98.0h2.1v2.1h-2.1zM434.5 97.2h2.1v2.1h-2.1zM434.5 96.3h2.1v2.1h-2.1zM434.5 98.6h2.1v2.1h-2.1zM434.5 105.9h2.1v2.1h-2.1zM434.7 92.7h2.1v2.1h-2.1zM434.5 84.2h2.1v2.1h-2.1zM434.6 101.4h2.1v2.1h-2.1zM434.5 113.3h2.1v2.1h-2.1zM434.5 106.6h2.1v2.1h-2.1zM434.7 88.5h2.1v2.1h-2.1zM434.5 101.8h2.1v2.1h-2.1zM434.5 107.2h2.1v2.1h-2.1zM434.7 105.3h2.1v2.1h-2.1zM434.6 112.7h2.1v2.1h-2.1zM434.8 89.5h2.1v2.1h-2.1zM434.8 96.7h2.1v2.1h-2.1zM434.9 96.4h2.1v2.1h-2.1zM434.8 100.9h2.1v2.1h-2.1zM434.8 103.5h2.1v2.1h-2.1zM434.7 111.8h2.1v2.1h-2.1zM434.8 87.5h2.1v2.1h-2.1zM434.8 85.4h2.1v2.1h-2.1zM434.8 100.4h2.1v2.1h-2.1zM434.7 108.7h2.1v2.1h-2.1zM434.8 106.5h2.1v2.1h-2.1zM434.9 97.3h2.1v2.1h-2.1zM434.8 96.3h2.1v2.1h-2.1zM434.9 95.9h2.1v2.1h-2.1zM434.8 112.5h2.1v2.1h-2.1zM434.8 96.6h2.1v2.1h-2.1zM434.9 100.8h2.1v2.1h-2.1zM434.8 88.6h2.1v2.1h-2.1zM434.8 105.7h2.1v2.1h-2.1zM434.8 97.3h2.1v2.1h-2.1zM434.8 96.3h2.1v2.1h-2.1zM434.8 96.1h2.1v2.1h-2.1zM434.9 97.3h2.1v2.1h-2.1zM434.8 120.1h2.1v2.1h-2.1zM434.7 103.4h2.1v2.1h-2.1zM434.7 103.8h2.1v2.1h-2.1zM434.7 92.5h2.1v2.1h-2.1zM434.8 87.2h2.1v2.1h-2.1zM434.9 81.3h2.1v2.1h-2.1zM434.8 93.8h2.1v2.1h-2.1zM434.7 99.9h2.1v2.1h-2.1zM435.1 105.5h2.1v2.1h-2.1zM435.1 104.8h2.1v2.1h-2.1zM435.1 117.0h2.1v2.1h-2.1zM435.1 104.5h2.1v2.1h-2.1zM435.2 91.3h2.1v2.1h-2.1zM435.2 107.1h2.1v2.1h-2.1zM435.0 92.1h2.1v2.1h-2.1zM435.2 90.0h2.1v2.1h-2.1zM435.0 104.5h2.1v2.1h-2.1zM435.1 94.1h2.1v2.1h-2.1zM435.2 98.7h2.1v2.1h-2.1zM435.0 94.8h2.1v2.1h-2.1zM435.1 97.2h2.1v2.1h-2.1zM435.0 85.1h2.1v2.1h-2.1zM435.0 105.9h2.1v2.1h-2.1zM435.2 108.3h2.1v2.1h-2.1zM435.1 96.8h2.1v2.1h-2.1zM435.2 108.5h2.1v2.1h-2.1zM435.0 105.7h2.1v2.1h-2.1zM435.0 108.3h2.1v2.1h-2.1zM435.0 110.6h2.1v2.1h-2.1zM435.0 89.3h2.1v2.1h-2.1zM435.1 105.3h2.1v2.1h-2.1zM435.2 97.7h2.1v2.1h-2.1zM435.2 104.8h2.1v2.1h-2.1zM435.0 96.9h2.1v2.1h-2.1zM435.0 115.2h2.1v2.1h-2.1zM435.0 112.0h2.1v2.1h-2.1zM435.2 98.8h2.1v2.1h-2.1zM435.0 102.5h2.1v2.1h-2.1zM435.1 100.7h2.1v2.1h-2.1zM435.0 101.0h2.1v2.1h-2.1zM435.0 106.4h2.1v2.1h-2.1zM435.1 91.3h2.1v2.1h-2.1zM435.1 87.8h2.1v2.1h-2.1zM435.1 107.8h2.1v2.1h-2.1zM435.0 101.8h2.1v2.1h-2.1zM435.2 110.1h2.1v2.1h-2.1zM435.2 78.1h2.1v2.1h-2.1zM435.4 114.1h2.1v2.1h-2.1zM435.3 98.4h2.1v2.1h-2.1zM435.2 95.7h2.1v2.1h-2.1zM435.3 108.8h2.1v2.1h-2.1zM435.3 101.8h2.1v2.1h-2.1zM435.3 93.7h2.1v2.1h-2.1zM435.4 99.7h2.1v2.1h-2.1zM435.4 100.6h2.1v2.1h-2.1zM435.2 96.6h2.1v2.1h-2.1zM435.4 79.3h2.1v2.1h-2.1zM435.3 99.3h2.1v2.1h-2.1zM435.3 90.7h2.1v2.1h-2.1zM435.2 89.9h2.1v2.1h-2.1zM435.4 98.4h2.1v2.1h-2.1zM435.4 114.9h2.1v2.1h-2.1zM435.2 88.7h2.1v2.1h-2.1zM435.4 100.4h2.1v2.1h-2.1zM435.4 86.3h2.1v2.1h-2.1zM435.3 85.3h2.1v2.1h-2.1zM435.4 95.1h2.1v2.1h-2.1zM435.4 105.2h2.1v2.1h-2.1zM435.4 100.2h2.1v2.1h-2.1zM435.4 100.2h2.1v2.1h-2.1zM435.5 104.0h2.1v2.1h-2.1zM435.6 91.2h2.1v2.1h-2.1zM435.5 98.0h2.1v2.1h-2.1zM435.5 92.1h2.1v2.1h-2.1zM435.6 94.8h2.1v2.1h-2.1zM435.6 106.3h2.1v2.1h-2.1zM435.5 107.3h2.1v2.1h-2.1zM435.6 90.5h2.1v2.1h-2.1zM435.5 96.6h2.1v2.1h-2.1zM435.5 97.3h2.1v2.1h-2.1zM435.7 90.3h2.1v2.1h-2.1zM435.6 94.7h2.1v2.1h-2.1zM435.6 89.3h2.1v2.1h-2.1zM435.5 102.3h2.1v2.1h-2.1zM435.6 90.3h2.1v2.1h-2.1zM435.5 109.0h2.1v2.1h-2.1zM435.5 82.4h2.1v2.1h-2.1zM435.7 102.2h2.1v2.1h-2.1zM435.6 102.5h2.1v2.1h-2.1zM435.6 92.7h2.1v2.1h-2.1zM435.5 84.4h2.1v2.1h-2.1zM435.6 99.2h2.1v2.1h-2.1zM435.5 88.1h2.1v2.1h-2.1zM435.5 106.3h2.1v2.1h-2.1zM435.5 98.7h2.1v2.1h-2.1zM435.7 97.5h2.1v2.1h-2.1zM435.7 98.5h2.1v2.1h-2.1zM435.7 103.5h2.1v2.1h-2.1zM435.5 97.6h2.1v2.1h-2.1zM435.6 102.0h2.1v2.1h-2.1zM435.6 100.5h2.1v2.1h-2.1zM435.7 93.5h2.1v2.1h-2.1zM435.5 106.5h2.1v2.1h-2.1zM435.5 110.3h2.1v2.1h-2.1zM435.5 106.5h2.1v2.1h-2.1zM435.5 98.7h2.1v2.1h-2.1zM435.5 103.1h2.1v2.1h-2.1zM435.5 89.3h2.1v2.1h-2.1zM435.9 100.5h2.1v2.1h-2.1zM435.8 105.9h2.1v2.1h-2.1zM435.8 116.8h2.1v2.1h-2.1zM435.8 106.9h2.1v2.1h-2.1zM435.9 101.7h2.1v2.1h-2.1zM435.9 95.7h2.1v2.1h-2.1zM435.8 94.0h2.1v2.1h-2.1zM435.9 97.0h2.1v2.1h-2.1zM435.9 92.3h2.1v2.1h-2.1zM435.7 102.5h2.1v2.1h-2.1zM435.8 98.6h2.1v2.1h-2.1zM435.9 95.7h2.1v2.1h-2.1zM435.8 89.7h2.1v2.1h-2.1zM435.8 98.5h2.1v2.1h-2.1zM435.8 95.0h2.1v2.1h-2.1zM435.9 100.6h2.1v2.1h-2.1zM435.9 90.2h2.1v2.1h-2.1zM435.8 102.9h2.1v2.1h-2.1zM435.7 96.8h2.1v2.1h-2.1zM435.9 112.5h2.1v2.1h-2.1zM435.8 91.7h2.1v2.1h-2.1zM435.9 112.9h2.1v2.1h-2.1zM435.8 120.4h2.1v2.1h-2.1zM435.9 97.5h2.1v2.1h-2.1zM435.8 113.7h2.1v2.1h-2.1zM435.9 106.7h2.1v2.1h-2.1zM435.9 88.4h2.1v2.1h-2.1zM435.8 93.6h2.1v2.1h-2.1zM435.8 105.9h2.1v2.1h-2.1zM435.9 100.4h2.1v2.1h-2.1zM435.9 104.9h2.1v2.1h-2.1zM435.9 101.4h2.1v2.1h-2.1zM436.2 101.7h2.1v2.1h-2.1zM436.0 102.6h2.1v2.1h-2.1zM436.1 93.8h2.1v2.1h-2.1zM436.0 98.0h2.1v2.1h-2.1zM436.1 91.5h2.1v2.1h-2.1zM436.1 94.8h2.1v2.1h-2.1zM436.0 103.3h2.1v2.1h-2.1zM436.0 94.0h2.1v2.1h-2.1zM436.1 103.6h2.1v2.1h-2.1zM436.1 96.1h2.1v2.1h-2.1zM436.2 98.6h2.1v2.1h-2.1zM436.1 95.5h2.1v2.1h-2.1zM436.2 106.9h2.1v2.1h-2.1zM436.1 98.9h2.1v2.1h-2.1zM436.1 91.9h2.1v2.1h-2.1zM436.0 99.1h2.1v2.1h-2.1zM436.1 107.2h2.1v2.1h-2.1zM436.2 100.0h2.1v2.1h-2.1zM436.0 89.8h2.1v2.1h-2.1zM436.2 92.0h2.1v2.1h-2.1zM436.1 89.9h2.1v2.1h-2.1zM436.0 108.6h2.1v2.1h-2.1zM436.0 99.4h2.1v2.1h-2.1zM436.1 104.7h2.1v2.1h-2.1zM436.0 104.4h2.1v2.1h-2.1zM436.0 95.4h2.1v2.1h-2.1zM436.0 106.5h2.1v2.1h-2.1zM436.2 96.9h2.1v2.1h-2.1zM436.0 100.4h2.1v2.1h-2.1zM436.2 82.0h2.1v2.1h-2.1zM436.0 97.1h2.1v2.1h-2.1zM436.0 94.5h2.1v2.1h-2.1zM436.2 91.6h2.1v2.1h-2.1zM436.1 99.3h2.1v2.1h-2.1zM436.2 87.7h2.1v2.1h-2.1zM436.1 95.5h2.1v2.1h-2.1zM436.3 86.7h2.1v2.1h-2.1zM436.3 89.1h2.1v2.1h-2.1zM436.4 107.9h2.1v2.1h-2.1zM436.2 94.8h2.1v2.1h-2.1zM436.4 106.2h2.1v2.1h-2.1zM436.3 89.0h2.1v2.1h-2.1zM436.2 103.9h2.1v2.1h-2.1zM436.2 98.7h2.1v2.1h-2.1zM436.4 94.2h2.1v2.1h-2.1zM436.3 83.8h2.1v2.1h-2.1zM436.3 108.1h2.1v2.1h-2.1zM436.4 98.7h2.1v2.1h-2.1zM436.2 97.6h2.1v2.1h-2.1zM436.4 104.5h2.1v2.1h-2.1zM436.3 89.9h2.1v2.1h-2.1zM436.2 109.0h2.1v2.1h-2.1zM436.3 104.1h2.1v2.1h-2.1zM436.4 102.2h2.1v2.1h-2.1zM436.3 102.6h2.1v2.1h-2.1zM436.2 92.9h2.1v2.1h-2.1zM436.3 96.7h2.1v2.1h-2.1zM436.2 101.5h2.1v2.1h-2.1zM436.2 94.1h2.1v2.1h-2.1zM436.5 101.1h2.1v2.1h-2.1zM436.6 102.0h2.1v2.1h-2.1zM436.6 106.4h2.1v2.1h-2.1zM436.6 95.8h2.1v2.1h-2.1zM436.6 103.3h2.1v2.1h-2.1zM436.6 93.7h2.1v2.1h-2.1zM436.7 94.2h2.1v2.1h-2.1zM436.5 102.3h2.1v2.1h-2.1zM436.7 92.6h2.1v2.1h-2.1zM436.5 77.2h2.1v2.1h-2.1zM436.6 95.5h2.1v2.1h-2.1zM436.7 107.3h2.1v2.1h-2.1zM436.6 89.5h2.1v2.1h-2.1zM436.5 101.9h2.1v2.1h-2.1zM436.7 94.3h2.1v2.1h-2.1zM436.5 85.5h2.1v2.1h-2.1zM436.5 94.8h2.1v2.1h-2.1zM436.7 79.4h2.1v2.1h-2.1zM436.5 106.4h2.1v2.1h-2.1zM436.5 94.2h2.1v2.1h-2.1zM436.7 99.9h2.1v2.1h-2.1zM436.6 97.0h2.1v2.1h-2.1zM436.5 85.6h2.1v2.1h-2.1zM436.5 94.0h2.1v2.1h-2.1zM436.7 106.0h2.1v2.1h-2.1zM436.7 103.1h2.1v2.1h-2.1zM436.7 94.0h2.1v2.1h-2.1zM436.7 91.3h2.1v2.1h-2.1zM436.9 83.9h2.1v2.1h-2.1zM436.8 98.9h2.1v2.1h-2.1zM436.7 82.1h2.1v2.1h-2.1zM436.8 103.2h2.1v2.1h-2.1zM436.8 91.8h2.1v2.1h-2.1zM436.8 98.7h2.1v2.1h-2.1zM436.7 100.7h2.1v2.1h-2.1zM436.8 103.9h2.1v2.1h-2.1zM436.9 107.0h2.1v2.1h-2.1zM436.7 105.4h2.1v2.1h-2.1zM436.9 102.3h2.1v2.1h-2.1zM436.7 92.1h2.1v2.1h-2.1zM436.9 88.0h2.1v2.1h-2.1zM436.7 102.5h2.1v2.1h-2.1zM436.9 99.2h2.1v2.1h-2.1zM436.8 92.8h2.1v2.1h-2.1zM436.9 96.3h2.1v2.1h-2.1zM436.9 103.9h2.1v2.1h-2.1zM436.8 103.7h2.1v2.1h-2.1zM436.9 92.0h2.1v2.1h-2.1zM436.8 86.7h2.1v2.1h-2.1zM436.8 82.0h2.1v2.1h-2.1zM436.7 93.3h2.1v2.1h-2.1zM436.8 94.3h2.1v2.1h-2.1zM436.9 86.5h2.1v2.1h-2.1zM436.7 105.0h2.1v2.1h-2.1zM436.8 111.3h2.1v2.1h-2.1zM436.7 90.9h2.1v2.1h-2.1zM436.9 102.4h2.1v2.1h-2.1zM436.8 95.9h2.1v2.1h-2.1zM436.9 101.1h2.1v2.1h-2.1zM436.9 98.1h2.1v2.1h-2.1zM437.2 100.3h2.1v2.1h-2.1zM437.1 91.8h2.1v2.1h-2.1zM437.2 100.4h2.1v2.1h-2.1zM437.2 91.2h2.1v2.1h-2.1zM437.1 92.2h2.1v2.1h-2.1zM437.1 95.9h2.1v2.1h-2.1zM437.1 104.4h2.1v2.1h-2.1zM437.1 102.9h2.1v2.1h-2.1zM437.1 73.9h2.1v2.1h-2.1zM437.0 106.0h2.1v2.1h-2.1zM437.0 97.1h2.1v2.1h-2.1zM437.1 97.2h2.1v2.1h-2.1zM437.1 107.7h2.1v2.1h-2.1zM437.0 91.1h2.1v2.1h-2.1zM437.0 88.6h2.1v2.1h-2.1zM437.0 81.4h2.1v2.1h-2.1zM437.2 87.4h2.1v2.1h-2.1zM437.2 102.7h2.1v2.1h-2.1zM437.0 90.4h2.1v2.1h-2.1zM437.0 88.6h2.1v2.1h-2.1zM437.0 99.6h2.1v2.1h-2.1zM437.1 88.7h2.1v2.1h-2.1zM437.1 90.6h2.1v2.1h-2.1zM437.0 90.3h2.1v2.1h-2.1zM437.1 99.4h2.1v2.1h-2.1zM437.4 114.7h2.1v2.1h-2.1zM437.2 88.6h2.1v2.1h-2.1zM437.3 97.2h2.1v2.1h-2.1zM437.4 92.5h2.1v2.1h-2.1zM437.4 99.9h2.1v2.1h-2.1zM437.4 99.6h2.1v2.1h-2.1zM437.4 89.9h2.1v2.1h-2.1zM437.4 97.3h2.1v2.1h-2.1zM437.4 97.7h2.1v2.1h-2.1zM437.4 95.3h2.1v2.1h-2.1zM437.3 98.7h2.1v2.1h-2.1zM437.4 106.8h2.1v2.1h-2.1zM437.3 100.9h2.1v2.1h-2.1zM437.3 94.3h2.1v2.1h-2.1zM437.4 98.1h2.1v2.1h-2.1zM437.4 111.5h2.1v2.1h-2.1zM437.2 91.7h2.1v2.1h-2.1zM437.4 104.8h2.1v2.1h-2.1zM437.2 91.3h2.1v2.1h-2.1zM437.4 84.1h2.1v2.1h-2.1zM437.3 91.1h2.1v2.1h-2.1zM437.3 98.9h2.1v2.1h-2.1zM437.3 94.5h2.1v2.1h-2.1zM437.3 91.0h2.1v2.1h-2.1zM437.4 90.3h2.1v2.1h-2.1zM437.4 88.9h2.1v2.1h-2.1zM437.3 88.2h2.1v2.1h-2.1zM437.2 91.7h2.1v2.1h-2.1zM437.3 77.2h2.1v2.1h-2.1zM437.4 99.5h2.1v2.1h-2.1zM437.3 98.5h2.1v2.1h-2.1zM437.2 97.1h2.1v2.1h-2.1zM437.3 103.2h2.1v2.1h-2.1zM437.3 91.8h2.1v2.1h-2.1zM437.3 96.2h2.1v2.1h-2.1zM437.2 76.4h2.1v2.1h-2.1zM437.4 97.6h2.1v2.1h-2.1zM437.7 92.2h2.1v2.1h-2.1zM437.6 97.8h2.1v2.1h-2.1zM437.5 96.3h2.1v2.1h-2.1zM437.6 98.4h2.1v2.1h-2.1zM437.6 92.6h2.1v2.1h-2.1zM437.6 103.4h2.1v2.1h-2.1zM437.7 98.8h2.1v2.1h-2.1zM437.7 90.2h2.1v2.1h-2.1zM437.5 99.6h2.1v2.1h-2.1zM437.5 93.6h2.1v2.1h-2.1zM437.6 99.0h2.1v2.1h-2.1zM437.6 102.6h2.1v2.1h-2.1zM437.7 92.4h2.1v2.1h-2.1zM437.5 96.0h2.1v2.1h-2.1zM437.7 96.6h2.1v2.1h-2.1zM437.5 96.5h2.1v2.1h-2.1zM437.6 111.6h2.1v2.1h-2.1zM437.6 98.8h2.1v2.1h-2.1zM437.6 87.4h2.1v2.1h-2.1zM437.6 97.0h2.1v2.1h-2.1zM437.6 92.0h2.1v2.1h-2.1zM437.7 114.7h2.1v2.1h-2.1zM437.6 91.4h2.1v2.1h-2.1zM437.5 87.8h2.1v2.1h-2.1zM437.5 101.9h2.1v2.1h-2.1zM437.5 92.3h2.1v2.1h-2.1zM437.6 93.3h2.1v2.1h-2.1zM437.6 94.4h2.1v2.1h-2.1zM437.5 91.2h2.1v2.1h-2.1zM437.5 93.1h2.1v2.1h-2.1zM437.6 79.5h2.1v2.1h-2.1zM437.5 95.5h2.1v2.1h-2.1zM437.6 101.2h2.1v2.1h-2.1zM437.6 110.5h2.1v2.1h-2.1zM437.6 96.8h2.1v2.1h-2.1zM437.5 102.7h2.1v2.1h-2.1zM437.5 90.8h2.1v2.1h-2.1zM437.6 107.4h2.1v2.1h-2.1zM437.6 113.4h2.1v2.1h-2.1zM437.7 98.8h2.1v2.1h-2.1zM437.6 93.7h2.1v2.1h-2.1zM437.7 96.7h2.1v2.1h-2.1zM437.9 84.8h2.1v2.1h-2.1zM437.9 80.9h2.1v2.1h-2.1zM437.8 94.7h2.1v2.1h-2.1zM437.9 108.5h2.1v2.1h-2.1zM437.9 105.0h2.1v2.1h-2.1zM437.7 99.9h2.1v2.1h-2.1zM437.8 102.3h2.1v2.1h-2.1zM437.9 103.0h2.1v2.1h-2.1zM437.8 94.4h2.1v2.1h-2.1zM437.8 106.2h2.1v2.1h-2.1zM437.8 98.2h2.1v2.1h-2.1zM437.8 92.4h2.1v2.1h-2.1zM437.8 125.7h2.1v2.1h-2.1zM437.7 101.4h2.1v2.1h-2.1zM437.9 95.3h2.1v2.1h-2.1zM437.9 102.0h2.1v2.1h-2.1zM437.8 87.0h2.1v2.1h-2.1zM437.8 86.9h2.1v2.1h-2.1zM437.8 110.9h2.1v2.1h-2.1zM437.9 100.9h2.1v2.1h-2.1zM437.7 88.0h2.1v2.1h-2.1zM437.7 83.8h2.1v2.1h-2.1zM437.9 95.3h2.1v2.1h-2.1zM437.8 88.2h2.1v2.1h-2.1zM437.8 106.3h2.1v2.1h-2.1zM437.8 81.4h2.1v2.1h-2.1zM438.1 99.5h2.1v2.1h-2.1zM438.1 99.0h2.1v2.1h-2.1zM438.2 93.3h2.1v2.1h-2.1zM438.0 92.7h2.1v2.1h-2.1zM438.0 91.0h2.1v2.1h-2.1zM438.2 101.4h2.1v2.1h-2.1zM438.0 97.1h2.1v2.1h-2.1zM438.2 81.8h2.1v2.1h-2.1zM438.1 96.2h2.1v2.1h-2.1zM438.1 99.2h2.1v2.1h-2.1zM438.0 91.0h2.1v2.1h-2.1zM438.0 92.0h2.1v2.1h-2.1zM438.1 91.0h2.1v2.1h-2.1zM438.1 100.4h2.1v2.1h-2.1zM438.0 92.5h2.1v2.1h-2.1zM438.1 95.3h2.1v2.1h-2.1zM438.2 96.2h2.1v2.1h-2.1zM438.0 107.6h2.1v2.1h-2.1zM438.1 84.0h2.1v2.1h-2.1zM438.2 113.5h2.1v2.1h-2.1zM438.0 86.4h2.1v2.1h-2.1zM438.0 94.0h2.1v2.1h-2.1zM438.1 89.3h2.1v2.1h-2.1zM438.2 96.8h2.1v2.1h-2.1zM438.3 108.1h2.1v2.1h-2.1zM438.3 109.7h2.1v2.1h-2.1zM438.3 110.8h2.1v2.1h-2.1zM438.3 94.8h2.1v2.1h-2.1zM438.4 102.3h2.1v2.1h-2.1zM438.3 93.5h2.1v2.1h-2.1zM438.3 106.8h2.1v2.1h-2.1zM438.4 77.6h2.1v2.1h-2.1zM438.2 90.7h2.1v2.1h-2.1zM438.2 94.0h2.1v2.1h-2.1zM438.3 91.8h2.1v2.1h-2.1zM438.3 108.0h2.1v2.1h-2.1zM438.3 84.9h2.1v2.1h-2.1zM438.3 89.3h2.1v2.1h-2.1zM438.4 86.2h2.1v2.1h-2.1zM438.4 95.3h2.1v2.1h-2.1zM438.2 88.7h2.1v2.1h-2.1zM438.3 103.0h2.1v2.1h-2.1zM438.3 102.6h2.1v2.1h-2.1zM438.3 79.3h2.1v2.1h-2.1zM438.3 79.1h2.1v2.1h-2.1zM438.3 102.0h2.1v2.1h-2.1zM438.2 98.7h2.1v2.1h-2.1zM438.3 83.3h2.1v2.1h-2.1zM438.3 95.3h2.1v2.1h-2.1zM438.3 86.0h2.1v2.1h-2.1zM438.4 101.8h2.1v2.1h-2.1zM438.3 85.4h2.1v2.1h-2.1zM438.3 90.8h2.1v2.1h-2.1zM438.3 99.3h2.1v2.1h-2.1zM438.4 95.9h2.1v2.1h-2.1zM438.4 103.7h2.1v2.1h-2.1zM438.3 98.8h2.1v2.1h-2.1zM438.7 84.7h2.1v2.1h-2.1zM438.5 106.6h2.1v2.1h-2.1zM438.6 96.5h2.1v2.1h-2.1zM438.5 96.9h2.1v2.1h-2.1zM438.5 94.2h2.1v2.1h-2.1zM438.6 95.1h2.1v2.1h-2.1zM438.7 77.4h2.1v2.1h-2.1zM438.7 105.2h2.1v2.1h-2.1zM438.7 88.5h2.1v2.1h-2.1zM438.5 101.9h2.1v2.1h-2.1zM438.6 94.3h2.1v2.1h-2.1zM438.7 93.7h2.1v2.1h-2.1zM438.6 99.3h2.1v2.1h-2.1zM438.5 108.5h2.1v2.1h-2.1zM438.5 94.8h2.1v2.1h-2.1zM438.6 91.0h2.1v2.1h-2.1zM438.5 99.1h2.1v2.1h-2.1zM438.7 76.2h2.1v2.1h-2.1zM438.6 88.8h2.1v2.1h-2.1zM438.6 87.8h2.1v2.1h-2.1zM438.5 92.7h2.1v2.1h-2.1zM438.6 84.8h2.1v2.1h-2.1zM438.6 102.0h2.1v2.1h-2.1zM438.6 93.0h2.1v2.1h-2.1zM438.5 96.5h2.1v2.1h-2.1zM438.6 95.5h2.1v2.1h-2.1zM438.6 93.0h2.1v2.1h-2.1zM438.5 90.4h2.1v2.1h-2.1zM438.5 105.5h2.1v2.1h-2.1zM438.5 101.9h2.1v2.1h-2.1zM438.6 107.0h2.1v2.1h-2.1zM438.7 94.1h2.1v2.1h-2.1zM438.7 97.5h2.1v2.1h-2.1zM438.6 98.2h2.1v2.1h-2.1zM438.9 99.9h2.1v2.1h-2.1zM438.8 92.2h2.1v2.1h-2.1zM438.8 99.9h2.1v2.1h-2.1zM438.7 96.9h2.1v2.1h-2.1zM438.9 86.7h2.1v2.1h-2.1zM438.8 95.4h2.1v2.1h-2.1zM438.7 96.6h2.1v2.1h-2.1zM438.8 89.8h2.1v2.1h-2.1zM438.8 94.4h2.1v2.1h-2.1zM438.8 102.4h2.1v2.1h-2.1zM438.9 104.7h2.1v2.1h-2.1zM438.7 95.8h2.1v2.1h-2.1zM438.7 77.8h2.1v2.1h-2.1zM438.8 101.1h2.1v2.1h-2.1zM438.8 109.5h2.1v2.1h-2.1zM438.9 93.4h2.1v2.1h-2.1zM438.7 88.7h2.1v2.1h-2.1zM438.9 97.5h2.1v2.1h-2.1zM438.7 97.0h2.1v2.1h-2.1zM438.8 102.1h2.1v2.1h-2.1zM438.7 90.5h2.1v2.1h-2.1zM438.7 108.9h2.1v2.1h-2.1zM438.8 102.4h2.1v2.1h-2.1zM438.8 87.5h2.1v2.1h-2.1zM438.7 103.4h2.1v2.1h-2.1zM438.8 94.4h2.1v2.1h-2.1zM438.8 100.7h2.1v2.1h-2.1zM438.7 98.2h2.1v2.1h-2.1zM438.9 95.6h2.1v2.1h-2.1zM439.0 97.2h2.1v2.1h-2.1zM439.1 94.6h2.1v2.1h-2.1zM439.0 98.6h2.1v2.1h-2.1zM439.0 83.2h2.1v2.1h-2.1zM439.1 102.7h2.1v2.1h-2.1zM439.0 99.1h2.1v2.1h-2.1zM439.1 103.7h2.1v2.1h-2.1zM439.1 79.2h2.1v2.1h-2.1zM439.1 97.0h2.1v2.1h-2.1zM439.2 94.0h2.1v2.1h-2.1zM439.0 77.5h2.1v2.1h-2.1zM439.0 92.6h2.1v2.1h-2.1zM439.2 95.5h2.1v2.1h-2.1zM439.0 89.1h2.1v2.1h-2.1zM439.1 98.0h2.1v2.1h-2.1zM439.0 99.5h2.1v2.1h-2.1zM439.2 91.6h2.1v2.1h-2.1zM439.1 92.4h2.1v2.1h-2.1zM439.2 100.9h2.1v2.1h-2.1zM439.1 87.5h2.1v2.1h-2.1zM439.0 99.1h2.1v2.1h-2.1zM439.0 105.4h2.1v2.1h-2.1zM439.0 94.9h2.1v2.1h-2.1zM439.1 98.0h2.1v2.1h-2.1zM439.1 95.3h2.1v2.1h-2.1zM439.0 101.5h2.1v2.1h-2.1zM439.1 83.5h2.1v2.1h-2.1zM439.0 82.0h2.1v2.1h-2.1zM439.2 88.4h2.1v2.1h-2.1zM439.1 90.3h2.1v2.1h-2.1zM439.0 102.6h2.1v2.1h-2.1zM439.0 105.7h2.1v2.1h-2.1zM439.1 99.5h2.1v2.1h-2.1zM439.1 104.7h2.1v2.1h-2.1zM439.1 91.9h2.1v2.1h-2.1zM439.2 90.9h2.1v2.1h-2.1zM439.0 83.3h2.1v2.1h-2.1zM439.0 104.1h2.1v2.1h-2.1zM439.1 99.2h2.1v2.1h-2.1zM439.0 94.8h2.1v2.1h-2.1zM439.2 84.6h2.1v2.1h-2.1zM439.1 87.2h2.1v2.1h-2.1zM439.1 98.8h2.1v2.1h-2.1zM439.0 95.1h2.1v2.1h-2.1zM439.2 103.4h2.1v2.1h-2.1zM439.0 96.5h2.1v2.1h-2.1zM439.1 89.6h2.1v2.1h-2.1zM439.0 86.0h2.1v2.1h-2.1zM439.0 95.0h2.1v2.1h-2.1zM439.4 76.4h2.1v2.1h-2.1zM439.4 97.0h2.1v2.1h-2.1zM439.4 85.7h2.1v2.1h-2.1zM439.2 102.2h2.1v2.1h-2.1zM439.3 104.7h2.1v2.1h-2.1zM439.4 103.5h2.1v2.1h-2.1zM439.3 101.1h2.1v2.1h-2.1zM439.4 103.7h2.1v2.1h-2.1zM439.4 108.7h2.1v2.1h-2.1zM439.3 91.1h2.1v2.1h-2.1zM439.2 107.3h2.1v2.1h-2.1zM439.4 92.6h2.1v2.1h-2.1zM439.4 84.5h2.1v2.1h-2.1zM439.4 99.7h2.1v2.1h-2.1zM439.3 101.1h2.1v2.1h-2.1zM439.3 97.7h2.1v2.1h-2.1zM439.3 90.3h2.1v2.1h-2.1zM439.2 100.0h2.1v2.1h-2.1zM439.3 93.5h2.1v2.1h-2.1zM439.4 114.1h2.1v2.1h-2.1zM439.3 98.0h2.1v2.1h-2.1zM439.4 98.4h2.1v2.1h-2.1zM439.3 91.4h2.1v2.1h-2.1zM439.2 100.1h2.1v2.1h-2.1zM439.2 108.3h2.1v2.1h-2.1zM439.2 89.9h2.1v2.1h-2.1zM439.6 90.9h2.1v2.1h-2.1zM439.5 94.4h2.1v2.1h-2.1zM439.6 87.9h2.1v2.1h-2.1zM439.7 71.8h2.1v2.1h-2.1zM439.6 106.4h2.1v2.1h-2.1zM439.6 100.4h2.1v2.1h-2.1zM439.6 98.1h2.1v2.1h-2.1zM439.5 94.7h2.1v2.1h-2.1zM439.5 97.3h2.1v2.1h-2.1zM439.6 92.5h2.1v2.1h-2.1zM439.5 95.9h2.1v2.1h-2.1zM439.6 105.6h2.1v2.1h-2.1zM439.7 90.1h2.1v2.1h-2.1zM439.6 88.3h2.1v2.1h-2.1zM439.6 109.3h2.1v2.1h-2.1zM439.6 91.2h2.1v2.1h-2.1zM439.6 96.7h2.1v2.1h-2.1zM439.5 93.7h2.1v2.1h-2.1zM439.6 99.5h2.1v2.1h-2.1zM439.6 99.9h2.1v2.1h-2.1zM439.5 96.0h2.1v2.1h-2.1zM439.5 87.7h2.1v2.1h-2.1zM439.6 87.8h2.1v2.1h-2.1zM439.6 95.5h2.1v2.1h-2.1zM439.5 109.0h2.1v2.1h-2.1zM439.6 81.3h2.1v2.1h-2.1zM439.7 94.1h2.1v2.1h-2.1zM439.5 98.6h2.1v2.1h-2.1zM439.6 90.6h2.1v2.1h-2.1zM439.7 94.3h2.1v2.1h-2.1zM439.8 92.3h2.1v2.1h-2.1zM439.7 86.0h2.1v2.1h-2.1zM439.9 84.9h2.1v2.1h-2.1zM439.8 104.6h2.1v2.1h-2.1zM439.9 82.8h2.1v2.1h-2.1zM439.8 100.1h2.1v2.1h-2.1zM439.8 95.2h2.1v2.1h-2.1zM439.7 104.0h2.1v2.1h-2.1zM439.9 82.0h2.1v2.1h-2.1zM439.8 95.3h2.1v2.1h-2.1zM439.7 104.0h2.1v2.1h-2.1zM439.8 93.2h2.1v2.1h-2.1zM439.9 83.6h2.1v2.1h-2.1zM439.7 79.6h2.1v2.1h-2.1zM439.8 89.1h2.1v2.1h-2.1zM439.7 102.2h2.1v2.1h-2.1zM439.9 106.0h2.1v2.1h-2.1zM439.7 95.0h2.1v2.1h-2.1zM439.7 101.3h2.1v2.1h-2.1zM439.7 102.2h2.1v2.1h-2.1zM439.9 99.0h2.1v2.1h-2.1zM439.8 88.1h2.1v2.1h-2.1zM439.9 99.9h2.1v2.1h-2.1zM439.7 86.9h2.1v2.1h-2.1zM439.8 95.4h2.1v2.1h-2.1zM439.9 100.5h2.1v2.1h-2.1zM439.8 102.7h2.1v2.1h-2.1zM439.7 93.7h2.1v2.1h-2.1zM440.1 91.4h2.1v2.1h-2.1zM440.1 94.2h2.1v2.1h-2.1zM440.2 95.8h2.1v2.1h-2.1zM440.0 104.8h2.1v2.1h-2.1zM440.0 96.7h2.1v2.1h-2.1zM440.2 105.2h2.1v2.1h-2.1zM440.1 91.4h2.1v2.1h-2.1zM440.0 86.3h2.1v2.1h-2.1zM440.0 101.1h2.1v2.1h-2.1zM440.1 85.9h2.1v2.1h-2.1zM440.0 82.6h2.1v2.1h-2.1zM440.1 90.2h2.1v2.1h-2.1zM440.1 97.0h2.1v2.1h-2.1zM440.0 102.7h2.1v2.1h-2.1zM440.1 94.5h2.1v2.1h-2.1zM440.1 101.2h2.1v2.1h-2.1zM440.1 94.2h2.1v2.1h-2.1zM440.2 82.0h2.1v2.1h-2.1zM440.1 86.1h2.1v2.1h-2.1zM440.2 81.7h2.1v2.1h-2.1zM440.0 92.9h2.1v2.1h-2.1zM440.0 78.6h2.1v2.1h-2.1zM440.3 90.8h2.1v2.1h-2.1zM440.3 96.6h2.1v2.1h-2.1zM440.4 97.1h2.1v2.1h-2.1zM440.2 96.3h2.1v2.1h-2.1zM440.4 99.8h2.1v2.1h-2.1zM440.4 80.2h2.1v2.1h-2.1zM440.2 89.5h2.1v2.1h-2.1zM440.3 91.8h2.1v2.1h-2.1zM440.4 87.3h2.1v2.1h-2.1zM440.2 96.0h2.1v2.1h-2.1zM440.2 98.0h2.1v2.1h-2.1zM440.2 95.9h2.1v2.1h-2.1zM440.4 94.3h2.1v2.1h-2.1zM440.3 110.9h2.1v2.1h-2.1zM440.3 94.1h2.1v2.1h-2.1zM440.3 93.7h2.1v2.1h-2.1zM440.3 102.7h2.1v2.1h-2.1zM440.2 107.3h2.1v2.1h-2.1zM440.3 86.8h2.1v2.1h-2.1zM440.4 86.1h2.1v2.1h-2.1zM440.3 103.8h2.1v2.1h-2.1zM440.4 101.9h2.1v2.1h-2.1zM440.3 100.0h2.1v2.1h-2.1zM440.2 91.8h2.1v2.1h-2.1zM440.4 98.5h2.1v2.1h-2.1zM440.3 83.1h2.1v2.1h-2.1zM440.4 85.0h2.1v2.1h-2.1zM440.5 90.5h2.1v2.1h-2.1zM440.6 107.2h2.1v2.1h-2.1zM440.6 100.1h2.1v2.1h-2.1zM440.7 103.9h2.1v2.1h-2.1zM440.5 93.4h2.1v2.1h-2.1zM440.5 95.2h2.1v2.1h-2.1zM440.5 87.3h2.1v2.1h-2.1zM440.6 80.0h2.1v2.1h-2.1zM440.5 81.5h2.1v2.1h-2.1zM440.7 90.4h2.1v2.1h-2.1zM440.6 96.7h2.1v2.1h-2.1zM440.5 110.0h2.1v2.1h-2.1zM440.6 92.6h2.1v2.1h-2.1zM440.5 81.8h2.1v2.1h-2.1zM440.7 90.3h2.1v2.1h-2.1zM440.5 97.0h2.1v2.1h-2.1zM440.6 84.5h2.1v2.1h-2.1zM440.5 89.7h2.1v2.1h-2.1zM440.5 97.0h2.1v2.1h-2.1zM440.5 94.2h2.1v2.1h-2.1zM440.7 96.4h2.1v2.1h-2.1zM440.6 93.7h2.1v2.1h-2.1zM440.7 93.1h2.1v2.1h-2.1zM440.6 103.5h2.1v2.1h-2.1zM440.5 100.2h2.1v2.1h-2.1zM440.6 95.2h2.1v2.1h-2.1zM440.5 97.4h2.1v2.1h-2.1zM440.5 93.0h2.1v2.1h-2.1zM440.5 93.1h2.1v2.1h-2.1zM440.6 96.4h2.1v2.1h-2.1zM440.5 95.1h2.1v2.1h-2.1zM440.5 112.6h2.1v2.1h-2.1zM440.9 98.7h2.1v2.1h-2.1zM440.7 96.2h2.1v2.1h-2.1zM440.8 90.7h2.1v2.1h-2.1zM440.8 93.1h2.1v2.1h-2.1zM440.9 103.1h2.1v2.1h-2.1zM440.8 91.6h2.1v2.1h-2.1zM440.8 94.0h2.1v2.1h-2.1zM440.9 105.2h2.1v2.1h-2.1zM440.9 98.2h2.1v2.1h-2.1zM440.8 98.6h2.1v2.1h-2.1zM440.9 86.9h2.1v2.1h-2.1zM440.9 86.8h2.1v2.1h-2.1zM440.9 95.6h2.1v2.1h-2.1zM440.8 109.2h2.1v2.1h-2.1zM440.9 80.2h2.1v2.1h-2.1zM440.7 81.1h2.1v2.1h-2.1zM440.9 97.6h2.1v2.1h-2.1zM440.8 95.4h2.1v2.1h-2.1zM440.8 86.3h2.1v2.1h-2.1zM440.9 100.1h2.1v2.1h-2.1zM440.7 95.0h2.1v2.1h-2.1zM440.8 89.9h2.1v2.1h-2.1zM440.8 92.8h2.1v2.1h-2.1zM440.9 89.3h2.1v2.1h-2.1zM440.9 95.6h2.1v2.1h-2.1zM440.7 88.3h2.1v2.1h-2.1zM440.8 85.0h2.1v2.1h-2.1zM440.9 88.0h2.1v2.1h-2.1zM440.9 96.1h2.1v2.1h-2.1zM441.0 83.4h2.1v2.1h-2.1zM441.2 90.4h2.1v2.1h-2.1zM441.2 89.6h2.1v2.1h-2.1zM441.0 101.2h2.1v2.1h-2.1zM441.1 95.8h2.1v2.1h-2.1zM441.0 97.3h2.1v2.1h-2.1zM441.0 80.4h2.1v2.1h-2.1zM441.1 89.4h2.1v2.1h-2.1zM441.2 100.8h2.1v2.1h-2.1zM441.0 89.6h2.1v2.1h-2.1zM441.0 84.2h2.1v2.1h-2.1zM441.0 94.9h2.1v2.1h-2.1zM441.2 88.9h2.1v2.1h-2.1zM441.0 93.4h2.1v2.1h-2.1zM441.1 95.9h2.1v2.1h-2.1zM441.0 86.1h2.1v2.1h-2.1zM441.0 93.0h2.1v2.1h-2.1zM441.0 103.4h2.1v2.1h-2.1zM441.0 91.5h2.1v2.1h-2.1zM441.2 91.7h2.1v2.1h-2.1zM441.1 89.2h2.1v2.1h-2.1zM441.1 95.8h2.1v2.1h-2.1zM441.0 97.2h2.1v2.1h-2.1zM441.0 87.0h2.1v2.1h-2.1zM441.0 94.4h2.1v2.1h-2.1zM441.0 105.8h2.1v2.1h-2.1zM441.2 81.2h2.1v2.1h-2.1zM441.0 100.8h2.1v2.1h-2.1zM441.0 100.1h2.1v2.1h-2.1zM441.0 82.2h2.1v2.1h-2.1zM441.1 81.2h2.1v2.1h-2.1zM441.0 89.3h2.1v2.1h-2.1zM441.0 103.7h2.1v2.1h-2.1zM441.0 88.7h2.1v2.1h-2.1zM441.1 93.6h2.1v2.1h-2.1zM441.0 94.3h2.1v2.1h-2.1zM441.1 92.7h2.1v2.1h-2.1zM441.1 108.0h2.1v2.1h-2.1zM441.2 95.3h2.1v2.1h-2.1zM441.0 84.7h2.1v2.1h-2.1zM441.1 95.5h2.1v2.1h-2.1zM441.2 98.0h2.1v2.1h-2.1zM441.1 85.3h2.1v2.1h-2.1zM441.2 95.6h2.1v2.1h-2.1zM441.3 100.8h2.1v2.1h-2.1zM441.3 97.5h2.1v2.1h-2.1zM441.3 101.4h2.1v2.1h-2.1zM441.3 86.3h2.1v2.1h-2.1zM441.3 91.2h2.1v2.1h-2.1zM441.4 93.3h2.1v2.1h-2.1zM441.2 95.9h2.1v2.1h-2.1zM441.4 97.4h2.1v2.1h-2.1zM441.3 100.5h2.1v2.1h-2.1zM441.3 90.2h2.1v2.1h-2.1zM441.2 85.4h2.1v2.1h-2.1zM441.3 89.9h2.1v2.1h-2.1zM441.2 91.8h2.1v2.1h-2.1zM441.2 89.9h2.1v2.1h-2.1zM441.3 86.3h2.1v2.1h-2.1zM441.4 99.6h2.1v2.1h-2.1zM441.3 100.4h2.1v2.1h-2.1zM441.3 100.6h2.1v2.1h-2.1zM441.4 98.9h2.1v2.1h-2.1zM441.3 97.2h2.1v2.1h-2.1zM441.4 89.8h2.1v2.1h-2.1zM441.3 90.2h2.1v2.1h-2.1zM441.5 95.2h2.1v2.1h-2.1zM441.6 89.2h2.1v2.1h-2.1zM441.6 87.0h2.1v2.1h-2.1zM441.5 78.9h2.1v2.1h-2.1zM441.5 96.8h2.1v2.1h-2.1zM441.5 103.6h2.1v2.1h-2.1zM441.6 93.3h2.1v2.1h-2.1zM441.5 102.2h2.1v2.1h-2.1zM441.6 83.2h2.1v2.1h-2.1zM441.6 91.6h2.1v2.1h-2.1zM441.6 91.9h2.1v2.1h-2.1zM441.6 98.5h2.1v2.1h-2.1zM441.6 93.4h2.1v2.1h-2.1zM441.7 97.0h2.1v2.1h-2.1zM441.6 104.1h2.1v2.1h-2.1zM441.6 84.8h2.1v2.1h-2.1zM441.7 92.1h2.1v2.1h-2.1zM441.6 95.9h2.1v2.1h-2.1zM441.7 88.0h2.1v2.1h-2.1zM441.7 95.7h2.1v2.1h-2.1zM441.5 80.0h2.1v2.1h-2.1zM441.5 85.5h2.1v2.1h-2.1zM441.5 91.1h2.1v2.1h-2.1zM441.5 79.6h2.1v2.1h-2.1zM441.5 109.2h2.1v2.1h-2.1zM441.6 106.9h2.1v2.1h-2.1zM441.7 102.2h2.1v2.1h-2.1zM441.7 99.1h2.1v2.1h-2.1zM441.6 99.7h2.1v2.1h-2.1zM441.7 90.9h2.1v2.1h-2.1zM441.5 91.3h2.1v2.1h-2.1zM441.5 77.8h2.1v2.1h-2.1zM441.7 99.8h2.1v2.1h-2.1zM441.7 91.5h2.1v2.1h-2.1zM441.5 78.2h2.1v2.1h-2.1zM441.6 86.7h2.1v2.1h-2.1zM441.5 96.7h2.1v2.1h-2.1zM441.9 88.4h2.1v2.1h-2.1zM441.7 85.2h2.1v2.1h-2.1zM441.9 84.5h2.1v2.1h-2.1zM441.9 90.4h2.1v2.1h-2.1zM441.7 87.9h2.1v2.1h-2.1zM441.9 102.2h2.1v2.1h-2.1zM441.7 92.5h2.1v2.1h-2.1zM441.7 92.0h2.1v2.1h-2.1zM441.8 98.7h2.1v2.1h-2.1zM441.9 91.8h2.1v2.1h-2.1zM441.8 92.3h2.1v2.1h-2.1zM441.7 101.2h2.1v2.1h-2.1zM441.9 99.5h2.1v2.1h-2.1zM441.8 91.0h2.1v2.1h-2.1zM441.7 82.8h2.1v2.1h-2.1zM441.8 88.0h2.1v2.1h-2.1zM441.9 96.5h2.1v2.1h-2.1zM441.8 80.4h2.1v2.1h-2.1zM441.9 90.1h2.1v2.1h-2.1zM441.9 92.1h2.1v2.1h-2.1zM441.9 81.3h2.1v2.1h-2.1zM441.7 101.5h2.1v2.1h-2.1zM441.8 90.7h2.1v2.1h-2.1zM441.7 81.2h2.1v2.1h-2.1zM441.8 85.1h2.1v2.1h-2.1zM441.8 95.7h2.1v2.1h-2.1zM441.8 102.7h2.1v2.1h-2.1zM441.8 94.7h2.1v2.1h-2.1zM441.8 94.0h2.1v2.1h-2.1zM441.8 91.1h2.1v2.1h-2.1zM441.9 104.4h2.1v2.1h-2.1zM441.9 102.0h2.1v2.1h-2.1zM441.7 80.8h2.1v2.1h-2.1zM441.8 92.8h2.1v2.1h-2.1zM441.8 96.9h2.1v2.1h-2.1zM441.9 91.1h2.1v2.1h-2.1zM442.1 93.3h2.1v2.1h-2.1zM442.0 96.1h2.1v2.1h-2.1zM442.1 91.0h2.1v2.1h-2.1zM442.1 95.0h2.1v2.1h-2.1zM442.0 94.5h2.1v2.1h-2.1zM442.1 102.1h2.1v2.1h-2.1zM442.2 88.0h2.1v2.1h-2.1zM442.2 92.9h2.1v2.1h-2.1zM442.1 94.9h2.1v2.1h-2.1zM442.1 87.1h2.1v2.1h-2.1zM442.2 89.9h2.1v2.1h-2.1zM442.0 92.3h2.1v2.1h-2.1zM442.1 81.7h2.1v2.1h-2.1zM442.1 88.9h2.1v2.1h-2.1zM442.0 84.2h2.1v2.1h-2.1zM442.0 88.7h2.1v2.1h-2.1zM442.1 87.4h2.1v2.1h-2.1zM442.0 88.9h2.1v2.1h-2.1zM442.1 97.5h2.1v2.1h-2.1zM442.0 101.6h2.1v2.1h-2.1zM442.2 98.4h2.1v2.1h-2.1zM442.0 86.5h2.1v2.1h-2.1zM442.1 94.7h2.1v2.1h-2.1zM442.1 83.1h2.1v2.1h-2.1zM442.0 96.5h2.1v2.1h-2.1zM442.0 97.8h2.1v2.1h-2.1zM442.2 89.8h2.1v2.1h-2.1zM442.4 93.5h2.1v2.1h-2.1zM442.4 92.9h2.1v2.1h-2.1zM442.4 86.8h2.1v2.1h-2.1zM442.3 94.4h2.1v2.1h-2.1zM442.4 93.6h2.1v2.1h-2.1zM442.3 84.8h2.1v2.1h-2.1zM442.3 96.6h2.1v2.1h-2.1zM442.2 88.7h2.1v2.1h-2.1zM442.3 76.6h2.1v2.1h-2.1zM442.3 90.6h2.1v2.1h-2.1zM442.4 95.6h2.1v2.1h-2.1zM442.3 95.2h2.1v2.1h-2.1zM442.2 93.0h2.1v2.1h-2.1zM442.4 91.5h2.1v2.1h-2.1zM442.2 96.8h2.1v2.1h-2.1zM442.4 96.0h2.1v2.1h-2.1zM442.3 78.7h2.1v2.1h-2.1zM442.4 86.6h2.1v2.1h-2.1zM442.3 92.7h2.1v2.1h-2.1zM442.4 91.3h2.1v2.1h-2.1zM442.3 97.9h2.1v2.1h-2.1zM442.2 99.3h2.1v2.1h-2.1zM442.3 93.0h2.1v2.1h-2.1zM442.2 89.3h2.1v2.1h-2.1zM442.4 104.4h2.1v2.1h-2.1zM442.2 85.8h2.1v2.1h-2.1zM442.6 83.7h2.1v2.1h-2.1zM442.6 92.9h2.1v2.1h-2.1zM442.5 79.2h2.1v2.1h-2.1zM442.5 99.9h2.1v2.1h-2.1zM442.7 81.8h2.1v2.1h-2.1zM442.6 83.5h2.1v2.1h-2.1zM442.5 90.9h2.1v2.1h-2.1zM442.7 95.8h2.1v2.1h-2.1zM442.6 82.4h2.1v2.1h-2.1zM442.6 91.2h2.1v2.1h-2.1zM442.5 96.0h2.1v2.1h-2.1zM442.7 92.0h2.1v2.1h-2.1zM442.5 86.5h2.1v2.1h-2.1zM442.7 95.2h2.1v2.1h-2.1zM442.5 100.2h2.1v2.1h-2.1zM442.6 108.9h2.1v2.1h-2.1zM442.5 101.5h2.1v2.1h-2.1zM442.6 79.6h2.1v2.1h-2.1zM442.7 101.4h2.1v2.1h-2.1zM442.6 99.6h2.1v2.1h-2.1zM442.6 94.2h2.1v2.1h-2.1zM442.5 97.2h2.1v2.1h-2.1zM442.7 100.2h2.1v2.1h-2.1zM442.5 90.3h2.1v2.1h-2.1zM442.6 83.1h2.1v2.1h-2.1zM442.5 90.3h2.1v2.1h-2.1zM442.5 97.0h2.1v2.1h-2.1zM442.5 88.1h2.1v2.1h-2.1zM442.5 87.4h2.1v2.1h-2.1zM442.5 82.9h2.1v2.1h-2.1zM442.5 96.1h2.1v2.1h-2.1zM442.7 84.2h2.1v2.1h-2.1zM442.6 90.6h2.1v2.1h-2.1zM442.7 86.7h2.1v2.1h-2.1zM442.6 101.6h2.1v2.1h-2.1zM442.8 94.5h2.1v2.1h-2.1zM442.9 84.2h2.1v2.1h-2.1zM442.9 87.0h2.1v2.1h-2.1zM442.9 81.4h2.1v2.1h-2.1zM442.8 96.5h2.1v2.1h-2.1zM442.8 91.2h2.1v2.1h-2.1zM442.7 98.7h2.1v2.1h-2.1zM442.8 86.8h2.1v2.1h-2.1zM442.9 83.2h2.1v2.1h-2.1zM442.9 100.0h2.1v2.1h-2.1zM442.9 98.0h2.1v2.1h-2.1zM442.9 81.2h2.1v2.1h-2.1zM442.8 99.7h2.1v2.1h-2.1zM442.8 86.7h2.1v2.1h-2.1zM442.7 103.1h2.1v2.1h-2.1zM442.9 95.6h2.1v2.1h-2.1zM442.9 87.5h2.1v2.1h-2.1zM442.9 90.2h2.1v2.1h-2.1zM442.9 90.7h2.1v2.1h-2.1zM442.9 70.3h2.1v2.1h-2.1zM442.9 96.8h2.1v2.1h-2.1zM442.8 89.7h2.1v2.1h-2.1zM442.9 97.4h2.1v2.1h-2.1zM442.9 71.3h2.1v2.1h-2.1zM442.8 97.1h2.1v2.1h-2.1zM442.9 92.1h2.1v2.1h-2.1zM442.9 83.7h2.1v2.1h-2.1zM442.9 106.3h2.1v2.1h-2.1zM442.8 97.9h2.1v2.1h-2.1zM443.0 93.0h2.1v2.1h-2.1zM443.2 87.6h2.1v2.1h-2.1zM443.2 87.9h2.1v2.1h-2.1zM443.0 82.3h2.1v2.1h-2.1zM443.1 87.9h2.1v2.1h-2.1zM443.1 103.7h2.1v2.1h-2.1zM443.1 90.4h2.1v2.1h-2.1zM443.2 84.5h2.1v2.1h-2.1zM443.0 87.0h2.1v2.1h-2.1zM443.1 86.2h2.1v2.1h-2.1zM443.2 90.8h2.1v2.1h-2.1zM443.0 85.6h2.1v2.1h-2.1zM443.1 100.2h2.1v2.1h-2.1zM443.0 85.7h2.1v2.1h-2.1zM443.1 89.8h2.1v2.1h-2.1zM443.0 102.5h2.1v2.1h-2.1zM443.1 91.5h2.1v2.1h-2.1zM443.0 101.0h2.1v2.1h-2.1zM443.1 90.3h2.1v2.1h-2.1zM443.0 97.5h2.1v2.1h-2.1zM443.1 107.5h2.1v2.1h-2.1zM443.1 85.0h2.1v2.1h-2.1zM443.1 95.5h2.1v2.1h-2.1zM443.1 83.6h2.1v2.1h-2.1zM443.1 91.4h2.1v2.1h-2.1zM443.3 81.5h2.1v2.1h-2.1zM443.3 87.3h2.1v2.1h-2.1zM443.3 88.7h2.1v2.1h-2.1zM443.3 97.3h2.1v2.1h-2.1zM443.4 85.8h2.1v2.1h-2.1zM443.3 88.9h2.1v2.1h-2.1zM443.3 83.8h2.1v2.1h-2.1zM443.3 84.2h2.1v2.1h-2.1zM443.3 86.5h2.1v2.1h-2.1zM443.3 115.7h2.1v2.1h-2.1zM443.3 99.7h2.1v2.1h-2.1zM443.4 93.9h2.1v2.1h-2.1zM443.4 93.4h2.1v2.1h-2.1zM443.3 80.1h2.1v2.1h-2.1zM443.4 84.0h2.1v2.1h-2.1zM443.3 97.0h2.1v2.1h-2.1zM443.4 91.5h2.1v2.1h-2.1zM443.3 99.6h2.1v2.1h-2.1zM443.4 91.4h2.1v2.1h-2.1zM443.3 95.6h2.1v2.1h-2.1zM443.3 92.3h2.1v2.1h-2.1zM443.3 95.4h2.1v2.1h-2.1zM443.4 94.1h2.1v2.1h-2.1zM443.4 99.5h2.1v2.1h-2.1zM443.2 87.6h2.1v2.1h-2.1zM443.3 89.8h2.1v2.1h-2.1zM443.2 86.5h2.1v2.1h-2.1zM443.4 91.3h2.1v2.1h-2.1zM443.3 94.9h2.1v2.1h-2.1zM443.2 92.1h2.1v2.1h-2.1zM443.4 76.9h2.1v2.1h-2.1zM443.4 86.2h2.1v2.1h-2.1zM443.3 87.5h2.1v2.1h-2.1zM443.4 88.9h2.1v2.1h-2.1zM443.2 86.8h2.1v2.1h-2.1zM443.3 88.7h2.1v2.1h-2.1zM443.2 98.3h2.1v2.1h-2.1zM443.3 95.8h2.1v2.1h-2.1zM443.3 102.0h2.1v2.1h-2.1zM443.4 79.3h2.1v2.1h-2.1zM443.4 83.6h2.1v2.1h-2.1zM443.7 90.8h2.1v2.1h-2.1zM443.6 73.9h2.1v2.1h-2.1zM443.7 98.4h2.1v2.1h-2.1zM443.5 96.5h2.1v2.1h-2.1zM443.5 88.7h2.1v2.1h-2.1zM443.5 89.0h2.1v2.1h-2.1zM443.7 83.0h2.1v2.1h-2.1zM443.5 85.8h2.1v2.1h-2.1zM443.5 93.1h2.1v2.1h-2.1zM443.7 93.4h2.1v2.1h-2.1zM443.5 96.8h2.1v2.1h-2.1zM443.5 99.9h2.1v2.1h-2.1zM443.5 98.7h2.1v2.1h-2.1zM443.5 94.3h2.1v2.1h-2.1zM443.6 93.8h2.1v2.1h-2.1zM443.5 89.8h2.1v2.1h-2.1zM443.5 100.5h2.1v2.1h-2.1zM443.6 85.8h2.1v2.1h-2.1zM443.6 85.4h2.1v2.1h-2.1zM443.7 93.7h2.1v2.1h-2.1zM443.5 80.6h2.1v2.1h-2.1zM443.5 89.0h2.1v2.1h-2.1zM443.7 79.9h2.1v2.1h-2.1zM443.5 84.9h2.1v2.1h-2.1zM443.5 117.4h2.1v2.1h-2.1zM443.8 78.0h2.1v2.1h-2.1zM443.9 75.1h2.1v2.1h-2.1zM443.9 89.8h2.1v2.1h-2.1zM443.8 87.9h2.1v2.1h-2.1zM443.9 105.6h2.1v2.1h-2.1zM443.8 85.7h2.1v2.1h-2.1zM443.8 84.0h2.1v2.1h-2.1zM443.9 97.1h2.1v2.1h-2.1zM443.9 76.0h2.1v2.1h-2.1zM443.9 91.7h2.1v2.1h-2.1zM443.8 81.5h2.1v2.1h-2.1zM443.7 70.4h2.1v2.1h-2.1zM443.9 77.6h2.1v2.1h-2.1zM443.7 90.0h2.1v2.1h-2.1zM443.8 91.0h2.1v2.1h-2.1zM443.8 89.0h2.1v2.1h-2.1zM443.8 84.1h2.1v2.1h-2.1zM443.8 91.3h2.1v2.1h-2.1zM443.9 92.9h2.1v2.1h-2.1zM443.9 91.2h2.1v2.1h-2.1zM443.9 103.0h2.1v2.1h-2.1zM443.8 98.1h2.1v2.1h-2.1zM443.7 84.0h2.1v2.1h-2.1zM443.7 86.0h2.1v2.1h-2.1zM443.7 83.9h2.1v2.1h-2.1zM443.8 91.9h2.1v2.1h-2.1zM443.8 98.5h2.1v2.1h-2.1zM443.8 102.6h2.1v2.1h-2.1zM444.1 88.0h2.1v2.1h-2.1zM444.0 81.0h2.1v2.1h-2.1zM444.1 98.9h2.1v2.1h-2.1zM444.1 73.7h2.1v2.1h-2.1zM444.2 88.1h2.1v2.1h-2.1zM444.0 99.6h2.1v2.1h-2.1zM444.0 102.4h2.1v2.1h-2.1zM444.0 90.4h2.1v2.1h-2.1zM444.0 90.3h2.1v2.1h-2.1zM444.2 89.8h2.1v2.1h-2.1zM444.2 88.7h2.1v2.1h-2.1zM444.0 90.1h2.1v2.1h-2.1zM444.0 101.3h2.1v2.1h-2.1zM444.1 94.5h2.1v2.1h-2.1zM444.1 103.6h2.1v2.1h-2.1zM444.1 95.0h2.1v2.1h-2.1zM444.1 88.1h2.1v2.1h-2.1zM444.0 89.0h2.1v2.1h-2.1zM444.1 107.1h2.1v2.1h-2.1zM444.0 86.4h2.1v2.1h-2.1zM444.0 98.6h2.1v2.1h-2.1zM444.0 83.8h2.1v2.1h-2.1zM444.1 94.9h2.1v2.1h-2.1zM444.1 88.2h2.1v2.1h-2.1zM444.1 87.6h2.1v2.1h-2.1zM444.2 84.4h2.1v2.1h-2.1zM444.1 85.3h2.1v2.1h-2.1zM444.0 92.1h2.1v2.1h-2.1zM444.1 101.2h2.1v2.1h-2.1zM444.2 93.7h2.1v2.1h-2.1zM444.2 91.7h2.1v2.1h-2.1zM444.4 90.0h2.1v2.1h-2.1zM444.3 86.7h2.1v2.1h-2.1zM444.4 86.0h2.1v2.1h-2.1zM444.2 85.3h2.1v2.1h-2.1zM444.3 95.9h2.1v2.1h-2.1zM444.4 79.6h2.1v2.1h-2.1zM444.2 79.6h2.1v2.1h-2.1zM444.4 92.4h2.1v2.1h-2.1zM444.2 101.4h2.1v2.1h-2.1zM444.2 93.1h2.1v2.1h-2.1zM444.3 89.2h2.1v2.1h-2.1zM444.4 106.3h2.1v2.1h-2.1zM444.3 92.9h2.1v2.1h-2.1zM444.2 86.3h2.1v2.1h-2.1zM444.2 91.9h2.1v2.1h-2.1zM444.3 98.0h2.1v2.1h-2.1zM444.2 87.7h2.1v2.1h-2.1zM444.4 96.4h2.1v2.1h-2.1zM444.4 87.8h2.1v2.1h-2.1zM444.4 91.4h2.1v2.1h-2.1zM444.3 92.8h2.1v2.1h-2.1zM444.3 71.9h2.1v2.1h-2.1zM444.4 99.6h2.1v2.1h-2.1zM444.4 94.7h2.1v2.1h-2.1zM444.3 93.6h2.1v2.1h-2.1zM444.4 91.5h2.1v2.1h-2.1zM444.4 88.3h2.1v2.1h-2.1zM444.4 100.2h2.1v2.1h-2.1zM444.4 90.1h2.1v2.1h-2.1zM444.5 94.5h2.1v2.1h-2.1zM444.7 86.8h2.1v2.1h-2.1zM444.5 98.7h2.1v2.1h-2.1zM444.6 78.8h2.1v2.1h-2.1zM444.7 97.9h2.1v2.1h-2.1zM444.7 80.6h2.1v2.1h-2.1zM444.7 92.7h2.1v2.1h-2.1zM444.5 81.2h2.1v2.1h-2.1zM444.5 82.7h2.1v2.1h-2.1zM444.6 94.8h2.1v2.1h-2.1zM444.5 77.4h2.1v2.1h-2.1zM444.5 96.5h2.1v2.1h-2.1zM444.5 105.5h2.1v2.1h-2.1zM444.7 94.9h2.1v2.1h-2.1zM444.7 77.8h2.1v2.1h-2.1zM444.6 94.4h2.1v2.1h-2.1zM444.6 88.9h2.1v2.1h-2.1zM444.5 91.0h2.1v2.1h-2.1zM444.6 89.6h2.1v2.1h-2.1zM444.6 97.7h2.1v2.1h-2.1zM444.5 102.6h2.1v2.1h-2.1zM444.6 92.2h2.1v2.1h-2.1zM444.6 100.5h2.1v2.1h-2.1zM444.7 86.1h2.1v2.1h-2.1zM444.7 107.7h2.1v2.1h-2.1zM444.9 82.0h2.1v2.1h-2.1zM444.8 87.8h2.1v2.1h-2.1zM444.7 91.9h2.1v2.1h-2.1zM444.8 96.0h2.1v2.1h-2.1zM444.9 91.9h2.1v2.1h-2.1zM444.9 79.8h2.1v2.1h-2.1zM444.7 95.1h2.1v2.1h-2.1zM444.9 101.4h2.1v2.1h-2.1zM444.8 88.0h2.1v2.1h-2.1zM444.8 70.3h2.1v2.1h-2.1zM444.9 96.2h2.1v2.1h-2.1zM444.8 97.9h2.1v2.1h-2.1zM444.8 90.2h2.1v2.1h-2.1zM444.7 87.0h2.1v2.1h-2.1zM444.8 98.8h2.1v2.1h-2.1zM444.8 96.4h2.1v2.1h-2.1zM444.9 90.0h2.1v2.1h-2.1zM444.7 89.0h2.1v2.1h-2.1zM444.7 91.8h2.1v2.1h-2.1zM444.9 97.9h2.1v2.1h-2.1zM444.8 91.3h2.1v2.1h-2.1zM444.8 81.4h2.1v2.1h-2.1zM444.8 85.6h2.1v2.1h-2.1zM444.9 91.4h2.1v2.1h-2.1zM444.9 93.0h2.1v2.1h-2.1zM444.8 85.9h2.1v2.1h-2.1zM445.0 90.2h2.1v2.1h-2.1zM445.0 96.2h2.1v2.1h-2.1zM445.1 90.1h2.1v2.1h-2.1zM445.1 93.2h2.1v2.1h-2.1zM445.0 82.0h2.1v2.1h-2.1zM445.0 89.2h2.1v2.1h-2.1zM445.0 86.5h2.1v2.1h-2.1zM445.1 88.8h2.1v2.1h-2.1zM445.1 78.7h2.1v2.1h-2.1zM445.1 84.0h2.1v2.1h-2.1zM445.0 92.4h2.1v2.1h-2.1zM445.0 84.0h2.1v2.1h-2.1zM445.1 92.7h2.1v2.1h-2.1zM445.1 100.2h2.1v2.1h-2.1zM445.1 90.7h2.1v2.1h-2.1zM445.0 89.6h2.1v2.1h-2.1zM445.0 93.5h2.1v2.1h-2.1zM445.0 82.2h2.1v2.1h-2.1zM445.0 85.1h2.1v2.1h-2.1zM445.2 80.7h2.1v2.1h-2.1zM445.0 82.6h2.1v2.1h-2.1zM445.2 101.5h2.1v2.1h-2.1zM445.0 83.2h2.1v2.1h-2.1zM445.0 89.0h2.1v2.1h-2.1zM445.2 86.2h2.1v2.1h-2.1zM445.2 85.6h2.1v2.1h-2.1zM445.1 86.7h2.1v2.1h-2.1zM445.4 79.1h2.1v2.1h-2.1zM445.3 91.9h2.1v2.1h-2.1zM445.2 91.3h2.1v2.1h-2.1zM445.4 91.6h2.1v2.1h-2.1zM445.2 93.8h2.1v2.1h-2.1zM445.4 87.8h2.1v2.1h-2.1zM445.3 97.7h2.1v2.1h-2.1zM445.2 81.5h2.1v2.1h-2.1zM445.3 94.4h2.1v2.1h-2.1zM445.2 86.0h2.1v2.1h-2.1zM445.4 85.3h2.1v2.1h-2.1zM445.4 83.9h2.1v2.1h-2.1zM445.3 93.1h2.1v2.1h-2.1zM445.3 90.5h2.1v2.1h-2.1zM445.4 96.9h2.1v2.1h-2.1zM445.3 82.5h2.1v2.1h-2.1zM445.3 90.6h2.1v2.1h-2.1zM445.4 82.0h2.1v2.1h-2.1zM445.4 92.9h2.1v2.1h-2.1zM445.4 99.3h2.1v2.1h-2.1zM445.4 82.2h2.1v2.1h-2.1zM445.3 97.2h2.1v2.1h-2.1zM445.4 81.7h2.1v2.1h-2.1zM445.3 100.1h2.1v2.1h-2.1zM445.4 90.4h2.1v2.1h-2.1zM445.4 93.3h2.1v2.1h-2.1zM445.3 81.4h2.1v2.1h-2.1zM445.3 101.1h2.1v2.1h-2.1zM445.3 88.6h2.1v2.1h-2.1zM445.4 86.0h2.1v2.1h-2.1zM445.4 96.4h2.1v2.1h-2.1zM445.6 91.9h2.1v2.1h-2.1zM445.7 91.0h2.1v2.1h-2.1zM445.5 85.3h2.1v2.1h-2.1zM445.5 92.1h2.1v2.1h-2.1zM445.7 95.4h2.1v2.1h-2.1zM445.5 78.3h2.1v2.1h-2.1zM445.5 93.9h2.1v2.1h-2.1zM445.5 99.1h2.1v2.1h-2.1zM445.7 96.3h2.1v2.1h-2.1zM445.6 92.7h2.1v2.1h-2.1zM445.7 88.3h2.1v2.1h-2.1zM445.6 82.0h2.1v2.1h-2.1zM445.5 83.3h2.1v2.1h-2.1zM445.6 87.2h2.1v2.1h-2.1zM445.6 82.2h2.1v2.1h-2.1zM445.5 90.7h2.1v2.1h-2.1zM445.7 86.2h2.1v2.1h-2.1zM445.7 87.7h2.1v2.1h-2.1zM445.6 98.7h2.1v2.1h-2.1zM445.6 91.4h2.1v2.1h-2.1zM445.5 95.0h2.1v2.1h-2.1zM445.6 77.7h2.1v2.1h-2.1zM445.7 85.9h2.1v2.1h-2.1zM445.7 82.1h2.1v2.1h-2.1zM445.7 85.2h2.1v2.1h-2.1zM445.7 89.7h2.1v2.1h-2.1zM445.9 88.0h2.1v2.1h-2.1zM445.8 82.0h2.1v2.1h-2.1zM445.8 83.6h2.1v2.1h-2.1zM445.7 93.7h2.1v2.1h-2.1zM445.9 97.5h2.1v2.1h-2.1zM445.9 100.4h2.1v2.1h-2.1zM445.8 84.2h2.1v2.1h-2.1zM445.7 81.9h2.1v2.1h-2.1zM445.7 93.7h2.1v2.1h-2.1zM445.8 87.4h2.1v2.1h-2.1zM445.8 94.9h2.1v2.1h-2.1zM445.9 95.9h2.1v2.1h-2.1zM445.8 86.6h2.1v2.1h-2.1zM445.9 88.4h2.1v2.1h-2.1zM445.7 78.1h2.1v2.1h-2.1zM445.8 78.3h2.1v2.1h-2.1zM445.8 94.3h2.1v2.1h-2.1zM445.9 103.9h2.1v2.1h-2.1zM445.9 77.1h2.1v2.1h-2.1zM445.9 78.8h2.1v2.1h-2.1zM445.9 85.6h2.1v2.1h-2.1zM445.8 94.2h2.1v2.1h-2.1zM445.9 75.7h2.1v2.1h-2.1zM445.9 89.1h2.1v2.1h-2.1zM446.2 74.0h2.1v2.1h-2.1zM446.1 93.6h2.1v2.1h-2.1zM446.0 85.7h2.1v2.1h-2.1zM446.2 81.1h2.1v2.1h-2.1zM446.1 83.2h2.1v2.1h-2.1zM446.1 88.0h2.1v2.1h-2.1zM446.1 90.5h2.1v2.1h-2.1zM446.2 96.2h2.1v2.1h-2.1zM446.1 83.5h2.1v2.1h-2.1zM446.1 83.0h2.1v2.1h-2.1zM446.1 95.7h2.1v2.1h-2.1zM446.0 96.6h2.1v2.1h-2.1zM446.0 81.1h2.1v2.1h-2.1zM446.1 83.2h2.1v2.1h-2.1zM446.0 90.7h2.1v2.1h-2.1zM446.1 86.2h2.1v2.1h-2.1zM446.0 93.3h2.1v2.1h-2.1zM446.1 82.8h2.1v2.1h-2.1zM446.2 83.5h2.1v2.1h-2.1zM446.1 110.4h2.1v2.1h-2.1zM446.2 96.3h2.1v2.1h-2.1zM446.2 99.9h2.1v2.1h-2.1zM446.0 91.5h2.1v2.1h-2.1zM446.0 83.9h2.1v2.1h-2.1zM446.0 97.2h2.1v2.1h-2.1zM446.2 99.6h2.1v2.1h-2.1zM446.0 87.3h2.1v2.1h-2.1zM446.1 86.6h2.1v2.1h-2.1zM446.0 92.7h2.1v2.1h-2.1zM446.2 87.8h2.1v2.1h-2.1zM446.0 77.7h2.1v2.1h-2.1zM446.2 93.4h2.1v2.1h-2.1zM446.1 94.4h2.1v2.1h-2.1zM446.1 75.6h2.1v2.1h-2.1zM446.1 101.5h2.1v2.1h-2.1zM446.0 80.3h2.1v2.1h-2.1zM446.2 79.3h2.1v2.1h-2.1zM446.4 84.3h2.1v2.1h-2.1zM446.3 83.4h2.1v2.1h-2.1zM446.4 100.9h2.1v2.1h-2.1zM446.4 94.5h2.1v2.1h-2.1zM446.3 78.1h2.1v2.1h-2.1zM446.4 94.3h2.1v2.1h-2.1zM446.4 86.4h2.1v2.1h-2.1zM446.3 81.7h2.1v2.1h-2.1zM446.3 83.2h2.1v2.1h-2.1zM446.4 107.3h2.1v2.1h-2.1zM446.3 86.6h2.1v2.1h-2.1zM446.4 80.8h2.1v2.1h-2.1zM446.4 86.2h2.1v2.1h-2.1zM446.2 93.1h2.1v2.1h-2.1zM446.4 88.3h2.1v2.1h-2.1zM446.3 86.0h2.1v2.1h-2.1zM446.2 80.6h2.1v2.1h-2.1zM446.4 82.5h2.1v2.1h-2.1zM446.2 77.3h2.1v2.1h-2.1zM446.3 87.6h2.1v2.1h-2.1zM446.4 91.1h2.1v2.1h-2.1zM446.3 90.9h2.1v2.1h-2.1zM446.3 87.1h2.1v2.1h-2.1zM446.3 97.5h2.1v2.1h-2.1zM446.4 90.6h2.1v2.1h-2.1zM446.6 71.6h2.1v2.1h-2.1zM446.6 80.9h2.1v2.1h-2.1zM446.7 84.5h2.1v2.1h-2.1zM446.5 89.1h2.1v2.1h-2.1zM446.5 93.4h2.1v2.1h-2.1zM446.5 89.0h2.1v2.1h-2.1zM446.5 87.7h2.1v2.1h-2.1zM446.5 83.9h2.1v2.1h-2.1zM446.5 87.5h2.1v2.1h-2.1zM446.5 79.4h2.1v2.1h-2.1zM446.6 93.0h2.1v2.1h-2.1zM446.6 87.8h2.1v2.1h-2.1zM446.6 95.4h2.1v2.1h-2.1zM446.5 92.0h2.1v2.1h-2.1zM446.5 85.0h2.1v2.1h-2.1zM446.5 87.2h2.1v2.1h-2.1zM446.5 87.6h2.1v2.1h-2.1zM446.7 88.0h2.1v2.1h-2.1zM446.5 68.9h2.1v2.1h-2.1zM446.6 80.8h2.1v2.1h-2.1zM446.6 102.4h2.1v2.1h-2.1zM446.6 88.6h2.1v2.1h-2.1zM446.5 98.7h2.1v2.1h-2.1zM446.6 84.0h2.1v2.1h-2.1zM446.5 76.6h2.1v2.1h-2.1zM446.6 85.7h2.1v2.1h-2.1zM446.5 85.4h2.1v2.1h-2.1zM446.6 82.2h2.1v2.1h-2.1zM446.8 90.4h2.1v2.1h-2.1zM446.7 81.9h2.1v2.1h-2.1zM446.8 90.2h2.1v2.1h-2.1zM446.8 89.0h2.1v2.1h-2.1zM446.8 94.2h2.1v2.1h-2.1zM446.8 94.5h2.1v2.1h-2.1zM446.7 97.1h2.1v2.1h-2.1zM446.8 78.7h2.1v2.1h-2.1zM446.9 90.0h2.1v2.1h-2.1zM446.8 83.4h2.1v2.1h-2.1zM446.9 76.3h2.1v2.1h-2.1zM446.9 82.0h2.1v2.1h-2.1zM446.9 80.1h2.1v2.1h-2.1zM446.7 91.0h2.1v2.1h-2.1zM446.8 85.8h2.1v2.1h-2.1zM446.9 90.6h2.1v2.1h-2.1zM446.9 87.3h2.1v2.1h-2.1zM446.9 88.9h2.1v2.1h-2.1zM446.9 91.5h2.1v2.1h-2.1zM446.7 82.1h2.1v2.1h-2.1zM446.8 86.9h2.1v2.1h-2.1zM446.8 86.8h2.1v2.1h-2.1zM446.7 84.2h2.1v2.1h-2.1zM446.8 80.6h2.1v2.1h-2.1zM446.7 90.2h2.1v2.1h-2.1zM446.8 92.8h2.1v2.1h-2.1zM446.7 102.0h2.1v2.1h-2.1zM446.9 89.5h2.1v2.1h-2.1zM446.9 89.8h2.1v2.1h-2.1zM446.8 79.8h2.1v2.1h-2.1zM446.8 87.6h2.1v2.1h-2.1zM447.1 79.7h2.1v2.1h-2.1zM447.1 83.4h2.1v2.1h-2.1zM447.0 80.0h2.1v2.1h-2.1zM447.0 88.8h2.1v2.1h-2.1zM447.0 83.2h2.1v2.1h-2.1zM447.1 96.2h2.1v2.1h-2.1zM447.2 85.0h2.1v2.1h-2.1zM447.2 91.6h2.1v2.1h-2.1zM447.1 80.8h2.1v2.1h-2.1zM447.1 74.4h2.1v2.1h-2.1zM447.1 85.2h2.1v2.1h-2.1zM447.0 95.0h2.1v2.1h-2.1zM447.0 95.1h2.1v2.1h-2.1zM447.1 96.7h2.1v2.1h-2.1zM447.0 84.7h2.1v2.1h-2.1zM447.0 85.0h2.1v2.1h-2.1zM447.0 88.7h2.1v2.1h-2.1zM447.0 85.3h2.1v2.1h-2.1zM447.3 97.5h2.1v2.1h-2.1zM447.4 94.8h2.1v2.1h-2.1zM447.3 89.8h2.1v2.1h-2.1zM447.3 73.7h2.1v2.1h-2.1zM447.3 83.0h2.1v2.1h-2.1zM447.4 90.6h2.1v2.1h-2.1zM447.3 83.8h2.1v2.1h-2.1zM447.3 94.5h2.1v2.1h-2.1zM447.3 107.3h2.1v2.1h-2.1zM447.3 88.2h2.1v2.1h-2.1zM447.4 90.2h2.1v2.1h-2.1zM447.3 94.0h2.1v2.1h-2.1zM447.3 100.8h2.1v2.1h-2.1zM447.3 71.5h2.1v2.1h-2.1zM447.3 83.8h2.1v2.1h-2.1zM447.4 98.0h2.1v2.1h-2.1zM447.4 87.1h2.1v2.1h-2.1zM447.4 74.5h2.1v2.1h-2.1zM447.3 91.5h2.1v2.1h-2.1zM447.3 77.6h2.1v2.1h-2.1zM447.2 94.5h2.1v2.1h-2.1zM447.4 94.8h2.1v2.1h-2.1zM447.4 84.6h2.1v2.1h-2.1zM447.3 78.8h2.1v2.1h-2.1zM447.4 91.4h2.1v2.1h-2.1zM447.2 84.9h2.1v2.1h-2.1zM447.3 85.4h2.1v2.1h-2.1zM447.5 98.1h2.1v2.1h-2.1zM447.5 77.0h2.1v2.1h-2.1zM447.5 96.4h2.1v2.1h-2.1zM447.7 74.6h2.1v2.1h-2.1zM447.6 92.6h2.1v2.1h-2.1zM447.5 72.8h2.1v2.1h-2.1zM447.6 83.3h2.1v2.1h-2.1zM447.7 77.2h2.1v2.1h-2.1zM447.6 89.3h2.1v2.1h-2.1zM447.6 80.8h2.1v2.1h-2.1zM447.5 85.5h2.1v2.1h-2.1zM447.6 88.7h2.1v2.1h-2.1zM447.5 79.5h2.1v2.1h-2.1zM447.5 82.6h2.1v2.1h-2.1zM447.6 88.7h2.1v2.1h-2.1zM447.5 79.8h2.1v2.1h-2.1zM447.5 89.9h2.1v2.1h-2.1zM447.5 73.6h2.1v2.1h-2.1zM447.5 102.3h2.1v2.1h-2.1zM447.7 95.1h2.1v2.1h-2.1zM447.5 76.0h2.1v2.1h-2.1zM447.6 80.8h2.1v2.1h-2.1zM447.6 84.1h2.1v2.1h-2.1zM447.6 91.0h2.1v2.1h-2.1zM447.6 92.4h2.1v2.1h-2.1zM447.6 94.9h2.1v2.1h-2.1zM447.5 95.6h2.1v2.1h-2.1zM447.7 78.4h2.1v2.1h-2.1zM447.6 88.1h2.1v2.1h-2.1zM447.5 85.7h2.1v2.1h-2.1zM447.8 105.8h2.1v2.1h-2.1zM447.8 86.8h2.1v2.1h-2.1zM447.9 79.1h2.1v2.1h-2.1zM447.9 94.6h2.1v2.1h-2.1zM447.8 97.1h2.1v2.1h-2.1zM447.7 80.1h2.1v2.1h-2.1zM447.8 75.4h2.1v2.1h-2.1zM447.7 76.7h2.1v2.1h-2.1zM447.8 82.9h2.1v2.1h-2.1zM447.8 78.4h2.1v2.1h-2.1zM447.9 83.0h2.1v2.1h-2.1zM447.8 83.2h2.1v2.1h-2.1zM447.7 74.2h2.1v2.1h-2.1zM447.9 88.7h2.1v2.1h-2.1zM447.9 96.6h2.1v2.1h-2.1zM447.8 71.0h2.1v2.1h-2.1zM447.9 84.3h2.1v2.1h-2.1zM447.9 82.5h2.1v2.1h-2.1zM447.8 80.3h2.1v2.1h-2.1zM447.8 86.5h2.1v2.1h-2.1zM448.0 86.9h2.1v2.1h-2.1zM448.1 87.6h2.1v2.1h-2.1zM448.0 83.3h2.1v2.1h-2.1zM448.0 80.1h2.1v2.1h-2.1zM448.0 71.7h2.1v2.1h-2.1zM448.1 78.7h2.1v2.1h-2.1zM448.1 99.6h2.1v2.1h-2.1zM448.0 73.2h2.1v2.1h-2.1zM448.0 95.2h2.1v2.1h-2.1zM448.1 102.9h2.1v2.1h-2.1zM448.0 95.8h2.1v2.1h-2.1zM448.1 88.5h2.1v2.1h-2.1zM448.1 95.5h2.1v2.1h-2.1zM448.0 95.5h2.1v2.1h-2.1zM448.1 75.8h2.1v2.1h-2.1zM448.2 90.2h2.1v2.1h-2.1zM448.2 78.5h2.1v2.1h-2.1zM448.0 70.5h2.1v2.1h-2.1zM448.1 93.4h2.1v2.1h-2.1zM448.0 80.1h2.1v2.1h-2.1zM448.2 88.0h2.1v2.1h-2.1zM448.1 76.4h2.1v2.1h-2.1zM448.2 93.6h2.1v2.1h-2.1zM448.2 90.5h2.1v2.1h-2.1zM448.0 83.7h2.1v2.1h-2.1zM448.2 79.1h2.1v2.1h-2.1zM448.1 80.6h2.1v2.1h-2.1zM448.0 87.2h2.1v2.1h-2.1zM448.0 81.1h2.1v2.1h-2.1zM448.2 74.2h2.1v2.1h-2.1zM448.2 95.2h2.1v2.1h-2.1zM448.2 99.2h2.1v2.1h-2.1zM448.4 92.3h2.1v2.1h-2.1zM448.4 97.2h2.1v2.1h-2.1zM448.2 83.4h2.1v2.1h-2.1zM448.3 82.0h2.1v2.1h-2.1zM448.2 95.9h2.1v2.1h-2.1zM448.4 91.8h2.1v2.1h-2.1zM448.3 90.3h2.1v2.1h-2.1zM448.4 90.7h2.1v2.1h-2.1zM448.4 86.0h2.1v2.1h-2.1zM448.4 73.6h2.1v2.1h-2.1zM448.4 94.6h2.1v2.1h-2.1zM448.3 88.2h2.1v2.1h-2.1zM448.2 80.9h2.1v2.1h-2.1zM448.3 82.6h2.1v2.1h-2.1zM448.2 92.8h2.1v2.1h-2.1zM448.5 77.8h2.1v2.1h-2.1zM448.6 77.4h2.1v2.1h-2.1zM448.6 95.6h2.1v2.1h-2.1zM448.6 95.2h2.1v2.1h-2.1zM448.5 73.7h2.1v2.1h-2.1zM448.5 86.8h2.1v2.1h-2.1zM448.5 96.3h2.1v2.1h-2.1zM448.5 80.2h2.1v2.1h-2.1zM448.5 86.5h2.1v2.1h-2.1zM448.5 86.9h2.1v2.1h-2.1zM448.5 83.5h2.1v2.1h-2.1zM448.6 82.1h2.1v2.1h-2.1zM448.5 66.2h2.1v2.1h-2.1zM448.8 97.0h2.1v2.1h-2.1zM448.7 90.1h2.1v2.1h-2.1zM448.8 93.1h2.1v2.1h-2.1zM448.9 87.8h2.1v2.1h-2.1zM448.9 78.2h2.1v2.1h-2.1zM448.8 95.9h2.1v2.1h-2.1zM448.8 83.0h2.1v2.1h-2.1zM448.9 89.6h2.1v2.1h-2.1zM448.9 90.3h2.1v2.1h-2.1zM448.8 89.5h2.1v2.1h-2.1zM448.9 77.4h2.1v2.1h-2.1zM448.8 89.7h2.1v2.1h-2.1zM448.8 76.4h2.1v2.1h-2.1zM449.0 92.7h2.1v2.1h-2.1zM449.1 82.3h2.1v2.1h-2.1zM449.1 81.8h2.1v2.1h-2.1zM449.1 78.6h2.1v2.1h-2.1zM449.1 75.6h2.1v2.1h-2.1zM449.1 77.2h2.1v2.1h-2.1zM449.1 86.8h2.1v2.1h-2.1zM449.1 73.0h2.1v2.1h-2.1zM449.0 97.5h2.1v2.1h-2.1zM449.0 91.5h2.1v2.1h-2.1zM449.1 85.7h2.1v2.1h-2.1zM449.0 81.0h2.1v2.1h-2.1zM449.0 92.2h2.1v2.1h-2.1zM449.0 83.0h2.1v2.1h-2.1zM449.1 99.9h2.1v2.1h-2.1zM449.2 84.3h2.1v2.1h-2.1zM449.1 88.8h2.1v2.1h-2.1zM449.2 79.2h2.1v2.1h-2.1zM449.0 93.6h2.1v2.1h-2.1zM449.0 89.2h2.1v2.1h-2.1zM449.0 89.4h2.1v2.1h-2.1zM449.3 90.6h2.1v2.1h-2.1zM449.4 79.6h2.1v2.1h-2.1zM449.4 85.6h2.1v2.1h-2.1zM449.2 87.0h2.1v2.1h-2.1zM449.4 85.1h2.1v2.1h-2.1zM449.4 81.1h2.1v2.1h-2.1zM449.3 97.9h2.1v2.1h-2.1zM449.3 81.9h2.1v2.1h-2.1zM449.4 88.1h2.1v2.1h-2.1zM449.3 85.1h2.1v2.1h-2.1zM449.4 87.3h2.1v2.1h-2.1zM449.3 73.5h2.1v2.1h-2.1zM449.2 100.4h2.1v2.1h-2.1zM449.3 96.6h2.1v2.1h-2.1zM449.3 85.1h2.1v2.1h-2.1zM449.3 93.9h2.1v2.1h-2.1zM449.4 86.0h2.1v2.1h-2.1zM449.5 91.3h2.1v2.1h-2.1zM449.5 81.5h2.1v2.1h-2.1zM449.5 84.8h2.1v2.1h-2.1zM449.5 87.8h2.1v2.1h-2.1zM449.7 84.1h2.1v2.1h-2.1zM449.5 87.6h2.1v2.1h-2.1zM449.5 90.0h2.1v2.1h-2.1zM449.6 83.1h2.1v2.1h-2.1zM449.5 99.3h2.1v2.1h-2.1zM449.7 80.1h2.1v2.1h-2.1zM449.6 85.1h2.1v2.1h-2.1zM449.7 86.9h2.1v2.1h-2.1zM449.5 84.9h2.1v2.1h-2.1zM449.5 77.0h2.1v2.1h-2.1zM449.5 85.4h2.1v2.1h-2.1zM449.6 78.1h2.1v2.1h-2.1zM449.5 84.1h2.1v2.1h-2.1zM449.6 89.0h2.1v2.1h-2.1zM449.6 90.7h2.1v2.1h-2.1zM449.6 85.0h2.1v2.1h-2.1zM449.6 81.6h2.1v2.1h-2.1zM449.5 100.9h2.1v2.1h-2.1zM449.6 84.3h2.1v2.1h-2.1zM449.9 85.2h2.1v2.1h-2.1zM449.9 98.5h2.1v2.1h-2.1zM449.7 88.0h2.1v2.1h-2.1zM449.8 83.4h2.1v2.1h-2.1zM449.7 79.1h2.1v2.1h-2.1zM449.8 73.6h2.1v2.1h-2.1zM449.7 95.1h2.1v2.1h-2.1zM449.9 75.0h2.1v2.1h-2.1zM449.7 86.0h2.1v2.1h-2.1zM449.9 91.9h2.1v2.1h-2.1zM449.9 80.5h2.1v2.1h-2.1zM449.9 83.3h2.1v2.1h-2.1zM449.8 92.4h2.1v2.1h-2.1zM449.8 85.9h2.1v2.1h-2.1zM449.8 93.8h2.1v2.1h-2.1zM450.1 90.5h2.1v2.1h-2.1zM450.2 76.3h2.1v2.1h-2.1zM450.0 89.3h2.1v2.1h-2.1zM450.0 95.9h2.1v2.1h-2.1zM450.1 92.3h2.1v2.1h-2.1zM450.1 83.3h2.1v2.1h-2.1zM450.0 79.2h2.1v2.1h-2.1zM450.0 79.8h2.1v2.1h-2.1zM450.2 93.2h2.1v2.1h-2.1zM450.2 80.2h2.1v2.1h-2.1zM450.0 85.7h2.1v2.1h-2.1zM450.2 86.3h2.1v2.1h-2.1zM450.1 82.6h2.1v2.1h-2.1zM450.1 78.0h2.1v2.1h-2.1zM450.0 88.0h2.1v2.1h-2.1zM450.0 79.3h2.1v2.1h-2.1zM450.0 81.7h2.1v2.1h-2.1zM450.0 93.1h2.1v2.1h-2.1zM450.1 90.0h2.1v2.1h-2.1zM450.2 90.6h2.1v2.1h-2.1zM450.4 84.6h2.1v2.1h-2.1zM450.2 94.1h2.1v2.1h-2.1zM450.4 85.9h2.1v2.1h-2.1zM450.2 101.7h2.1v2.1h-2.1zM450.3 89.7h2.1v2.1h-2.1zM450.3 76.8h2.1v2.1h-2.1zM450.4 77.3h2.1v2.1h-2.1zM450.4 80.8h2.1v2.1h-2.1zM450.3 97.7h2.1v2.1h-2.1zM450.3 82.5h2.1v2.1h-2.1zM450.4 91.5h2.1v2.1h-2.1zM450.4 74.2h2.1v2.1h-2.1zM450.2 88.8h2.1v2.1h-2.1zM450.2 77.0h2.1v2.1h-2.1zM450.4 81.3h2.1v2.1h-2.1zM450.4 84.6h2.1v2.1h-2.1zM450.4 74.5h2.1v2.1h-2.1zM450.3 102.0h2.1v2.1h-2.1zM450.7 82.2h2.1v2.1h-2.1zM450.7 86.3h2.1v2.1h-2.1zM450.5 75.1h2.1v2.1h-2.1zM450.6 79.2h2.1v2.1h-2.1zM450.7 79.2h2.1v2.1h-2.1zM450.5 93.9h2.1v2.1h-2.1zM450.5 84.6h2.1v2.1h-2.1zM450.5 77.4h2.1v2.1h-2.1zM450.7 79.1h2.1v2.1h-2.1zM450.5 92.8h2.1v2.1h-2.1zM450.5 87.5h2.1v2.1h-2.1zM450.5 80.9h2.1v2.1h-2.1zM450.7 82.0h2.1v2.1h-2.1zM450.7 90.1h2.1v2.1h-2.1zM450.7 82.4h2.1v2.1h-2.1zM450.6 82.9h2.1v2.1h-2.1zM450.8 80.5h2.1v2.1h-2.1zM450.7 87.9h2.1v2.1h-2.1zM450.9 92.6h2.1v2.1h-2.1zM450.9 89.1h2.1v2.1h-2.1zM450.9 70.6h2.1v2.1h-2.1zM450.9 71.4h2.1v2.1h-2.1zM450.8 83.5h2.1v2.1h-2.1zM450.9 82.1h2.1v2.1h-2.1zM450.9 73.7h2.1v2.1h-2.1zM450.9 89.8h2.1v2.1h-2.1zM450.9 87.8h2.1v2.1h-2.1zM450.9 93.1h2.1v2.1h-2.1zM450.7 86.5h2.1v2.1h-2.1zM450.9 97.0h2.1v2.1h-2.1zM450.7 79.6h2.1v2.1h-2.1zM450.8 81.4h2.1v2.1h-2.1zM450.9 89.0h2.1v2.1h-2.1zM450.9 87.1h2.1v2.1h-2.1zM450.8 73.1h2.1v2.1h-2.1zM450.9 78.4h2.1v2.1h-2.1zM450.8 88.6h2.1v2.1h-2.1zM450.8 85.2h2.1v2.1h-2.1zM451.1 77.6h2.1v2.1h-2.1zM451.2 93.3h2.1v2.1h-2.1zM451.0 87.3h2.1v2.1h-2.1zM451.0 77.8h2.1v2.1h-2.1zM451.2 91.4h2.1v2.1h-2.1zM451.1 82.5h2.1v2.1h-2.1zM451.0 69.4h2.1v2.1h-2.1zM451.0 83.8h2.1v2.1h-2.1zM451.2 94.4h2.1v2.1h-2.1zM451.0 84.6h2.1v2.1h-2.1zM451.0 79.4h2.1v2.1h-2.1zM451.1 84.5h2.1v2.1h-2.1zM451.2 79.6h2.1v2.1h-2.1zM451.1 88.2h2.1v2.1h-2.1zM451.1 86.0h2.1v2.1h-2.1zM451.2 81.5h2.1v2.1h-2.1zM451.2 81.9h2.1v2.1h-2.1zM451.3 82.7h2.1v2.1h-2.1zM451.3 94.1h2.1v2.1h-2.1zM451.3 91.4h2.1v2.1h-2.1zM451.2 98.0h2.1v2.1h-2.1zM451.4 82.2h2.1v2.1h-2.1zM451.4 79.7h2.1v2.1h-2.1zM451.3 85.8h2.1v2.1h-2.1zM451.4 89.6h2.1v2.1h-2.1zM451.3 73.7h2.1v2.1h-2.1zM451.4 88.8h2.1v2.1h-2.1zM451.4 81.8h2.1v2.1h-2.1zM451.3 87.7h2.1v2.1h-2.1zM451.4 86.3h2.1v2.1h-2.1zM451.4 82.0h2.1v2.1h-2.1zM451.2 78.5h2.1v2.1h-2.1zM451.3 82.2h2.1v2.1h-2.1zM451.4 92.2h2.1v2.1h-2.1zM451.4 71.4h2.1v2.1h-2.1zM451.3 85.4h2.1v2.1h-2.1zM451.5 93.4h2.1v2.1h-2.1zM451.6 82.6h2.1v2.1h-2.1zM451.6 81.5h2.1v2.1h-2.1zM451.5 81.2h2.1v2.1h-2.1zM451.7 87.5h2.1v2.1h-2.1zM451.7 84.0h2.1v2.1h-2.1zM451.5 95.1h2.1v2.1h-2.1zM451.5 79.5h2.1v2.1h-2.1zM451.6 80.9h2.1v2.1h-2.1zM451.6 80.1h2.1v2.1h-2.1zM451.5 77.9h2.1v2.1h-2.1zM451.5 80.5h2.1v2.1h-2.1zM451.6 76.8h2.1v2.1h-2.1zM451.5 67.1h2.1v2.1h-2.1zM451.6 70.4h2.1v2.1h-2.1zM451.8 83.9h2.1v2.1h-2.1zM451.7 81.2h2.1v2.1h-2.1zM451.8 78.5h2.1v2.1h-2.1zM451.8 75.2h2.1v2.1h-2.1zM451.8 84.2h2.1v2.1h-2.1zM451.7 86.8h2.1v2.1h-2.1zM451.9 94.3h2.1v2.1h-2.1zM451.8 85.2h2.1v2.1h-2.1zM451.8 89.8h2.1v2.1h-2.1zM451.7 85.5h2.1v2.1h-2.1zM451.7 81.6h2.1v2.1h-2.1zM451.9 87.0h2.1v2.1h-2.1zM451.9 87.4h2.1v2.1h-2.1zM451.9 81.2h2.1v2.1h-2.1zM451.8 81.3h2.1v2.1h-2.1zM451.9 82.1h2.1v2.1h-2.1zM452.2 90.1h2.1v2.1h-2.1zM452.1 61.7h2.1v2.1h-2.1zM452.0 74.8h2.1v2.1h-2.1zM452.1 79.9h2.1v2.1h-2.1zM452.0 73.9h2.1v2.1h-2.1zM452.1 82.8h2.1v2.1h-2.1zM452.2 94.9h2.1v2.1h-2.1zM452.2 92.5h2.1v2.1h-2.1zM452.1 80.2h2.1v2.1h-2.1zM452.0 75.1h2.1v2.1h-2.1zM452.2 94.2h2.1v2.1h-2.1zM452.3 89.2h2.1v2.1h-2.1zM452.4 76.9h2.1v2.1h-2.1zM452.2 85.6h2.1v2.1h-2.1zM452.2 85.2h2.1v2.1h-2.1zM452.3 94.5h2.1v2.1h-2.1zM452.3 70.6h2.1v2.1h-2.1zM452.4 78.7h2.1v2.1h-2.1zM452.3 75.1h2.1v2.1h-2.1zM452.3 84.5h2.1v2.1h-2.1zM452.4 89.8h2.1v2.1h-2.1zM452.2 81.6h2.1v2.1h-2.1zM452.3 99.7h2.1v2.1h-2.1zM452.3 75.8h2.1v2.1h-2.1zM452.3 84.2h2.1v2.1h-2.1zM452.2 78.0h2.1v2.1h-2.1zM452.7 71.1h2.1v2.1h-2.1zM452.7 69.4h2.1v2.1h-2.1zM452.5 86.0h2.1v2.1h-2.1zM452.6 82.3h2.1v2.1h-2.1zM452.5 85.1h2.1v2.1h-2.1zM452.5 74.1h2.1v2.1h-2.1zM452.5 83.0h2.1v2.1h-2.1zM452.7 90.8h2.1v2.1h-2.1zM452.5 76.9h2.1v2.1h-2.1zM452.5 78.9h2.1v2.1h-2.1zM452.7 79.6h2.1v2.1h-2.1zM452.5 98.4h2.1v2.1h-2.1zM452.6 91.2h2.1v2.1h-2.1zM452.6 97.4h2.1v2.1h-2.1zM452.6 102.7h2.1v2.1h-2.1zM452.5 80.8h2.1v2.1h-2.1zM452.9 74.3h2.1v2.1h-2.1zM452.8 75.0h2.1v2.1h-2.1zM452.7 90.2h2.1v2.1h-2.1zM452.7 81.5h2.1v2.1h-2.1zM452.8 83.3h2.1v2.1h-2.1zM452.9 83.4h2.1v2.1h-2.1zM452.9 87.9h2.1v2.1h-2.1zM452.9 87.1h2.1v2.1h-2.1zM452.9 78.7h2.1v2.1h-2.1zM452.9 83.8h2.1v2.1h-2.1zM452.7 80.2h2.1v2.1h-2.1zM452.8 85.6h2.1v2.1h-2.1zM452.9 69.9h2.1v2.1h-2.1zM452.7 79.9h2.1v2.1h-2.1zM452.7 91.6h2.1v2.1h-2.1zM453.1 86.9h2.1v2.1h-2.1zM453.0 86.4h2.1v2.1h-2.1zM453.0 83.2h2.1v2.1h-2.1zM453.1 81.8h2.1v2.1h-2.1zM453.1 77.3h2.1v2.1h-2.1zM453.1 86.3h2.1v2.1h-2.1zM453.0 90.8h2.1v2.1h-2.1zM453.1 77.6h2.1v2.1h-2.1zM453.0 86.1h2.1v2.1h-2.1zM453.0 80.4h2.1v2.1h-2.1zM453.1 79.8h2.1v2.1h-2.1zM453.1 73.5h2.1v2.1h-2.1zM453.3 84.7h2.1v2.1h-2.1zM453.4 74.6h2.1v2.1h-2.1zM453.2 82.0h2.1v2.1h-2.1zM453.3 77.3h2.1v2.1h-2.1zM453.4 88.1h2.1v2.1h-2.1zM453.4 90.3h2.1v2.1h-2.1zM453.4 86.0h2.1v2.1h-2.1zM453.3 89.0h2.1v2.1h-2.1zM453.3 77.5h2.1v2.1h-2.1zM453.4 78.5h2.1v2.1h-2.1zM453.4 82.7h2.1v2.1h-2.1zM453.3 79.0h2.1v2.1h-2.1zM453.4 85.7h2.1v2.1h-2.1zM453.4 79.9h2.1v2.1h-2.1zM453.4 71.5h2.1v2.1h-2.1zM453.4 73.4h2.1v2.1h-2.1zM453.4 83.3h2.1v2.1h-2.1zM453.3 99.6h2.1v2.1h-2.1zM453.4 82.2h2.1v2.1h-2.1zM453.3 69.5h2.1v2.1h-2.1zM453.2 83.3h2.1v2.1h-2.1zM453.3 76.0h2.1v2.1h-2.1zM453.3 71.1h2.1v2.1h-2.1zM453.4 101.4h2.1v2.1h-2.1zM453.6 64.7h2.1v2.1h-2.1zM453.6 93.1h2.1v2.1h-2.1zM453.5 80.1h2.1v2.1h-2.1zM453.5 92.6h2.1v2.1h-2.1zM453.7 88.5h2.1v2.1h-2.1zM453.5 84.1h2.1v2.1h-2.1zM453.6 80.5h2.1v2.1h-2.1zM453.6 79.9h2.1v2.1h-2.1zM453.6 75.8h2.1v2.1h-2.1zM453.5 82.4h2.1v2.1h-2.1zM453.7 83.7h2.1v2.1h-2.1zM453.5 69.7h2.1v2.1h-2.1zM453.9 83.3h2.1v2.1h-2.1zM453.8 72.4h2.1v2.1h-2.1zM453.9 74.4h2.1v2.1h-2.1zM453.9 83.9h2.1v2.1h-2.1zM453.8 81.7h2.1v2.1h-2.1zM453.9 88.0h2.1v2.1h-2.1zM453.8 78.5h2.1v2.1h-2.1zM453.9 85.6h2.1v2.1h-2.1zM453.7 84.9h2.1v2.1h-2.1zM453.7 95.6h2.1v2.1h-2.1zM453.7 75.1h2.1v2.1h-2.1zM454.1 79.6h2.1v2.1h-2.1zM454.2 87.5h2.1v2.1h-2.1zM454.2 80.4h2.1v2.1h-2.1zM454.1 75.8h2.1v2.1h-2.1zM454.0 67.6h2.1v2.1h-2.1zM454.0 84.9h2.1v2.1h-2.1zM454.0 90.8h2.1v2.1h-2.1zM454.0 82.3h2.1v2.1h-2.1zM454.2 85.5h2.1v2.1h-2.1zM454.4 78.8h2.1v2.1h-2.1zM454.4 72.6h2.1v2.1h-2.1zM454.3 76.0h2.1v2.1h-2.1zM454.4 83.9h2.1v2.1h-2.1zM454.2 84.1h2.1v2.1h-2.1zM454.4 83.4h2.1v2.1h-2.1zM454.3 68.6h2.1v2.1h-2.1zM454.3 77.2h2.1v2.1h-2.1zM454.5 72.5h2.1v2.1h-2.1zM454.6 80.9h2.1v2.1h-2.1zM454.5 91.7h2.1v2.1h-2.1zM454.6 94.9h2.1v2.1h-2.1zM454.7 72.1h2.1v2.1h-2.1zM454.6 85.6h2.1v2.1h-2.1zM454.7 78.8h2.1v2.1h-2.1zM454.6 78.1h2.1v2.1h-2.1zM454.6 77.1h2.1v2.1h-2.1zM454.5 71.0h2.1v2.1h-2.1zM454.6 73.4h2.1v2.1h-2.1zM454.5 77.7h2.1v2.1h-2.1zM454.6 83.8h2.1v2.1h-2.1zM454.7 69.6h2.1v2.1h-2.1zM454.5 91.5h2.1v2.1h-2.1zM454.6 77.5h2.1v2.1h-2.1zM454.9 88.2h2.1v2.1h-2.1zM454.9 78.7h2.1v2.1h-2.1zM454.8 74.3h2.1v2.1h-2.1zM454.7 76.2h2.1v2.1h-2.1zM454.8 90.4h2.1v2.1h-2.1zM454.8 86.0h2.1v2.1h-2.1zM454.7 73.5h2.1v2.1h-2.1zM454.8 82.0h2.1v2.1h-2.1zM454.8 91.7h2.1v2.1h-2.1zM454.9 80.6h2.1v2.1h-2.1zM454.7 81.2h2.1v2.1h-2.1zM454.8 75.9h2.1v2.1h-2.1zM454.7 67.3h2.1v2.1h-2.1zM454.9 86.9h2.1v2.1h-2.1zM454.8 85.2h2.1v2.1h-2.1zM454.8 85.8h2.1v2.1h-2.1zM454.8 90.0h2.1v2.1h-2.1zM454.8 79.6h2.1v2.1h-2.1zM455.1 78.2h2.1v2.1h-2.1zM455.1 79.7h2.1v2.1h-2.1zM455.1 83.7h2.1v2.1h-2.1zM455.2 95.6h2.1v2.1h-2.1zM455.1 72.2h2.1v2.1h-2.1zM455.1 87.8h2.1v2.1h-2.1zM455.1 78.5h2.1v2.1h-2.1zM455.0 81.4h2.1v2.1h-2.1zM455.1 77.4h2.1v2.1h-2.1zM455.1 88.3h2.1v2.1h-2.1zM455.1 86.5h2.1v2.1h-2.1zM455.4 76.9h2.1v2.1h-2.1zM455.2 78.3h2.1v2.1h-2.1zM455.3 87.2h2.1v2.1h-2.1zM455.3 73.8h2.1v2.1h-2.1zM455.3 86.5h2.1v2.1h-2.1zM455.4 81.0h2.1v2.1h-2.1zM455.2 72.3h2.1v2.1h-2.1zM455.4 79.6h2.1v2.1h-2.1zM455.4 82.0h2.1v2.1h-2.1zM455.6 76.5h2.1v2.1h-2.1zM455.5 72.9h2.1v2.1h-2.1zM455.6 86.7h2.1v2.1h-2.1zM455.5 80.8h2.1v2.1h-2.1zM455.5 74.5h2.1v2.1h-2.1zM455.8 71.3h2.1v2.1h-2.1zM455.9 80.3h2.1v2.1h-2.1zM455.8 90.1h2.1v2.1h-2.1zM455.7 81.5h2.1v2.1h-2.1zM455.7 74.9h2.1v2.1h-2.1zM455.9 74.5h2.1v2.1h-2.1zM455.9 80.8h2.1v2.1h-2.1zM455.8 82.6h2.1v2.1h-2.1zM455.9 82.0h2.1v2.1h-2.1zM455.9 79.0h2.1v2.1h-2.1zM456.1 68.0h2.1v2.1h-2.1zM456.0 83.9h2.1v2.1h-2.1zM456.1 81.5h2.1v2.1h-2.1zM456.1 87.4h2.1v2.1h-2.1zM456.0 85.1h2.1v2.1h-2.1zM456.0 70.2h2.1v2.1h-2.1zM456.0 65.8h2.1v2.1h-2.1zM456.0 61.6h2.1v2.1h-2.1zM456.0 75.8h2.1v2.1h-2.1zM456.1 81.9h2.1v2.1h-2.1zM456.0 79.4h2.1v2.1h-2.1zM456.0 75.1h2.1v2.1h-2.1zM456.3 83.2h2.1v2.1h-2.1zM456.4 92.3h2.1v2.1h-2.1zM456.4 83.2h2.1v2.1h-2.1zM456.4 82.7h2.1v2.1h-2.1zM456.4 54.3h2.1v2.1h-2.1zM456.4 66.8h2.1v2.1h-2.1zM456.4 66.7h2.1v2.1h-2.1zM456.3 75.4h2.1v2.1h-2.1zM456.3 85.3h2.1v2.1h-2.1zM456.2 83.6h2.1v2.1h-2.1zM456.4 82.3h2.1v2.1h-2.1zM456.4 62.2h2.1v2.1h-2.1zM456.3 69.5h2.1v2.1h-2.1zM456.7 65.0h2.1v2.1h-2.1zM456.5 74.1h2.1v2.1h-2.1zM456.5 67.2h2.1v2.1h-2.1zM456.6 94.3h2.1v2.1h-2.1zM456.7 62.7h2.1v2.1h-2.1zM456.5 73.1h2.1v2.1h-2.1zM456.5 74.7h2.1v2.1h-2.1zM456.7 84.2h2.1v2.1h-2.1zM456.9 82.4h2.1v2.1h-2.1zM456.7 78.0h2.1v2.1h-2.1zM456.9 67.3h2.1v2.1h-2.1zM456.9 76.9h2.1v2.1h-2.1zM456.8 90.8h2.1v2.1h-2.1zM456.7 73.6h2.1v2.1h-2.1zM456.7 80.6h2.1v2.1h-2.1zM457.0 72.6h2.1v2.1h-2.1zM457.1 92.5h2.1v2.1h-2.1zM457.2 82.9h2.1v2.1h-2.1zM457.3 67.4h2.1v2.1h-2.1zM457.3 69.3h2.1v2.1h-2.1zM457.3 82.2h2.1v2.1h-2.1zM457.4 60.4h2.1v2.1h-2.1zM457.3 91.6h2.1v2.1h-2.1zM457.3 82.0h2.1v2.1h-2.1zM457.3 75.5h2.1v2.1h-2.1zM457.2 74.1h2.1v2.1h-2.1zM457.7 79.5h2.1v2.1h-2.1zM457.7 72.7h2.1v2.1h-2.1zM457.5 76.8h2.1v2.1h-2.1zM457.7 74.9h2.1v2.1h-2.1zM457.5 74.7h2.1v2.1h-2.1zM457.7 78.2h2.1v2.1h-2.1zM457.6 65.8h2.1v2.1h-2.1zM457.5 85.9h2.1v2.1h-2.1zM457.6 77.8h2.1v2.1h-2.1zM457.5 78.7h2.1v2.1h-2.1zM457.8 89.2h2.1v2.1h-2.1zM457.9 69.8h2.1v2.1h-2.1zM457.9 64.2h2.1v2.1h-2.1zM457.9 75.4h2.1v2.1h-2.1zM457.8 74.0h2.1v2.1h-2.1zM457.8 59.0h2.1v2.1h-2.1zM457.9 88.1h2.1v2.1h-2.1zM458.1 78.1h2.1v2.1h-2.1zM458.0 81.4h2.1v2.1h-2.1zM458.1 68.8h2.1v2.1h-2.1zM458.0 79.8h2.1v2.1h-2.1zM458.3 85.8h2.1v2.1h-2.1zM458.4 80.0h2.1v2.1h-2.1zM458.3 73.1h2.1v2.1h-2.1zM458.3 67.1h2.1v2.1h-2.1zM458.4 77.2h2.1v2.1h-2.1zM458.5 64.0h2.1v2.1h-2.1zM458.7 73.8h2.1v2.1h-2.1zM458.5 76.7h2.1v2.1h-2.1zM458.5 84.5h2.1v2.1h-2.1zM458.7 79.9h2.1v2.1h-2.1zM458.6 75.5h2.1v2.1h-2.1zM458.5 81.8h2.1v2.1h-2.1zM458.8 84.8h2.1v2.1h-2.1zM458.9 84.0h2.1v2.1h-2.1zM458.8 72.3h2.1v2.1h-2.1zM458.8 74.0h2.1v2.1h-2.1zM458.7 71.8h2.1v2.1h-2.1zM458.9 79.8h2.1v2.1h-2.1zM458.9 78.3h2.1v2.1h-2.1zM458.7 79.6h2.1v2.1h-2.1zM458.8 66.7h2.1v2.1h-2.1zM458.8 77.8h2.1v2.1h-2.1zM459.2 67.3h2.1v2.1h-2.1zM459.2 76.9h2.1v2.1h-2.1zM459.1 82.2h2.1v2.1h-2.1zM459.2 75.5h2.1v2.1h-2.1zM459.0 84.3h2.1v2.1h-2.1zM459.2 67.1h2.1v2.1h-2.1zM459.2 79.7h2.1v2.1h-2.1zM459.4 63.8h2.1v2.1h-2.1zM459.4 66.7h2.1v2.1h-2.1zM459.3 78.9h2.1v2.1h-2.1zM459.3 57.3h2.1v2.1h-2.1zM459.3 83.9h2.1v2.1h-2.1zM459.2 89.2h2.1v2.1h-2.1zM459.3 64.5h2.1v2.1h-2.1zM459.3 65.7h2.1v2.1h-2.1zM459.2 80.8h2.1v2.1h-2.1zM459.5 85.0h2.1v2.1h-2.1zM459.6 65.1h2.1v2.1h-2.1zM459.6 77.4h2.1v2.1h-2.1zM459.5 71.3h2.1v2.1h-2.1zM459.5 72.8h2.1v2.1h-2.1zM459.5 84.8h2.1v2.1h-2.1zM459.6 71.7h2.1v2.1h-2.1zM459.5 75.7h2.1v2.1h-2.1zM459.8 78.6h2.1v2.1h-2.1zM459.9 72.9h2.1v2.1h-2.1zM459.9 75.1h2.1v2.1h-2.1zM459.9 86.3h2.1v2.1h-2.1zM459.7 81.0h2.1v2.1h-2.1zM459.9 70.1h2.1v2.1h-2.1zM460.2 63.9h2.1v2.1h-2.1zM460.1 76.0h2.1v2.1h-2.1zM460.2 77.9h2.1v2.1h-2.1zM460.4 68.0h2.1v2.1h-2.1zM460.4 84.7h2.1v2.1h-2.1zM460.4 66.7h2.1v2.1h-2.1zM460.2 64.9h2.1v2.1h-2.1zM460.3 82.8h2.1v2.1h-2.1zM460.6 77.2h2.1v2.1h-2.1zM460.9 82.0h2.1v2.1h-2.1zM460.9 65.0h2.1v2.1h-2.1zM460.8 78.2h2.1v2.1h-2.1zM460.9 69.5h2.1v2.1h-2.1zM461.1 76.2h2.1v2.1h-2.1zM461.1 96.2h2.1v2.1h-2.1zM461.1 81.8h2.1v2.1h-2.1zM461.0 60.1h2.1v2.1h-2.1zM461.0 82.6h2.1v2.1h-2.1zM461.0 74.9h2.1v2.1h-2.1zM461.0 69.8h2.1v2.1h-2.1zM461.2 75.6h2.1v2.1h-2.1zM461.3 63.4h2.1v2.1h-2.1zM461.3 72.2h2.1v2.1h-2.1zM461.3 77.8h2.1v2.1h-2.1zM461.4 79.8h2.1v2.1h-2.1zM461.2 82.4h2.1v2.1h-2.1zM461.3 81.3h2.1v2.1h-2.1zM461.2 68.9h2.1v2.1h-2.1zM461.6 65.5h2.1v2.1h-2.1zM461.5 84.3h2.1v2.1h-2.1zM461.8 79.3h2.1v2.1h-2.1zM461.7 55.1h2.1v2.1h-2.1zM461.9 71.4h2.1v2.1h-2.1zM461.9 63.3h2.1v2.1h-2.1zM461.9 65.5h2.1v2.1h-2.1zM461.9 80.1h2.1v2.1h-2.1zM461.8 85.7h2.1v2.1h-2.1zM462.0 60.8h2.1v2.1h-2.1zM462.0 71.9h2.1v2.1h-2.1zM462.0 66.0h2.1v2.1h-2.1zM462.0 59.0h2.1v2.1h-2.1zM462.0 55.3h2.1v2.1h-2.1zM462.4 66.1h2.1v2.1h-2.1zM462.6 81.9h2.1v2.1h-2.1zM462.5 85.2h2.1v2.1h-2.1zM462.8 63.6h2.1v2.1h-2.1zM462.7 73.8h2.1v2.1h-2.1zM462.9 63.4h2.1v2.1h-2.1zM463.2 56.6h2.1v2.1h-2.1zM463.0 76.0h2.1v2.1h-2.1zM463.0 64.2h2.1v2.1h-2.1zM463.4 64.6h2.1v2.1h-2.1zM463.5 63.7h2.1v2.1h-2.1zM463.8 78.2h2.1v2.1h-2.1zM464.0 70.9h2.1v2.1h-2.1zM464.0 77.1h2.1v2.1h-2.1zM464.3 61.1h2.1v2.1h-2.1zM464.3 73.7h2.1v2.1h-2.1zM464.7 73.1h2.1v2.1h-2.1zM464.8 71.2h2.1v2.1h-2.1zM464.8 83.1h2.1v2.1h-2.1zM464.7 60.1h2.1v2.1h-2.1zM464.9 70.0h2.1v2.1h-2.1zM465.0 81.7h2.1v2.1h-2.1zM465.1 67.5h2.1v2.1h-2.1zM465.1 76.6h2.1v2.1h-2.1zM465.0 69.4h2.1v2.1h-2.1zM465.6 66.9h2.1v2.1h-2.1zM465.8 69.2h2.1v2.1h-2.1zM465.8 51.6h2.1v2.1h-2.1zM465.8 77.4h2.1v2.1h-2.1zM465.8 74.3h2.1v2.1h-2.1zM465.8 72.3h2.1v2.1h-2.1zM466.1 60.5h2.1v2.1h-2.1zM466.3 60.0h2.1v2.1h-2.1zM466.4 60.3h2.1v2.1h-2.1zM466.5 64.7h2.1v2.1h-2.1zM466.6 72.9h2.1v2.1h-2.1zM466.6 61.7h2.1v2.1h-2.1zM466.5 60.0h2.1v2.1h-2.1zM466.5 75.2h2.1v2.1h-2.1zM466.9 68.1h2.1v2.1h-2.1zM467.6 60.3h2.1v2.1h-2.1zM467.8 76.4h2.1v2.1h-2.1zM467.7 79.0h2.1v2.1h-2.1zM467.8 77.2h2.1v2.1h-2.1zM468.0 77.6h2.1v2.1h-2.1zM468.4 64.7h2.1v2.1h-2.1zM468.3 57.5h2.1v2.1h-2.1zM469.1 50.6h2.1v2.1h-2.1zM469.1 67.5h2.1v2.1h-2.1zM469.3 71.8h2.1v2.1h-2.1zM469.6 53.0h2.1v2.1h-2.1zM469.6 59.0h2.1v2.1h-2.1zM470.0 64.6h2.1v2.1h-2.1zM470.1 49.1h2.1v2.1h-2.1zM470.0 66.8h2.1v2.1h-2.1zM470.2 62.4h2.1v2.1h-2.1zM470.2 63.1h2.1v2.1h-2.1zM470.7 58.9h2.1v2.1h-2.1zM470.5 73.1h2.1v2.1h-2.1zM470.7 72.2h2.1v2.1h-2.1zM470.9 59.0h2.1v2.1h-2.1zM471.0 56.1h2.1v2.1h-2.1zM471.4 68.2h2.1v2.1h-2.1zM471.4 64.0h2.1v2.1h-2.1zM471.5 69.3h2.1v2.1h-2.1zM471.8 63.8h2.1v2.1h-2.1zM472.4 32.5h2.1v2.1h-2.1zM472.7 49.6h2.1v2.1h-2.1zM472.6 67.3h2.1v2.1h-2.1zM472.5 66.5h2.1v2.1h-2.1zM472.9 60.6h2.1v2.1h-2.1zM474.2 65.2h2.1v2.1h-2.1zM474.1 47.1h2.1v2.1h-2.1zM474.0 56.0h2.1v2.1h-2.1zM474.4 49.1h2.1v2.1h-2.1zM474.8 60.9h2.1v2.1h-2.1zM474.7 43.6h2.1v2.1h-2.1zM475.1 60.4h2.1v2.1h-2.1zM475.1 53.3h2.1v2.1h-2.1zM475.2 48.8h2.1v2.1h-2.1zM475.7 50.4h2.1v2.1h-2.1zM476.0 60.6h2.1v2.1h-2.1zM476.6 63.2h2.1v2.1h-2.1zM476.9 50.7h2.1v2.1h-2.1zM477.1 59.7h2.1v2.1h-2.1zM477.6 58.6h2.1v2.1h-2.1zM477.6 65.8h2.1v2.1h-2.1zM477.6 59.2h2.1v2.1h-2.1zM477.7 65.0h2.1v2.1h-2.1zM477.9 57.3h2.1v2.1h-2.1zM478.1 48.7h2.1v2.1h-2.1zM478.1 67.7h2.1v2.1h-2.1zM478.0 68.6h2.1v2.1h-2.1zM478.5 54.4h2.1v2.1h-2.1zM478.7 60.7h2.1v2.1h-2.1zM479.0 53.9h2.1v2.1h-2.1zM479.5 58.9h2.1v2.1h-2.1zM479.6 56.2h2.1v2.1h-2.1zM480.1 57.1h2.1v2.1h-2.1zM480.2 56.8h2.1v2.1h-2.1zM480.2 33.1h2.1v2.1h-2.1zM481.4 60.0h2.1v2.1h-2.1zM481.8 40.9h2.1v2.1h-2.1zM483.4 50.7h2.1v2.1h-2.1zM483.6 45.0h2.1v2.1h-2.1zM484.1 49.7h2.1v2.1h-2.1zM484.3 58.0h2.1v2.1h-2.1zM484.4 62.8h2.1v2.1h-2.1zM485.1 66.4h2.1v2.1h-2.1zM485.6 38.4h2.1v2.1h-2.1zM485.6 59.8h2.1v2.1h-2.1zM485.7 37.3h2.1v2.1h-2.1zM485.8 53.0h2.1v2.1h-2.1zM485.7 31.0h2.1v2.1h-2.1zM487.5 55.0h2.1v2.1h-2.1zM488.5 64.3h2.1v2.1h-2.1zM488.9 47.3h2.1v2.1h-2.1zM489.0 51.0h2.1v2.1h-2.1zM490.0 51.4h2.1v2.1h-2.1zM490.3 28.5h2.1v2.1h-2.1zM491.8 54.0h2.1v2.1h-2.1zM492.4 51.8h2.1v2.1h-2.1zM493.3 51.0h2.1v2.1h-2.1zM494.2 33.5h2.1v2.1h-2.1zM494.8 32.3h2.1v2.1h-2.1zM496.8 38.9h2.1v2.1h-2.1zM497.8 40.3h2.1v2.1h-2.1zM497.9 41.5h2.1v2.1h-2.1zM499.9 27.8h2.1v2.1h-2.1zM501.3 52.8h2.1v2.1h-2.1zM502.4 44.3h2.1v2.1h-2.1zM502.4 43.5h2.1v2.1h-2.1zM505.3 38.1h2.1v2.1h-2.1zM505.7 27.2h2.1v2.1h-2.1zM511.1 47.1h2.1v2.1h-2.1zM512.1 34.5h2.1v2.1h-2.1zM512.6 44.5h2.1v2.1h-2.1zM515.4 24.8h2.1v2.1h-2.1zM516.7 32.8h2.1v2.1h-2.1zM518.8 28.8h2.1v2.1h-2.1zM519.5 24.1h2.1v2.1h-2.1zM521.5 29.6h2.1v2.1h-2.1zM527.5 37.1h2.1v2.1h-2.1zM457.1 73.6h2.1v2.1h-2.1zM483.7 31.3h2.1v2.1h-2.1zM474.1 53.8h2.1v2.1h-2.1zM458.8 61.9h2.1v2.1h-2.1zM456.4 67.0h2.1v2.1h-2.1zM485.0 43.6h2.1v2.1h-2.1zM495.6 36.1h2.1v2.1h-2.1zM490.8 35.7h2.1v2.1h-2.1zM486.9 29.8h2.1v2.1h-2.1zM479.9 57.5h2.1v2.1h-2.1zM437.2 65.6h2.1v2.1h-2.1zM441.9 74.2h2.1v2.1h-2.1zM466.9 68.7h2.1v2.1h-2.1zM449.4 79.4h2.1v2.1h-2.1zM484.9 32.7h2.1v2.1h-2.1zM467.2 53.0h2.1v2.1h-2.1zM453.5 71.5h2.1v2.1h-2.1zM481.2 36.0h2.1v2.1h-2.1zM496.0 31.9h2.1v2.1h-2.1zM453.3 48.4h2.1v2.1h-2.1zM466.0 62.3h2.1v2.1h-2.1zM478.7 53.3h2.1v2.1h-2.1zM459.7 62.8h2.1v2.1h-2.1zM470.0 47.6h2.1v2.1h-2.1zM475.0 36.0h2.1v2.1h-2.1zM461.2 47.3h2.1v2.1h-2.1zM450.6 56.6h2.1v2.1h-2.1zM480.8 49.8h2.1v2.1h-2.1zM441.4 77.9h2.1v2.1h-2.1zM467.2 53.6h2.1v2.1h-2.1zM476.6 38.6h2.1v2.1h-2.1zM470.9 37.3h2.1v2.1h-2.1zM490.6 27.0h2.1v2.1h-2.1zM446.1 69.2h2.1v2.1h-2.1zM478.0 58.0h2.1v2.1h-2.1zM449.5 58.9h2.1v2.1h-2.1zM462.0 72.4h2.1v2.1h-2.1zM451.3 60.3h2.1v2.1h-2.1zM463.4 45.7h2.1v2.1h-2.1zM472.1 54.6h2.1v2.1h-2.1zM445.0 62.3h2.1v2.1h-2.1zM448.9 70.9h2.1v2.1h-2.1zM439.5 77.6h2.1v2.1h-2.1zM491.7 42.1h2.1v2.1h-2.1zM478.2 58.1h2.1v2.1h-2.1zM461.7 53.2h2.1v2.1h-2.1zM452.5 55.5h2.1v2.1h-2.1zM453.3 79.8h2.1v2.1h-2.1zM462.0 53.4h2.1v2.1h-2.1zM461.0 53.4h2.1v2.1h-2.1zM470.3 55.4h2.1v2.1h-2.1zM499.8 32.7h2.1v2.1h-2.1zM498.4 28.0h2.1v2.1h-2.1zM460.1 64.8h2.1v2.1h-2.1zM437.6 77.7h2.1v2.1h-2.1zM479.5 54.2h2.1v2.1h-2.1zM465.3 62.8h2.1v2.1h-2.1zM490.7 44.8h2.1v2.1h-2.1zM444.3 79.6h2.1v2.1h-2.1zM489.5 41.7h2.1v2.1h-2.1zM496.9 32.5h2.1v2.1h-2.1zM483.0 55.0h2.1v2.1h-2.1zM449.4 61.9h2.1v2.1h-2.1zM491.1 39.5h2.1v2.1h-2.1zM459.3 51.0h2.1v2.1h-2.1zM440.8 83.2h2.1v2.1h-2.1zM468.4 57.6h2.1v2.1h-2.1zM467.8 38.8h2.1v2.1h-2.1zM478.4 57.4h2.1v2.1h-2.1zM495.4 38.6h2.1v2.1h-2.1zM458.7 70.9h2.1v2.1h-2.1zM443.5 60.0h2.1v2.1h-2.1zM472.4 52.7h2.1v2.1h-2.1zM445.5 80.8h2.1v2.1h-2.1zM498.9 34.4h2.1v2.1h-2.1zM462.3 69.1h2.1v2.1h-2.1zM462.9 66.7h2.1v2.1h-2.1zM443.3 82.1h2.1v2.1h-2.1zM488.1 50.8h2.1v2.1h-2.1zM472.7 54.6h2.1v2.1h-2.1zM484.6 36.6h2.1v2.1h-2.1zM442.3 78.9h2.1v2.1h-2.1zM460.6 56.3h2.1v2.1h-2.1zM467.3 59.5h2.1v2.1h-2.1zM466.5 50.1h2.1v2.1h-2.1zM475.2 39.9h2.1v2.1h-2.1zM475.7 55.1h2.1v2.1h-2.1zM462.1 58.3h2.1v2.1h-2.1zM461.2 47.5h2.1v2.1h-2.1zM466.4 64.9h2.1v2.1h-2.1zM467.6 42.4h2.1v2.1h-2.1zM483.8 49.8h2.1v2.1h-2.1zM447.7 68.8h2.1v2.1h-2.1zM481.7 39.2h2.1v2.1h-2.1zM456.5 56.4h2.1v2.1h-2.1zM473.7 32.8h2.1v2.1h-2.1zM463.4 71.0h2.1v2.1h-2.1zM461.4 66.5h2.1v2.1h-2.1zM453.1 74.9h2.1v2.1h-2.1zM441.3 62.0h2.1v2.1h-2.1zM471.1 51.1h2.1v2.1h-2.1zM442.7 85.6h2.1v2.1h-2.1zM447.1 62.0h2.1v2.1h-2.1zM443.6 81.6h2.1v2.1h-2.1zM449.4 67.0h2.1v2.1h-2.1zM474.8 42.8h2.1v2.1h-2.1zM470.3 48.5h2.1v2.1h-2.1zM476.9 33.6h2.1v2.1h-2.1zM460.6 64.4h2.1v2.1h-2.1zM455.8 60.0h2.1v2.1h-2.1zM448.9 70.4h2.1v2.1h-2.1zM452.4 59.0h2.1v2.1h-2.1zM484.9 47.5h2.1v2.1h-2.1zM444.3 79.1h2.1v2.1h-2.1zM458.7 56.0h2.1v2.1h-2.1zM474.4 49.1h2.1v2.1h-2.1zM494.0 26.5h2.1v2.1h-2.1zM485.5 48.8h2.1v2.1h-2.1zM447.1 62.5h2.1v2.1h-2.1zM492.9 33.4h2.1v2.1h-2.1zM475.7 50.4h2.1v2.1h-2.1zM450.2 82.5h2.1v2.1h-2.1zM445.9 62.5h2.1v2.1h-2.1zM470.7 65.9h2.1v2.1h-2.1zM465.7 59.3h2.1v2.1h-2.1zM447.6 81.4h2.1v2.1h-2.1zM460.5 65.7h2.1v2.1h-2.1zM444.5 64.4h2.1v2.1h-2.1zM473.7 44.4h2.1v2.1h-2.1zM448.6 68.6h2.1v2.1h-2.1zM446.9 63.1h2.1v2.1h-2.1zM460.7 61.6h2.1v2.1h-2.1zM443.7 70.5h2.1v2.1h-2.1zM475.5 45.8h2.1v2.1h-2.1zM446.9 54.0h2.1v2.1h-2.1zM445.8 60.3h2.1v2.1h-2.1zM444.9 59.4h2.1v2.1h-2.1zM439.7 69.6h2.1v2.1h-2.1zM460.6 61.4h2.1v2.1h-2.1zM456.4 68.3h2.1v2.1h-2.1zM462.8 64.5h2.1v2.1h-2.1zM457.8 77.3h2.1v2.1h-2.1zM443.8 75.4h2.1v2.1h-2.1zM480.0 39.3h2.1v2.1h-2.1zM452.6 47.9h2.1v2.1h-2.1zM448.6 66.7h2.1v2.1h-2.1zM433.1 75.1h2.1v2.1h-2.1zM464.4 44.5h2.1v2.1h-2.1zM458.9 74.4h2.1v2.1h-2.1zM454.4 62.0h2.1v2.1h-2.1zM472.8 33.7h2.1v2.1h-2.1zM456.8 78.2h2.1v2.1h-2.1zM465.9 39.5h2.1v2.1h-2.1zM450.7 61.5h2.1v2.1h-2.1zM455.6 79.1h2.1v2.1h-2.1zM473.1 34.4h2.1v2.1h-2.1zM448.8 54.1h2.1v2.1h-2.1zM451.0 65.8h2.1v2.1h-2.1zM452.3 52.7h2.1v2.1h-2.1zM466.5 67.6h2.1v2.1h-2.1zM457.4 55.7h2.1v2.1h-2.1zM460.7 70.8h2.1v2.1h-2.1zM490.3 33.9h2.1v2.1h-2.1zM465.7 63.9h2.1v2.1h-2.1zM445.2 71.5h2.1v2.1h-2.1zM440.3 82.2h2.1v2.1h-2.1zM495.5 37.0h2.1v2.1h-2.1zM441.6 69.5h2.1v2.1h-2.1zM468.3 38.7h2.1v2.1h-2.1zM480.5 33.0h2.1v2.1h-2.1zM444.5 62.4h2.1v2.1h-2.1zM475.3 63.2h2.1v2.1h-2.1zM475.7 52.3h2.1v2.1h-2.1zM456.8 63.0h2.1v2.1h-2.1zM460.9 60.7h2.1v2.1h-2.1zM455.7 75.9h2.1v2.1h-2.1zM475.2 39.6h2.1v2.1h-2.1zM455.6 70.7h2.1v2.1h-2.1zM474.6 36.0h2.1v2.1h-2.1zM501.7 30.7h2.1v2.1h-2.1zM461.6 63.9h2.1v2.1h-2.1zM452.6 53.5h2.1v2.1h-2.1zM472.8 62.5h2.1v2.1h-2.1zM461.9 71.8h2.1v2.1h-2.1zM450.2 79.6h2.1v2.1h-2.1zM475.4 34.3h2.1v2.1h-2.1zM462.2 41.8h2.1v2.1h-2.1zM451.8 77.5h2.1v2.1h-2.1zM484.1 39.2h2.1v2.1h-2.1zM455.9 44.3h2.1v2.1h-2.1zM443.5 65.5h2.1v2.1h-2.1zM461.6 66.0h2.1v2.1h-2.1zM481.4 50.2h2.1v2.1h-2.1zM450.7 60.3h2.1v2.1h-2.1zM446.2 75.7h2.1v2.1h-2.1zM464.3 64.9h2.1v2.1h-2.1zM491.7 35.1h2.1v2.1h-2.1zM443.4 85.4h2.1v2.1h-2.1zM474.8 35.4h2.1v2.1h-2.1zM491.0 28.6h2.1v2.1h-2.1zM510.9 69.5h2.1v2.1h-2.1zM523.0 89.7h2.1v2.1h-2.1zM497.9 82.5h2.1v2.1h-2.1zM489.8 88.5h2.1v2.1h-2.1zM484.9 95.5h2.1v2.1h-2.1zM483.9 108.5h2.1v2.1h-2.1zM496.9 101.5h2.1v2.1h-2.1zM478.9 101.5h2.1v2.1h-2.1zM474.4 104.0h2.1v2.1h-2.1zM469.6 99.0h2.1v2.1h-2.1zM471.9 88.5h2.1v2.1h-2.1zM464.9 87.4h2.1v2.1h-2.1zM462.6 93.2h2.1v2.1h-2.1zM456.6 96.8h2.1v2.1h-2.1zM454.3 115.7h2.1v2.1h-2.1zM445.9 121.5h2.1v2.1h-2.1zM448.4 117.0h2.1v2.1h-2.1zM443.6 108.5h2.1v2.1h-2.1zM482.6 72.0h2.1v2.1h-2.1zM486.2 68.5h2.1v2.1h-2.1zM513.8 27.6h2.1v2.1h-2.1zM523.0 26.1h2.1v2.1h-2.1zM508.3 31.4h2.1v2.1h-2.1zM511.4 36.9h2.1v2.1h-2.1zM519.2 38.4h2.1v2.1h-2.1zM523.8 41.5h2.1v2.1h-2.1zM519.2 47.7h2.1v2.1h-2.1zM505.2 46.1h2.1v2.1h-2.1zM500.6 46.9h2.1v2.1h-2.1zM498.3 53.1h2.1v2.1h-2.1zM503.8 60.0h2.1v2.1h-2.1zM495.2 58.5h2.1v2.1h-2.1zM489.8 51.5h2.1v2.1h-2.1zM490.6 55.4h2.1v2.1h-2.1zM503.8 26.1h2.1v2.1h-2.1zM498.3 26.8h2.1v2.1h-2.1zM499.9 29.9h2.1v2.1h-2.1zM493.8 33.8h2.1v2.1h-2.1zM495.2 42.2h2.1v2.1h-2.1zM425.9 140.6h2.1v2.1h-2.1zM434.1 99.2h2.1v2.1h-2.1zM429.2 131.9h2.1v2.1h-2.1zM393.3 144.1h2.1v2.1h-2.1zM421.1 142.1h2.1v2.1h-2.1zM379.2 137.9h2.1v2.1h-2.1zM442.2 117.2h2.1v2.1h-2.1zM370.9 147.1h2.1v2.1h-2.1zM431.0 112.3h2.1v2.1h-2.1zM447.6 94.0h2.1v2.1h-2.1zM443.3 111.0h2.1v2.1h-2.1zM391.7 136.8h2.1v2.1h-2.1zM389.1 144.9h2.1v2.1h-2.1zM388.0 143.7h2.1v2.1h-2.1zM401.5 130.3h2.1v2.1h-2.1zM427.3 129.5h2.1v2.1h-2.1zM413.2 130.0h2.1v2.1h-2.1zM401.1 138.5h2.1v2.1h-2.1zM410.1 148.2h2.1v2.1h-2.1zM419.9 129.0h2.1v2.1h-2.1zM393.7 142.3h2.1v2.1h-2.1zM432.6 125.4h2.1v2.1h-2.1zM395.1 129.1h2.1v2.1h-2.1zM404.4 126.0h2.1v2.1h-2.1zM446.9 100.9h2.1v2.1h-2.1zM440.4 95.8h2.1v2.1h-2.1zM450.2 90.5h2.1v2.1h-2.1zM440.4 94.3h2.1v2.1h-2.1zM400.6 145.2h2.1v2.1h-2.1zM420.1 138.4h2.1v2.1h-2.1z" fill="#000"/>
<line x1="362.2" y1="153.6" x2="533.7" y2="24.3" stroke="#0000ff" stroke-width="1.1"/>
<rect x="362.2" y="24.3" width="171.50" height="129.30" fill="none" stroke="#000" stroke-width="1.4"/>
<path d="M362.20 153.6v-3.2M362.20 24.3v3.2M370.77 153.6v-1.6M370.77 24.3v1.6M379.35 153.6v-1.6M379.35 24.3v1.6M387.93 153.6v-1.6M387.93 24.3v1.6M396.50 153.6v-1.6M396.50 24.3v1.6M405.07 153.6v-3.2M405.07 24.3v3.2M413.65 153.6v-1.6M413.65 24.3v1.6M422.23 153.6v-1.6M422.23 24.3v1.6M430.80 153.6v-1.6M430.80 24.3v1.6M439.38 153.6v-1.6M439.38 24.3v1.6M447.95 153.6v-3.2M447.95 24.3v3.2M456.53 153.6v-1.6M456.53 24.3v1.6M465.10 153.6v-1.6M465.10 24.3v1.6M473.68 153.6v-1.6M473.68 24.3v1.6M482.25 153.6v-1.6M482.25 24.3v1.6M490.83 153.6v-3.2M490.83 24.3v3.2M499.40 153.6v-1.6M499.40 24.3v1.6M507.98 153.6v-1.6M507.98 24.3v1.6M516.55 153.6v-1.6M516.55 24.3v1.6M525.12 153.6v-1.6M525.12 24.3v1.6M533.70 153.6v-3.2M533.70 24.3v3.2M362.2 153.60h3.2M533.7 153.60h-3.2M362.2 147.13h1.6M533.7 147.13h-1.6M362.2 140.67h1.6M533.7 140.67h-1.6M362.2 134.20h1.6M533.7 134.20h-1.6M362.2 127.74h1.6M533.7 127.74h-1.6M362.2 121.28h3.2M533.7 121.28h-3.2M362.2 114.81h1.6M533.7 114.81h-1.6M362.2 108.34h1.6M533.7 108.34h-1.6M362.2 101.88h1.6M533.7 101.88h-1.6M362.2 95.42h1.6M533.7 95.42h-1.6M362.2 88.95h3.2M533.7 88.95h-3.2M362.2 82.48h1.6M533.7 82.48h-1.6M362.2 76.02h1.6M533.7 76.02h-1.6M362.2 69.56h1.6M533.7 69.56h-1.6M362.2 63.09h1.6M533.7 63.09h-1.6M362.2 56.62h3.2M533.7 56.62h-3.2M362.2 50.16h1.6M533.7 50.16h-1.6M362.2 43.69h1.6M533.7 43.69h-1.6M362.2 37.23h1.6M533.7 37.23h-1.6M362.2 30.77h1.6M533.7 30.77h-1.6M362.2 24.30h3.2M533.7 24.30h-3.2" stroke="#000" stroke-width="1.2" fill="none"/>
<text transform="translate(334.33,34.45) scale(1.104,1)" font-size="15.07" fill="#000" stroke="#000" stroke-width="0.18">3.0</text>
<text transform="translate(334.16,62.25) scale(1.134,1)" font-size="14.79" fill="#000" stroke="#000" stroke-width="0.18">2.5</text>
<text transform="translate(334.16,94.65) scale(1.113,1)" font-size="15.07" fill="#000" stroke="#000" stroke-width="0.18">2.0</text>
<text transform="translate(333.72,127.54) scale(1.088,1)" font-size="15.71" fill="#000" stroke="#000" stroke-width="0.18">1.5</text>
<text transform="translate(333.72,154.35) scale(1.167,1)" font-size="14.65" fill="#000" stroke="#000" stroke-width="0.17">1.0</text>
<text transform="translate(349.85,174.66) scale(1.207,1)" font-size="14.37" fill="#000" stroke="#000" stroke-width="0.17">1.0</text>
<text transform="translate(392.72,174.65) scale(1.190,1)" font-size="14.57" fill="#000" stroke="#000" stroke-width="0.17">1.5</text>
<text transform="translate(436.05,174.66) scale(1.183,1)" font-size="14.37" fill="#000" stroke="#000" stroke-width="0.17">2.0</text>
<text transform="translate(478.93,174.66) scale(1.183,1)" font-size="14.37" fill="#000" stroke="#000" stroke-width="0.17">2.5</text>
<text transform="translate(521.98,174.66) scale(1.174,1)" font-size="14.37" fill="#000" stroke="#000" stroke-width="0.17">3.0</text>
<text transform="translate(437.61,193.00) scale(1.015,1)" font-size="14.71" fill="#000" stroke="#000" stroke-width="0.20">N2</text>
<text transform="translate(321.60,102.37) rotate(-90) scale(0.941,1)" font-size="14.20" fill="#000">ATH</text>
<text transform="translate(65.98,15.05) scale(0.986,1)" font-size="15.43" fill="#000" stroke="#000" stroke-width="0.20">Ne</text>
<path d="M99.6 2.6H96.9V19.2H99.6" fill="none" stroke="#000" stroke-width="1.3"/>
<text transform="translate(102.38,15.20) scale(1.040,1)" font-size="13.96" fill="#000" stroke="#000" stroke-width="0.19">x</text>
<text transform="translate(120.05,15.44) scale(1.111,1)" font-size="16.20" fill="#000" stroke="#000" stroke-width="0.18">10</text>
<text transform="translate(139.30,7.09) scale(1.236,1)" font-size="10.85" fill="#000" stroke="#000" stroke-width="0.16">8</text>
<text transform="translate(154.14,15.65) scale(1.319,1)" font-size="14.55" fill="#000" stroke="#000" stroke-width="0.15">cm</text>
<rect x="181.3" y="4.0" width="5.1" height="1.1" fill="#000"/>
<text transform="translate(187.12,8.29) scale(1.085,1)" font-size="10.99" fill="#000" stroke="#000" stroke-width="0.18">3</text>
<path d="M196.2 2.4H198.9V19.0H196.2" fill="none" stroke="#000" stroke-width="1.3"/>
<path d="M202.5 18.8L211.3 2.4" fill="none" stroke="#000" stroke-width="1.3"/>
<text transform="translate(212.40,15.53) scale(1.045,1)" font-size="17.01" fill="#000" stroke="#000" stroke-width="0.19">closed</text>
<text transform="translate(382.19,15.20) scale(0.973,1)" font-size="16.09" fill="#000" stroke="#000" stroke-width="0.21">Tm</text>
<path d="M418.3 2.5H415.7V19.0H418.3" fill="none" stroke="#000" stroke-width="1.3"/>
<text transform="translate(419.86,15.20) scale(0.965,1)" font-size="16.09" fill="#000" stroke="#000" stroke-width="0.21">MK</text>
<path d="M445.3 2.5H448.0V19.0H445.3" fill="none" stroke="#000" stroke-width="1.3"/>
<path d="M451.4 18.8L461.2 2.4" fill="none" stroke="#000" stroke-width="1.3"/>
<text transform="translate(462.40,15.63) scale(1.060,1)" font-size="16.73" fill="#000" stroke="#000" stroke-width="0.19">closed</text>
<text transform="translate(190.62,150.00) scale(1.080,1)" font-size="15.73" fill="#0000ff" font-style="italic" stroke="#0000ff" stroke-width="0.19">ρ</text>
<text transform="translate(200.03,149.85) scale(1.180,1)" font-size="14.79" fill="#0000ff" stroke="#0000ff" stroke-width="0.17">=0.99</text>
<text transform="translate(473.32,150.00) scale(1.080,1)" font-size="15.73" fill="#0000ff" font-style="italic" stroke="#0000ff" stroke-width="0.19">ρ</text>
<text transform="translate(482.73,149.85) scale(1.178,1)" font-size="14.79" fill="#0000ff" stroke="#0000ff" stroke-width="0.17">=0.90</text>
<rect x="79.5" y="218.6" width="171.50" height="129.50" fill="none" stroke="#c4c4c4" stroke-width="1.1"/>
<path d="M87.20 348.1v1.2M87.20 218.6v1.2M95.60 348.1v2.8M95.60 218.6v2.8M104.00 348.1v1.2M104.00 218.6v1.2M112.40 348.1v1.2M112.40 218.6v1.2M120.80 348.1v1.2M120.80 218.6v1.2M129.20 348.1v2.8M129.20 218.6v2.8M137.60 348.1v1.2M137.60 218.6v1.2M146.00 348.1v1.2M146.00 218.6v1.2M154.40 348.1v1.2M154.40 218.6v1.2M162.80 348.1v2.8M162.80 218.6v2.8M171.20 348.1v1.2M171.20 218.6v1.2M179.60 348.1v1.2M179.60 218.6v1.2M188.00 348.1v1.2M188.00 218.6v1.2M196.40 348.1v2.8M196.40 218.6v2.8M204.80 348.1v1.2M204.80 218.6v1.2M213.20 348.1v1.2M213.20 218.6v1.2M221.60 348.1v1.2M221.60 218.6v1.2M230.00 348.1v2.8M230.00 218.6v2.8M238.40 348.1v1.2M238.40 218.6v1.2M246.80 348.1v1.2M246.80 218.6v1.2M79.5 347.80h3.2M251.0 347.80h-3.2M79.5 323.44h3.2M251.0 323.44h-3.2M79.5 299.08h3.2M251.0 299.08h-3.2M79.5 274.72h3.2M251.0 274.72h-3.2M79.5 250.36h3.2M251.0 250.36h-3.2M79.5 226.00h3.2M251.0 226.00h-3.2" stroke="#c4c4c4" stroke-width="1.0" fill="none"/>
<rect x="138.35" y="347.20" width="5.03" height="0.90" fill="#ffe1e1" stroke="#f7c6c6" stroke-width="0.9"/>
<rect x="143.38" y="345.20" width="5.03" height="2.90" fill="#ffe1e1" stroke="#f7c6c6" stroke-width="0.9"/>
<rect x="148.41" y="329.20" width="5.03" height="18.90" fill="#ffe1e1" stroke="#f7c6c6" stroke-width="0.9"/>
<rect x="153.44" y="279.60" width="5.03" height="68.50" fill="#ffe1e1" stroke="#f7c6c6" stroke-width="0.9"/>
<rect x="158.47" y="223.80" width="5.03" height="124.30" fill="#ffe1e1" stroke="#f7c6c6" stroke-width="0.9"/>
<rect x="163.50" y="323.90" width="5.03" height="24.20" fill="#ffe1e1" stroke="#f7c6c6" stroke-width="0.9"/>
<rect x="168.53" y="343.10" width="5.03" height="5.00" fill="#ffe1e1" stroke="#f7c6c6" stroke-width="0.9"/>
<rect x="173.56" y="347.20" width="5.03" height="0.90" fill="#ffe1e1" stroke="#f7c6c6" stroke-width="0.9"/>
<path d="M133.32 347.80H138.35M178.59 347.80H183.62M183.62 347.80H188.65M188.65 347.80H193.68M193.68 347.80H198.71M198.71 347.80H203.74M203.74 347.80H208.77M208.77 347.80H213.80M213.80 347.80H218.83M218.83 347.80H223.86" stroke="#f7c6c6" stroke-width="1" fill="none"/>
<line x1="162.8" y1="218.6" x2="162.8" y2="348.1" stroke="#0000ff" stroke-width="1.5"/>
<text transform="translate(84.19,372.16) scale(1.158,1)" font-size="14.23" fill="#000" stroke="#000" stroke-width="0.17">0.6</text>
<text transform="translate(117.79,372.16) scale(1.154,1)" font-size="14.23" fill="#000" stroke="#000" stroke-width="0.17">0.8</text>
<text transform="translate(150.79,372.16) scale(1.185,1)" font-size="14.23" fill="#000" stroke="#000" stroke-width="0.17">1.0</text>
<text transform="translate(184.38,372.30) scale(1.178,1)" font-size="14.43" fill="#000" stroke="#000" stroke-width="0.17">1.2</text>
<text transform="translate(218.00,372.30) scale(1.143,1)" font-size="14.64" fill="#000" stroke="#000" stroke-width="0.17">1.4</text>
<text transform="translate(23.53,348.85) scale(1.137,1)" font-size="14.79" fill="#000" stroke="#000" stroke-width="0.18">0.0000</text>
<text transform="translate(23.53,329.69) scale(1.126,1)" font-size="14.93" fill="#000" stroke="#000" stroke-width="0.18">0.1000</text>
<text transform="translate(23.53,305.33) scale(1.126,1)" font-size="14.93" fill="#000" stroke="#000" stroke-width="0.18">0.2000</text>
<text transform="translate(23.53,280.97) scale(1.126,1)" font-size="14.93" fill="#000" stroke="#000" stroke-width="0.18">0.3000</text>
<text transform="translate(23.53,256.61) scale(1.126,1)" font-size="14.93" fill="#000" stroke="#000" stroke-width="0.18">0.4000</text>
<text transform="translate(23.53,232.75) scale(1.116,1)" font-size="15.07" fill="#000" stroke="#000" stroke-width="0.18">0.5000</text>
<text transform="translate(115.10,389.96) scale(1.198,1)" font-size="13.61" fill="#000" stroke="#000" stroke-width="0.17">Rɑtio ATH/N2</text>
<text transform="translate(12.40,351.04) rotate(-90) scale(1.074,1)" font-size="14.48" fill="#000">Relative Frequency</text>
<rect x="362.2" y="218.6" width="171.50" height="129.40" fill="none" stroke="#c4c4c4" stroke-width="1.1"/>
<path d="M369.90 348.0v1.2M369.90 218.6v1.2M378.30 348.0v2.8M378.30 218.6v2.8M386.70 348.0v1.2M386.70 218.6v1.2M395.10 348.0v1.2M395.10 218.6v1.2M403.50 348.0v1.2M403.50 218.6v1.2M411.90 348.0v2.8M411.90 218.6v2.8M420.30 348.0v1.2M420.30 218.6v1.2M428.70 348.0v1.2M428.70 218.6v1.2M437.10 348.0v1.2M437.10 218.6v1.2M445.50 348.0v2.8M445.50 218.6v2.8M453.90 348.0v1.2M453.90 218.6v1.2M462.30 348.0v1.2M462.30 218.6v1.2M470.70 348.0v1.2M470.70 218.6v1.2M479.10 348.0v2.8M479.10 218.6v2.8M487.50 348.0v1.2M487.50 218.6v1.2M495.90 348.0v1.2M495.90 218.6v1.2M504.30 348.0v1.2M504.30 218.6v1.2M512.70 348.0v2.8M512.70 218.6v2.8M521.10 348.0v1.2M521.10 218.6v1.2M529.50 348.0v1.2M529.50 218.6v1.2M362.2 347.80h3.2M533.7 347.80h-3.2M362.2 326.60h3.2M533.7 326.60h-3.2M362.2 305.40h3.2M533.7 305.40h-3.2M362.2 284.20h3.2M533.7 284.20h-3.2M362.2 263.00h3.2M533.7 263.00h-3.2M362.2 241.80h3.2M533.7 241.80h-3.2M362.2 220.60h3.2M533.7 220.60h-3.2" stroke="#c4c4c4" stroke-width="1.0" fill="none"/>
<rect x="385.84" y="347.30" width="5.03" height="0.70" fill="#ffe1e1" stroke="#f7c6c6" stroke-width="0.9"/>
<rect x="390.87" y="347.30" width="5.03" height="0.70" fill="#ffe1e1" stroke="#f7c6c6" stroke-width="0.9"/>
<rect x="400.93" y="347.30" width="5.03" height="0.70" fill="#ffe1e1" stroke="#f7c6c6" stroke-width="0.9"/>
<rect x="405.96" y="347.30" width="5.03" height="0.70" fill="#ffe1e1" stroke="#f7c6c6" stroke-width="0.9"/>
<rect x="410.99" y="346.10" width="5.03" height="1.90" fill="#ffe1e1" stroke="#f7c6c6" stroke-width="0.9"/>
<rect x="416.02" y="344.40" width="5.03" height="3.60" fill="#ffe1e1" stroke="#f7c6c6" stroke-width="0.9"/>
<rect x="421.05" y="334.50" width="5.03" height="13.50" fill="#ffe1e1" stroke="#f7c6c6" stroke-width="0.9"/>
<rect x="426.08" y="317.10" width="5.03" height="30.90" fill="#ffe1e1" stroke="#f7c6c6" stroke-width="0.9"/>
<rect x="431.11" y="291.00" width="5.03" height="57.00" fill="#ffe1e1" stroke="#f7c6c6" stroke-width="0.9"/>
<rect x="436.14" y="224.30" width="5.03" height="123.70" fill="#ffe1e1" stroke="#f7c6c6" stroke-width="0.9"/>
<rect x="441.17" y="244.30" width="5.03" height="103.70" fill="#ffe1e1" stroke="#f7c6c6" stroke-width="0.9"/>
<rect x="446.20" y="316.20" width="5.03" height="31.80" fill="#ffe1e1" stroke="#f7c6c6" stroke-width="0.9"/>
<rect x="451.23" y="326.30" width="5.03" height="21.70" fill="#ffe1e1" stroke="#f7c6c6" stroke-width="0.9"/>
<rect x="456.26" y="333.20" width="5.03" height="14.80" fill="#ffe1e1" stroke="#f7c6c6" stroke-width="0.9"/>
<rect x="461.29" y="336.40" width="5.03" height="11.60" fill="#ffe1e1" stroke="#f7c6c6" stroke-width="0.9"/>
<rect x="466.32" y="340.40" width="5.03" height="7.60" fill="#ffe1e1" stroke="#f7c6c6" stroke-width="0.9"/>
<rect x="471.35" y="344.00" width="5.03" height="4.00" fill="#ffe1e1" stroke="#f7c6c6" stroke-width="0.9"/>
<rect x="476.38" y="346.20" width="5.03" height="1.80" fill="#ffe1e1" stroke="#f7c6c6" stroke-width="0.9"/>
<rect x="481.41" y="347.00" width="5.03" height="1.00" fill="#ffe1e1" stroke="#f7c6c6" stroke-width="0.9"/>
<rect x="486.44" y="347.00" width="5.03" height="1.00" fill="#ffe1e1" stroke="#f7c6c6" stroke-width="0.9"/>
<rect x="491.47" y="347.00" width="5.03" height="1.00" fill="#ffe1e1" stroke="#f7c6c6" stroke-width="0.9"/>
<path d="M395.90 347.70H400.93" stroke="#f7c6c6" stroke-width="1" fill="none"/>
<line x1="445.5" y1="218.6" x2="445.5" y2="348.0" stroke="#0000ff" stroke-width="1.5"/>
<text transform="translate(366.89,372.16) scale(1.158,1)" font-size="14.23" fill="#000" stroke="#000" stroke-width="0.17">0.6</text>
<text transform="translate(400.49,372.16) scale(1.154,1)" font-size="14.23" fill="#000" stroke="#000" stroke-width="0.17">0.8</text>
<text transform="translate(433.49,372.16) scale(1.185,1)" font-size="14.23" fill="#000" stroke="#000" stroke-width="0.17">1.0</text>
<text transform="translate(467.08,372.30) scale(1.178,1)" font-size="14.43" fill="#000" stroke="#000" stroke-width="0.17">1.2</text>
<text transform="translate(500.70,372.30) scale(1.143,1)" font-size="14.64" fill="#000" stroke="#000" stroke-width="0.17">1.4</text>
<text transform="translate(306.23,348.85) scale(1.137,1)" font-size="14.79" fill="#000" stroke="#000" stroke-width="0.18">0.0000</text>
<text transform="translate(306.23,332.85) scale(1.126,1)" font-size="14.93" fill="#000" stroke="#000" stroke-width="0.18">0.0500</text>
<text transform="translate(306.23,311.65) scale(1.126,1)" font-size="14.93" fill="#000" stroke="#000" stroke-width="0.18">0.1000</text>
<text transform="translate(306.23,290.45) scale(1.126,1)" font-size="14.93" fill="#000" stroke="#000" stroke-width="0.18">0.1500</text>
<text transform="translate(306.23,269.25) scale(1.126,1)" font-size="14.93" fill="#000" stroke="#000" stroke-width="0.18">0.2000</text>
<text transform="translate(306.23,248.05) scale(1.126,1)" font-size="14.93" fill="#000" stroke="#000" stroke-width="0.18">0.2500</text>
<text transform="translate(306.23,228.55) scale(1.126,1)" font-size="14.93" fill="#000" stroke="#000" stroke-width="0.18">0.3000</text>
<text transform="translate(397.80,389.96) scale(1.198,1)" font-size="13.61" fill="#000" stroke="#000" stroke-width="0.17">Rɑtio ATH/N2</text>
<text transform="translate(295.10,351.04) rotate(-90) scale(1.074,1)" font-size="14.48" fill="#000">Relative Frequency</text>
<text transform="translate(133.81,233.75) scale(0.979,1)" font-size="15.14" fill="#0000ff" stroke="#0000ff" stroke-width="0.10">Meɑn</text>
<text transform="translate(179.11,233.73) scale(1.351,1)" font-size="13.12" fill="#0000ff" stroke="#0000ff" stroke-width="0.07">=</text>
<text transform="translate(197.43,233.84) scale(1.067,1)" font-size="15.77" fill="#0000ff" stroke="#0000ff" stroke-width="0.09">0.98</text>
<text transform="translate(134.33,254.85) scale(0.991,1)" font-size="15.10" fill="#0000ff" stroke="#0000ff" stroke-width="0.10">Stdev</text>
<text transform="translate(181.31,254.73) scale(1.351,1)" font-size="13.12" fill="#0000ff" stroke="#0000ff" stroke-width="0.07">=</text>
<text transform="translate(192.94,254.94) scale(1.043,1)" font-size="15.77" fill="#0000ff" stroke="#0000ff" stroke-width="0.10">0.025</text>
<text transform="translate(416.71,233.75) scale(0.979,1)" font-size="15.14" fill="#0000ff" stroke="#0000ff" stroke-width="0.10">Meɑn</text>
<text transform="translate(462.01,233.73) scale(1.351,1)" font-size="13.12" fill="#0000ff" stroke="#0000ff" stroke-width="0.07">=</text>
<text transform="translate(480.32,233.84) scale(1.073,1)" font-size="15.77" fill="#0000ff" stroke="#0000ff" stroke-width="0.09">0.97</text>
<text transform="translate(417.23,254.85) scale(0.991,1)" font-size="15.10" fill="#0000ff" stroke="#0000ff" stroke-width="0.10">Stdev</text>
<text transform="translate(464.21,254.73) scale(1.351,1)" font-size="13.12" fill="#0000ff" stroke="#0000ff" stroke-width="0.07">=</text>
<text transform="translate(475.84,254.94) scale(1.045,1)" font-size="15.77" fill="#0000ff" stroke="#0000ff" stroke-width="0.10">0.063</text>
</svg></body></html>
